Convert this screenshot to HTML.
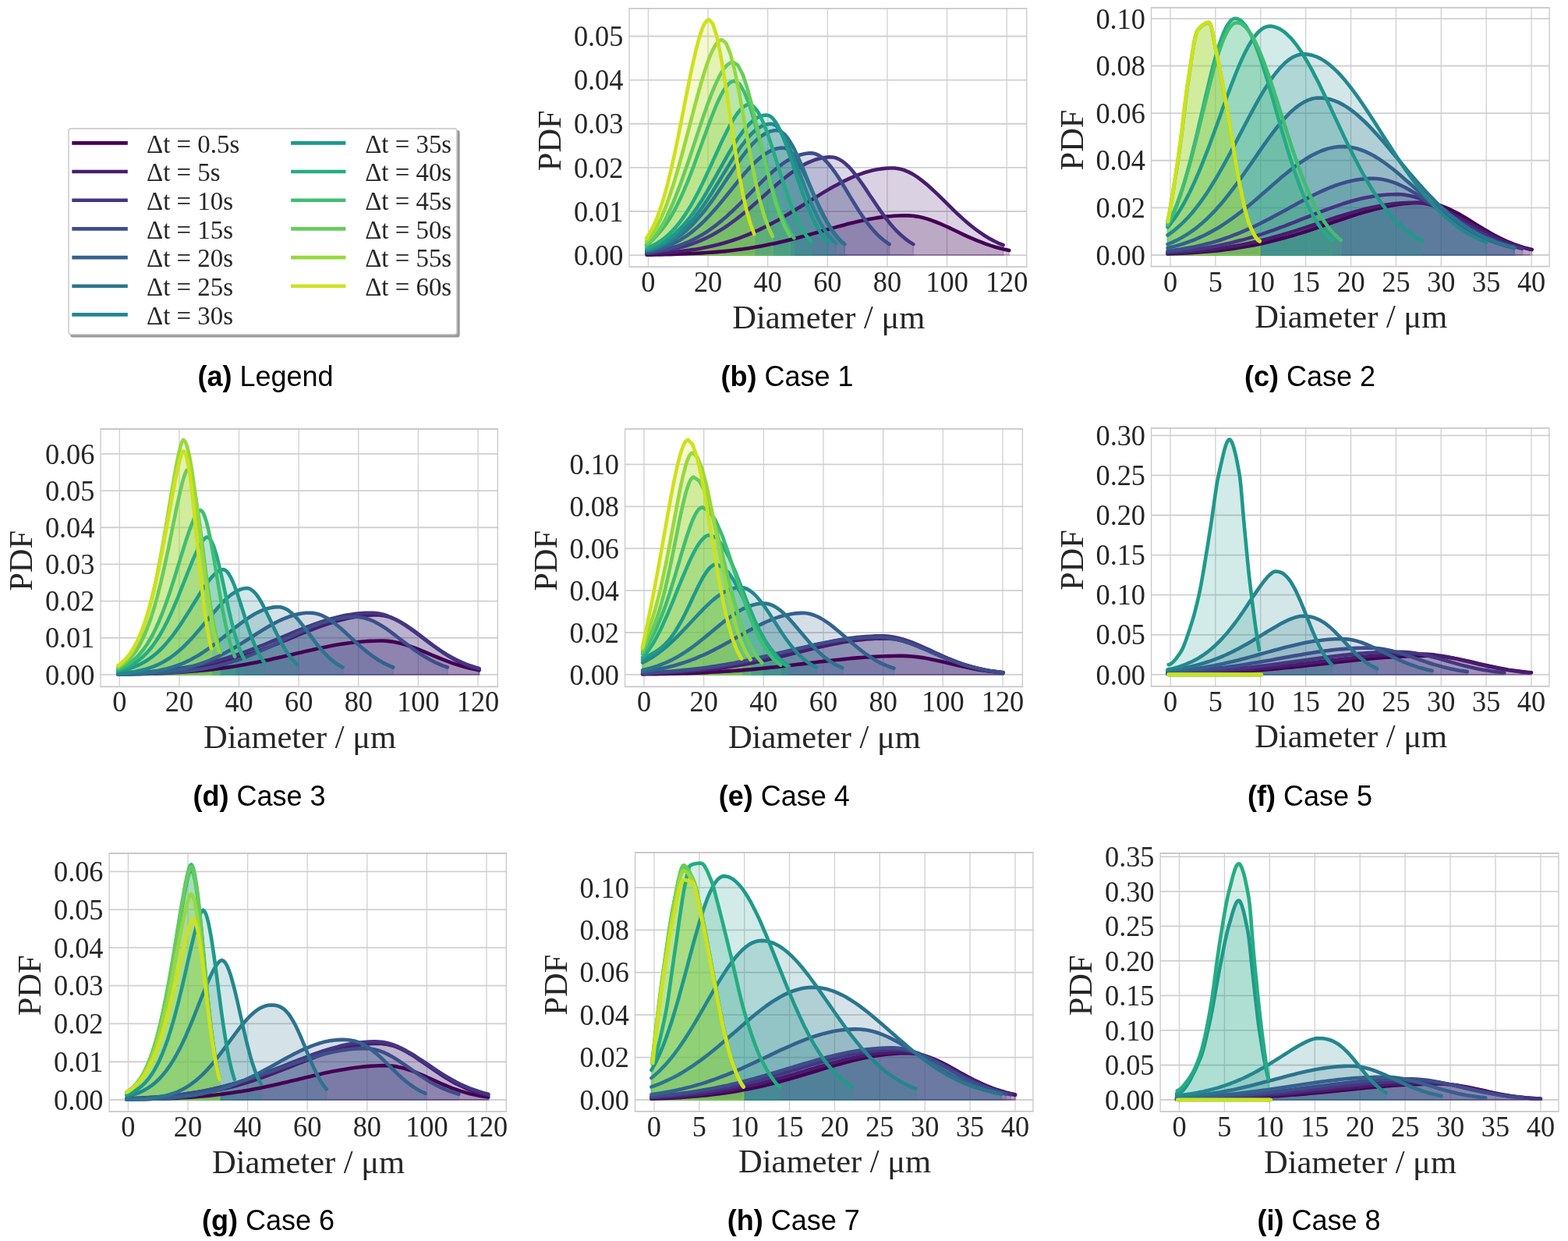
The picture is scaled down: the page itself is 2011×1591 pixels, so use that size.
<!DOCTYPE html><html><head><meta charset="utf-8"><style>html,body{margin:0;padding:0;background:#fff;}svg{display:block;}</style></head><body>
<svg xmlns="http://www.w3.org/2000/svg" width="2011" height="1591" viewBox="0 0 2011 1591">
<rect width="2011" height="1591" fill="#fff"/>
<g id="plot_b">
<clipPath id="clip_b"><rect x="807.0" y="10.9" width="509.70" height="331.30"/></clipPath>
<line x1="831.40" y1="10.9" x2="831.40" y2="342.2" stroke="#d0d0d0" stroke-width="1.3"/>
<line x1="908.03" y1="10.9" x2="908.03" y2="342.2" stroke="#d0d0d0" stroke-width="1.3"/>
<line x1="984.67" y1="10.9" x2="984.67" y2="342.2" stroke="#d0d0d0" stroke-width="1.3"/>
<line x1="1061.30" y1="10.9" x2="1061.30" y2="342.2" stroke="#d0d0d0" stroke-width="1.3"/>
<line x1="1137.93" y1="10.9" x2="1137.93" y2="342.2" stroke="#d0d0d0" stroke-width="1.3"/>
<line x1="1214.57" y1="10.9" x2="1214.57" y2="342.2" stroke="#d0d0d0" stroke-width="1.3"/>
<line x1="1291.20" y1="10.9" x2="1291.20" y2="342.2" stroke="#d0d0d0" stroke-width="1.3"/>
<line x1="807.0" y1="327.10" x2="1316.7" y2="327.10" stroke="#d0d0d0" stroke-width="1.8"/>
<line x1="807.0" y1="270.98" x2="1316.7" y2="270.98" stroke="#d0d0d0" stroke-width="1.8"/>
<line x1="807.0" y1="214.86" x2="1316.7" y2="214.86" stroke="#d0d0d0" stroke-width="1.8"/>
<line x1="807.0" y1="158.74" x2="1316.7" y2="158.74" stroke="#d0d0d0" stroke-width="1.8"/>
<line x1="807.0" y1="102.62" x2="1316.7" y2="102.62" stroke="#d0d0d0" stroke-width="1.8"/>
<line x1="807.0" y1="46.50" x2="1316.7" y2="46.50" stroke="#d0d0d0" stroke-width="1.8"/>
<g clip-path="url(#clip_b)">
<path d="M829.5,326.7 835.4,326.6 841.3,326.5 847.1,326.4 853.0,326.2 858.9,326.1 864.8,325.9 870.7,325.8 876.6,325.5 882.4,325.3 888.3,325.0 894.2,324.7 900.1,324.4 906.0,324.0 911.9,323.6 917.7,323.1 923.6,322.6 929.5,322.1 935.4,321.5 941.3,320.8 947.2,320.0 953.0,319.3 958.9,318.4 964.8,317.5 970.7,316.5 976.6,315.4 982.5,314.3 988.3,313.1 994.2,311.9 1000.1,310.6 1006.0,309.2 1011.9,307.7 1017.7,306.3 1023.6,304.7 1029.5,303.1 1035.4,301.5 1041.3,299.9 1047.2,298.2 1053.0,296.5 1058.9,294.9 1064.8,293.2 1070.7,291.6 1076.6,289.9 1082.5,288.4 1088.3,286.8 1094.2,285.4 1100.1,284.0 1106.0,282.7 1111.9,281.5 1117.8,280.4 1123.6,279.4 1129.5,278.6 1135.4,277.8 1141.3,277.2 1147.2,276.8 1153.1,276.5 1158.9,276.3 1164.8,276.4 1170.7,276.8 1176.6,277.6 1182.5,278.8 1188.4,280.4 1194.2,282.3 1200.1,284.5 1206.0,286.9 1211.9,289.5 1217.8,292.2 1223.7,295.0 1229.5,297.8 1235.4,300.6 1241.3,303.3 1247.2,305.9 1253.1,308.4 1259.0,310.7 1264.8,312.9 1270.7,314.9 1276.6,316.7 1282.5,318.3 1288.4,319.7 1294.3,320.9 1294.3,327.1 829.5,327.1Z" fill="#440154" fill-opacity="0.2" stroke="#440154" stroke-opacity="0.2" stroke-width="2"/>
<path d="M829.5,325.4 835.3,325.1 841.1,324.8 846.8,324.5 852.6,324.1 858.4,323.6 864.2,323.1 870.0,322.5 875.8,321.8 881.6,321.1 887.3,320.3 893.1,319.4 898.9,318.4 904.7,317.3 910.5,316.1 916.3,314.7 922.1,313.3 927.9,311.7 933.6,310.0 939.4,308.2 945.2,306.3 951.0,304.2 956.8,301.9 962.6,299.5 968.4,297.0 974.1,294.3 979.9,291.5 985.7,288.6 991.5,285.6 997.3,282.4 1003.1,279.1 1008.9,275.8 1014.6,272.3 1020.4,268.8 1026.2,265.3 1032.0,261.7 1037.8,258.1 1043.6,254.5 1049.4,250.9 1055.1,247.4 1060.9,243.9 1066.7,240.6 1072.5,237.4 1078.3,234.3 1084.1,231.4 1089.9,228.6 1095.7,226.1 1101.4,223.8 1107.2,221.8 1113.0,220.0 1118.8,218.5 1124.6,217.3 1130.4,216.4 1136.2,215.7 1141.9,215.5 1147.7,215.5 1153.5,216.4 1159.3,218.0 1165.1,220.4 1170.9,223.4 1176.7,227.1 1182.4,231.4 1188.2,236.1 1194.0,241.2 1199.8,246.6 1205.6,252.2 1211.4,257.9 1217.2,263.6 1223.0,269.3 1228.7,274.8 1234.5,280.1 1240.3,285.2 1246.1,290.0 1251.9,294.5 1257.7,298.7 1263.5,302.5 1269.2,305.9 1275.0,309.0 1280.8,311.8 1286.6,314.2 1286.6,327.1 829.5,327.1Z" fill="#481c6e" fill-opacity="0.2" stroke="#481c6e" stroke-opacity="0.2" stroke-width="2"/>
<path d="M829.5,324.3 833.8,323.9 838.1,323.4 842.5,322.9 846.8,322.3 851.1,321.6 855.4,320.9 859.8,320.1 864.1,319.2 868.4,318.2 872.7,317.1 877.1,316.0 881.4,314.7 885.7,313.3 890.1,311.7 894.4,310.1 898.7,308.3 903.0,306.4 907.4,304.3 911.7,302.1 916.0,299.8 920.3,297.3 924.7,294.6 929.0,291.9 933.3,289.0 937.6,285.9 942.0,282.7 946.3,279.4 950.6,276.0 954.9,272.5 959.3,268.9 963.6,265.2 967.9,261.5 972.3,257.7 976.6,253.8 980.9,250.0 985.2,246.1 989.6,242.3 993.9,238.5 998.2,234.8 1002.5,231.2 1006.9,227.7 1011.2,224.3 1015.5,221.1 1019.8,218.1 1024.2,215.2 1028.5,212.6 1032.8,210.2 1037.2,208.1 1041.5,206.3 1045.8,204.7 1050.1,203.4 1054.5,202.4 1058.8,201.8 1063.1,201.4 1067.4,201.5 1071.8,202.3 1076.1,204.1 1080.4,206.7 1084.7,210.2 1089.1,214.3 1093.4,219.2 1097.7,224.5 1102.0,230.3 1106.4,236.5 1110.7,242.9 1115.0,249.4 1119.4,255.9 1123.7,262.3 1128.0,268.6 1132.3,274.7 1136.7,280.5 1141.0,285.9 1145.3,291.0 1149.6,295.7 1154.0,300.0 1158.3,303.8 1162.6,307.3 1166.9,310.4 1171.3,313.1 1171.3,327.1 829.5,327.1Z" fill="#453581" fill-opacity="0.2" stroke="#453581" stroke-opacity="0.2" stroke-width="2"/>
<path d="M829.5,323.7 833.4,323.2 837.4,322.7 841.3,322.1 845.2,321.4 849.2,320.6 853.1,319.8 857.1,318.9 861.0,317.8 864.9,316.7 868.9,315.5 872.8,314.1 876.7,312.6 880.7,311.0 884.6,309.3 888.6,307.4 892.5,305.4 896.4,303.3 900.4,301.0 904.3,298.6 908.3,296.0 912.2,293.2 916.1,290.3 920.1,287.3 924.0,284.1 927.9,280.8 931.9,277.4 935.8,273.8 939.8,270.2 943.7,266.4 947.6,262.6 951.6,258.7 955.5,254.7 959.5,250.7 963.4,246.7 967.3,242.7 971.3,238.7 975.2,234.8 979.1,230.9 983.1,227.2 987.0,223.5 991.0,220.0 994.9,216.7 998.8,213.6 1002.8,210.6 1006.7,207.9 1010.6,205.4 1014.6,203.2 1018.5,201.3 1022.5,199.7 1026.4,198.4 1030.3,197.4 1034.3,196.7 1038.2,196.4 1042.2,196.4 1046.1,197.3 1050.0,199.1 1054.0,201.7 1057.9,205.1 1061.8,209.2 1065.8,214.0 1069.7,219.3 1073.7,225.0 1077.6,231.1 1081.5,237.5 1085.5,244.0 1089.4,250.6 1093.4,257.1 1097.3,263.5 1101.2,269.8 1105.2,275.7 1109.1,281.4 1113.0,286.7 1117.0,291.6 1120.9,296.2 1124.9,300.3 1128.8,304.1 1132.7,307.5 1136.7,310.4 1140.6,313.1 1140.6,327.1 829.5,327.1Z" fill="#3d4d8a" fill-opacity="0.2" stroke="#3d4d8a" stroke-opacity="0.2" stroke-width="2"/>
<path d="M829.5,322.6 832.7,322.0 835.9,321.4 839.1,320.6 842.3,319.8 845.5,318.9 848.7,317.9 852.0,316.9 855.2,315.7 858.4,314.4 861.6,313.0 864.8,311.5 868.0,309.9 871.2,308.2 874.4,306.3 877.6,304.3 880.9,302.1 884.1,299.8 887.3,297.4 890.5,294.8 893.7,292.1 896.9,289.3 900.1,286.3 903.3,283.2 906.5,279.9 909.8,276.5 913.0,273.0 916.2,269.4 919.4,265.7 922.6,261.9 925.8,258.1 929.0,254.1 932.2,250.2 935.4,246.2 938.7,242.2 941.9,238.2 945.1,234.2 948.3,230.3 951.5,226.4 954.7,222.6 957.9,219.0 961.1,215.4 964.3,212.0 967.6,208.8 970.8,205.8 974.0,203.0 977.2,200.4 980.4,198.1 983.6,196.0 986.8,194.2 990.0,192.7 993.2,191.4 996.4,190.5 999.7,189.9 1002.9,189.6 1006.1,189.8 1009.3,190.9 1012.5,193.0 1015.7,196.1 1018.9,200.1 1022.1,204.9 1025.3,210.4 1028.6,216.4 1031.8,223.0 1035.0,229.9 1038.2,237.0 1041.4,244.3 1044.6,251.5 1047.8,258.6 1051.0,265.5 1054.2,272.1 1057.5,278.4 1060.7,284.3 1063.9,289.8 1067.1,294.8 1070.3,299.3 1073.5,303.4 1076.7,307.1 1079.9,310.3 1083.1,313.1 1083.1,327.1 829.5,327.1Z" fill="#34618d" fill-opacity="0.2" stroke="#34618d" stroke-opacity="0.2" stroke-width="2"/>
<path d="M829.5,321.5 832.7,320.7 835.9,319.9 839.1,318.9 842.3,317.9 845.5,316.7 848.7,315.5 852.0,314.1 855.2,312.5 858.4,310.9 861.6,309.1 864.8,307.1 868.0,305.0 871.2,302.7 874.4,300.3 877.6,297.7 880.9,294.9 884.1,291.9 887.3,288.8 890.5,285.5 893.7,282.0 896.9,278.3 900.1,274.5 903.3,270.5 906.5,266.4 909.8,262.1 913.0,257.7 916.2,253.2 919.4,248.5 922.6,243.8 925.8,239.0 929.0,234.2 932.2,229.4 935.4,224.6 938.7,219.8 941.9,215.0 945.1,210.3 948.3,205.8 951.5,201.4 954.7,197.1 957.9,193.0 961.1,189.2 964.3,185.5 967.6,182.2 970.8,179.1 974.0,176.4 977.2,174.0 980.4,171.9 983.6,170.2 986.8,168.8 990.0,167.9 993.2,167.3 996.4,167.2 999.7,167.8 1002.9,169.5 1006.1,172.1 1009.3,175.8 1012.5,180.3 1015.7,185.7 1018.9,191.7 1022.1,198.4 1025.3,205.5 1028.6,213.0 1031.8,220.7 1035.0,228.6 1038.2,236.5 1041.4,244.3 1044.6,251.9 1047.8,259.3 1051.0,266.4 1054.2,273.1 1057.5,279.3 1060.7,285.2 1063.9,290.5 1067.1,295.4 1070.3,299.8 1073.5,303.8 1076.7,307.3 1079.9,310.4 1083.1,313.1 1083.1,327.1 829.5,327.1Z" fill="#2b748e" fill-opacity="0.2" stroke="#2b748e" stroke-opacity="0.2" stroke-width="2"/>
<path d="M829.5,320.9 832.6,320.1 835.6,319.2 838.7,318.1 841.8,317.0 844.8,315.8 847.9,314.4 851.0,312.9 854.0,311.3 857.1,309.5 860.2,307.5 863.3,305.4 866.3,303.2 869.4,300.7 872.5,298.1 875.5,295.4 878.6,292.4 881.7,289.2 884.7,285.9 887.8,282.4 890.9,278.7 894.0,274.8 897.0,270.7 900.1,266.5 903.2,262.1 906.2,257.6 909.3,252.9 912.4,248.2 915.4,243.3 918.5,238.3 921.6,233.3 924.7,228.3 927.7,223.2 930.8,218.2 933.9,213.1 936.9,208.2 940.0,203.3 943.1,198.5 946.2,193.9 949.2,189.5 952.3,185.3 955.4,181.3 958.4,177.5 961.5,174.0 964.6,170.9 967.6,168.0 970.7,165.6 973.8,163.4 976.9,161.7 979.9,160.4 983.0,159.4 986.1,158.9 989.1,158.8 992.2,159.5 995.3,161.4 998.3,164.3 1001.4,168.2 1004.5,173.0 1007.6,178.6 1010.6,184.9 1013.7,191.9 1016.8,199.3 1019.8,207.1 1022.9,215.2 1026.0,223.4 1029.0,231.6 1032.1,239.8 1035.2,247.8 1038.3,255.5 1041.3,262.8 1044.4,269.8 1047.5,276.4 1050.5,282.5 1053.6,288.1 1056.7,293.3 1059.7,297.9 1062.8,302.1 1065.9,305.8 1069.0,309.1 1072.0,311.9 1072.0,327.1 829.5,327.1Z" fill="#24878e" fill-opacity="0.2" stroke="#24878e" stroke-opacity="0.2" stroke-width="2"/>
<path d="M829.5,319.8 832.4,318.9 835.4,317.8 838.3,316.7 841.3,315.4 844.2,314.0 847.2,312.5 850.1,310.8 853.1,309.0 856.0,307.0 859.0,304.9 861.9,302.6 864.9,300.2 867.8,297.5 870.8,294.7 873.7,291.7 876.7,288.5 879.6,285.1 882.6,281.6 885.5,277.8 888.5,273.9 891.4,269.8 894.4,265.5 897.3,261.0 900.3,256.4 903.2,251.6 906.2,246.7 909.1,241.7 912.1,236.6 915.0,231.4 918.0,226.2 920.9,220.9 923.8,215.6 926.8,210.4 929.7,205.1 932.7,199.9 935.6,194.9 938.6,189.9 941.5,185.1 944.5,180.5 947.4,176.0 950.4,171.8 953.3,167.9 956.3,164.2 959.2,160.9 962.2,157.9 965.1,155.2 968.1,153.0 971.0,151.0 974.0,149.5 976.9,148.5 979.9,147.8 982.8,147.5 985.8,148.0 988.7,149.6 991.7,152.4 994.6,156.3 997.6,161.3 1000.5,167.1 1003.5,173.7 1006.4,181.1 1009.4,189.0 1012.3,197.4 1015.3,206.0 1018.2,214.8 1021.2,223.7 1024.1,232.5 1027.1,241.1 1030.0,249.5 1033.0,257.5 1035.9,265.1 1038.9,272.2 1041.8,278.8 1044.8,284.9 1047.7,290.5 1050.7,295.6 1053.6,300.1 1056.6,304.1 1059.5,307.7 1062.4,310.8 1062.4,327.1 829.5,327.1Z" fill="#1f998a" fill-opacity="0.2" stroke="#1f998a" stroke-opacity="0.2" stroke-width="2"/>
<path d="M829.5,318.1 832.1,317.1 834.8,315.9 837.5,314.6 840.1,313.2 842.8,311.7 845.5,310.1 848.1,308.3 850.8,306.3 853.4,304.2 856.1,302.0 858.8,299.5 861.4,296.9 864.1,294.1 866.8,291.1 869.4,287.9 872.1,284.5 874.8,280.9 877.4,277.1 880.1,273.1 882.7,268.9 885.4,264.6 888.1,260.0 890.7,255.2 893.4,250.2 896.1,245.1 898.7,239.8 901.4,234.3 904.0,228.8 906.7,223.1 909.4,217.3 912.0,211.5 914.7,205.6 917.4,199.7 920.0,193.9 922.7,188.0 925.3,182.3 928.0,176.7 930.7,171.3 933.3,166.0 936.0,161.0 938.7,156.3 941.3,151.9 944.0,147.8 946.6,144.2 949.3,141.0 952.0,138.4 954.6,136.3 957.3,134.8 960.0,134.1 962.6,134.4 965.3,135.7 967.9,138.0 970.6,141.3 973.3,145.5 975.9,150.6 978.6,156.4 981.3,163.0 983.9,170.1 986.6,177.7 989.3,185.7 991.9,194.0 994.6,202.5 997.2,211.0 999.9,219.6 1002.6,228.0 1005.2,236.3 1007.9,244.3 1010.6,252.0 1013.2,259.4 1015.9,266.4 1018.5,272.9 1021.2,279.0 1023.9,284.6 1026.5,289.8 1029.2,294.5 1031.9,298.8 1034.5,302.7 1037.2,306.1 1039.8,309.1 1039.8,327.1 829.5,327.1Z" fill="#25ac82" fill-opacity="0.2" stroke="#25ac82" stroke-opacity="0.2" stroke-width="2"/>
<path d="M829.1,315.0 832.0,312.2 834.9,309.4 837.8,306.6 840.7,303.6 843.5,300.5 846.4,297.2 849.3,293.7 852.2,289.9 855.1,285.8 858.0,281.5 860.9,276.8 863.8,271.8 866.7,266.4 869.5,260.7 872.4,254.7 875.3,248.4 878.2,241.7 881.1,234.8 884.0,227.6 886.9,220.2 889.8,212.6 892.6,204.7 895.5,196.8 898.4,188.8 901.3,180.7 904.2,172.7 907.1,164.7 910.0,156.9 912.9,149.3 915.8,142.0 918.6,135.1 921.5,128.6 924.4,122.7 927.3,117.3 930.2,112.7 933.1,109.0 936.0,106.1 938.9,104.4 941.8,103.7 948.1,107.3 954.5,117.7 960.9,133.9 967.3,154.6 973.7,177.9 980.1,202.1 986.5,225.8 992.8,247.6 999.2,266.6 1005.6,282.6 1012.0,295.4 1018.4,305.2 1018.4,327.1 829.1,327.1Z" fill="#40bd72" fill-opacity="0.2" stroke="#40bd72" stroke-opacity="0.2" stroke-width="2"/>
<path d="M829.1,313.0 832.0,310.9 834.8,308.4 837.6,305.4 840.5,302.0 843.3,298.2 846.2,293.9 849.0,289.3 851.9,284.2 854.7,278.7 857.6,272.8 860.4,266.5 863.3,259.9 866.1,253.0 869.0,245.7 871.8,238.2 874.7,230.4 877.5,222.3 880.4,214.1 883.2,205.7 886.1,197.2 888.9,188.6 891.8,180.0 894.6,171.4 897.5,162.8 900.3,154.3 903.2,146.0 906.0,137.9 908.9,130.1 911.7,122.5 914.6,115.4 917.4,108.7 920.3,102.5 923.1,96.9 926.0,91.9 928.8,87.7 931.7,84.3 934.5,81.7 937.4,80.2 940.2,79.6 946.3,83.5 952.4,95.0 958.4,112.8 964.5,135.5 970.6,161.2 976.6,188.0 982.7,214.1 988.8,238.2 994.8,259.4 1000.9,277.2 1007.0,291.4 1013.0,302.4 1013.0,327.1 829.1,327.1Z" fill="#67cc5c" fill-opacity="0.2" stroke="#67cc5c" stroke-opacity="0.2" stroke-width="2"/>
<path d="M829.1,309.5 831.6,306.9 834.1,303.9 836.6,300.5 839.0,296.6 841.5,292.4 844.0,287.7 846.5,282.6 849.0,277.1 851.5,271.1 854.0,264.7 856.4,258.0 858.9,250.8 861.4,243.3 863.9,235.5 866.4,227.3 868.9,218.8 871.4,210.0 873.8,201.1 876.3,191.9 878.8,182.5 881.3,173.1 883.8,163.6 886.3,154.0 888.8,144.5 891.2,135.1 893.7,125.9 896.2,116.8 898.7,108.0 901.2,99.6 903.7,91.5 906.2,84.0 908.6,77.0 911.1,70.7 913.6,65.1 916.1,60.2 918.6,56.3 921.1,53.4 923.6,51.6 926.0,51.0 931.4,55.6 936.8,69.1 942.2,90.0 947.6,116.5 953.0,146.3 958.4,177.0 963.8,206.6 969.2,233.6 974.6,257.0 980.0,276.3 985.4,291.5 990.8,303.0 990.8,327.1 829.1,327.1Z" fill="#98d83e" fill-opacity="0.2" stroke="#98d83e" stroke-opacity="0.2" stroke-width="2"/>
<path d="M828.9,305.6 831.0,302.5 833.0,299.1 835.1,295.5 837.1,291.5 839.2,287.2 841.3,282.5 843.3,277.4 845.4,271.8 847.4,265.8 849.5,259.4 851.6,252.6 853.6,245.3 855.7,237.6 857.7,229.5 859.8,221.0 861.8,212.2 863.9,202.9 866.0,193.4 868.0,183.6 870.1,173.6 872.1,163.3 874.2,153.0 876.3,142.5 878.3,132.0 880.4,121.5 882.4,111.2 884.5,101.0 886.5,91.1 888.6,81.5 890.7,72.3 892.7,63.6 894.8,55.6 896.8,48.2 898.9,41.7 900.9,36.1 903.0,31.5 905.1,28.1 907.1,25.9 909.2,25.2 914.0,30.2 918.9,44.8 923.7,67.5 928.6,96.3 933.5,128.6 938.3,162.1 943.2,194.4 948.0,224.0 952.9,249.6 957.7,270.7 962.6,287.5 967.4,300.2 967.4,327.1 828.9,327.1Z" fill="#cde11d" fill-opacity="0.2" stroke="#cde11d" stroke-opacity="0.2" stroke-width="2"/>
<path d="M829.5,326.7 835.4,326.6 841.3,326.5 847.1,326.4 853.0,326.2 858.9,326.1 864.8,325.9 870.7,325.8 876.6,325.5 882.4,325.3 888.3,325.0 894.2,324.7 900.1,324.4 906.0,324.0 911.9,323.6 917.7,323.1 923.6,322.6 929.5,322.1 935.4,321.5 941.3,320.8 947.2,320.0 953.0,319.3 958.9,318.4 964.8,317.5 970.7,316.5 976.6,315.4 982.5,314.3 988.3,313.1 994.2,311.9 1000.1,310.6 1006.0,309.2 1011.9,307.7 1017.7,306.3 1023.6,304.7 1029.5,303.1 1035.4,301.5 1041.3,299.9 1047.2,298.2 1053.0,296.5 1058.9,294.9 1064.8,293.2 1070.7,291.6 1076.6,289.9 1082.5,288.4 1088.3,286.8 1094.2,285.4 1100.1,284.0 1106.0,282.7 1111.9,281.5 1117.8,280.4 1123.6,279.4 1129.5,278.6 1135.4,277.8 1141.3,277.2 1147.2,276.8 1153.1,276.5 1158.9,276.3 1164.8,276.4 1170.7,276.8 1176.6,277.6 1182.5,278.8 1188.4,280.4 1194.2,282.3 1200.1,284.5 1206.0,286.9 1211.9,289.5 1217.8,292.2 1223.7,295.0 1229.5,297.8 1235.4,300.6 1241.3,303.3 1247.2,305.9 1253.1,308.4 1259.0,310.7 1264.8,312.9 1270.7,314.9 1276.6,316.7 1282.5,318.3 1288.4,319.7 1294.3,320.9" fill="none" stroke="#440154" stroke-width="4.6" stroke-linejoin="round" stroke-linecap="round"/>
<path d="M829.5,325.4 835.3,325.1 841.1,324.8 846.8,324.5 852.6,324.1 858.4,323.6 864.2,323.1 870.0,322.5 875.8,321.8 881.6,321.1 887.3,320.3 893.1,319.4 898.9,318.4 904.7,317.3 910.5,316.1 916.3,314.7 922.1,313.3 927.9,311.7 933.6,310.0 939.4,308.2 945.2,306.3 951.0,304.2 956.8,301.9 962.6,299.5 968.4,297.0 974.1,294.3 979.9,291.5 985.7,288.6 991.5,285.6 997.3,282.4 1003.1,279.1 1008.9,275.8 1014.6,272.3 1020.4,268.8 1026.2,265.3 1032.0,261.7 1037.8,258.1 1043.6,254.5 1049.4,250.9 1055.1,247.4 1060.9,243.9 1066.7,240.6 1072.5,237.4 1078.3,234.3 1084.1,231.4 1089.9,228.6 1095.7,226.1 1101.4,223.8 1107.2,221.8 1113.0,220.0 1118.8,218.5 1124.6,217.3 1130.4,216.4 1136.2,215.7 1141.9,215.5 1147.7,215.5 1153.5,216.4 1159.3,218.0 1165.1,220.4 1170.9,223.4 1176.7,227.1 1182.4,231.4 1188.2,236.1 1194.0,241.2 1199.8,246.6 1205.6,252.2 1211.4,257.9 1217.2,263.6 1223.0,269.3 1228.7,274.8 1234.5,280.1 1240.3,285.2 1246.1,290.0 1251.9,294.5 1257.7,298.7 1263.5,302.5 1269.2,305.9 1275.0,309.0 1280.8,311.8 1286.6,314.2" fill="none" stroke="#481c6e" stroke-width="4.6" stroke-linejoin="round" stroke-linecap="round"/>
<path d="M829.5,324.3 833.8,323.9 838.1,323.4 842.5,322.9 846.8,322.3 851.1,321.6 855.4,320.9 859.8,320.1 864.1,319.2 868.4,318.2 872.7,317.1 877.1,316.0 881.4,314.7 885.7,313.3 890.1,311.7 894.4,310.1 898.7,308.3 903.0,306.4 907.4,304.3 911.7,302.1 916.0,299.8 920.3,297.3 924.7,294.6 929.0,291.9 933.3,289.0 937.6,285.9 942.0,282.7 946.3,279.4 950.6,276.0 954.9,272.5 959.3,268.9 963.6,265.2 967.9,261.5 972.3,257.7 976.6,253.8 980.9,250.0 985.2,246.1 989.6,242.3 993.9,238.5 998.2,234.8 1002.5,231.2 1006.9,227.7 1011.2,224.3 1015.5,221.1 1019.8,218.1 1024.2,215.2 1028.5,212.6 1032.8,210.2 1037.2,208.1 1041.5,206.3 1045.8,204.7 1050.1,203.4 1054.5,202.4 1058.8,201.8 1063.1,201.4 1067.4,201.5 1071.8,202.3 1076.1,204.1 1080.4,206.7 1084.7,210.2 1089.1,214.3 1093.4,219.2 1097.7,224.5 1102.0,230.3 1106.4,236.5 1110.7,242.9 1115.0,249.4 1119.4,255.9 1123.7,262.3 1128.0,268.6 1132.3,274.7 1136.7,280.5 1141.0,285.9 1145.3,291.0 1149.6,295.7 1154.0,300.0 1158.3,303.8 1162.6,307.3 1166.9,310.4 1171.3,313.1" fill="none" stroke="#453581" stroke-width="4.6" stroke-linejoin="round" stroke-linecap="round"/>
<path d="M829.5,323.7 833.4,323.2 837.4,322.7 841.3,322.1 845.2,321.4 849.2,320.6 853.1,319.8 857.1,318.9 861.0,317.8 864.9,316.7 868.9,315.5 872.8,314.1 876.7,312.6 880.7,311.0 884.6,309.3 888.6,307.4 892.5,305.4 896.4,303.3 900.4,301.0 904.3,298.6 908.3,296.0 912.2,293.2 916.1,290.3 920.1,287.3 924.0,284.1 927.9,280.8 931.9,277.4 935.8,273.8 939.8,270.2 943.7,266.4 947.6,262.6 951.6,258.7 955.5,254.7 959.5,250.7 963.4,246.7 967.3,242.7 971.3,238.7 975.2,234.8 979.1,230.9 983.1,227.2 987.0,223.5 991.0,220.0 994.9,216.7 998.8,213.6 1002.8,210.6 1006.7,207.9 1010.6,205.4 1014.6,203.2 1018.5,201.3 1022.5,199.7 1026.4,198.4 1030.3,197.4 1034.3,196.7 1038.2,196.4 1042.2,196.4 1046.1,197.3 1050.0,199.1 1054.0,201.7 1057.9,205.1 1061.8,209.2 1065.8,214.0 1069.7,219.3 1073.7,225.0 1077.6,231.1 1081.5,237.5 1085.5,244.0 1089.4,250.6 1093.4,257.1 1097.3,263.5 1101.2,269.8 1105.2,275.7 1109.1,281.4 1113.0,286.7 1117.0,291.6 1120.9,296.2 1124.9,300.3 1128.8,304.1 1132.7,307.5 1136.7,310.4 1140.6,313.1" fill="none" stroke="#3d4d8a" stroke-width="4.6" stroke-linejoin="round" stroke-linecap="round"/>
<path d="M829.5,322.6 832.7,322.0 835.9,321.4 839.1,320.6 842.3,319.8 845.5,318.9 848.7,317.9 852.0,316.9 855.2,315.7 858.4,314.4 861.6,313.0 864.8,311.5 868.0,309.9 871.2,308.2 874.4,306.3 877.6,304.3 880.9,302.1 884.1,299.8 887.3,297.4 890.5,294.8 893.7,292.1 896.9,289.3 900.1,286.3 903.3,283.2 906.5,279.9 909.8,276.5 913.0,273.0 916.2,269.4 919.4,265.7 922.6,261.9 925.8,258.1 929.0,254.1 932.2,250.2 935.4,246.2 938.7,242.2 941.9,238.2 945.1,234.2 948.3,230.3 951.5,226.4 954.7,222.6 957.9,219.0 961.1,215.4 964.3,212.0 967.6,208.8 970.8,205.8 974.0,203.0 977.2,200.4 980.4,198.1 983.6,196.0 986.8,194.2 990.0,192.7 993.2,191.4 996.4,190.5 999.7,189.9 1002.9,189.6 1006.1,189.8 1009.3,190.9 1012.5,193.0 1015.7,196.1 1018.9,200.1 1022.1,204.9 1025.3,210.4 1028.6,216.4 1031.8,223.0 1035.0,229.9 1038.2,237.0 1041.4,244.3 1044.6,251.5 1047.8,258.6 1051.0,265.5 1054.2,272.1 1057.5,278.4 1060.7,284.3 1063.9,289.8 1067.1,294.8 1070.3,299.3 1073.5,303.4 1076.7,307.1 1079.9,310.3 1083.1,313.1" fill="none" stroke="#34618d" stroke-width="4.6" stroke-linejoin="round" stroke-linecap="round"/>
<path d="M829.5,321.5 832.7,320.7 835.9,319.9 839.1,318.9 842.3,317.9 845.5,316.7 848.7,315.5 852.0,314.1 855.2,312.5 858.4,310.9 861.6,309.1 864.8,307.1 868.0,305.0 871.2,302.7 874.4,300.3 877.6,297.7 880.9,294.9 884.1,291.9 887.3,288.8 890.5,285.5 893.7,282.0 896.9,278.3 900.1,274.5 903.3,270.5 906.5,266.4 909.8,262.1 913.0,257.7 916.2,253.2 919.4,248.5 922.6,243.8 925.8,239.0 929.0,234.2 932.2,229.4 935.4,224.6 938.7,219.8 941.9,215.0 945.1,210.3 948.3,205.8 951.5,201.4 954.7,197.1 957.9,193.0 961.1,189.2 964.3,185.5 967.6,182.2 970.8,179.1 974.0,176.4 977.2,174.0 980.4,171.9 983.6,170.2 986.8,168.8 990.0,167.9 993.2,167.3 996.4,167.2 999.7,167.8 1002.9,169.5 1006.1,172.1 1009.3,175.8 1012.5,180.3 1015.7,185.7 1018.9,191.7 1022.1,198.4 1025.3,205.5 1028.6,213.0 1031.8,220.7 1035.0,228.6 1038.2,236.5 1041.4,244.3 1044.6,251.9 1047.8,259.3 1051.0,266.4 1054.2,273.1 1057.5,279.3 1060.7,285.2 1063.9,290.5 1067.1,295.4 1070.3,299.8 1073.5,303.8 1076.7,307.3 1079.9,310.4 1083.1,313.1" fill="none" stroke="#2b748e" stroke-width="4.6" stroke-linejoin="round" stroke-linecap="round"/>
<path d="M829.5,320.9 832.6,320.1 835.6,319.2 838.7,318.1 841.8,317.0 844.8,315.8 847.9,314.4 851.0,312.9 854.0,311.3 857.1,309.5 860.2,307.5 863.3,305.4 866.3,303.2 869.4,300.7 872.5,298.1 875.5,295.4 878.6,292.4 881.7,289.2 884.7,285.9 887.8,282.4 890.9,278.7 894.0,274.8 897.0,270.7 900.1,266.5 903.2,262.1 906.2,257.6 909.3,252.9 912.4,248.2 915.4,243.3 918.5,238.3 921.6,233.3 924.7,228.3 927.7,223.2 930.8,218.2 933.9,213.1 936.9,208.2 940.0,203.3 943.1,198.5 946.2,193.9 949.2,189.5 952.3,185.3 955.4,181.3 958.4,177.5 961.5,174.0 964.6,170.9 967.6,168.0 970.7,165.6 973.8,163.4 976.9,161.7 979.9,160.4 983.0,159.4 986.1,158.9 989.1,158.8 992.2,159.5 995.3,161.4 998.3,164.3 1001.4,168.2 1004.5,173.0 1007.6,178.6 1010.6,184.9 1013.7,191.9 1016.8,199.3 1019.8,207.1 1022.9,215.2 1026.0,223.4 1029.0,231.6 1032.1,239.8 1035.2,247.8 1038.3,255.5 1041.3,262.8 1044.4,269.8 1047.5,276.4 1050.5,282.5 1053.6,288.1 1056.7,293.3 1059.7,297.9 1062.8,302.1 1065.9,305.8 1069.0,309.1 1072.0,311.9" fill="none" stroke="#24878e" stroke-width="4.6" stroke-linejoin="round" stroke-linecap="round"/>
<path d="M829.5,319.8 832.4,318.9 835.4,317.8 838.3,316.7 841.3,315.4 844.2,314.0 847.2,312.5 850.1,310.8 853.1,309.0 856.0,307.0 859.0,304.9 861.9,302.6 864.9,300.2 867.8,297.5 870.8,294.7 873.7,291.7 876.7,288.5 879.6,285.1 882.6,281.6 885.5,277.8 888.5,273.9 891.4,269.8 894.4,265.5 897.3,261.0 900.3,256.4 903.2,251.6 906.2,246.7 909.1,241.7 912.1,236.6 915.0,231.4 918.0,226.2 920.9,220.9 923.8,215.6 926.8,210.4 929.7,205.1 932.7,199.9 935.6,194.9 938.6,189.9 941.5,185.1 944.5,180.5 947.4,176.0 950.4,171.8 953.3,167.9 956.3,164.2 959.2,160.9 962.2,157.9 965.1,155.2 968.1,153.0 971.0,151.0 974.0,149.5 976.9,148.5 979.9,147.8 982.8,147.5 985.8,148.0 988.7,149.6 991.7,152.4 994.6,156.3 997.6,161.3 1000.5,167.1 1003.5,173.7 1006.4,181.1 1009.4,189.0 1012.3,197.4 1015.3,206.0 1018.2,214.8 1021.2,223.7 1024.1,232.5 1027.1,241.1 1030.0,249.5 1033.0,257.5 1035.9,265.1 1038.9,272.2 1041.8,278.8 1044.8,284.9 1047.7,290.5 1050.7,295.6 1053.6,300.1 1056.6,304.1 1059.5,307.7 1062.4,310.8" fill="none" stroke="#1f998a" stroke-width="4.6" stroke-linejoin="round" stroke-linecap="round"/>
<path d="M829.5,318.1 832.1,317.1 834.8,315.9 837.5,314.6 840.1,313.2 842.8,311.7 845.5,310.1 848.1,308.3 850.8,306.3 853.4,304.2 856.1,302.0 858.8,299.5 861.4,296.9 864.1,294.1 866.8,291.1 869.4,287.9 872.1,284.5 874.8,280.9 877.4,277.1 880.1,273.1 882.7,268.9 885.4,264.6 888.1,260.0 890.7,255.2 893.4,250.2 896.1,245.1 898.7,239.8 901.4,234.3 904.0,228.8 906.7,223.1 909.4,217.3 912.0,211.5 914.7,205.6 917.4,199.7 920.0,193.9 922.7,188.0 925.3,182.3 928.0,176.7 930.7,171.3 933.3,166.0 936.0,161.0 938.7,156.3 941.3,151.9 944.0,147.8 946.6,144.2 949.3,141.0 952.0,138.4 954.6,136.3 957.3,134.8 960.0,134.1 962.6,134.4 965.3,135.7 967.9,138.0 970.6,141.3 973.3,145.5 975.9,150.6 978.6,156.4 981.3,163.0 983.9,170.1 986.6,177.7 989.3,185.7 991.9,194.0 994.6,202.5 997.2,211.0 999.9,219.6 1002.6,228.0 1005.2,236.3 1007.9,244.3 1010.6,252.0 1013.2,259.4 1015.9,266.4 1018.5,272.9 1021.2,279.0 1023.9,284.6 1026.5,289.8 1029.2,294.5 1031.9,298.8 1034.5,302.7 1037.2,306.1 1039.8,309.1" fill="none" stroke="#25ac82" stroke-width="4.6" stroke-linejoin="round" stroke-linecap="round"/>
<path d="M829.1,315.0 832.0,312.2 834.9,309.4 837.8,306.6 840.7,303.6 843.5,300.5 846.4,297.2 849.3,293.7 852.2,289.9 855.1,285.8 858.0,281.5 860.9,276.8 863.8,271.8 866.7,266.4 869.5,260.7 872.4,254.7 875.3,248.4 878.2,241.7 881.1,234.8 884.0,227.6 886.9,220.2 889.8,212.6 892.6,204.7 895.5,196.8 898.4,188.8 901.3,180.7 904.2,172.7 907.1,164.7 910.0,156.9 912.9,149.3 915.8,142.0 918.6,135.1 921.5,128.6 924.4,122.7 927.3,117.3 930.2,112.7 933.1,109.0 936.0,106.1 938.9,104.4 941.8,103.7 948.1,107.3 954.5,117.7 960.9,133.9 967.3,154.6 973.7,177.9 980.1,202.1 986.5,225.8 992.8,247.6 999.2,266.6 1005.6,282.6 1012.0,295.4 1018.4,305.2" fill="none" stroke="#40bd72" stroke-width="4.6" stroke-linejoin="round" stroke-linecap="round"/>
<path d="M829.1,313.0 832.0,310.9 834.8,308.4 837.6,305.4 840.5,302.0 843.3,298.2 846.2,293.9 849.0,289.3 851.9,284.2 854.7,278.7 857.6,272.8 860.4,266.5 863.3,259.9 866.1,253.0 869.0,245.7 871.8,238.2 874.7,230.4 877.5,222.3 880.4,214.1 883.2,205.7 886.1,197.2 888.9,188.6 891.8,180.0 894.6,171.4 897.5,162.8 900.3,154.3 903.2,146.0 906.0,137.9 908.9,130.1 911.7,122.5 914.6,115.4 917.4,108.7 920.3,102.5 923.1,96.9 926.0,91.9 928.8,87.7 931.7,84.3 934.5,81.7 937.4,80.2 940.2,79.6 946.3,83.5 952.4,95.0 958.4,112.8 964.5,135.5 970.6,161.2 976.6,188.0 982.7,214.1 988.8,238.2 994.8,259.4 1000.9,277.2 1007.0,291.4 1013.0,302.4" fill="none" stroke="#67cc5c" stroke-width="4.6" stroke-linejoin="round" stroke-linecap="round"/>
<path d="M829.1,309.5 831.6,306.9 834.1,303.9 836.6,300.5 839.0,296.6 841.5,292.4 844.0,287.7 846.5,282.6 849.0,277.1 851.5,271.1 854.0,264.7 856.4,258.0 858.9,250.8 861.4,243.3 863.9,235.5 866.4,227.3 868.9,218.8 871.4,210.0 873.8,201.1 876.3,191.9 878.8,182.5 881.3,173.1 883.8,163.6 886.3,154.0 888.8,144.5 891.2,135.1 893.7,125.9 896.2,116.8 898.7,108.0 901.2,99.6 903.7,91.5 906.2,84.0 908.6,77.0 911.1,70.7 913.6,65.1 916.1,60.2 918.6,56.3 921.1,53.4 923.6,51.6 926.0,51.0 931.4,55.6 936.8,69.1 942.2,90.0 947.6,116.5 953.0,146.3 958.4,177.0 963.8,206.6 969.2,233.6 974.6,257.0 980.0,276.3 985.4,291.5 990.8,303.0" fill="none" stroke="#98d83e" stroke-width="4.6" stroke-linejoin="round" stroke-linecap="round"/>
<path d="M828.9,305.6 831.0,302.5 833.0,299.1 835.1,295.5 837.1,291.5 839.2,287.2 841.3,282.5 843.3,277.4 845.4,271.8 847.4,265.8 849.5,259.4 851.6,252.6 853.6,245.3 855.7,237.6 857.7,229.5 859.8,221.0 861.8,212.2 863.9,202.9 866.0,193.4 868.0,183.6 870.1,173.6 872.1,163.3 874.2,153.0 876.3,142.5 878.3,132.0 880.4,121.5 882.4,111.2 884.5,101.0 886.5,91.1 888.6,81.5 890.7,72.3 892.7,63.6 894.8,55.6 896.8,48.2 898.9,41.7 900.9,36.1 903.0,31.5 905.1,28.1 907.1,25.9 909.2,25.2 914.0,30.2 918.9,44.8 923.7,67.5 928.6,96.3 933.5,128.6 938.3,162.1 943.2,194.4 948.0,224.0 952.9,249.6 957.7,270.7 962.6,287.5 967.4,300.2" fill="none" stroke="#cde11d" stroke-width="4.6" stroke-linejoin="round" stroke-linecap="round"/>
</g>
<path d="M807.0,10.9 H1316.7 M807.0,342.2 H1316.7" fill="none" stroke="#c8c8c8" stroke-width="1.8"/>
<path d="M807.0,10.0 V343.09999999999997 M1316.7,10.0 V343.09999999999997" fill="none" stroke="#c8c8c8" stroke-width="1.3"/>
<text transform="translate(831.40,374.00) scale(1,1.06)" font-family="'Liberation Serif', 'Times New Roman', serif" font-size="36.3" text-anchor="middle" fill="#262626">0</text>
<text transform="translate(908.03,374.00) scale(1,1.06)" font-family="'Liberation Serif', 'Times New Roman', serif" font-size="36.3" text-anchor="middle" fill="#262626">20</text>
<text transform="translate(984.67,374.00) scale(1,1.06)" font-family="'Liberation Serif', 'Times New Roman', serif" font-size="36.3" text-anchor="middle" fill="#262626">40</text>
<text transform="translate(1061.30,374.00) scale(1,1.06)" font-family="'Liberation Serif', 'Times New Roman', serif" font-size="36.3" text-anchor="middle" fill="#262626">60</text>
<text transform="translate(1137.93,374.00) scale(1,1.06)" font-family="'Liberation Serif', 'Times New Roman', serif" font-size="36.3" text-anchor="middle" fill="#262626">80</text>
<text transform="translate(1214.57,374.00) scale(1,1.06)" font-family="'Liberation Serif', 'Times New Roman', serif" font-size="36.3" text-anchor="middle" fill="#262626">100</text>
<text transform="translate(1291.20,374.00) scale(1,1.06)" font-family="'Liberation Serif', 'Times New Roman', serif" font-size="36.3" text-anchor="middle" fill="#262626">120</text>
<text transform="translate(799.40,339.79) scale(1,1.06)" font-family="'Liberation Serif', 'Times New Roman', serif" font-size="36.3" text-anchor="end" fill="#262626">0.00</text>
<text transform="translate(799.40,283.67) scale(1,1.06)" font-family="'Liberation Serif', 'Times New Roman', serif" font-size="36.3" text-anchor="end" fill="#262626">0.01</text>
<text transform="translate(799.40,227.55) scale(1,1.06)" font-family="'Liberation Serif', 'Times New Roman', serif" font-size="36.3" text-anchor="end" fill="#262626">0.02</text>
<text transform="translate(799.40,171.43) scale(1,1.06)" font-family="'Liberation Serif', 'Times New Roman', serif" font-size="36.3" text-anchor="end" fill="#262626">0.03</text>
<text transform="translate(799.40,115.31) scale(1,1.06)" font-family="'Liberation Serif', 'Times New Roman', serif" font-size="36.3" text-anchor="end" fill="#262626">0.04</text>
<text transform="translate(799.40,59.19) scale(1,1.06)" font-family="'Liberation Serif', 'Times New Roman', serif" font-size="36.3" text-anchor="end" fill="#262626">0.05</text>
<text x="1062.75" y="420.50" font-family="'Liberation Serif', 'Times New Roman', serif" font-size="42.5" text-anchor="middle" fill="#262626">Diameter / μm</text>
<text transform="translate(719.20,180.25) rotate(-90)" x="0" y="0" font-family="'Liberation Serif', 'Times New Roman', serif" font-size="42.5" text-anchor="middle" fill="#262626">PDF</text>
</g>
<g id="plot_c">
<clipPath id="clip_c"><rect x="1476.5" y="9.9" width="510.60" height="331.80"/></clipPath>
<line x1="1501.00" y1="9.9" x2="1501.00" y2="341.7" stroke="#d0d0d0" stroke-width="1.3"/>
<line x1="1558.89" y1="9.9" x2="1558.89" y2="341.7" stroke="#d0d0d0" stroke-width="1.3"/>
<line x1="1616.78" y1="9.9" x2="1616.78" y2="341.7" stroke="#d0d0d0" stroke-width="1.3"/>
<line x1="1674.66" y1="9.9" x2="1674.66" y2="341.7" stroke="#d0d0d0" stroke-width="1.3"/>
<line x1="1732.55" y1="9.9" x2="1732.55" y2="341.7" stroke="#d0d0d0" stroke-width="1.3"/>
<line x1="1790.44" y1="9.9" x2="1790.44" y2="341.7" stroke="#d0d0d0" stroke-width="1.3"/>
<line x1="1848.32" y1="9.9" x2="1848.32" y2="341.7" stroke="#d0d0d0" stroke-width="1.3"/>
<line x1="1906.21" y1="9.9" x2="1906.21" y2="341.7" stroke="#d0d0d0" stroke-width="1.3"/>
<line x1="1964.10" y1="9.9" x2="1964.10" y2="341.7" stroke="#d0d0d0" stroke-width="1.3"/>
<line x1="1476.5" y1="327.00" x2="1987.1" y2="327.00" stroke="#d0d0d0" stroke-width="1.8"/>
<line x1="1476.5" y1="266.38" x2="1987.1" y2="266.38" stroke="#d0d0d0" stroke-width="1.8"/>
<line x1="1476.5" y1="205.76" x2="1987.1" y2="205.76" stroke="#d0d0d0" stroke-width="1.8"/>
<line x1="1476.5" y1="145.14" x2="1987.1" y2="145.14" stroke="#d0d0d0" stroke-width="1.8"/>
<line x1="1476.5" y1="84.52" x2="1987.1" y2="84.52" stroke="#d0d0d0" stroke-width="1.8"/>
<line x1="1476.5" y1="23.90" x2="1987.1" y2="23.90" stroke="#d0d0d0" stroke-width="1.8"/>
<g clip-path="url(#clip_c)">
<path d="M1497.5,325.5 1503.4,325.3 1509.4,325.0 1515.3,324.7 1521.2,324.4 1527.1,324.1 1533.0,323.7 1538.9,323.3 1544.8,322.8 1550.8,322.3 1556.7,321.7 1562.6,321.1 1568.5,320.4 1574.4,319.7 1580.3,318.9 1586.2,318.0 1592.2,317.1 1598.1,316.1 1604.0,315.1 1609.9,313.9 1615.8,312.7 1621.7,311.4 1627.7,310.0 1633.6,308.6 1639.5,307.1 1645.4,305.5 1651.3,303.9 1657.2,302.2 1663.1,300.4 1669.1,298.6 1675.0,296.7 1680.9,294.8 1686.8,292.8 1692.7,290.8 1698.6,288.8 1704.5,286.8 1710.5,284.7 1716.4,282.7 1722.3,280.7 1728.2,278.7 1734.1,276.8 1740.0,274.9 1745.9,273.1 1751.9,271.3 1757.8,269.7 1763.7,268.1 1769.6,266.7 1775.5,265.3 1781.4,264.1 1787.4,263.0 1793.3,262.1 1799.2,261.3 1805.1,260.7 1811.0,260.2 1816.9,259.9 1822.8,259.7 1828.8,259.8 1834.7,260.4 1840.6,261.5 1846.5,263.2 1852.4,265.3 1858.3,267.8 1864.2,270.7 1870.2,273.8 1876.1,277.2 1882.0,280.8 1887.9,284.4 1893.8,288.1 1899.7,291.8 1905.6,295.3 1911.6,298.8 1917.5,302.0 1923.4,305.1 1929.3,307.9 1935.2,310.5 1941.1,312.9 1947.1,315.0 1953.0,316.9 1958.9,318.6 1964.8,320.0 1964.8,327.0 1497.5,327.0Z" fill="#440154" fill-opacity="0.2" stroke="#440154" stroke-opacity="0.2" stroke-width="2"/>
<path d="M1497.5,324.6 1503.4,324.3 1509.3,323.9 1515.2,323.5 1521.0,323.1 1526.9,322.6 1532.8,322.1 1538.7,321.6 1544.5,320.9 1550.4,320.3 1556.3,319.6 1562.2,318.8 1568.0,317.9 1573.9,317.0 1579.8,316.1 1585.7,315.0 1591.6,313.9 1597.4,312.8 1603.3,311.5 1609.2,310.2 1615.1,308.9 1620.9,307.4 1626.8,305.9 1632.7,304.3 1638.6,302.7 1644.4,301.0 1650.3,299.3 1656.2,297.5 1662.1,295.6 1668.0,293.8 1673.8,291.9 1679.7,289.9 1685.6,288.0 1691.5,286.0 1697.3,284.1 1703.2,282.1 1709.1,280.2 1715.0,278.3 1720.8,276.5 1726.7,274.7 1732.6,272.9 1738.5,271.2 1744.3,269.6 1750.2,268.1 1756.1,266.7 1762.0,265.4 1767.9,264.2 1773.7,263.2 1779.6,262.2 1785.5,261.5 1791.4,260.8 1797.2,260.3 1803.1,260.0 1809.0,259.8 1814.9,259.7 1820.7,260.1 1826.6,260.8 1832.5,262.1 1838.4,263.7 1844.3,265.7 1850.1,268.1 1856.0,270.7 1861.9,273.6 1867.8,276.7 1873.6,280.0 1879.5,283.3 1885.4,286.7 1891.3,290.1 1897.1,293.4 1903.0,296.6 1908.9,299.7 1914.8,302.7 1920.6,305.5 1926.5,308.1 1932.4,310.5 1938.3,312.7 1944.2,314.6 1950.0,316.4 1955.9,318.0 1961.8,319.4 1961.8,327.0 1497.5,327.0Z" fill="#481c6e" fill-opacity="0.2" stroke="#481c6e" stroke-opacity="0.2" stroke-width="2"/>
<path d="M1497.5,323.4 1503.3,322.9 1509.0,322.4 1514.8,321.8 1520.6,321.2 1526.3,320.6 1532.1,319.8 1537.8,319.0 1543.6,318.2 1549.4,317.3 1555.1,316.3 1560.9,315.2 1566.6,314.0 1572.4,312.8 1578.2,311.5 1583.9,310.1 1589.7,308.6 1595.4,307.1 1601.2,305.4 1607.0,303.7 1612.7,301.9 1618.5,300.1 1624.2,298.1 1630.0,296.1 1635.8,294.1 1641.5,291.9 1647.3,289.8 1653.0,287.5 1658.8,285.3 1664.6,283.0 1670.3,280.7 1676.1,278.5 1681.8,276.2 1687.6,273.9 1693.3,271.7 1699.1,269.5 1704.9,267.3 1710.6,265.3 1716.4,263.3 1722.1,261.3 1727.9,259.5 1733.7,257.8 1739.4,256.3 1745.2,254.8 1750.9,253.5 1756.7,252.4 1762.5,251.4 1768.2,250.6 1774.0,250.0 1779.7,249.5 1785.5,249.2 1791.3,249.1 1797.0,249.3 1802.8,249.9 1808.5,251.0 1814.3,252.5 1820.1,254.4 1825.8,256.6 1831.6,259.2 1837.3,262.1 1843.1,265.2 1848.9,268.4 1854.6,271.9 1860.4,275.4 1866.1,279.0 1871.9,282.5 1877.6,286.1 1883.4,289.6 1889.2,293.0 1894.9,296.2 1900.7,299.3 1906.4,302.3 1912.2,305.0 1918.0,307.6 1923.7,309.9 1929.5,312.1 1935.2,314.1 1941.0,315.8 1946.8,317.4 1952.5,318.8 1952.5,327.0 1497.5,327.0Z" fill="#453581" fill-opacity="0.2" stroke="#453581" stroke-opacity="0.2" stroke-width="2"/>
<path d="M1497.5,321.8 1503.2,321.2 1508.8,320.4 1514.4,319.6 1520.0,318.6 1525.7,317.6 1531.3,316.5 1536.9,315.3 1542.5,314.0 1548.2,312.6 1553.8,311.1 1559.4,309.5 1565.1,307.7 1570.7,305.8 1576.3,303.9 1581.9,301.7 1587.6,299.5 1593.2,297.2 1598.8,294.7 1604.5,292.2 1610.1,289.5 1615.7,286.8 1621.3,283.9 1627.0,281.0 1632.6,278.1 1638.2,275.0 1643.8,272.0 1649.5,268.9 1655.1,265.8 1660.7,262.7 1666.4,259.6 1672.0,256.6 1677.6,253.7 1683.2,250.8 1688.9,248.0 1694.5,245.4 1700.1,242.9 1705.7,240.5 1711.4,238.3 1717.0,236.4 1722.6,234.6 1728.3,233.0 1733.9,231.7 1739.5,230.6 1745.1,229.8 1750.8,229.2 1756.4,228.9 1762.0,228.8 1767.6,229.2 1773.3,230.0 1778.9,231.2 1784.5,232.9 1790.2,234.9 1795.8,237.3 1801.4,240.0 1807.0,243.1 1812.7,246.4 1818.3,249.9 1823.9,253.6 1829.6,257.5 1835.2,261.4 1840.8,265.4 1846.4,269.4 1852.1,273.4 1857.7,277.4 1863.3,281.2 1868.9,285.0 1874.6,288.6 1880.2,292.1 1885.8,295.4 1891.5,298.5 1897.1,301.5 1902.7,304.2 1908.3,306.7 1914.0,309.1 1919.6,311.2 1925.2,313.1 1930.8,314.9 1936.5,316.5 1942.1,317.9 1942.1,327.0 1497.5,327.0Z" fill="#3d4d8a" fill-opacity="0.2" stroke="#3d4d8a" stroke-opacity="0.2" stroke-width="2"/>
<path d="M1497.5,317.9 1503.2,316.6 1508.8,315.1 1514.4,313.5 1520.0,311.7 1525.7,309.7 1531.3,307.6 1536.9,305.2 1542.5,302.7 1548.2,299.9 1553.8,296.9 1559.4,293.8 1565.1,290.4 1570.7,286.7 1576.3,282.9 1581.9,278.9 1587.6,274.7 1593.2,270.4 1598.8,265.9 1604.5,261.2 1610.1,256.4 1615.7,251.6 1621.3,246.7 1627.0,241.7 1632.6,236.8 1638.2,231.9 1643.8,227.1 1649.5,222.4 1655.1,217.9 1660.7,213.5 1666.4,209.4 1672.0,205.6 1677.6,202.0 1683.2,198.8 1688.9,196.0 1694.5,193.5 1700.1,191.5 1705.7,189.9 1711.4,188.7 1717.0,188.1 1722.6,187.9 1728.3,188.2 1733.9,189.0 1739.5,190.2 1745.1,192.0 1750.8,194.2 1756.4,196.8 1762.0,199.8 1767.6,203.2 1773.3,207.0 1778.9,211.0 1784.5,215.3 1790.2,219.8 1795.8,224.5 1801.4,229.4 1807.0,234.3 1812.7,239.4 1818.3,244.4 1823.9,249.4 1829.6,254.4 1835.2,259.3 1840.8,264.1 1846.4,268.8 1852.1,273.3 1857.7,277.6 1863.3,281.8 1868.9,285.7 1874.6,289.5 1880.2,293.0 1885.8,296.3 1891.5,299.4 1897.1,302.2 1902.7,304.9 1908.3,307.3 1914.0,309.5 1919.6,311.6 1925.2,313.4 1930.8,315.1 1936.5,316.6 1942.1,317.9 1942.1,327.0 1497.5,327.0Z" fill="#34618d" fill-opacity="0.2" stroke="#34618d" stroke-opacity="0.2" stroke-width="2"/>
<path d="M1497.5,313.1 1503.2,310.8 1508.8,308.2 1514.4,305.3 1520.0,302.0 1525.7,298.4 1531.3,294.5 1536.9,290.1 1542.5,285.4 1548.2,280.2 1553.8,274.7 1559.4,268.8 1565.1,262.4 1570.7,255.7 1576.3,248.7 1581.9,241.3 1587.6,233.7 1593.2,225.9 1598.8,217.9 1604.5,209.7 1610.1,201.6 1615.7,193.4 1621.3,185.4 1627.0,177.5 1632.6,169.9 1638.2,162.7 1643.8,155.9 1649.5,149.6 1655.1,143.9 1660.7,138.9 1666.4,134.6 1672.0,131.1 1677.6,128.4 1683.2,126.5 1688.9,125.6 1694.5,125.5 1700.1,126.1 1705.7,127.3 1711.4,129.1 1717.0,131.4 1722.6,134.4 1728.3,137.9 1733.9,141.9 1739.5,146.3 1745.1,151.2 1750.8,156.5 1756.4,162.1 1762.0,168.1 1767.6,174.3 1773.3,180.7 1778.9,187.2 1784.5,193.9 1790.2,200.7 1795.8,207.4 1801.4,214.2 1807.0,220.9 1812.7,227.5 1818.3,234.0 1823.9,240.3 1829.6,246.5 1835.2,252.4 1840.8,258.1 1846.4,263.6 1852.1,268.8 1857.7,273.8 1863.3,278.4 1868.9,282.9 1874.6,287.0 1880.2,290.8 1885.8,294.4 1891.5,297.7 1897.1,300.8 1902.7,303.6 1908.3,306.2 1914.0,308.5 1919.6,310.7 1925.2,312.6 1930.8,314.3 1936.5,315.9 1942.1,317.3 1942.1,327.0 1497.5,327.0Z" fill="#2b748e" fill-opacity="0.2" stroke="#2b748e" stroke-opacity="0.2" stroke-width="2"/>
<path d="M1497.5,301.5 1502.7,297.9 1507.9,293.8 1513.0,289.3 1518.2,284.4 1523.4,279.0 1528.6,273.2 1533.7,266.9 1538.9,260.1 1544.1,252.9 1549.3,245.2 1554.4,237.1 1559.6,228.6 1564.8,219.7 1570.0,210.5 1575.1,201.1 1580.3,191.4 1585.5,181.5 1590.6,171.6 1595.8,161.7 1601.0,151.8 1606.2,142.1 1611.3,132.6 1616.5,123.5 1621.7,114.9 1626.9,106.7 1632.0,99.2 1637.2,92.4 1642.4,86.3 1647.6,81.1 1652.7,76.8 1657.9,73.4 1663.1,71.0 1668.2,69.7 1673.4,69.4 1678.6,69.9 1683.8,71.1 1688.9,72.9 1694.1,75.4 1699.3,78.6 1704.5,82.4 1709.6,86.8 1714.8,91.7 1720.0,97.2 1725.1,103.1 1730.3,109.5 1735.5,116.3 1740.7,123.4 1745.8,130.8 1751.0,138.4 1756.2,146.2 1761.4,154.2 1766.5,162.2 1771.7,170.4 1776.9,178.5 1782.1,186.5 1787.2,194.5 1792.4,202.4 1797.6,210.1 1802.7,217.6 1807.9,225.0 1813.1,232.1 1818.3,238.9 1823.4,245.5 1828.6,251.7 1833.8,257.7 1839.0,263.4 1844.1,268.8 1849.3,273.8 1854.5,278.6 1859.7,283.0 1864.8,287.2 1870.0,291.0 1875.2,294.6 1880.3,297.9 1885.5,300.9 1890.7,303.7 1895.9,306.2 1901.0,308.5 1906.2,310.6 1906.2,327.0 1497.5,327.0Z" fill="#24878e" fill-opacity="0.2" stroke="#24878e" stroke-opacity="0.2" stroke-width="2"/>
<path d="M1497.5,291.2 1501.7,286.2 1505.8,280.7 1509.9,274.7 1514.1,268.1 1518.2,261.0 1522.3,253.4 1526.5,245.2 1530.6,236.4 1534.7,227.2 1538.9,217.4 1543.0,207.2 1547.1,196.7 1551.3,185.7 1555.4,174.5 1559.5,163.2 1563.7,151.7 1567.8,140.1 1571.9,128.7 1576.0,117.4 1580.2,106.4 1584.3,95.8 1588.4,85.8 1592.6,76.3 1596.7,67.6 1600.8,59.7 1605.0,52.7 1609.1,46.7 1613.2,41.7 1617.4,37.9 1621.5,35.3 1625.6,33.9 1629.8,33.6 1633.9,34.3 1638.0,35.6 1642.2,37.6 1646.3,40.3 1650.4,43.8 1654.6,47.8 1658.7,52.5 1662.8,57.7 1667.0,63.6 1671.1,69.9 1675.2,76.7 1679.4,83.9 1683.5,91.4 1687.6,99.4 1691.8,107.5 1695.9,115.9 1700.0,124.5 1704.2,133.3 1708.3,142.1 1712.4,150.9 1716.6,159.7 1720.7,168.5 1724.8,177.2 1729.0,185.7 1733.1,194.1 1737.2,202.3 1741.4,210.3 1745.5,218.1 1749.6,225.5 1753.8,232.7 1757.9,239.7 1762.0,246.3 1766.2,252.5 1770.3,258.5 1774.4,264.1 1778.6,269.5 1782.7,274.5 1786.8,279.1 1791.0,283.5 1795.1,287.6 1799.2,291.4 1803.3,294.9 1807.5,298.1 1811.6,301.0 1815.7,303.8 1819.9,306.2 1824.0,308.5 1824.0,327.0 1497.5,327.0Z" fill="#1f998a" fill-opacity="0.2" stroke="#1f998a" stroke-opacity="0.2" stroke-width="2"/>
<path d="M1497.5,289.1 1500.2,284.0 1502.9,278.5 1505.5,272.4 1508.2,265.8 1510.9,258.7 1513.5,251.0 1516.2,242.8 1518.9,234.1 1521.5,224.9 1524.2,215.2 1526.9,205.1 1529.5,194.6 1532.2,183.8 1534.9,172.6 1537.5,161.3 1540.2,149.8 1542.9,138.3 1545.5,126.8 1548.2,115.5 1550.9,104.3 1553.5,93.5 1556.2,83.2 1558.9,73.4 1561.5,64.2 1564.2,55.8 1566.9,48.1 1569.5,41.4 1572.2,35.7 1574.9,31.0 1577.5,27.5 1580.2,25.0 1582.9,23.8 1585.5,23.7 1588.2,24.4 1590.9,25.9 1593.5,28.2 1596.2,31.2 1598.9,34.9 1601.5,39.3 1604.2,44.4 1606.9,50.1 1609.6,56.4 1612.2,63.2 1614.9,70.5 1617.6,78.2 1620.2,86.4 1622.9,94.8 1625.6,103.5 1628.2,112.5 1630.9,121.6 1633.6,130.9 1636.2,140.2 1638.9,149.5 1641.6,158.8 1644.2,168.0 1646.9,177.0 1649.6,186.0 1652.2,194.7 1654.9,203.2 1657.6,211.5 1660.2,219.5 1662.9,227.2 1665.6,234.5 1668.2,241.6 1670.9,248.3 1673.6,254.7 1676.2,260.7 1678.9,266.4 1681.6,271.7 1684.2,276.7 1686.9,281.4 1689.6,285.7 1692.2,289.7 1694.9,293.5 1697.6,296.9 1700.2,300.0 1702.9,302.9 1705.6,305.5 1708.2,307.9 1708.2,327.0 1497.5,327.0Z" fill="#25ac82" fill-opacity="0.2" stroke="#25ac82" stroke-opacity="0.2" stroke-width="2"/>
<path d="M1497.5,287.6 1500.3,282.3 1503.2,276.5 1506.0,270.1 1508.8,263.3 1511.6,255.8 1514.4,247.9 1517.2,239.4 1520.0,230.4 1522.9,220.9 1525.7,211.0 1528.5,200.6 1531.3,189.8 1534.1,178.8 1536.9,167.5 1539.7,156.1 1542.5,144.5 1545.4,133.0 1548.2,121.6 1551.0,110.5 1553.8,99.6 1556.6,89.2 1559.4,79.2 1562.2,70.0 1565.1,61.4 1567.9,53.7 1570.7,47.0 1573.5,41.2 1576.3,36.5 1579.1,32.9 1581.9,30.4 1584.8,29.2 1587.6,29.1 1590.4,29.8 1593.2,31.3 1596.0,33.4 1598.8,36.3 1601.6,39.8 1604.5,43.9 1607.3,48.7 1610.1,54.1 1612.9,60.0 1615.7,66.4 1618.5,73.3 1621.3,80.6 1624.1,88.3 1627.0,96.3 1629.8,104.5 1632.6,113.0 1635.4,121.7 1638.2,130.5 1641.0,139.4 1643.8,148.3 1646.7,157.2 1649.5,166.1 1652.3,174.8 1655.1,183.5 1657.9,192.0 1660.7,200.2 1663.5,208.3 1666.4,216.1 1669.2,223.7 1672.0,231.0 1674.8,238.0 1677.6,244.6 1680.4,251.0 1683.2,257.0 1686.0,262.8 1688.9,268.2 1691.7,273.2 1694.5,278.0 1697.3,282.4 1700.1,286.6 1702.9,290.4 1705.7,294.0 1708.6,297.2 1711.4,300.3 1714.2,303.0 1717.0,305.6 1719.8,307.9 1719.8,327.0 1497.5,327.0Z" fill="#40bd72" fill-opacity="0.2" stroke="#40bd72" stroke-opacity="0.2" stroke-width="2"/>
<path d="M1497.5,284.6 1498.9,277.8 1500.2,270.7 1501.5,263.4 1502.8,255.8 1504.2,248.0 1505.5,239.9 1506.8,231.7 1508.1,223.2 1509.5,214.6 1510.8,205.7 1512.1,196.8 1513.4,187.4 1514.8,177.3 1516.1,166.6 1517.4,155.5 1518.8,144.3 1520.1,133.2 1521.4,122.5 1522.7,112.5 1524.1,103.3 1525.4,94.4 1526.7,85.2 1528.0,75.9 1529.4,66.9 1530.7,58.6 1532.0,51.3 1533.4,45.3 1534.7,41.0 1536.0,38.7 1537.3,37.2 1538.7,35.8 1540.0,34.6 1541.3,33.4 1542.6,32.4 1544.0,31.5 1545.3,30.8 1546.6,30.2 1547.9,29.7 1549.3,29.5 1550.6,29.4 1551.9,30.4 1553.3,33.9 1554.6,39.2 1555.9,45.8 1557.2,53.0 1558.6,60.4 1559.9,67.1 1561.2,73.4 1562.5,79.9 1563.9,86.6 1565.2,93.4 1566.5,100.5 1567.9,107.7 1569.2,115.0 1570.5,122.4 1571.8,129.9 1573.2,137.5 1574.5,145.1 1575.8,152.7 1577.1,160.3 1578.5,168.0 1579.8,176.1 1581.1,184.4 1582.4,192.9 1583.8,201.4 1585.1,209.8 1586.4,217.9 1587.8,225.6 1589.1,232.8 1590.4,239.4 1591.7,245.8 1593.1,252.1 1594.4,258.3 1595.7,264.2 1597.0,269.9 1598.4,275.1 1599.7,279.9 1601.0,284.2 1602.3,287.8 1603.7,290.9 1605.0,293.9 1606.3,296.7 1607.7,299.3 1609.0,301.8 1610.3,304.0 1611.6,305.9 1613.0,307.5 1614.3,308.7 1615.6,309.4 1615.6,327.0 1497.5,327.0Z" fill="#67cc5c" fill-opacity="0.2" stroke="#67cc5c" stroke-opacity="0.2" stroke-width="2"/>
<path d="M1497.5,284.3 1498.9,277.3 1500.2,270.1 1501.5,262.6 1502.8,254.9 1504.2,247.0 1505.5,238.8 1506.8,230.5 1508.1,221.9 1509.5,213.2 1510.8,204.3 1512.1,195.3 1513.4,185.9 1514.8,175.7 1516.1,164.8 1517.4,153.7 1518.8,142.4 1520.1,131.3 1521.4,120.7 1522.7,110.7 1524.1,101.8 1525.4,93.3 1526.7,84.5 1528.0,75.7 1529.4,67.2 1530.7,59.2 1532.0,52.1 1533.4,46.1 1534.7,41.5 1536.0,38.6 1537.3,37.0 1538.7,35.5 1540.0,34.2 1541.3,33.0 1542.6,32.0 1544.0,31.0 1545.3,30.3 1546.6,29.6 1547.9,29.2 1549.3,28.9 1550.6,28.8 1551.9,29.8 1553.3,33.3 1554.6,38.6 1555.9,45.2 1557.2,52.4 1558.6,59.7 1559.9,66.5 1561.2,72.8 1562.5,79.3 1563.9,86.0 1565.2,92.9 1566.5,100.0 1567.9,107.2 1569.2,114.6 1570.5,122.0 1571.8,129.5 1573.2,137.1 1574.5,144.7 1575.8,152.3 1577.1,159.9 1578.5,167.7 1579.8,175.8 1581.1,184.1 1582.4,192.6 1583.8,201.1 1585.1,209.5 1586.4,217.6 1587.8,225.3 1589.1,232.5 1590.4,239.1 1591.7,245.5 1593.1,251.8 1594.4,258.0 1595.7,263.9 1597.0,269.6 1598.4,274.8 1599.7,279.6 1601.0,283.9 1602.3,287.5 1603.7,290.6 1605.0,293.6 1606.3,296.4 1607.7,299.0 1609.0,301.5 1610.3,303.7 1611.6,305.6 1613.0,307.2 1614.3,308.4 1615.6,309.1 1615.6,327.0 1497.5,327.0Z" fill="#98d83e" fill-opacity="0.2" stroke="#98d83e" stroke-opacity="0.2" stroke-width="2"/>
<path d="M1498.1,283.7 1499.4,276.1 1500.7,268.3 1502.1,260.4 1503.4,252.2 1504.7,243.8 1506.0,235.3 1507.3,226.6 1508.7,217.7 1510.0,208.7 1511.3,199.5 1512.6,190.2 1513.9,180.4 1515.3,169.8 1516.6,158.7 1517.9,147.5 1519.2,136.3 1520.6,125.5 1521.9,115.2 1523.2,105.8 1524.5,97.5 1525.8,89.3 1527.2,81.0 1528.5,72.8 1529.8,65.0 1531.1,57.7 1532.4,51.1 1533.8,45.5 1535.1,41.2 1536.4,38.2 1537.7,36.6 1539.0,35.2 1540.4,33.8 1541.7,32.6 1543.0,31.6 1544.3,30.6 1545.6,29.9 1547.0,29.2 1548.3,28.8 1549.6,28.5 1550.9,28.5 1552.2,30.1 1553.6,34.0 1554.9,39.6 1556.2,46.3 1557.5,53.5 1558.8,60.7 1560.2,67.2 1561.5,73.4 1562.8,80.0 1564.1,86.7 1565.4,93.6 1566.8,100.7 1568.1,108.0 1569.4,115.3 1570.7,122.8 1572.0,130.3 1573.4,137.9 1574.7,145.5 1576.0,153.1 1577.3,160.7 1578.6,168.5 1580.0,176.6 1581.3,184.9 1582.6,193.4 1583.9,201.8 1585.2,210.1 1586.6,218.1 1587.9,225.8 1589.2,232.9 1590.5,239.4 1591.9,245.8 1593.2,252.1 1594.5,258.3 1595.8,264.2 1597.1,269.8 1598.5,275.1 1599.8,279.8 1601.1,284.1 1602.4,287.7 1603.7,290.7 1605.1,293.7 1606.4,296.5 1607.7,299.1 1609.0,301.6 1610.3,303.8 1611.7,305.7 1613.0,307.2 1614.3,308.4 1615.6,309.1 1615.6,327.0 1498.1,327.0Z" fill="#cde11d" fill-opacity="0.2" stroke="#cde11d" stroke-opacity="0.2" stroke-width="2"/>
<path d="M1497.5,325.5 1503.4,325.3 1509.4,325.0 1515.3,324.7 1521.2,324.4 1527.1,324.1 1533.0,323.7 1538.9,323.3 1544.8,322.8 1550.8,322.3 1556.7,321.7 1562.6,321.1 1568.5,320.4 1574.4,319.7 1580.3,318.9 1586.2,318.0 1592.2,317.1 1598.1,316.1 1604.0,315.1 1609.9,313.9 1615.8,312.7 1621.7,311.4 1627.7,310.0 1633.6,308.6 1639.5,307.1 1645.4,305.5 1651.3,303.9 1657.2,302.2 1663.1,300.4 1669.1,298.6 1675.0,296.7 1680.9,294.8 1686.8,292.8 1692.7,290.8 1698.6,288.8 1704.5,286.8 1710.5,284.7 1716.4,282.7 1722.3,280.7 1728.2,278.7 1734.1,276.8 1740.0,274.9 1745.9,273.1 1751.9,271.3 1757.8,269.7 1763.7,268.1 1769.6,266.7 1775.5,265.3 1781.4,264.1 1787.4,263.0 1793.3,262.1 1799.2,261.3 1805.1,260.7 1811.0,260.2 1816.9,259.9 1822.8,259.7 1828.8,259.8 1834.7,260.4 1840.6,261.5 1846.5,263.2 1852.4,265.3 1858.3,267.8 1864.2,270.7 1870.2,273.8 1876.1,277.2 1882.0,280.8 1887.9,284.4 1893.8,288.1 1899.7,291.8 1905.6,295.3 1911.6,298.8 1917.5,302.0 1923.4,305.1 1929.3,307.9 1935.2,310.5 1941.1,312.9 1947.1,315.0 1953.0,316.9 1958.9,318.6 1964.8,320.0" fill="none" stroke="#440154" stroke-width="4.6" stroke-linejoin="round" stroke-linecap="round"/>
<path d="M1497.5,324.6 1503.4,324.3 1509.3,323.9 1515.2,323.5 1521.0,323.1 1526.9,322.6 1532.8,322.1 1538.7,321.6 1544.5,320.9 1550.4,320.3 1556.3,319.6 1562.2,318.8 1568.0,317.9 1573.9,317.0 1579.8,316.1 1585.7,315.0 1591.6,313.9 1597.4,312.8 1603.3,311.5 1609.2,310.2 1615.1,308.9 1620.9,307.4 1626.8,305.9 1632.7,304.3 1638.6,302.7 1644.4,301.0 1650.3,299.3 1656.2,297.5 1662.1,295.6 1668.0,293.8 1673.8,291.9 1679.7,289.9 1685.6,288.0 1691.5,286.0 1697.3,284.1 1703.2,282.1 1709.1,280.2 1715.0,278.3 1720.8,276.5 1726.7,274.7 1732.6,272.9 1738.5,271.2 1744.3,269.6 1750.2,268.1 1756.1,266.7 1762.0,265.4 1767.9,264.2 1773.7,263.2 1779.6,262.2 1785.5,261.5 1791.4,260.8 1797.2,260.3 1803.1,260.0 1809.0,259.8 1814.9,259.7 1820.7,260.1 1826.6,260.8 1832.5,262.1 1838.4,263.7 1844.3,265.7 1850.1,268.1 1856.0,270.7 1861.9,273.6 1867.8,276.7 1873.6,280.0 1879.5,283.3 1885.4,286.7 1891.3,290.1 1897.1,293.4 1903.0,296.6 1908.9,299.7 1914.8,302.7 1920.6,305.5 1926.5,308.1 1932.4,310.5 1938.3,312.7 1944.2,314.6 1950.0,316.4 1955.9,318.0 1961.8,319.4" fill="none" stroke="#481c6e" stroke-width="4.6" stroke-linejoin="round" stroke-linecap="round"/>
<path d="M1497.5,323.4 1503.3,322.9 1509.0,322.4 1514.8,321.8 1520.6,321.2 1526.3,320.6 1532.1,319.8 1537.8,319.0 1543.6,318.2 1549.4,317.3 1555.1,316.3 1560.9,315.2 1566.6,314.0 1572.4,312.8 1578.2,311.5 1583.9,310.1 1589.7,308.6 1595.4,307.1 1601.2,305.4 1607.0,303.7 1612.7,301.9 1618.5,300.1 1624.2,298.1 1630.0,296.1 1635.8,294.1 1641.5,291.9 1647.3,289.8 1653.0,287.5 1658.8,285.3 1664.6,283.0 1670.3,280.7 1676.1,278.5 1681.8,276.2 1687.6,273.9 1693.3,271.7 1699.1,269.5 1704.9,267.3 1710.6,265.3 1716.4,263.3 1722.1,261.3 1727.9,259.5 1733.7,257.8 1739.4,256.3 1745.2,254.8 1750.9,253.5 1756.7,252.4 1762.5,251.4 1768.2,250.6 1774.0,250.0 1779.7,249.5 1785.5,249.2 1791.3,249.1 1797.0,249.3 1802.8,249.9 1808.5,251.0 1814.3,252.5 1820.1,254.4 1825.8,256.6 1831.6,259.2 1837.3,262.1 1843.1,265.2 1848.9,268.4 1854.6,271.9 1860.4,275.4 1866.1,279.0 1871.9,282.5 1877.6,286.1 1883.4,289.6 1889.2,293.0 1894.9,296.2 1900.7,299.3 1906.4,302.3 1912.2,305.0 1918.0,307.6 1923.7,309.9 1929.5,312.1 1935.2,314.1 1941.0,315.8 1946.8,317.4 1952.5,318.8" fill="none" stroke="#453581" stroke-width="4.6" stroke-linejoin="round" stroke-linecap="round"/>
<path d="M1497.5,321.8 1503.2,321.2 1508.8,320.4 1514.4,319.6 1520.0,318.6 1525.7,317.6 1531.3,316.5 1536.9,315.3 1542.5,314.0 1548.2,312.6 1553.8,311.1 1559.4,309.5 1565.1,307.7 1570.7,305.8 1576.3,303.9 1581.9,301.7 1587.6,299.5 1593.2,297.2 1598.8,294.7 1604.5,292.2 1610.1,289.5 1615.7,286.8 1621.3,283.9 1627.0,281.0 1632.6,278.1 1638.2,275.0 1643.8,272.0 1649.5,268.9 1655.1,265.8 1660.7,262.7 1666.4,259.6 1672.0,256.6 1677.6,253.7 1683.2,250.8 1688.9,248.0 1694.5,245.4 1700.1,242.9 1705.7,240.5 1711.4,238.3 1717.0,236.4 1722.6,234.6 1728.3,233.0 1733.9,231.7 1739.5,230.6 1745.1,229.8 1750.8,229.2 1756.4,228.9 1762.0,228.8 1767.6,229.2 1773.3,230.0 1778.9,231.2 1784.5,232.9 1790.2,234.9 1795.8,237.3 1801.4,240.0 1807.0,243.1 1812.7,246.4 1818.3,249.9 1823.9,253.6 1829.6,257.5 1835.2,261.4 1840.8,265.4 1846.4,269.4 1852.1,273.4 1857.7,277.4 1863.3,281.2 1868.9,285.0 1874.6,288.6 1880.2,292.1 1885.8,295.4 1891.5,298.5 1897.1,301.5 1902.7,304.2 1908.3,306.7 1914.0,309.1 1919.6,311.2 1925.2,313.1 1930.8,314.9 1936.5,316.5 1942.1,317.9" fill="none" stroke="#3d4d8a" stroke-width="4.6" stroke-linejoin="round" stroke-linecap="round"/>
<path d="M1497.5,317.9 1503.2,316.6 1508.8,315.1 1514.4,313.5 1520.0,311.7 1525.7,309.7 1531.3,307.6 1536.9,305.2 1542.5,302.7 1548.2,299.9 1553.8,296.9 1559.4,293.8 1565.1,290.4 1570.7,286.7 1576.3,282.9 1581.9,278.9 1587.6,274.7 1593.2,270.4 1598.8,265.9 1604.5,261.2 1610.1,256.4 1615.7,251.6 1621.3,246.7 1627.0,241.7 1632.6,236.8 1638.2,231.9 1643.8,227.1 1649.5,222.4 1655.1,217.9 1660.7,213.5 1666.4,209.4 1672.0,205.6 1677.6,202.0 1683.2,198.8 1688.9,196.0 1694.5,193.5 1700.1,191.5 1705.7,189.9 1711.4,188.7 1717.0,188.1 1722.6,187.9 1728.3,188.2 1733.9,189.0 1739.5,190.2 1745.1,192.0 1750.8,194.2 1756.4,196.8 1762.0,199.8 1767.6,203.2 1773.3,207.0 1778.9,211.0 1784.5,215.3 1790.2,219.8 1795.8,224.5 1801.4,229.4 1807.0,234.3 1812.7,239.4 1818.3,244.4 1823.9,249.4 1829.6,254.4 1835.2,259.3 1840.8,264.1 1846.4,268.8 1852.1,273.3 1857.7,277.6 1863.3,281.8 1868.9,285.7 1874.6,289.5 1880.2,293.0 1885.8,296.3 1891.5,299.4 1897.1,302.2 1902.7,304.9 1908.3,307.3 1914.0,309.5 1919.6,311.6 1925.2,313.4 1930.8,315.1 1936.5,316.6 1942.1,317.9" fill="none" stroke="#34618d" stroke-width="4.6" stroke-linejoin="round" stroke-linecap="round"/>
<path d="M1497.5,313.1 1503.2,310.8 1508.8,308.2 1514.4,305.3 1520.0,302.0 1525.7,298.4 1531.3,294.5 1536.9,290.1 1542.5,285.4 1548.2,280.2 1553.8,274.7 1559.4,268.8 1565.1,262.4 1570.7,255.7 1576.3,248.7 1581.9,241.3 1587.6,233.7 1593.2,225.9 1598.8,217.9 1604.5,209.7 1610.1,201.6 1615.7,193.4 1621.3,185.4 1627.0,177.5 1632.6,169.9 1638.2,162.7 1643.8,155.9 1649.5,149.6 1655.1,143.9 1660.7,138.9 1666.4,134.6 1672.0,131.1 1677.6,128.4 1683.2,126.5 1688.9,125.6 1694.5,125.5 1700.1,126.1 1705.7,127.3 1711.4,129.1 1717.0,131.4 1722.6,134.4 1728.3,137.9 1733.9,141.9 1739.5,146.3 1745.1,151.2 1750.8,156.5 1756.4,162.1 1762.0,168.1 1767.6,174.3 1773.3,180.7 1778.9,187.2 1784.5,193.9 1790.2,200.7 1795.8,207.4 1801.4,214.2 1807.0,220.9 1812.7,227.5 1818.3,234.0 1823.9,240.3 1829.6,246.5 1835.2,252.4 1840.8,258.1 1846.4,263.6 1852.1,268.8 1857.7,273.8 1863.3,278.4 1868.9,282.9 1874.6,287.0 1880.2,290.8 1885.8,294.4 1891.5,297.7 1897.1,300.8 1902.7,303.6 1908.3,306.2 1914.0,308.5 1919.6,310.7 1925.2,312.6 1930.8,314.3 1936.5,315.9 1942.1,317.3" fill="none" stroke="#2b748e" stroke-width="4.6" stroke-linejoin="round" stroke-linecap="round"/>
<path d="M1497.5,301.5 1502.7,297.9 1507.9,293.8 1513.0,289.3 1518.2,284.4 1523.4,279.0 1528.6,273.2 1533.7,266.9 1538.9,260.1 1544.1,252.9 1549.3,245.2 1554.4,237.1 1559.6,228.6 1564.8,219.7 1570.0,210.5 1575.1,201.1 1580.3,191.4 1585.5,181.5 1590.6,171.6 1595.8,161.7 1601.0,151.8 1606.2,142.1 1611.3,132.6 1616.5,123.5 1621.7,114.9 1626.9,106.7 1632.0,99.2 1637.2,92.4 1642.4,86.3 1647.6,81.1 1652.7,76.8 1657.9,73.4 1663.1,71.0 1668.2,69.7 1673.4,69.4 1678.6,69.9 1683.8,71.1 1688.9,72.9 1694.1,75.4 1699.3,78.6 1704.5,82.4 1709.6,86.8 1714.8,91.7 1720.0,97.2 1725.1,103.1 1730.3,109.5 1735.5,116.3 1740.7,123.4 1745.8,130.8 1751.0,138.4 1756.2,146.2 1761.4,154.2 1766.5,162.2 1771.7,170.4 1776.9,178.5 1782.1,186.5 1787.2,194.5 1792.4,202.4 1797.6,210.1 1802.7,217.6 1807.9,225.0 1813.1,232.1 1818.3,238.9 1823.4,245.5 1828.6,251.7 1833.8,257.7 1839.0,263.4 1844.1,268.8 1849.3,273.8 1854.5,278.6 1859.7,283.0 1864.8,287.2 1870.0,291.0 1875.2,294.6 1880.3,297.9 1885.5,300.9 1890.7,303.7 1895.9,306.2 1901.0,308.5 1906.2,310.6" fill="none" stroke="#24878e" stroke-width="4.6" stroke-linejoin="round" stroke-linecap="round"/>
<path d="M1497.5,291.2 1501.7,286.2 1505.8,280.7 1509.9,274.7 1514.1,268.1 1518.2,261.0 1522.3,253.4 1526.5,245.2 1530.6,236.4 1534.7,227.2 1538.9,217.4 1543.0,207.2 1547.1,196.7 1551.3,185.7 1555.4,174.5 1559.5,163.2 1563.7,151.7 1567.8,140.1 1571.9,128.7 1576.0,117.4 1580.2,106.4 1584.3,95.8 1588.4,85.8 1592.6,76.3 1596.7,67.6 1600.8,59.7 1605.0,52.7 1609.1,46.7 1613.2,41.7 1617.4,37.9 1621.5,35.3 1625.6,33.9 1629.8,33.6 1633.9,34.3 1638.0,35.6 1642.2,37.6 1646.3,40.3 1650.4,43.8 1654.6,47.8 1658.7,52.5 1662.8,57.7 1667.0,63.6 1671.1,69.9 1675.2,76.7 1679.4,83.9 1683.5,91.4 1687.6,99.4 1691.8,107.5 1695.9,115.9 1700.0,124.5 1704.2,133.3 1708.3,142.1 1712.4,150.9 1716.6,159.7 1720.7,168.5 1724.8,177.2 1729.0,185.7 1733.1,194.1 1737.2,202.3 1741.4,210.3 1745.5,218.1 1749.6,225.5 1753.8,232.7 1757.9,239.7 1762.0,246.3 1766.2,252.5 1770.3,258.5 1774.4,264.1 1778.6,269.5 1782.7,274.5 1786.8,279.1 1791.0,283.5 1795.1,287.6 1799.2,291.4 1803.3,294.9 1807.5,298.1 1811.6,301.0 1815.7,303.8 1819.9,306.2 1824.0,308.5" fill="none" stroke="#1f998a" stroke-width="4.6" stroke-linejoin="round" stroke-linecap="round"/>
<path d="M1497.5,289.1 1500.2,284.0 1502.9,278.5 1505.5,272.4 1508.2,265.8 1510.9,258.7 1513.5,251.0 1516.2,242.8 1518.9,234.1 1521.5,224.9 1524.2,215.2 1526.9,205.1 1529.5,194.6 1532.2,183.8 1534.9,172.6 1537.5,161.3 1540.2,149.8 1542.9,138.3 1545.5,126.8 1548.2,115.5 1550.9,104.3 1553.5,93.5 1556.2,83.2 1558.9,73.4 1561.5,64.2 1564.2,55.8 1566.9,48.1 1569.5,41.4 1572.2,35.7 1574.9,31.0 1577.5,27.5 1580.2,25.0 1582.9,23.8 1585.5,23.7 1588.2,24.4 1590.9,25.9 1593.5,28.2 1596.2,31.2 1598.9,34.9 1601.5,39.3 1604.2,44.4 1606.9,50.1 1609.6,56.4 1612.2,63.2 1614.9,70.5 1617.6,78.2 1620.2,86.4 1622.9,94.8 1625.6,103.5 1628.2,112.5 1630.9,121.6 1633.6,130.9 1636.2,140.2 1638.9,149.5 1641.6,158.8 1644.2,168.0 1646.9,177.0 1649.6,186.0 1652.2,194.7 1654.9,203.2 1657.6,211.5 1660.2,219.5 1662.9,227.2 1665.6,234.5 1668.2,241.6 1670.9,248.3 1673.6,254.7 1676.2,260.7 1678.9,266.4 1681.6,271.7 1684.2,276.7 1686.9,281.4 1689.6,285.7 1692.2,289.7 1694.9,293.5 1697.6,296.9 1700.2,300.0 1702.9,302.9 1705.6,305.5 1708.2,307.9" fill="none" stroke="#25ac82" stroke-width="4.6" stroke-linejoin="round" stroke-linecap="round"/>
<path d="M1497.5,287.6 1500.3,282.3 1503.2,276.5 1506.0,270.1 1508.8,263.3 1511.6,255.8 1514.4,247.9 1517.2,239.4 1520.0,230.4 1522.9,220.9 1525.7,211.0 1528.5,200.6 1531.3,189.8 1534.1,178.8 1536.9,167.5 1539.7,156.1 1542.5,144.5 1545.4,133.0 1548.2,121.6 1551.0,110.5 1553.8,99.6 1556.6,89.2 1559.4,79.2 1562.2,70.0 1565.1,61.4 1567.9,53.7 1570.7,47.0 1573.5,41.2 1576.3,36.5 1579.1,32.9 1581.9,30.4 1584.8,29.2 1587.6,29.1 1590.4,29.8 1593.2,31.3 1596.0,33.4 1598.8,36.3 1601.6,39.8 1604.5,43.9 1607.3,48.7 1610.1,54.1 1612.9,60.0 1615.7,66.4 1618.5,73.3 1621.3,80.6 1624.1,88.3 1627.0,96.3 1629.8,104.5 1632.6,113.0 1635.4,121.7 1638.2,130.5 1641.0,139.4 1643.8,148.3 1646.7,157.2 1649.5,166.1 1652.3,174.8 1655.1,183.5 1657.9,192.0 1660.7,200.2 1663.5,208.3 1666.4,216.1 1669.2,223.7 1672.0,231.0 1674.8,238.0 1677.6,244.6 1680.4,251.0 1683.2,257.0 1686.0,262.8 1688.9,268.2 1691.7,273.2 1694.5,278.0 1697.3,282.4 1700.1,286.6 1702.9,290.4 1705.7,294.0 1708.6,297.2 1711.4,300.3 1714.2,303.0 1717.0,305.6 1719.8,307.9" fill="none" stroke="#40bd72" stroke-width="4.6" stroke-linejoin="round" stroke-linecap="round"/>
<path d="M1497.5,284.6 1498.9,277.8 1500.2,270.7 1501.5,263.4 1502.8,255.8 1504.2,248.0 1505.5,239.9 1506.8,231.7 1508.1,223.2 1509.5,214.6 1510.8,205.7 1512.1,196.8 1513.4,187.4 1514.8,177.3 1516.1,166.6 1517.4,155.5 1518.8,144.3 1520.1,133.2 1521.4,122.5 1522.7,112.5 1524.1,103.3 1525.4,94.4 1526.7,85.2 1528.0,75.9 1529.4,66.9 1530.7,58.6 1532.0,51.3 1533.4,45.3 1534.7,41.0 1536.0,38.7 1537.3,37.2 1538.7,35.8 1540.0,34.6 1541.3,33.4 1542.6,32.4 1544.0,31.5 1545.3,30.8 1546.6,30.2 1547.9,29.7 1549.3,29.5 1550.6,29.4 1551.9,30.4 1553.3,33.9 1554.6,39.2 1555.9,45.8 1557.2,53.0 1558.6,60.4 1559.9,67.1 1561.2,73.4 1562.5,79.9 1563.9,86.6 1565.2,93.4 1566.5,100.5 1567.9,107.7 1569.2,115.0 1570.5,122.4 1571.8,129.9 1573.2,137.5 1574.5,145.1 1575.8,152.7 1577.1,160.3 1578.5,168.0 1579.8,176.1 1581.1,184.4 1582.4,192.9 1583.8,201.4 1585.1,209.8 1586.4,217.9 1587.8,225.6 1589.1,232.8 1590.4,239.4 1591.7,245.8 1593.1,252.1 1594.4,258.3 1595.7,264.2 1597.0,269.9 1598.4,275.1 1599.7,279.9 1601.0,284.2 1602.3,287.8 1603.7,290.9 1605.0,293.9 1606.3,296.7 1607.7,299.3 1609.0,301.8 1610.3,304.0 1611.6,305.9 1613.0,307.5 1614.3,308.7 1615.6,309.4" fill="none" stroke="#67cc5c" stroke-width="4.6" stroke-linejoin="round" stroke-linecap="round"/>
<path d="M1497.5,284.3 1498.9,277.3 1500.2,270.1 1501.5,262.6 1502.8,254.9 1504.2,247.0 1505.5,238.8 1506.8,230.5 1508.1,221.9 1509.5,213.2 1510.8,204.3 1512.1,195.3 1513.4,185.9 1514.8,175.7 1516.1,164.8 1517.4,153.7 1518.8,142.4 1520.1,131.3 1521.4,120.7 1522.7,110.7 1524.1,101.8 1525.4,93.3 1526.7,84.5 1528.0,75.7 1529.4,67.2 1530.7,59.2 1532.0,52.1 1533.4,46.1 1534.7,41.5 1536.0,38.6 1537.3,37.0 1538.7,35.5 1540.0,34.2 1541.3,33.0 1542.6,32.0 1544.0,31.0 1545.3,30.3 1546.6,29.6 1547.9,29.2 1549.3,28.9 1550.6,28.8 1551.9,29.8 1553.3,33.3 1554.6,38.6 1555.9,45.2 1557.2,52.4 1558.6,59.7 1559.9,66.5 1561.2,72.8 1562.5,79.3 1563.9,86.0 1565.2,92.9 1566.5,100.0 1567.9,107.2 1569.2,114.6 1570.5,122.0 1571.8,129.5 1573.2,137.1 1574.5,144.7 1575.8,152.3 1577.1,159.9 1578.5,167.7 1579.8,175.8 1581.1,184.1 1582.4,192.6 1583.8,201.1 1585.1,209.5 1586.4,217.6 1587.8,225.3 1589.1,232.5 1590.4,239.1 1591.7,245.5 1593.1,251.8 1594.4,258.0 1595.7,263.9 1597.0,269.6 1598.4,274.8 1599.7,279.6 1601.0,283.9 1602.3,287.5 1603.7,290.6 1605.0,293.6 1606.3,296.4 1607.7,299.0 1609.0,301.5 1610.3,303.7 1611.6,305.6 1613.0,307.2 1614.3,308.4 1615.6,309.1" fill="none" stroke="#98d83e" stroke-width="4.6" stroke-linejoin="round" stroke-linecap="round"/>
<path d="M1498.1,283.7 1499.4,276.1 1500.7,268.3 1502.1,260.4 1503.4,252.2 1504.7,243.8 1506.0,235.3 1507.3,226.6 1508.7,217.7 1510.0,208.7 1511.3,199.5 1512.6,190.2 1513.9,180.4 1515.3,169.8 1516.6,158.7 1517.9,147.5 1519.2,136.3 1520.6,125.5 1521.9,115.2 1523.2,105.8 1524.5,97.5 1525.8,89.3 1527.2,81.0 1528.5,72.8 1529.8,65.0 1531.1,57.7 1532.4,51.1 1533.8,45.5 1535.1,41.2 1536.4,38.2 1537.7,36.6 1539.0,35.2 1540.4,33.8 1541.7,32.6 1543.0,31.6 1544.3,30.6 1545.6,29.9 1547.0,29.2 1548.3,28.8 1549.6,28.5 1550.9,28.5 1552.2,30.1 1553.6,34.0 1554.9,39.6 1556.2,46.3 1557.5,53.5 1558.8,60.7 1560.2,67.2 1561.5,73.4 1562.8,80.0 1564.1,86.7 1565.4,93.6 1566.8,100.7 1568.1,108.0 1569.4,115.3 1570.7,122.8 1572.0,130.3 1573.4,137.9 1574.7,145.5 1576.0,153.1 1577.3,160.7 1578.6,168.5 1580.0,176.6 1581.3,184.9 1582.6,193.4 1583.9,201.8 1585.2,210.1 1586.6,218.1 1587.9,225.8 1589.2,232.9 1590.5,239.4 1591.9,245.8 1593.2,252.1 1594.5,258.3 1595.8,264.2 1597.1,269.8 1598.5,275.1 1599.8,279.8 1601.1,284.1 1602.4,287.7 1603.7,290.7 1605.1,293.7 1606.4,296.5 1607.7,299.1 1609.0,301.6 1610.3,303.8 1611.7,305.7 1613.0,307.2 1614.3,308.4 1615.6,309.1" fill="none" stroke="#cde11d" stroke-width="4.6" stroke-linejoin="round" stroke-linecap="round"/>
</g>
<path d="M1476.5,9.9 H1987.1 M1476.5,341.7 H1987.1" fill="none" stroke="#c8c8c8" stroke-width="1.8"/>
<path d="M1476.5,9.0 V342.59999999999997 M1987.1,9.0 V342.59999999999997" fill="none" stroke="#c8c8c8" stroke-width="1.3"/>
<text transform="translate(1501.00,373.50) scale(1,1.06)" font-family="'Liberation Serif', 'Times New Roman', serif" font-size="36.3" text-anchor="middle" fill="#262626">0</text>
<text transform="translate(1558.89,373.50) scale(1,1.06)" font-family="'Liberation Serif', 'Times New Roman', serif" font-size="36.3" text-anchor="middle" fill="#262626">5</text>
<text transform="translate(1616.78,373.50) scale(1,1.06)" font-family="'Liberation Serif', 'Times New Roman', serif" font-size="36.3" text-anchor="middle" fill="#262626">10</text>
<text transform="translate(1674.66,373.50) scale(1,1.06)" font-family="'Liberation Serif', 'Times New Roman', serif" font-size="36.3" text-anchor="middle" fill="#262626">15</text>
<text transform="translate(1732.55,373.50) scale(1,1.06)" font-family="'Liberation Serif', 'Times New Roman', serif" font-size="36.3" text-anchor="middle" fill="#262626">20</text>
<text transform="translate(1790.44,373.50) scale(1,1.06)" font-family="'Liberation Serif', 'Times New Roman', serif" font-size="36.3" text-anchor="middle" fill="#262626">25</text>
<text transform="translate(1848.32,373.50) scale(1,1.06)" font-family="'Liberation Serif', 'Times New Roman', serif" font-size="36.3" text-anchor="middle" fill="#262626">30</text>
<text transform="translate(1906.21,373.50) scale(1,1.06)" font-family="'Liberation Serif', 'Times New Roman', serif" font-size="36.3" text-anchor="middle" fill="#262626">35</text>
<text transform="translate(1964.10,373.50) scale(1,1.06)" font-family="'Liberation Serif', 'Times New Roman', serif" font-size="36.3" text-anchor="middle" fill="#262626">40</text>
<text transform="translate(1468.90,339.69) scale(1,1.06)" font-family="'Liberation Serif', 'Times New Roman', serif" font-size="36.3" text-anchor="end" fill="#262626">0.00</text>
<text transform="translate(1468.90,279.07) scale(1,1.06)" font-family="'Liberation Serif', 'Times New Roman', serif" font-size="36.3" text-anchor="end" fill="#262626">0.02</text>
<text transform="translate(1468.90,218.45) scale(1,1.06)" font-family="'Liberation Serif', 'Times New Roman', serif" font-size="36.3" text-anchor="end" fill="#262626">0.04</text>
<text transform="translate(1468.90,157.83) scale(1,1.06)" font-family="'Liberation Serif', 'Times New Roman', serif" font-size="36.3" text-anchor="end" fill="#262626">0.06</text>
<text transform="translate(1468.90,97.21) scale(1,1.06)" font-family="'Liberation Serif', 'Times New Roman', serif" font-size="36.3" text-anchor="end" fill="#262626">0.08</text>
<text transform="translate(1468.90,36.59) scale(1,1.06)" font-family="'Liberation Serif', 'Times New Roman', serif" font-size="36.3" text-anchor="end" fill="#262626">0.10</text>
<text x="1732.70" y="420.00" font-family="'Liberation Serif', 'Times New Roman', serif" font-size="42.5" text-anchor="middle" fill="#262626">Diameter / μm</text>
<text transform="translate(1388.70,179.50) rotate(-90)" x="0" y="0" font-family="'Liberation Serif', 'Times New Roman', serif" font-size="42.5" text-anchor="middle" fill="#262626">PDF</text>
</g>
<g id="plot_d">
<clipPath id="clip_d"><rect x="129.0" y="550.0" width="509.30" height="330.30"/></clipPath>
<line x1="153.30" y1="550.0" x2="153.30" y2="880.3" stroke="#d0d0d0" stroke-width="1.3"/>
<line x1="229.92" y1="550.0" x2="229.92" y2="880.3" stroke="#d0d0d0" stroke-width="1.3"/>
<line x1="306.53" y1="550.0" x2="306.53" y2="880.3" stroke="#d0d0d0" stroke-width="1.3"/>
<line x1="383.15" y1="550.0" x2="383.15" y2="880.3" stroke="#d0d0d0" stroke-width="1.3"/>
<line x1="459.77" y1="550.0" x2="459.77" y2="880.3" stroke="#d0d0d0" stroke-width="1.3"/>
<line x1="536.38" y1="550.0" x2="536.38" y2="880.3" stroke="#d0d0d0" stroke-width="1.3"/>
<line x1="613.00" y1="550.0" x2="613.00" y2="880.3" stroke="#d0d0d0" stroke-width="1.3"/>
<line x1="129.0" y1="864.90" x2="638.3" y2="864.90" stroke="#d0d0d0" stroke-width="1.8"/>
<line x1="129.0" y1="817.73" x2="638.3" y2="817.73" stroke="#d0d0d0" stroke-width="1.8"/>
<line x1="129.0" y1="770.57" x2="638.3" y2="770.57" stroke="#d0d0d0" stroke-width="1.8"/>
<line x1="129.0" y1="723.40" x2="638.3" y2="723.40" stroke="#d0d0d0" stroke-width="1.8"/>
<line x1="129.0" y1="676.23" x2="638.3" y2="676.23" stroke="#d0d0d0" stroke-width="1.8"/>
<line x1="129.0" y1="629.07" x2="638.3" y2="629.07" stroke="#d0d0d0" stroke-width="1.8"/>
<line x1="129.0" y1="581.90" x2="638.3" y2="581.90" stroke="#d0d0d0" stroke-width="1.8"/>
<g clip-path="url(#clip_d)">
<path d="M151.4,864.4 157.2,864.3 163.1,864.3 169.0,864.2 174.8,864.0 180.7,863.9 186.6,863.7 192.4,863.6 198.3,863.4 204.1,863.2 210.0,862.9 215.9,862.6 221.7,862.3 227.6,862.0 233.5,861.6 239.3,861.2 245.2,860.8 251.0,860.3 256.9,859.8 262.8,859.2 268.6,858.6 274.5,857.9 280.4,857.2 286.2,856.4 292.1,855.6 298.0,854.7 303.8,853.8 309.7,852.8 315.5,851.7 321.4,850.6 327.3,849.5 333.1,848.3 339.0,847.1 344.9,845.9 350.7,844.6 356.6,843.2 362.4,841.9 368.3,840.5 374.2,839.2 380.0,837.8 385.9,836.4 391.8,835.1 397.6,833.7 403.5,832.4 409.3,831.1 415.2,829.9 421.1,828.7 426.9,827.6 432.8,826.6 438.7,825.6 444.5,824.8 450.4,824.0 456.2,823.3 462.1,822.7 468.0,822.3 473.8,821.9 479.7,821.7 485.6,821.5 491.4,821.5 497.3,821.9 503.1,822.6 509.0,823.7 514.9,825.1 520.7,826.8 526.6,828.8 532.5,830.9 538.3,833.2 544.2,835.7 550.0,838.1 555.9,840.6 561.8,843.0 567.6,845.4 573.5,847.7 579.4,849.8 585.2,851.8 591.1,853.6 596.9,855.3 602.8,856.8 608.7,858.1 614.5,859.2 614.5,864.9 151.4,864.9Z" fill="#440154" fill-opacity="0.2" stroke="#440154" stroke-opacity="0.2" stroke-width="2"/>
<path d="M151.4,864.0 157.2,863.8 163.1,863.6 169.0,863.4 174.8,863.2 180.7,862.9 186.6,862.6 192.4,862.3 198.3,861.9 204.1,861.5 210.0,861.0 215.9,860.5 221.7,859.9 227.6,859.3 233.5,858.6 239.3,857.8 245.2,857.0 251.0,856.0 256.9,855.0 262.8,854.0 268.6,852.8 274.5,851.5 280.4,850.2 286.2,848.7 292.1,847.2 298.0,845.6 303.8,843.8 309.7,842.0 315.5,840.1 321.4,838.1 327.3,836.1 333.1,833.9 339.0,831.7 344.9,829.5 350.7,827.1 356.6,824.8 362.4,822.4 368.3,820.0 374.2,817.6 380.0,815.1 385.9,812.7 391.8,810.4 397.6,808.1 403.5,805.8 409.3,803.6 415.2,801.6 421.1,799.6 426.9,797.7 432.8,796.0 438.7,794.5 444.5,793.1 450.4,791.8 456.2,790.8 462.1,789.9 468.0,789.3 473.8,788.8 479.7,788.5 485.6,788.5 491.4,789.1 497.3,790.4 503.1,792.3 509.0,794.9 514.9,798.1 520.7,801.7 526.6,805.6 532.5,809.9 538.3,814.3 544.2,818.9 550.0,823.4 555.9,827.8 561.8,832.1 567.6,836.2 573.5,840.0 579.4,843.5 585.2,846.6 591.1,849.5 596.9,852.0 602.8,854.3 608.7,856.2 614.5,857.8 614.5,864.9 151.4,864.9Z" fill="#481c6e" fill-opacity="0.2" stroke="#481c6e" stroke-opacity="0.2" stroke-width="2"/>
<path d="M151.4,863.5 157.2,863.3 163.1,863.0 169.0,862.7 174.8,862.4 180.7,862.1 186.6,861.7 192.4,861.2 198.3,860.7 204.1,860.2 210.0,859.6 215.9,858.9 221.7,858.2 227.6,857.4 233.5,856.5 239.3,855.6 245.2,854.6 251.0,853.4 256.9,852.3 262.8,851.0 268.6,849.6 274.5,848.1 280.4,846.6 286.2,844.9 292.1,843.2 298.0,841.3 303.8,839.4 309.7,837.4 315.5,835.3 321.4,833.1 327.3,830.9 333.1,828.6 339.0,826.3 344.9,823.9 350.7,821.5 356.6,819.0 362.4,816.5 368.3,814.1 374.2,811.6 380.0,809.2 385.9,806.9 391.8,804.5 397.6,802.3 403.5,800.1 409.3,798.1 415.2,796.2 421.1,794.3 426.9,792.7 432.8,791.2 438.7,789.8 444.5,788.6 450.4,787.7 456.2,786.9 462.1,786.3 468.0,785.9 473.8,785.7 479.7,785.8 485.6,786.5 491.4,787.8 497.3,789.8 503.1,792.2 509.0,795.2 514.9,798.6 520.7,802.4 526.6,806.4 532.5,810.6 538.3,815.0 544.2,819.3 550.0,823.6 555.9,827.8 561.8,831.9 567.6,835.8 573.5,839.4 579.4,842.7 585.2,845.8 591.1,848.6 596.9,851.1 602.8,853.3 608.7,855.2 614.5,856.9 614.5,864.9 151.4,864.9Z" fill="#453581" fill-opacity="0.2" stroke="#453581" stroke-opacity="0.2" stroke-width="2"/>
<path d="M151.4,864.6 156.7,864.6 162.1,864.5 167.4,864.4 172.8,864.3 178.1,864.2 183.5,864.0 188.8,863.9 194.2,863.7 199.5,863.5 204.9,863.2 210.2,862.9 215.6,862.6 220.9,862.2 226.3,861.8 231.6,861.3 237.0,860.7 242.3,860.1 247.7,859.4 253.0,858.6 258.4,857.8 263.7,856.8 269.1,855.8 274.4,854.7 279.8,853.4 285.1,852.1 290.4,850.6 295.8,849.0 301.1,847.3 306.5,845.5 311.8,843.6 317.2,841.6 322.5,839.4 327.9,837.2 333.2,834.9 338.6,832.5 343.9,830.0 349.3,827.5 354.6,824.9 360.0,822.3 365.3,819.7 370.7,817.0 376.0,814.4 381.4,811.9 386.7,809.4 392.1,806.9 397.4,804.6 402.8,802.4 408.1,800.3 413.5,798.4 418.8,796.7 424.2,795.2 429.5,793.9 434.9,792.8 440.2,791.9 445.6,791.3 450.9,791.0 456.3,790.8 461.6,791.2 467.0,792.2 472.3,793.7 477.7,795.8 483.0,798.5 488.3,801.5 493.7,804.9 499.0,808.7 504.4,812.6 509.7,816.7 515.1,820.8 520.4,824.9 525.8,828.9 531.1,832.8 536.5,836.6 541.8,840.1 547.2,843.3 552.5,846.3 557.9,849.0 563.2,851.4 568.6,853.6 573.9,855.5 573.9,864.9 151.4,864.9Z" fill="#3d4d8a" fill-opacity="0.2" stroke="#3d4d8a" stroke-opacity="0.2" stroke-width="2"/>
<path d="M151.4,864.5 155.9,864.4 160.3,864.3 164.8,864.2 169.2,864.1 173.7,863.9 178.2,863.8 182.6,863.6 187.1,863.3 191.6,863.0 196.0,862.7 200.5,862.3 205.0,861.9 209.4,861.4 213.9,860.9 218.4,860.2 222.8,859.5 227.3,858.8 231.8,857.9 236.2,856.9 240.7,855.9 245.2,854.7 249.6,853.4 254.1,852.0 258.6,850.5 263.0,848.9 267.5,847.1 272.0,845.2 276.4,843.2 280.9,841.1 285.4,838.8 289.8,836.5 294.3,834.0 298.8,831.5 303.2,828.8 307.7,826.1 312.2,823.3 316.6,820.5 321.1,817.7 325.6,814.8 330.0,812.0 334.5,809.2 339.0,806.4 343.4,803.8 347.9,801.2 352.4,798.8 356.8,796.5 361.3,794.4 365.8,792.5 370.2,790.8 374.7,789.3 379.2,788.0 383.6,787.0 388.1,786.3 392.6,785.8 397.0,785.7 401.5,785.9 406.0,786.7 410.4,788.0 414.9,789.9 419.3,792.3 423.8,795.2 428.3,798.4 432.7,802.0 437.2,805.8 441.7,809.8 446.1,813.9 450.6,818.0 455.1,822.2 459.5,826.2 464.0,830.2 468.5,833.9 472.9,837.5 477.4,840.8 481.9,843.9 486.3,846.8 490.8,849.3 495.3,851.6 499.7,853.7 504.2,855.5 504.2,864.9 151.4,864.9Z" fill="#34618d" fill-opacity="0.2" stroke="#34618d" stroke-opacity="0.2" stroke-width="2"/>
<path d="M151.4,864.3 155.0,864.2 158.7,864.1 162.3,863.9 166.0,863.8 169.6,863.6 173.3,863.3 176.9,863.1 180.6,862.8 184.2,862.4 187.9,862.0 191.5,861.6 195.1,861.1 198.8,860.5 202.4,859.9 206.1,859.1 209.7,858.3 213.4,857.5 217.0,856.5 220.7,855.4 224.3,854.2 228.0,853.0 231.6,851.6 235.3,850.1 238.9,848.4 242.5,846.7 246.2,844.8 249.8,842.8 253.5,840.7 257.1,838.5 260.8,836.1 264.4,833.6 268.1,831.1 271.7,828.4 275.4,825.7 279.0,822.9 282.7,820.0 286.3,817.1 290.0,814.1 293.6,811.2 297.2,808.2 300.9,805.3 304.5,802.4 308.2,799.6 311.8,796.9 315.5,794.3 319.1,791.8 322.8,789.5 326.4,787.3 330.1,785.3 333.7,783.6 337.4,782.0 341.0,780.7 344.7,779.7 348.3,778.9 351.9,778.4 355.6,778.1 359.2,778.2 362.9,779.1 366.5,780.6 370.2,782.8 373.8,785.7 377.5,789.1 381.1,793.0 384.8,797.3 388.4,801.9 392.1,806.7 395.7,811.6 399.4,816.5 403.0,821.3 406.6,826.0 410.3,830.5 413.9,834.7 417.6,838.7 421.2,842.3 424.9,845.6 428.5,848.5 432.2,851.2 435.8,853.5 439.5,855.5 439.5,864.9 151.4,864.9Z" fill="#2b748e" fill-opacity="0.2" stroke="#2b748e" stroke-opacity="0.2" stroke-width="2"/>
<path d="M151.4,863.5 154.3,863.3 157.2,863.0 160.1,862.7 163.0,862.4 165.9,862.0 168.8,861.6 171.8,861.2 174.7,860.7 177.6,860.1 180.5,859.5 183.4,858.8 186.3,858.0 189.2,857.1 192.1,856.2 195.0,855.2 197.9,854.1 200.8,852.8 203.8,851.5 206.7,850.0 209.6,848.5 212.5,846.8 215.4,845.0 218.3,843.1 221.2,841.0 224.1,838.8 227.0,836.5 229.9,834.0 232.9,831.4 235.8,828.7 238.7,825.9 241.6,822.9 244.5,819.9 247.4,816.7 250.3,813.5 253.2,810.1 256.1,806.7 259.0,803.3 261.9,799.8 264.9,796.3 267.8,792.7 270.7,789.2 273.6,785.8 276.5,782.4 279.4,779.1 282.3,775.8 285.2,772.8 288.1,769.8 291.0,767.1 293.9,764.5 296.9,762.2 299.8,760.1 302.7,758.3 305.6,756.8 308.5,755.6 311.4,754.7 314.3,754.2 317.2,754.1 320.1,754.8 323.0,756.4 326.0,759.0 328.9,762.3 331.8,766.4 334.7,771.2 337.6,776.5 340.5,782.2 343.4,788.2 346.3,794.3 349.2,800.6 352.1,806.7 355.0,812.8 358.0,818.6 360.9,824.1 363.8,829.3 366.7,834.0 369.6,838.4 372.5,842.4 375.4,845.9 378.3,849.0 381.2,851.7 381.2,864.9 151.4,864.9Z" fill="#24878e" fill-opacity="0.2" stroke="#24878e" stroke-opacity="0.2" stroke-width="2"/>
<path d="M151.4,860.7 153.8,860.2 156.1,859.7 158.5,859.1 160.9,858.5 163.3,857.9 165.6,857.2 168.0,856.4 170.4,855.6 172.8,854.6 175.1,853.7 177.5,852.6 179.9,851.5 182.3,850.2 184.6,848.9 187.0,847.5 189.4,846.0 191.8,844.4 194.2,842.7 196.5,840.9 198.9,838.9 201.3,836.9 203.7,834.7 206.0,832.5 208.4,830.1 210.8,827.5 213.2,824.9 215.5,822.1 217.9,819.2 220.3,816.2 222.7,813.1 225.0,809.9 227.4,806.6 229.8,803.2 232.2,799.6 234.5,796.0 236.9,792.3 239.3,788.6 241.7,784.8 244.1,781.0 246.4,777.1 248.8,773.2 251.2,769.4 253.6,765.6 255.9,761.8 258.3,758.1 260.7,754.5 263.1,751.0 265.4,747.7 267.8,744.5 270.2,741.5 272.6,738.8 274.9,736.4 277.3,734.2 279.7,732.4 282.1,731.1 284.4,730.2 286.8,730.1 289.2,731.2 291.6,733.3 293.9,736.6 296.3,740.8 298.7,746.0 301.1,751.9 303.5,758.4 305.8,765.4 308.2,772.7 310.6,780.3 313.0,787.8 315.3,795.3 317.7,802.6 320.1,809.7 322.5,816.3 324.8,822.5 327.2,828.3 329.6,833.5 332.0,838.2 334.3,842.4 336.7,846.1 339.1,849.3 339.1,864.9 151.4,864.9Z" fill="#1f998a" fill-opacity="0.2" stroke="#1f998a" stroke-opacity="0.2" stroke-width="2"/>
<path d="M151.4,859.2 153.4,858.7 155.5,858.0 157.5,857.3 159.6,856.6 161.6,855.8 163.6,854.9 165.7,853.9 167.7,852.9 169.8,851.8 171.8,850.6 173.8,849.3 175.9,847.9 177.9,846.3 180.0,844.7 182.0,843.0 184.0,841.2 186.1,839.2 188.1,837.1 190.2,834.9 192.2,832.5 194.3,830.0 196.3,827.3 198.3,824.5 200.4,821.5 202.4,818.4 204.5,815.1 206.5,811.6 208.5,808.0 210.6,804.3 212.6,800.3 214.7,796.2 216.7,792.0 218.8,787.6 220.8,783.1 222.8,778.5 224.9,773.7 226.9,768.8 229.0,763.8 231.0,758.7 233.0,753.6 235.1,748.4 237.1,743.3 239.2,738.1 241.2,732.9 243.3,727.8 245.3,722.8 247.3,717.9 249.4,713.2 251.4,708.7 253.5,704.4 255.5,700.5 257.5,696.9 259.6,693.8 261.6,691.2 263.7,689.3 265.7,688.5 267.7,689.3 269.8,691.5 271.8,695.1 273.9,699.9 275.9,705.9 278.0,712.8 280.0,720.7 282.0,729.2 284.1,738.2 286.1,747.6 288.2,757.2 290.2,766.8 292.2,776.2 294.3,785.4 296.3,794.2 298.4,802.5 300.4,810.3 302.5,817.5 304.5,824.0 306.5,830.0 308.6,835.3 310.6,840.0 312.7,844.1 312.7,864.9 151.4,864.9Z" fill="#25ac82" fill-opacity="0.2" stroke="#25ac82" stroke-opacity="0.2" stroke-width="2"/>
<path d="M151.4,857.8 153.3,857.1 155.2,856.3 157.1,855.5 159.0,854.5 160.9,853.5 162.8,852.4 164.7,851.2 166.6,850.0 168.4,848.6 170.3,847.1 172.2,845.5 174.1,843.8 176.0,841.9 177.9,839.9 179.8,837.8 181.7,835.5 183.6,833.1 185.5,830.5 187.4,827.8 189.3,824.9 191.2,821.8 193.1,818.6 195.0,815.1 196.9,811.5 198.8,807.7 200.7,803.7 202.6,799.5 204.5,795.1 206.4,790.5 208.3,785.8 210.2,780.8 212.1,775.7 214.0,770.4 215.8,765.0 217.7,759.4 219.6,753.6 221.5,747.7 223.4,741.7 225.3,735.7 227.2,729.5 229.1,723.3 231.0,717.1 232.9,711.0 234.8,704.8 236.7,698.8 238.6,692.8 240.5,687.1 242.4,681.5 244.3,676.3 246.2,671.3 248.1,666.8 250.0,662.7 251.9,659.2 253.8,656.4 255.7,654.5 257.6,654.2 259.5,655.8 261.4,659.0 263.2,663.9 265.1,670.1 267.0,677.7 268.9,686.5 270.8,696.1 272.7,706.6 274.6,717.6 276.5,728.9 278.4,740.4 280.3,751.8 282.2,763.0 284.1,773.8 286.0,784.1 287.9,793.8 289.8,802.9 291.7,811.2 293.6,818.8 295.5,825.6 297.4,831.7 299.3,837.1 301.2,841.8 301.2,864.9 151.4,864.9Z" fill="#40bd72" fill-opacity="0.2" stroke="#40bd72" stroke-opacity="0.2" stroke-width="2"/>
<path d="M151.4,855.9 153.0,855.1 154.7,854.1 156.4,853.0 158.0,851.9 159.7,850.7 161.4,849.3 163.0,847.9 164.7,846.3 166.4,844.6 168.0,842.8 169.7,840.8 171.3,838.7 173.0,836.5 174.7,834.0 176.3,831.4 178.0,828.7 179.7,825.7 181.3,822.5 183.0,819.1 184.6,815.5 186.3,811.7 188.0,807.7 189.6,803.4 191.3,798.9 193.0,794.1 194.6,789.1 196.3,783.8 198.0,778.3 199.6,772.5 201.3,766.4 202.9,760.1 204.6,753.5 206.3,746.7 207.9,739.7 209.6,732.4 211.3,724.9 212.9,717.2 214.6,709.4 216.3,701.4 217.9,693.3 219.6,685.1 221.2,676.9 222.9,668.6 224.6,660.4 226.2,652.3 227.9,644.4 229.6,636.8 231.2,629.4 232.9,622.6 234.5,616.3 236.2,610.7 237.9,606.1 239.5,602.8 241.2,602.5 242.9,604.4 244.5,608.0 246.2,613.3 247.9,620.2 249.5,628.5 251.2,638.1 252.8,648.8 254.5,660.3 256.2,672.6 257.8,685.3 259.5,698.4 261.2,711.5 262.8,724.6 264.5,737.4 266.1,749.9 267.8,761.8 269.5,773.1 271.1,783.8 272.8,793.7 274.5,802.8 276.1,811.1 277.8,818.6 279.5,825.3 281.1,831.3 282.8,836.6 282.8,864.9 151.4,864.9Z" fill="#67cc5c" fill-opacity="0.2" stroke="#67cc5c" stroke-opacity="0.2" stroke-width="2"/>
<path d="M151.4,854.5 153.0,853.4 154.7,852.3 156.3,851.0 157.9,849.6 159.6,848.1 161.2,846.4 162.9,844.6 164.5,842.7 166.1,840.6 167.8,838.3 169.4,835.9 171.1,833.2 172.7,830.4 174.3,827.3 176.0,824.0 177.6,820.5 179.2,816.7 180.9,812.7 182.5,808.4 184.2,803.8 185.8,798.9 187.4,793.8 189.1,788.3 190.7,782.5 192.4,776.4 194.0,770.0 195.6,763.3 197.3,756.2 198.9,748.8 200.6,741.1 202.2,733.0 203.8,724.7 205.5,716.1 207.1,707.2 208.8,698.1 210.4,688.7 212.0,679.2 213.7,669.5 215.3,659.6 216.9,649.8 218.6,639.9 220.2,630.1 221.9,620.4 223.5,611.0 225.1,601.8 226.8,593.2 228.4,585.1 230.1,577.8 231.7,571.5 233.3,566.6 235.0,564.0 236.6,564.9 238.3,567.7 239.9,572.1 241.5,578.1 243.2,585.7 244.8,594.7 246.4,604.9 248.1,616.2 249.7,628.4 251.4,641.3 253.0,654.8 254.6,668.6 256.3,682.6 257.9,696.5 259.6,710.4 261.2,723.9 262.8,737.0 264.5,749.5 266.1,761.4 267.8,772.7 269.4,783.2 271.0,792.9 272.7,801.9 274.3,810.0 275.9,817.4 277.6,824.0 279.2,830.0 280.9,835.2 280.9,864.9 151.4,864.9Z" fill="#98d83e" fill-opacity="0.2" stroke="#98d83e" stroke-opacity="0.2" stroke-width="2"/>
<path d="M151.4,853.1 152.9,852.1 154.4,850.9 155.9,849.7 157.4,848.3 158.9,846.9 160.5,845.4 162.0,843.7 163.5,842.0 165.0,840.1 166.5,838.0 168.0,835.9 169.5,833.6 171.1,831.1 172.6,828.4 174.1,825.6 175.6,822.7 177.1,819.5 178.6,816.1 180.1,812.6 181.6,808.8 183.2,804.8 184.7,800.6 186.2,796.2 187.7,791.5 189.2,786.6 190.7,781.5 192.2,776.2 193.7,770.5 195.3,764.7 196.8,758.6 198.3,752.3 199.8,745.7 201.3,738.9 202.8,731.8 204.3,724.6 205.9,717.1 207.4,709.5 208.9,701.7 210.4,693.7 211.9,685.6 213.4,677.3 214.9,669.0 216.4,660.7 218.0,652.3 219.5,644.0 221.0,635.8 222.5,627.7 224.0,619.8 225.5,612.2 227.0,605.0 228.5,598.2 230.1,592.0 231.6,586.5 233.1,582.0 234.6,578.8 236.1,578.5 237.6,580.8 239.1,585.2 240.6,591.8 242.2,600.2 243.7,610.4 245.2,622.0 246.7,634.9 248.2,648.8 249.7,663.4 251.2,678.5 252.8,693.8 254.3,709.0 255.8,724.0 257.3,738.6 258.8,752.5 260.3,765.6 261.8,777.9 263.3,789.2 264.9,799.6 266.4,809.0 267.9,817.4 269.4,824.9 270.9,831.4 270.9,864.9 151.4,864.9Z" fill="#cde11d" fill-opacity="0.2" stroke="#cde11d" stroke-opacity="0.2" stroke-width="2"/>
<path d="M151.4,864.4 157.2,864.3 163.1,864.3 169.0,864.2 174.8,864.0 180.7,863.9 186.6,863.7 192.4,863.6 198.3,863.4 204.1,863.2 210.0,862.9 215.9,862.6 221.7,862.3 227.6,862.0 233.5,861.6 239.3,861.2 245.2,860.8 251.0,860.3 256.9,859.8 262.8,859.2 268.6,858.6 274.5,857.9 280.4,857.2 286.2,856.4 292.1,855.6 298.0,854.7 303.8,853.8 309.7,852.8 315.5,851.7 321.4,850.6 327.3,849.5 333.1,848.3 339.0,847.1 344.9,845.9 350.7,844.6 356.6,843.2 362.4,841.9 368.3,840.5 374.2,839.2 380.0,837.8 385.9,836.4 391.8,835.1 397.6,833.7 403.5,832.4 409.3,831.1 415.2,829.9 421.1,828.7 426.9,827.6 432.8,826.6 438.7,825.6 444.5,824.8 450.4,824.0 456.2,823.3 462.1,822.7 468.0,822.3 473.8,821.9 479.7,821.7 485.6,821.5 491.4,821.5 497.3,821.9 503.1,822.6 509.0,823.7 514.9,825.1 520.7,826.8 526.6,828.8 532.5,830.9 538.3,833.2 544.2,835.7 550.0,838.1 555.9,840.6 561.8,843.0 567.6,845.4 573.5,847.7 579.4,849.8 585.2,851.8 591.1,853.6 596.9,855.3 602.8,856.8 608.7,858.1 614.5,859.2" fill="none" stroke="#440154" stroke-width="4.6" stroke-linejoin="round" stroke-linecap="round"/>
<path d="M151.4,864.0 157.2,863.8 163.1,863.6 169.0,863.4 174.8,863.2 180.7,862.9 186.6,862.6 192.4,862.3 198.3,861.9 204.1,861.5 210.0,861.0 215.9,860.5 221.7,859.9 227.6,859.3 233.5,858.6 239.3,857.8 245.2,857.0 251.0,856.0 256.9,855.0 262.8,854.0 268.6,852.8 274.5,851.5 280.4,850.2 286.2,848.7 292.1,847.2 298.0,845.6 303.8,843.8 309.7,842.0 315.5,840.1 321.4,838.1 327.3,836.1 333.1,833.9 339.0,831.7 344.9,829.5 350.7,827.1 356.6,824.8 362.4,822.4 368.3,820.0 374.2,817.6 380.0,815.1 385.9,812.7 391.8,810.4 397.6,808.1 403.5,805.8 409.3,803.6 415.2,801.6 421.1,799.6 426.9,797.7 432.8,796.0 438.7,794.5 444.5,793.1 450.4,791.8 456.2,790.8 462.1,789.9 468.0,789.3 473.8,788.8 479.7,788.5 485.6,788.5 491.4,789.1 497.3,790.4 503.1,792.3 509.0,794.9 514.9,798.1 520.7,801.7 526.6,805.6 532.5,809.9 538.3,814.3 544.2,818.9 550.0,823.4 555.9,827.8 561.8,832.1 567.6,836.2 573.5,840.0 579.4,843.5 585.2,846.6 591.1,849.5 596.9,852.0 602.8,854.3 608.7,856.2 614.5,857.8" fill="none" stroke="#481c6e" stroke-width="4.6" stroke-linejoin="round" stroke-linecap="round"/>
<path d="M151.4,863.5 157.2,863.3 163.1,863.0 169.0,862.7 174.8,862.4 180.7,862.1 186.6,861.7 192.4,861.2 198.3,860.7 204.1,860.2 210.0,859.6 215.9,858.9 221.7,858.2 227.6,857.4 233.5,856.5 239.3,855.6 245.2,854.6 251.0,853.4 256.9,852.3 262.8,851.0 268.6,849.6 274.5,848.1 280.4,846.6 286.2,844.9 292.1,843.2 298.0,841.3 303.8,839.4 309.7,837.4 315.5,835.3 321.4,833.1 327.3,830.9 333.1,828.6 339.0,826.3 344.9,823.9 350.7,821.5 356.6,819.0 362.4,816.5 368.3,814.1 374.2,811.6 380.0,809.2 385.9,806.9 391.8,804.5 397.6,802.3 403.5,800.1 409.3,798.1 415.2,796.2 421.1,794.3 426.9,792.7 432.8,791.2 438.7,789.8 444.5,788.6 450.4,787.7 456.2,786.9 462.1,786.3 468.0,785.9 473.8,785.7 479.7,785.8 485.6,786.5 491.4,787.8 497.3,789.8 503.1,792.2 509.0,795.2 514.9,798.6 520.7,802.4 526.6,806.4 532.5,810.6 538.3,815.0 544.2,819.3 550.0,823.6 555.9,827.8 561.8,831.9 567.6,835.8 573.5,839.4 579.4,842.7 585.2,845.8 591.1,848.6 596.9,851.1 602.8,853.3 608.7,855.2 614.5,856.9" fill="none" stroke="#453581" stroke-width="4.6" stroke-linejoin="round" stroke-linecap="round"/>
<path d="M151.4,864.6 156.7,864.6 162.1,864.5 167.4,864.4 172.8,864.3 178.1,864.2 183.5,864.0 188.8,863.9 194.2,863.7 199.5,863.5 204.9,863.2 210.2,862.9 215.6,862.6 220.9,862.2 226.3,861.8 231.6,861.3 237.0,860.7 242.3,860.1 247.7,859.4 253.0,858.6 258.4,857.8 263.7,856.8 269.1,855.8 274.4,854.7 279.8,853.4 285.1,852.1 290.4,850.6 295.8,849.0 301.1,847.3 306.5,845.5 311.8,843.6 317.2,841.6 322.5,839.4 327.9,837.2 333.2,834.9 338.6,832.5 343.9,830.0 349.3,827.5 354.6,824.9 360.0,822.3 365.3,819.7 370.7,817.0 376.0,814.4 381.4,811.9 386.7,809.4 392.1,806.9 397.4,804.6 402.8,802.4 408.1,800.3 413.5,798.4 418.8,796.7 424.2,795.2 429.5,793.9 434.9,792.8 440.2,791.9 445.6,791.3 450.9,791.0 456.3,790.8 461.6,791.2 467.0,792.2 472.3,793.7 477.7,795.8 483.0,798.5 488.3,801.5 493.7,804.9 499.0,808.7 504.4,812.6 509.7,816.7 515.1,820.8 520.4,824.9 525.8,828.9 531.1,832.8 536.5,836.6 541.8,840.1 547.2,843.3 552.5,846.3 557.9,849.0 563.2,851.4 568.6,853.6 573.9,855.5" fill="none" stroke="#3d4d8a" stroke-width="4.6" stroke-linejoin="round" stroke-linecap="round"/>
<path d="M151.4,864.5 155.9,864.4 160.3,864.3 164.8,864.2 169.2,864.1 173.7,863.9 178.2,863.8 182.6,863.6 187.1,863.3 191.6,863.0 196.0,862.7 200.5,862.3 205.0,861.9 209.4,861.4 213.9,860.9 218.4,860.2 222.8,859.5 227.3,858.8 231.8,857.9 236.2,856.9 240.7,855.9 245.2,854.7 249.6,853.4 254.1,852.0 258.6,850.5 263.0,848.9 267.5,847.1 272.0,845.2 276.4,843.2 280.9,841.1 285.4,838.8 289.8,836.5 294.3,834.0 298.8,831.5 303.2,828.8 307.7,826.1 312.2,823.3 316.6,820.5 321.1,817.7 325.6,814.8 330.0,812.0 334.5,809.2 339.0,806.4 343.4,803.8 347.9,801.2 352.4,798.8 356.8,796.5 361.3,794.4 365.8,792.5 370.2,790.8 374.7,789.3 379.2,788.0 383.6,787.0 388.1,786.3 392.6,785.8 397.0,785.7 401.5,785.9 406.0,786.7 410.4,788.0 414.9,789.9 419.3,792.3 423.8,795.2 428.3,798.4 432.7,802.0 437.2,805.8 441.7,809.8 446.1,813.9 450.6,818.0 455.1,822.2 459.5,826.2 464.0,830.2 468.5,833.9 472.9,837.5 477.4,840.8 481.9,843.9 486.3,846.8 490.8,849.3 495.3,851.6 499.7,853.7 504.2,855.5" fill="none" stroke="#34618d" stroke-width="4.6" stroke-linejoin="round" stroke-linecap="round"/>
<path d="M151.4,864.3 155.0,864.2 158.7,864.1 162.3,863.9 166.0,863.8 169.6,863.6 173.3,863.3 176.9,863.1 180.6,862.8 184.2,862.4 187.9,862.0 191.5,861.6 195.1,861.1 198.8,860.5 202.4,859.9 206.1,859.1 209.7,858.3 213.4,857.5 217.0,856.5 220.7,855.4 224.3,854.2 228.0,853.0 231.6,851.6 235.3,850.1 238.9,848.4 242.5,846.7 246.2,844.8 249.8,842.8 253.5,840.7 257.1,838.5 260.8,836.1 264.4,833.6 268.1,831.1 271.7,828.4 275.4,825.7 279.0,822.9 282.7,820.0 286.3,817.1 290.0,814.1 293.6,811.2 297.2,808.2 300.9,805.3 304.5,802.4 308.2,799.6 311.8,796.9 315.5,794.3 319.1,791.8 322.8,789.5 326.4,787.3 330.1,785.3 333.7,783.6 337.4,782.0 341.0,780.7 344.7,779.7 348.3,778.9 351.9,778.4 355.6,778.1 359.2,778.2 362.9,779.1 366.5,780.6 370.2,782.8 373.8,785.7 377.5,789.1 381.1,793.0 384.8,797.3 388.4,801.9 392.1,806.7 395.7,811.6 399.4,816.5 403.0,821.3 406.6,826.0 410.3,830.5 413.9,834.7 417.6,838.7 421.2,842.3 424.9,845.6 428.5,848.5 432.2,851.2 435.8,853.5 439.5,855.5" fill="none" stroke="#2b748e" stroke-width="4.6" stroke-linejoin="round" stroke-linecap="round"/>
<path d="M151.4,863.5 154.3,863.3 157.2,863.0 160.1,862.7 163.0,862.4 165.9,862.0 168.8,861.6 171.8,861.2 174.7,860.7 177.6,860.1 180.5,859.5 183.4,858.8 186.3,858.0 189.2,857.1 192.1,856.2 195.0,855.2 197.9,854.1 200.8,852.8 203.8,851.5 206.7,850.0 209.6,848.5 212.5,846.8 215.4,845.0 218.3,843.1 221.2,841.0 224.1,838.8 227.0,836.5 229.9,834.0 232.9,831.4 235.8,828.7 238.7,825.9 241.6,822.9 244.5,819.9 247.4,816.7 250.3,813.5 253.2,810.1 256.1,806.7 259.0,803.3 261.9,799.8 264.9,796.3 267.8,792.7 270.7,789.2 273.6,785.8 276.5,782.4 279.4,779.1 282.3,775.8 285.2,772.8 288.1,769.8 291.0,767.1 293.9,764.5 296.9,762.2 299.8,760.1 302.7,758.3 305.6,756.8 308.5,755.6 311.4,754.7 314.3,754.2 317.2,754.1 320.1,754.8 323.0,756.4 326.0,759.0 328.9,762.3 331.8,766.4 334.7,771.2 337.6,776.5 340.5,782.2 343.4,788.2 346.3,794.3 349.2,800.6 352.1,806.7 355.0,812.8 358.0,818.6 360.9,824.1 363.8,829.3 366.7,834.0 369.6,838.4 372.5,842.4 375.4,845.9 378.3,849.0 381.2,851.7" fill="none" stroke="#24878e" stroke-width="4.6" stroke-linejoin="round" stroke-linecap="round"/>
<path d="M151.4,860.7 153.8,860.2 156.1,859.7 158.5,859.1 160.9,858.5 163.3,857.9 165.6,857.2 168.0,856.4 170.4,855.6 172.8,854.6 175.1,853.7 177.5,852.6 179.9,851.5 182.3,850.2 184.6,848.9 187.0,847.5 189.4,846.0 191.8,844.4 194.2,842.7 196.5,840.9 198.9,838.9 201.3,836.9 203.7,834.7 206.0,832.5 208.4,830.1 210.8,827.5 213.2,824.9 215.5,822.1 217.9,819.2 220.3,816.2 222.7,813.1 225.0,809.9 227.4,806.6 229.8,803.2 232.2,799.6 234.5,796.0 236.9,792.3 239.3,788.6 241.7,784.8 244.1,781.0 246.4,777.1 248.8,773.2 251.2,769.4 253.6,765.6 255.9,761.8 258.3,758.1 260.7,754.5 263.1,751.0 265.4,747.7 267.8,744.5 270.2,741.5 272.6,738.8 274.9,736.4 277.3,734.2 279.7,732.4 282.1,731.1 284.4,730.2 286.8,730.1 289.2,731.2 291.6,733.3 293.9,736.6 296.3,740.8 298.7,746.0 301.1,751.9 303.5,758.4 305.8,765.4 308.2,772.7 310.6,780.3 313.0,787.8 315.3,795.3 317.7,802.6 320.1,809.7 322.5,816.3 324.8,822.5 327.2,828.3 329.6,833.5 332.0,838.2 334.3,842.4 336.7,846.1 339.1,849.3" fill="none" stroke="#1f998a" stroke-width="4.6" stroke-linejoin="round" stroke-linecap="round"/>
<path d="M151.4,859.2 153.4,858.7 155.5,858.0 157.5,857.3 159.6,856.6 161.6,855.8 163.6,854.9 165.7,853.9 167.7,852.9 169.8,851.8 171.8,850.6 173.8,849.3 175.9,847.9 177.9,846.3 180.0,844.7 182.0,843.0 184.0,841.2 186.1,839.2 188.1,837.1 190.2,834.9 192.2,832.5 194.3,830.0 196.3,827.3 198.3,824.5 200.4,821.5 202.4,818.4 204.5,815.1 206.5,811.6 208.5,808.0 210.6,804.3 212.6,800.3 214.7,796.2 216.7,792.0 218.8,787.6 220.8,783.1 222.8,778.5 224.9,773.7 226.9,768.8 229.0,763.8 231.0,758.7 233.0,753.6 235.1,748.4 237.1,743.3 239.2,738.1 241.2,732.9 243.3,727.8 245.3,722.8 247.3,717.9 249.4,713.2 251.4,708.7 253.5,704.4 255.5,700.5 257.5,696.9 259.6,693.8 261.6,691.2 263.7,689.3 265.7,688.5 267.7,689.3 269.8,691.5 271.8,695.1 273.9,699.9 275.9,705.9 278.0,712.8 280.0,720.7 282.0,729.2 284.1,738.2 286.1,747.6 288.2,757.2 290.2,766.8 292.2,776.2 294.3,785.4 296.3,794.2 298.4,802.5 300.4,810.3 302.5,817.5 304.5,824.0 306.5,830.0 308.6,835.3 310.6,840.0 312.7,844.1" fill="none" stroke="#25ac82" stroke-width="4.6" stroke-linejoin="round" stroke-linecap="round"/>
<path d="M151.4,857.8 153.3,857.1 155.2,856.3 157.1,855.5 159.0,854.5 160.9,853.5 162.8,852.4 164.7,851.2 166.6,850.0 168.4,848.6 170.3,847.1 172.2,845.5 174.1,843.8 176.0,841.9 177.9,839.9 179.8,837.8 181.7,835.5 183.6,833.1 185.5,830.5 187.4,827.8 189.3,824.9 191.2,821.8 193.1,818.6 195.0,815.1 196.9,811.5 198.8,807.7 200.7,803.7 202.6,799.5 204.5,795.1 206.4,790.5 208.3,785.8 210.2,780.8 212.1,775.7 214.0,770.4 215.8,765.0 217.7,759.4 219.6,753.6 221.5,747.7 223.4,741.7 225.3,735.7 227.2,729.5 229.1,723.3 231.0,717.1 232.9,711.0 234.8,704.8 236.7,698.8 238.6,692.8 240.5,687.1 242.4,681.5 244.3,676.3 246.2,671.3 248.1,666.8 250.0,662.7 251.9,659.2 253.8,656.4 255.7,654.5 257.6,654.2 259.5,655.8 261.4,659.0 263.2,663.9 265.1,670.1 267.0,677.7 268.9,686.5 270.8,696.1 272.7,706.6 274.6,717.6 276.5,728.9 278.4,740.4 280.3,751.8 282.2,763.0 284.1,773.8 286.0,784.1 287.9,793.8 289.8,802.9 291.7,811.2 293.6,818.8 295.5,825.6 297.4,831.7 299.3,837.1 301.2,841.8" fill="none" stroke="#40bd72" stroke-width="4.6" stroke-linejoin="round" stroke-linecap="round"/>
<path d="M151.4,855.9 153.0,855.1 154.7,854.1 156.4,853.0 158.0,851.9 159.7,850.7 161.4,849.3 163.0,847.9 164.7,846.3 166.4,844.6 168.0,842.8 169.7,840.8 171.3,838.7 173.0,836.5 174.7,834.0 176.3,831.4 178.0,828.7 179.7,825.7 181.3,822.5 183.0,819.1 184.6,815.5 186.3,811.7 188.0,807.7 189.6,803.4 191.3,798.9 193.0,794.1 194.6,789.1 196.3,783.8 198.0,778.3 199.6,772.5 201.3,766.4 202.9,760.1 204.6,753.5 206.3,746.7 207.9,739.7 209.6,732.4 211.3,724.9 212.9,717.2 214.6,709.4 216.3,701.4 217.9,693.3 219.6,685.1 221.2,676.9 222.9,668.6 224.6,660.4 226.2,652.3 227.9,644.4 229.6,636.8 231.2,629.4 232.9,622.6 234.5,616.3 236.2,610.7 237.9,606.1 239.5,602.8 241.2,602.5 242.9,604.4 244.5,608.0 246.2,613.3 247.9,620.2 249.5,628.5 251.2,638.1 252.8,648.8 254.5,660.3 256.2,672.6 257.8,685.3 259.5,698.4 261.2,711.5 262.8,724.6 264.5,737.4 266.1,749.9 267.8,761.8 269.5,773.1 271.1,783.8 272.8,793.7 274.5,802.8 276.1,811.1 277.8,818.6 279.5,825.3 281.1,831.3 282.8,836.6" fill="none" stroke="#67cc5c" stroke-width="4.6" stroke-linejoin="round" stroke-linecap="round"/>
<path d="M151.4,854.5 153.0,853.4 154.7,852.3 156.3,851.0 157.9,849.6 159.6,848.1 161.2,846.4 162.9,844.6 164.5,842.7 166.1,840.6 167.8,838.3 169.4,835.9 171.1,833.2 172.7,830.4 174.3,827.3 176.0,824.0 177.6,820.5 179.2,816.7 180.9,812.7 182.5,808.4 184.2,803.8 185.8,798.9 187.4,793.8 189.1,788.3 190.7,782.5 192.4,776.4 194.0,770.0 195.6,763.3 197.3,756.2 198.9,748.8 200.6,741.1 202.2,733.0 203.8,724.7 205.5,716.1 207.1,707.2 208.8,698.1 210.4,688.7 212.0,679.2 213.7,669.5 215.3,659.6 216.9,649.8 218.6,639.9 220.2,630.1 221.9,620.4 223.5,611.0 225.1,601.8 226.8,593.2 228.4,585.1 230.1,577.8 231.7,571.5 233.3,566.6 235.0,564.0 236.6,564.9 238.3,567.7 239.9,572.1 241.5,578.1 243.2,585.7 244.8,594.7 246.4,604.9 248.1,616.2 249.7,628.4 251.4,641.3 253.0,654.8 254.6,668.6 256.3,682.6 257.9,696.5 259.6,710.4 261.2,723.9 262.8,737.0 264.5,749.5 266.1,761.4 267.8,772.7 269.4,783.2 271.0,792.9 272.7,801.9 274.3,810.0 275.9,817.4 277.6,824.0 279.2,830.0 280.9,835.2" fill="none" stroke="#98d83e" stroke-width="4.6" stroke-linejoin="round" stroke-linecap="round"/>
<path d="M151.4,853.1 152.9,852.1 154.4,850.9 155.9,849.7 157.4,848.3 158.9,846.9 160.5,845.4 162.0,843.7 163.5,842.0 165.0,840.1 166.5,838.0 168.0,835.9 169.5,833.6 171.1,831.1 172.6,828.4 174.1,825.6 175.6,822.7 177.1,819.5 178.6,816.1 180.1,812.6 181.6,808.8 183.2,804.8 184.7,800.6 186.2,796.2 187.7,791.5 189.2,786.6 190.7,781.5 192.2,776.2 193.7,770.5 195.3,764.7 196.8,758.6 198.3,752.3 199.8,745.7 201.3,738.9 202.8,731.8 204.3,724.6 205.9,717.1 207.4,709.5 208.9,701.7 210.4,693.7 211.9,685.6 213.4,677.3 214.9,669.0 216.4,660.7 218.0,652.3 219.5,644.0 221.0,635.8 222.5,627.7 224.0,619.8 225.5,612.2 227.0,605.0 228.5,598.2 230.1,592.0 231.6,586.5 233.1,582.0 234.6,578.8 236.1,578.5 237.6,580.8 239.1,585.2 240.6,591.8 242.2,600.2 243.7,610.4 245.2,622.0 246.7,634.9 248.2,648.8 249.7,663.4 251.2,678.5 252.8,693.8 254.3,709.0 255.8,724.0 257.3,738.6 258.8,752.5 260.3,765.6 261.8,777.9 263.3,789.2 264.9,799.6 266.4,809.0 267.9,817.4 269.4,824.9 270.9,831.4" fill="none" stroke="#cde11d" stroke-width="4.6" stroke-linejoin="round" stroke-linecap="round"/>
</g>
<path d="M129.0,550.0 H638.3 M129.0,880.3 H638.3" fill="none" stroke="#c8c8c8" stroke-width="1.8"/>
<path d="M129.0,549.1 V881.1999999999999 M638.3,549.1 V881.1999999999999" fill="none" stroke="#c8c8c8" stroke-width="1.3"/>
<text transform="translate(153.30,912.10) scale(1,1.06)" font-family="'Liberation Serif', 'Times New Roman', serif" font-size="36.3" text-anchor="middle" fill="#262626">0</text>
<text transform="translate(229.92,912.10) scale(1,1.06)" font-family="'Liberation Serif', 'Times New Roman', serif" font-size="36.3" text-anchor="middle" fill="#262626">20</text>
<text transform="translate(306.53,912.10) scale(1,1.06)" font-family="'Liberation Serif', 'Times New Roman', serif" font-size="36.3" text-anchor="middle" fill="#262626">40</text>
<text transform="translate(383.15,912.10) scale(1,1.06)" font-family="'Liberation Serif', 'Times New Roman', serif" font-size="36.3" text-anchor="middle" fill="#262626">60</text>
<text transform="translate(459.77,912.10) scale(1,1.06)" font-family="'Liberation Serif', 'Times New Roman', serif" font-size="36.3" text-anchor="middle" fill="#262626">80</text>
<text transform="translate(536.38,912.10) scale(1,1.06)" font-family="'Liberation Serif', 'Times New Roman', serif" font-size="36.3" text-anchor="middle" fill="#262626">100</text>
<text transform="translate(613.00,912.10) scale(1,1.06)" font-family="'Liberation Serif', 'Times New Roman', serif" font-size="36.3" text-anchor="middle" fill="#262626">120</text>
<text transform="translate(121.40,877.59) scale(1,1.06)" font-family="'Liberation Serif', 'Times New Roman', serif" font-size="36.3" text-anchor="end" fill="#262626">0.00</text>
<text transform="translate(121.40,830.43) scale(1,1.06)" font-family="'Liberation Serif', 'Times New Roman', serif" font-size="36.3" text-anchor="end" fill="#262626">0.01</text>
<text transform="translate(121.40,783.26) scale(1,1.06)" font-family="'Liberation Serif', 'Times New Roman', serif" font-size="36.3" text-anchor="end" fill="#262626">0.02</text>
<text transform="translate(121.40,736.09) scale(1,1.06)" font-family="'Liberation Serif', 'Times New Roman', serif" font-size="36.3" text-anchor="end" fill="#262626">0.03</text>
<text transform="translate(121.40,688.93) scale(1,1.06)" font-family="'Liberation Serif', 'Times New Roman', serif" font-size="36.3" text-anchor="end" fill="#262626">0.04</text>
<text transform="translate(121.40,641.76) scale(1,1.06)" font-family="'Liberation Serif', 'Times New Roman', serif" font-size="36.3" text-anchor="end" fill="#262626">0.05</text>
<text transform="translate(121.40,594.59) scale(1,1.06)" font-family="'Liberation Serif', 'Times New Roman', serif" font-size="36.3" text-anchor="end" fill="#262626">0.06</text>
<text x="384.55" y="958.60" font-family="'Liberation Serif', 'Times New Roman', serif" font-size="42.5" text-anchor="middle" fill="#262626">Diameter / μm</text>
<text transform="translate(41.20,718.85) rotate(-90)" x="0" y="0" font-family="'Liberation Serif', 'Times New Roman', serif" font-size="42.5" text-anchor="middle" fill="#262626">PDF</text>
</g>
<g id="plot_e">
<clipPath id="clip_e"><rect x="801.6" y="549.9" width="509.80" height="330.40"/></clipPath>
<line x1="826.00" y1="549.9" x2="826.00" y2="880.3" stroke="#d0d0d0" stroke-width="1.3"/>
<line x1="902.67" y1="549.9" x2="902.67" y2="880.3" stroke="#d0d0d0" stroke-width="1.3"/>
<line x1="979.33" y1="549.9" x2="979.33" y2="880.3" stroke="#d0d0d0" stroke-width="1.3"/>
<line x1="1056.00" y1="549.9" x2="1056.00" y2="880.3" stroke="#d0d0d0" stroke-width="1.3"/>
<line x1="1132.67" y1="549.9" x2="1132.67" y2="880.3" stroke="#d0d0d0" stroke-width="1.3"/>
<line x1="1209.33" y1="549.9" x2="1209.33" y2="880.3" stroke="#d0d0d0" stroke-width="1.3"/>
<line x1="1286.00" y1="549.9" x2="1286.00" y2="880.3" stroke="#d0d0d0" stroke-width="1.3"/>
<line x1="801.6" y1="864.90" x2="1311.4" y2="864.90" stroke="#d0d0d0" stroke-width="1.8"/>
<line x1="801.6" y1="811.00" x2="1311.4" y2="811.00" stroke="#d0d0d0" stroke-width="1.8"/>
<line x1="801.6" y1="757.10" x2="1311.4" y2="757.10" stroke="#d0d0d0" stroke-width="1.8"/>
<line x1="801.6" y1="703.20" x2="1311.4" y2="703.20" stroke="#d0d0d0" stroke-width="1.8"/>
<line x1="801.6" y1="649.30" x2="1311.4" y2="649.30" stroke="#d0d0d0" stroke-width="1.8"/>
<line x1="801.6" y1="595.40" x2="1311.4" y2="595.40" stroke="#d0d0d0" stroke-width="1.8"/>
<g clip-path="url(#clip_e)">
<path d="M824.1,864.4 829.9,864.3 835.8,864.2 841.7,864.1 847.5,864.0 853.4,863.9 859.2,863.7 865.1,863.6 870.9,863.4 876.8,863.3 882.7,863.1 888.5,862.9 894.4,862.6 900.2,862.4 906.1,862.1 911.9,861.8 917.8,861.5 923.6,861.2 929.5,860.8 935.4,860.4 941.2,860.0 947.1,859.6 952.9,859.1 958.8,858.6 964.6,858.1 970.5,857.6 976.4,857.0 982.2,856.4 988.1,855.8 993.9,855.2 999.8,854.6 1005.6,853.9 1011.5,853.2 1017.4,852.5 1023.2,851.8 1029.1,851.1 1034.9,850.4 1040.8,849.7 1046.6,849.0 1052.5,848.3 1058.4,847.6 1064.2,847.0 1070.1,846.3 1075.9,845.7 1081.8,845.1 1087.6,844.5 1093.5,843.9 1099.4,843.4 1105.2,843.0 1111.1,842.5 1116.9,842.1 1122.8,841.8 1128.6,841.5 1134.5,841.3 1140.3,841.1 1146.2,841.0 1152.1,840.9 1157.9,840.9 1163.8,841.1 1169.6,841.5 1175.5,842.1 1181.3,842.9 1187.2,843.8 1193.1,844.9 1198.9,846.2 1204.8,847.5 1210.6,848.8 1216.5,850.2 1222.3,851.6 1228.2,853.0 1234.1,854.3 1239.9,855.6 1245.8,856.8 1251.6,857.9 1257.5,858.9 1263.3,859.8 1269.2,860.6 1275.1,861.3 1280.9,861.9 1286.8,862.5 1286.8,864.9 824.1,864.9Z" fill="#440154" fill-opacity="0.2" stroke="#440154" stroke-opacity="0.2" stroke-width="2"/>
<path d="M824.1,863.8 829.9,863.7 835.8,863.5 841.7,863.3 847.5,863.0 853.4,862.8 859.2,862.5 865.1,862.2 870.9,861.8 876.8,861.4 882.7,861.0 888.5,860.5 894.4,860.0 900.2,859.5 906.1,858.9 911.9,858.2 917.8,857.5 923.6,856.7 929.5,855.9 935.4,855.0 941.2,854.1 947.1,853.1 952.9,852.1 958.8,851.0 964.6,849.9 970.5,848.7 976.4,847.4 982.2,846.2 988.1,844.8 993.9,843.5 999.8,842.1 1005.6,840.7 1011.5,839.2 1017.4,837.8 1023.2,836.3 1029.1,834.9 1034.9,833.4 1040.8,832.0 1046.6,830.6 1052.5,829.3 1058.4,827.9 1064.2,826.7 1070.1,825.5 1075.9,824.4 1081.8,823.3 1087.6,822.4 1093.5,821.5 1099.4,820.7 1105.2,820.1 1111.1,819.5 1116.9,819.1 1122.8,818.8 1128.6,818.6 1134.5,818.5 1140.3,818.7 1146.2,819.3 1152.1,820.3 1157.9,821.5 1163.8,823.2 1169.6,825.0 1175.5,827.2 1181.3,829.5 1187.2,831.9 1193.1,834.4 1198.9,837.0 1204.8,839.6 1210.6,842.1 1216.5,844.6 1222.3,846.9 1228.2,849.1 1234.1,851.2 1239.9,853.0 1245.8,854.7 1251.6,856.3 1257.5,857.7 1263.3,858.9 1269.2,859.9 1275.1,860.8 1280.9,861.6 1286.8,862.2 1286.8,864.9 824.1,864.9Z" fill="#481c6e" fill-opacity="0.2" stroke="#481c6e" stroke-opacity="0.2" stroke-width="2"/>
<path d="M824.1,863.3 829.9,863.1 835.8,862.8 841.7,862.5 847.5,862.2 853.4,861.9 859.2,861.5 865.1,861.1 870.9,860.7 876.8,860.2 882.7,859.6 888.5,859.0 894.4,858.4 900.2,857.7 906.1,857.0 911.9,856.2 917.8,855.4 923.6,854.5 929.5,853.5 935.4,852.5 941.2,851.5 947.1,850.4 952.9,849.2 958.8,848.0 964.6,846.7 970.5,845.4 976.4,844.1 982.2,842.7 988.1,841.3 993.9,839.8 999.8,838.3 1005.6,836.8 1011.5,835.3 1017.4,833.8 1023.2,832.3 1029.1,830.9 1034.9,829.4 1040.8,828.0 1046.6,826.6 1052.5,825.2 1058.4,823.9 1064.2,822.7 1070.1,821.5 1075.9,820.5 1081.8,819.5 1087.6,818.6 1093.5,817.8 1099.4,817.1 1105.2,816.5 1111.1,816.0 1116.9,815.7 1122.8,815.4 1128.6,815.3 1134.5,815.4 1140.3,815.9 1146.2,816.7 1152.1,817.9 1157.9,819.5 1163.8,821.4 1169.6,823.5 1175.5,825.9 1181.3,828.4 1187.2,831.0 1193.1,833.7 1198.9,836.5 1204.8,839.2 1210.6,841.8 1216.5,844.3 1222.3,846.7 1228.2,849.0 1234.1,851.1 1239.9,853.0 1245.8,854.7 1251.6,856.3 1257.5,857.6 1263.3,858.8 1269.2,859.9 1275.1,860.8 1280.9,861.6 1286.8,862.2 1286.8,864.9 824.1,864.9Z" fill="#453581" fill-opacity="0.2" stroke="#453581" stroke-opacity="0.2" stroke-width="2"/>
<path d="M824.1,862.7 829.9,862.5 835.8,862.2 841.7,861.8 847.5,861.5 853.4,861.1 859.2,860.7 865.1,860.2 870.9,859.7 876.8,859.1 882.7,858.5 888.5,857.9 894.4,857.2 900.2,856.5 906.1,855.7 911.9,854.9 917.8,854.0 923.6,853.0 929.5,852.1 935.4,851.0 941.2,850.0 947.1,848.8 952.9,847.7 958.8,846.5 964.6,845.2 970.5,843.9 976.4,842.6 982.2,841.3 988.1,839.9 993.9,838.5 999.8,837.1 1005.6,835.7 1011.5,834.3 1017.4,832.9 1023.2,831.6 1029.1,830.2 1034.9,828.9 1040.8,827.6 1046.6,826.3 1052.5,825.1 1058.4,824.0 1064.2,822.9 1070.1,821.9 1075.9,821.0 1081.8,820.1 1087.6,819.4 1093.5,818.7 1099.4,818.1 1105.2,817.7 1111.1,817.3 1116.9,817.1 1122.8,817.0 1128.6,816.9 1134.5,817.2 1140.3,817.9 1146.2,818.9 1152.1,820.2 1157.9,821.9 1163.8,823.7 1169.6,825.8 1175.5,828.1 1181.3,830.5 1187.2,833.0 1193.1,835.6 1198.9,838.2 1204.8,840.7 1210.6,843.1 1216.5,845.5 1222.3,847.7 1228.2,849.8 1234.1,851.7 1239.9,853.5 1245.8,855.1 1251.6,856.6 1257.5,857.9 1263.3,859.0 1269.2,860.0 1275.1,860.9 1280.9,861.6 1286.8,862.2 1286.8,864.9 824.1,864.9Z" fill="#3d4d8a" fill-opacity="0.2" stroke="#3d4d8a" stroke-opacity="0.2" stroke-width="2"/>
<path d="M824.1,860.9 828.2,860.4 832.2,859.8 836.3,859.2 840.4,858.5 844.5,857.8 848.6,857.0 852.6,856.2 856.7,855.3 860.8,854.3 864.9,853.2 869.0,852.0 873.1,850.8 877.1,849.5 881.2,848.1 885.3,846.7 889.4,845.1 893.5,843.5 897.5,841.7 901.6,840.0 905.7,838.1 909.8,836.1 913.9,834.1 917.9,832.0 922.0,829.9 926.1,827.7 930.2,825.5 934.3,823.2 938.3,820.9 942.4,818.6 946.5,816.3 950.6,814.0 954.7,811.7 958.7,809.4 962.8,807.2 966.9,805.0 971.0,802.9 975.1,800.8 979.2,798.9 983.2,797.0 987.3,795.3 991.4,793.6 995.5,792.1 999.6,790.8 1003.6,789.6 1007.7,788.5 1011.8,787.7 1015.9,787.0 1020.0,786.4 1024.0,786.1 1028.1,785.9 1032.2,786.0 1036.3,786.5 1040.4,787.5 1044.4,788.8 1048.5,790.5 1052.6,792.6 1056.7,795.1 1060.8,797.8 1064.9,800.7 1068.9,803.9 1073.0,807.3 1077.1,810.7 1081.2,814.3 1085.3,817.8 1089.3,821.4 1093.4,824.9 1097.5,828.3 1101.6,831.7 1105.7,834.8 1109.7,837.9 1113.8,840.7 1117.9,843.4 1122.0,845.9 1126.1,848.2 1130.1,850.3 1134.2,852.2 1138.3,853.9 1142.4,855.4 1146.5,856.8 1146.5,864.9 824.1,864.9Z" fill="#34618d" fill-opacity="0.2" stroke="#34618d" stroke-opacity="0.2" stroke-width="2"/>
<path d="M824.1,859.0 827.3,858.3 830.6,857.5 833.8,856.6 837.1,855.7 840.3,854.7 843.6,853.6 846.8,852.5 850.1,851.2 853.3,849.9 856.5,848.4 859.8,846.9 863.0,845.3 866.3,843.5 869.5,841.7 872.8,839.8 876.0,837.8 879.3,835.7 882.5,833.5 885.8,831.2 889.0,828.8 892.3,826.4 895.5,823.9 898.7,821.3 902.0,818.7 905.2,816.1 908.5,813.4 911.7,810.7 915.0,808.0 918.2,805.3 921.5,802.6 924.7,800.0 928.0,797.4 931.2,794.9 934.5,792.4 937.7,790.1 940.9,787.8 944.2,785.7 947.4,783.7 950.7,781.8 953.9,780.1 957.2,778.6 960.4,777.3 963.7,776.2 966.9,775.2 970.2,774.5 973.4,773.9 976.7,773.6 979.9,773.5 983.1,773.8 986.4,774.5 989.6,775.6 992.9,777.1 996.1,779.1 999.4,781.4 1002.6,784.0 1005.9,787.0 1009.1,790.2 1012.4,793.6 1015.6,797.2 1018.9,800.9 1022.1,804.7 1025.3,808.6 1028.6,812.4 1031.8,816.3 1035.1,820.1 1038.3,823.8 1041.6,827.3 1044.8,830.8 1048.1,834.0 1051.3,837.1 1054.6,840.0 1057.8,842.7 1061.1,845.2 1064.3,847.6 1067.5,849.7 1070.8,851.6 1074.0,853.3 1077.3,854.9 1080.5,856.3 1080.5,864.9 824.1,864.9Z" fill="#2b748e" fill-opacity="0.2" stroke="#2b748e" stroke-opacity="0.2" stroke-width="2"/>
<path d="M824.1,849.5 826.9,848.1 829.7,846.6 832.5,845.0 835.4,843.3 838.2,841.5 841.0,839.6 843.8,837.6 846.6,835.5 849.5,833.3 852.3,831.0 855.1,828.7 857.9,826.2 860.7,823.6 863.6,821.0 866.4,818.2 869.2,815.5 872.0,812.6 874.8,809.7 877.6,806.7 880.5,803.8 883.3,800.7 886.1,797.7 888.9,794.7 891.7,791.7 894.6,788.7 897.4,785.7 900.2,782.8 903.0,779.9 905.8,777.2 908.7,774.5 911.5,771.9 914.3,769.4 917.1,767.1 919.9,764.9 922.8,762.9 925.6,761.0 928.4,759.3 931.2,757.8 934.0,756.5 936.9,755.4 939.7,754.5 942.5,753.8 945.3,753.3 948.1,753.1 950.9,753.1 953.8,753.5 956.6,754.4 959.4,755.7 962.2,757.5 965.0,759.7 967.9,762.2 970.7,765.2 973.5,768.4 976.3,771.9 979.1,775.7 982.0,779.7 984.8,783.8 987.6,788.1 990.4,792.4 993.2,796.8 996.1,801.1 998.9,805.5 1001.7,809.8 1004.5,814.0 1007.3,818.0 1010.2,822.0 1013.0,825.7 1015.8,829.3 1018.6,832.7 1021.4,835.9 1024.2,838.8 1027.1,841.6 1029.9,844.2 1032.7,846.5 1035.5,848.7 1038.3,850.7 1041.2,852.4 1044.0,854.0 1046.8,855.5 1046.8,864.9 824.1,864.9Z" fill="#24878e" fill-opacity="0.2" stroke="#24878e" stroke-opacity="0.2" stroke-width="2"/>
<path d="M824.1,846.1 826.5,844.2 828.9,842.6 831.3,841.1 833.7,839.7 836.1,838.3 838.5,836.9 840.9,835.4 843.3,833.8 845.8,832.1 848.2,830.2 850.6,828.2 853.0,825.9 855.4,823.4 857.8,820.7 860.2,817.7 862.6,814.5 865.0,811.0 867.4,807.2 869.8,803.2 872.2,799.0 874.7,794.6 877.1,790.0 879.5,785.2 881.9,780.3 884.3,775.3 886.7,770.2 889.1,765.1 891.5,760.0 893.9,755.0 896.3,750.1 898.7,745.5 901.1,741.0 903.6,737.0 906.0,733.3 908.4,730.1 910.8,727.4 913.2,725.4 915.6,724.1 918.0,723.7 925.8,726.2 933.7,733.4 941.5,744.7 949.3,758.8 957.1,774.6 965.0,790.7 972.8,806.1 980.6,819.9 988.4,831.7 996.3,841.2 1004.1,848.6 1011.9,854.1 1011.9,864.9 824.1,864.9Z" fill="#1f998a" fill-opacity="0.2" stroke="#1f998a" stroke-opacity="0.2" stroke-width="2"/>
<path d="M824.1,842.8 826.3,840.5 828.5,837.9 830.7,835.1 832.9,832.0 835.1,828.7 837.4,825.2 839.6,821.5 841.8,817.5 844.0,813.3 846.2,809.0 848.4,804.4 850.6,799.7 852.8,794.8 855.0,789.8 857.3,784.7 859.5,779.4 861.7,774.1 863.9,768.7 866.1,763.2 868.3,757.7 870.5,752.2 872.7,746.8 874.9,741.3 877.2,736.0 879.4,730.8 881.6,725.6 883.8,720.7 886.0,715.9 888.2,711.4 890.4,707.1 892.6,703.1 894.9,699.4 897.1,696.1 899.3,693.2 901.5,690.7 903.7,688.7 905.9,687.2 908.1,686.3 910.3,686.0 918.5,689.3 926.8,699.2 935.0,714.3 943.2,733.2 951.4,754.1 959.6,775.2 967.8,795.0 976.0,812.4 984.2,827.0 992.4,838.6 1000.6,847.3 1008.9,853.6 1008.9,864.9 824.1,864.9Z" fill="#25ac82" fill-opacity="0.2" stroke="#25ac82" stroke-opacity="0.2" stroke-width="2"/>
<path d="M824.1,838.6 826.0,835.3 828.0,831.9 830.0,828.5 831.9,825.0 833.9,821.5 835.9,817.8 837.8,813.9 839.8,809.9 841.8,805.7 843.7,801.3 845.7,796.7 847.7,791.9 849.6,786.8 851.6,781.6 853.6,776.1 855.5,770.4 857.5,764.5 859.5,758.4 861.4,752.2 863.4,745.8 865.4,739.3 867.3,732.7 869.3,726.0 871.3,719.3 873.2,712.6 875.2,706.0 877.2,699.5 879.1,693.1 881.1,686.9 883.1,681.0 885.0,675.4 887.0,670.2 889.0,665.4 890.9,661.2 892.9,657.5 894.9,654.5 896.8,652.3 898.8,650.9 900.8,650.4 909.1,654.6 917.5,666.8 925.9,685.6 934.2,709.0 942.6,734.6 951.0,760.3 959.3,784.2 967.7,805.1 976.1,822.3 984.4,835.7 992.8,845.7 1001.2,852.8 1001.2,864.9 824.1,864.9Z" fill="#40bd72" fill-opacity="0.2" stroke="#40bd72" stroke-opacity="0.2" stroke-width="2"/>
<path d="M824.1,835.5 825.8,831.5 827.4,827.7 829.1,824.1 830.8,820.5 832.5,816.9 834.2,813.2 835.8,809.3 837.5,805.3 839.2,801.1 840.9,796.6 842.6,791.9 844.3,786.8 845.9,781.5 847.6,775.8 849.3,769.8 851.0,763.4 852.7,756.7 854.3,749.7 856.0,742.4 857.7,734.8 859.4,726.9 861.1,718.9 862.7,710.7 864.4,702.3 866.1,693.9 867.8,685.5 869.5,677.1 871.1,668.8 872.8,660.7 874.5,652.9 876.2,645.5 877.9,638.5 879.5,632.1 881.2,626.4 882.9,621.4 884.6,617.3 886.3,614.2 888.0,612.3 889.6,611.6 896.9,616.5 904.3,630.7 911.6,652.5 918.9,679.7 926.2,709.7 933.5,739.7 940.8,767.9 948.2,792.6 955.5,813.1 962.8,829.2 970.1,841.2 977.4,849.8 977.4,864.9 824.1,864.9Z" fill="#67cc5c" fill-opacity="0.2" stroke="#67cc5c" stroke-opacity="0.2" stroke-width="2"/>
<path d="M824.1,831.3 825.7,826.2 827.4,821.4 829.0,816.5 830.6,811.7 832.3,806.9 833.9,801.9 835.6,796.8 837.2,791.5 838.9,786.0 840.5,780.3 842.1,774.3 843.8,768.1 845.4,761.6 847.1,754.8 848.7,747.7 850.3,740.3 852.0,732.6 853.6,724.7 855.3,716.5 856.9,708.2 858.6,699.6 860.2,690.9 861.8,682.1 863.5,673.3 865.1,664.4 866.8,655.6 868.4,646.9 870.0,638.3 871.7,630.1 873.3,622.1 875.0,614.6 876.6,607.5 878.3,601.1 879.9,595.3 881.5,590.3 883.2,586.2 884.8,583.2 886.5,581.2 888.1,580.6 894.3,585.9 900.5,601.1 906.7,624.7 912.9,654.2 919.1,686.9 925.3,720.1 931.5,751.4 937.7,779.2 943.9,802.6 950.1,821.3 956.3,835.5 962.5,845.8 962.5,864.9 824.1,864.9Z" fill="#98d83e" fill-opacity="0.2" stroke="#98d83e" stroke-opacity="0.2" stroke-width="2"/>
<path d="M823.9,829.7 825.4,822.8 826.9,815.8 828.4,808.8 829.9,801.7 831.4,794.5 832.9,787.2 834.4,779.8 835.9,772.2 837.4,764.6 838.9,756.8 840.4,748.9 841.9,740.9 843.4,732.8 844.9,724.5 846.4,716.2 847.9,707.8 849.4,699.4 850.9,690.9 852.4,682.4 853.9,673.9 855.4,665.4 856.9,657.0 858.4,648.7 859.9,640.5 861.4,632.5 862.9,624.7 864.4,617.1 865.9,609.9 867.4,602.9 868.9,596.3 870.4,590.2 871.9,584.6 873.4,579.5 874.9,575.0 876.4,571.2 877.9,568.1 879.4,565.8 880.9,564.4 882.4,563.9 888.1,569.5 893.8,585.6 899.5,610.6 905.2,641.9 910.9,676.5 916.7,711.7 922.4,744.8 928.1,774.3 933.8,799.0 939.5,818.8 945.2,833.8 951.0,844.7 951.0,864.9 823.9,864.9Z" fill="#cde11d" fill-opacity="0.2" stroke="#cde11d" stroke-opacity="0.2" stroke-width="2"/>
<path d="M824.1,864.4 829.9,864.3 835.8,864.2 841.7,864.1 847.5,864.0 853.4,863.9 859.2,863.7 865.1,863.6 870.9,863.4 876.8,863.3 882.7,863.1 888.5,862.9 894.4,862.6 900.2,862.4 906.1,862.1 911.9,861.8 917.8,861.5 923.6,861.2 929.5,860.8 935.4,860.4 941.2,860.0 947.1,859.6 952.9,859.1 958.8,858.6 964.6,858.1 970.5,857.6 976.4,857.0 982.2,856.4 988.1,855.8 993.9,855.2 999.8,854.6 1005.6,853.9 1011.5,853.2 1017.4,852.5 1023.2,851.8 1029.1,851.1 1034.9,850.4 1040.8,849.7 1046.6,849.0 1052.5,848.3 1058.4,847.6 1064.2,847.0 1070.1,846.3 1075.9,845.7 1081.8,845.1 1087.6,844.5 1093.5,843.9 1099.4,843.4 1105.2,843.0 1111.1,842.5 1116.9,842.1 1122.8,841.8 1128.6,841.5 1134.5,841.3 1140.3,841.1 1146.2,841.0 1152.1,840.9 1157.9,840.9 1163.8,841.1 1169.6,841.5 1175.5,842.1 1181.3,842.9 1187.2,843.8 1193.1,844.9 1198.9,846.2 1204.8,847.5 1210.6,848.8 1216.5,850.2 1222.3,851.6 1228.2,853.0 1234.1,854.3 1239.9,855.6 1245.8,856.8 1251.6,857.9 1257.5,858.9 1263.3,859.8 1269.2,860.6 1275.1,861.3 1280.9,861.9 1286.8,862.5" fill="none" stroke="#440154" stroke-width="4.6" stroke-linejoin="round" stroke-linecap="round"/>
<path d="M824.1,863.8 829.9,863.7 835.8,863.5 841.7,863.3 847.5,863.0 853.4,862.8 859.2,862.5 865.1,862.2 870.9,861.8 876.8,861.4 882.7,861.0 888.5,860.5 894.4,860.0 900.2,859.5 906.1,858.9 911.9,858.2 917.8,857.5 923.6,856.7 929.5,855.9 935.4,855.0 941.2,854.1 947.1,853.1 952.9,852.1 958.8,851.0 964.6,849.9 970.5,848.7 976.4,847.4 982.2,846.2 988.1,844.8 993.9,843.5 999.8,842.1 1005.6,840.7 1011.5,839.2 1017.4,837.8 1023.2,836.3 1029.1,834.9 1034.9,833.4 1040.8,832.0 1046.6,830.6 1052.5,829.3 1058.4,827.9 1064.2,826.7 1070.1,825.5 1075.9,824.4 1081.8,823.3 1087.6,822.4 1093.5,821.5 1099.4,820.7 1105.2,820.1 1111.1,819.5 1116.9,819.1 1122.8,818.8 1128.6,818.6 1134.5,818.5 1140.3,818.7 1146.2,819.3 1152.1,820.3 1157.9,821.5 1163.8,823.2 1169.6,825.0 1175.5,827.2 1181.3,829.5 1187.2,831.9 1193.1,834.4 1198.9,837.0 1204.8,839.6 1210.6,842.1 1216.5,844.6 1222.3,846.9 1228.2,849.1 1234.1,851.2 1239.9,853.0 1245.8,854.7 1251.6,856.3 1257.5,857.7 1263.3,858.9 1269.2,859.9 1275.1,860.8 1280.9,861.6 1286.8,862.2" fill="none" stroke="#481c6e" stroke-width="4.6" stroke-linejoin="round" stroke-linecap="round"/>
<path d="M824.1,863.3 829.9,863.1 835.8,862.8 841.7,862.5 847.5,862.2 853.4,861.9 859.2,861.5 865.1,861.1 870.9,860.7 876.8,860.2 882.7,859.6 888.5,859.0 894.4,858.4 900.2,857.7 906.1,857.0 911.9,856.2 917.8,855.4 923.6,854.5 929.5,853.5 935.4,852.5 941.2,851.5 947.1,850.4 952.9,849.2 958.8,848.0 964.6,846.7 970.5,845.4 976.4,844.1 982.2,842.7 988.1,841.3 993.9,839.8 999.8,838.3 1005.6,836.8 1011.5,835.3 1017.4,833.8 1023.2,832.3 1029.1,830.9 1034.9,829.4 1040.8,828.0 1046.6,826.6 1052.5,825.2 1058.4,823.9 1064.2,822.7 1070.1,821.5 1075.9,820.5 1081.8,819.5 1087.6,818.6 1093.5,817.8 1099.4,817.1 1105.2,816.5 1111.1,816.0 1116.9,815.7 1122.8,815.4 1128.6,815.3 1134.5,815.4 1140.3,815.9 1146.2,816.7 1152.1,817.9 1157.9,819.5 1163.8,821.4 1169.6,823.5 1175.5,825.9 1181.3,828.4 1187.2,831.0 1193.1,833.7 1198.9,836.5 1204.8,839.2 1210.6,841.8 1216.5,844.3 1222.3,846.7 1228.2,849.0 1234.1,851.1 1239.9,853.0 1245.8,854.7 1251.6,856.3 1257.5,857.6 1263.3,858.8 1269.2,859.9 1275.1,860.8 1280.9,861.6 1286.8,862.2" fill="none" stroke="#453581" stroke-width="4.6" stroke-linejoin="round" stroke-linecap="round"/>
<path d="M824.1,862.7 829.9,862.5 835.8,862.2 841.7,861.8 847.5,861.5 853.4,861.1 859.2,860.7 865.1,860.2 870.9,859.7 876.8,859.1 882.7,858.5 888.5,857.9 894.4,857.2 900.2,856.5 906.1,855.7 911.9,854.9 917.8,854.0 923.6,853.0 929.5,852.1 935.4,851.0 941.2,850.0 947.1,848.8 952.9,847.7 958.8,846.5 964.6,845.2 970.5,843.9 976.4,842.6 982.2,841.3 988.1,839.9 993.9,838.5 999.8,837.1 1005.6,835.7 1011.5,834.3 1017.4,832.9 1023.2,831.6 1029.1,830.2 1034.9,828.9 1040.8,827.6 1046.6,826.3 1052.5,825.1 1058.4,824.0 1064.2,822.9 1070.1,821.9 1075.9,821.0 1081.8,820.1 1087.6,819.4 1093.5,818.7 1099.4,818.1 1105.2,817.7 1111.1,817.3 1116.9,817.1 1122.8,817.0 1128.6,816.9 1134.5,817.2 1140.3,817.9 1146.2,818.9 1152.1,820.2 1157.9,821.9 1163.8,823.7 1169.6,825.8 1175.5,828.1 1181.3,830.5 1187.2,833.0 1193.1,835.6 1198.9,838.2 1204.8,840.7 1210.6,843.1 1216.5,845.5 1222.3,847.7 1228.2,849.8 1234.1,851.7 1239.9,853.5 1245.8,855.1 1251.6,856.6 1257.5,857.9 1263.3,859.0 1269.2,860.0 1275.1,860.9 1280.9,861.6 1286.8,862.2" fill="none" stroke="#3d4d8a" stroke-width="4.6" stroke-linejoin="round" stroke-linecap="round"/>
<path d="M824.1,860.9 828.2,860.4 832.2,859.8 836.3,859.2 840.4,858.5 844.5,857.8 848.6,857.0 852.6,856.2 856.7,855.3 860.8,854.3 864.9,853.2 869.0,852.0 873.1,850.8 877.1,849.5 881.2,848.1 885.3,846.7 889.4,845.1 893.5,843.5 897.5,841.7 901.6,840.0 905.7,838.1 909.8,836.1 913.9,834.1 917.9,832.0 922.0,829.9 926.1,827.7 930.2,825.5 934.3,823.2 938.3,820.9 942.4,818.6 946.5,816.3 950.6,814.0 954.7,811.7 958.7,809.4 962.8,807.2 966.9,805.0 971.0,802.9 975.1,800.8 979.2,798.9 983.2,797.0 987.3,795.3 991.4,793.6 995.5,792.1 999.6,790.8 1003.6,789.6 1007.7,788.5 1011.8,787.7 1015.9,787.0 1020.0,786.4 1024.0,786.1 1028.1,785.9 1032.2,786.0 1036.3,786.5 1040.4,787.5 1044.4,788.8 1048.5,790.5 1052.6,792.6 1056.7,795.1 1060.8,797.8 1064.9,800.7 1068.9,803.9 1073.0,807.3 1077.1,810.7 1081.2,814.3 1085.3,817.8 1089.3,821.4 1093.4,824.9 1097.5,828.3 1101.6,831.7 1105.7,834.8 1109.7,837.9 1113.8,840.7 1117.9,843.4 1122.0,845.9 1126.1,848.2 1130.1,850.3 1134.2,852.2 1138.3,853.9 1142.4,855.4 1146.5,856.8" fill="none" stroke="#34618d" stroke-width="4.6" stroke-linejoin="round" stroke-linecap="round"/>
<path d="M824.1,859.0 827.3,858.3 830.6,857.5 833.8,856.6 837.1,855.7 840.3,854.7 843.6,853.6 846.8,852.5 850.1,851.2 853.3,849.9 856.5,848.4 859.8,846.9 863.0,845.3 866.3,843.5 869.5,841.7 872.8,839.8 876.0,837.8 879.3,835.7 882.5,833.5 885.8,831.2 889.0,828.8 892.3,826.4 895.5,823.9 898.7,821.3 902.0,818.7 905.2,816.1 908.5,813.4 911.7,810.7 915.0,808.0 918.2,805.3 921.5,802.6 924.7,800.0 928.0,797.4 931.2,794.9 934.5,792.4 937.7,790.1 940.9,787.8 944.2,785.7 947.4,783.7 950.7,781.8 953.9,780.1 957.2,778.6 960.4,777.3 963.7,776.2 966.9,775.2 970.2,774.5 973.4,773.9 976.7,773.6 979.9,773.5 983.1,773.8 986.4,774.5 989.6,775.6 992.9,777.1 996.1,779.1 999.4,781.4 1002.6,784.0 1005.9,787.0 1009.1,790.2 1012.4,793.6 1015.6,797.2 1018.9,800.9 1022.1,804.7 1025.3,808.6 1028.6,812.4 1031.8,816.3 1035.1,820.1 1038.3,823.8 1041.6,827.3 1044.8,830.8 1048.1,834.0 1051.3,837.1 1054.6,840.0 1057.8,842.7 1061.1,845.2 1064.3,847.6 1067.5,849.7 1070.8,851.6 1074.0,853.3 1077.3,854.9 1080.5,856.3" fill="none" stroke="#2b748e" stroke-width="4.6" stroke-linejoin="round" stroke-linecap="round"/>
<path d="M824.1,849.5 826.9,848.1 829.7,846.6 832.5,845.0 835.4,843.3 838.2,841.5 841.0,839.6 843.8,837.6 846.6,835.5 849.5,833.3 852.3,831.0 855.1,828.7 857.9,826.2 860.7,823.6 863.6,821.0 866.4,818.2 869.2,815.5 872.0,812.6 874.8,809.7 877.6,806.7 880.5,803.8 883.3,800.7 886.1,797.7 888.9,794.7 891.7,791.7 894.6,788.7 897.4,785.7 900.2,782.8 903.0,779.9 905.8,777.2 908.7,774.5 911.5,771.9 914.3,769.4 917.1,767.1 919.9,764.9 922.8,762.9 925.6,761.0 928.4,759.3 931.2,757.8 934.0,756.5 936.9,755.4 939.7,754.5 942.5,753.8 945.3,753.3 948.1,753.1 950.9,753.1 953.8,753.5 956.6,754.4 959.4,755.7 962.2,757.5 965.0,759.7 967.9,762.2 970.7,765.2 973.5,768.4 976.3,771.9 979.1,775.7 982.0,779.7 984.8,783.8 987.6,788.1 990.4,792.4 993.2,796.8 996.1,801.1 998.9,805.5 1001.7,809.8 1004.5,814.0 1007.3,818.0 1010.2,822.0 1013.0,825.7 1015.8,829.3 1018.6,832.7 1021.4,835.9 1024.2,838.8 1027.1,841.6 1029.9,844.2 1032.7,846.5 1035.5,848.7 1038.3,850.7 1041.2,852.4 1044.0,854.0 1046.8,855.5" fill="none" stroke="#24878e" stroke-width="4.6" stroke-linejoin="round" stroke-linecap="round"/>
<path d="M824.1,846.1 826.5,844.2 828.9,842.6 831.3,841.1 833.7,839.7 836.1,838.3 838.5,836.9 840.9,835.4 843.3,833.8 845.8,832.1 848.2,830.2 850.6,828.2 853.0,825.9 855.4,823.4 857.8,820.7 860.2,817.7 862.6,814.5 865.0,811.0 867.4,807.2 869.8,803.2 872.2,799.0 874.7,794.6 877.1,790.0 879.5,785.2 881.9,780.3 884.3,775.3 886.7,770.2 889.1,765.1 891.5,760.0 893.9,755.0 896.3,750.1 898.7,745.5 901.1,741.0 903.6,737.0 906.0,733.3 908.4,730.1 910.8,727.4 913.2,725.4 915.6,724.1 918.0,723.7 925.8,726.2 933.7,733.4 941.5,744.7 949.3,758.8 957.1,774.6 965.0,790.7 972.8,806.1 980.6,819.9 988.4,831.7 996.3,841.2 1004.1,848.6 1011.9,854.1" fill="none" stroke="#1f998a" stroke-width="4.6" stroke-linejoin="round" stroke-linecap="round"/>
<path d="M824.1,842.8 826.3,840.5 828.5,837.9 830.7,835.1 832.9,832.0 835.1,828.7 837.4,825.2 839.6,821.5 841.8,817.5 844.0,813.3 846.2,809.0 848.4,804.4 850.6,799.7 852.8,794.8 855.0,789.8 857.3,784.7 859.5,779.4 861.7,774.1 863.9,768.7 866.1,763.2 868.3,757.7 870.5,752.2 872.7,746.8 874.9,741.3 877.2,736.0 879.4,730.8 881.6,725.6 883.8,720.7 886.0,715.9 888.2,711.4 890.4,707.1 892.6,703.1 894.9,699.4 897.1,696.1 899.3,693.2 901.5,690.7 903.7,688.7 905.9,687.2 908.1,686.3 910.3,686.0 918.5,689.3 926.8,699.2 935.0,714.3 943.2,733.2 951.4,754.1 959.6,775.2 967.8,795.0 976.0,812.4 984.2,827.0 992.4,838.6 1000.6,847.3 1008.9,853.6" fill="none" stroke="#25ac82" stroke-width="4.6" stroke-linejoin="round" stroke-linecap="round"/>
<path d="M824.1,838.6 826.0,835.3 828.0,831.9 830.0,828.5 831.9,825.0 833.9,821.5 835.9,817.8 837.8,813.9 839.8,809.9 841.8,805.7 843.7,801.3 845.7,796.7 847.7,791.9 849.6,786.8 851.6,781.6 853.6,776.1 855.5,770.4 857.5,764.5 859.5,758.4 861.4,752.2 863.4,745.8 865.4,739.3 867.3,732.7 869.3,726.0 871.3,719.3 873.2,712.6 875.2,706.0 877.2,699.5 879.1,693.1 881.1,686.9 883.1,681.0 885.0,675.4 887.0,670.2 889.0,665.4 890.9,661.2 892.9,657.5 894.9,654.5 896.8,652.3 898.8,650.9 900.8,650.4 909.1,654.6 917.5,666.8 925.9,685.6 934.2,709.0 942.6,734.6 951.0,760.3 959.3,784.2 967.7,805.1 976.1,822.3 984.4,835.7 992.8,845.7 1001.2,852.8" fill="none" stroke="#40bd72" stroke-width="4.6" stroke-linejoin="round" stroke-linecap="round"/>
<path d="M824.1,835.5 825.8,831.5 827.4,827.7 829.1,824.1 830.8,820.5 832.5,816.9 834.2,813.2 835.8,809.3 837.5,805.3 839.2,801.1 840.9,796.6 842.6,791.9 844.3,786.8 845.9,781.5 847.6,775.8 849.3,769.8 851.0,763.4 852.7,756.7 854.3,749.7 856.0,742.4 857.7,734.8 859.4,726.9 861.1,718.9 862.7,710.7 864.4,702.3 866.1,693.9 867.8,685.5 869.5,677.1 871.1,668.8 872.8,660.7 874.5,652.9 876.2,645.5 877.9,638.5 879.5,632.1 881.2,626.4 882.9,621.4 884.6,617.3 886.3,614.2 888.0,612.3 889.6,611.6 896.9,616.5 904.3,630.7 911.6,652.5 918.9,679.7 926.2,709.7 933.5,739.7 940.8,767.9 948.2,792.6 955.5,813.1 962.8,829.2 970.1,841.2 977.4,849.8" fill="none" stroke="#67cc5c" stroke-width="4.6" stroke-linejoin="round" stroke-linecap="round"/>
<path d="M824.1,831.3 825.7,826.2 827.4,821.4 829.0,816.5 830.6,811.7 832.3,806.9 833.9,801.9 835.6,796.8 837.2,791.5 838.9,786.0 840.5,780.3 842.1,774.3 843.8,768.1 845.4,761.6 847.1,754.8 848.7,747.7 850.3,740.3 852.0,732.6 853.6,724.7 855.3,716.5 856.9,708.2 858.6,699.6 860.2,690.9 861.8,682.1 863.5,673.3 865.1,664.4 866.8,655.6 868.4,646.9 870.0,638.3 871.7,630.1 873.3,622.1 875.0,614.6 876.6,607.5 878.3,601.1 879.9,595.3 881.5,590.3 883.2,586.2 884.8,583.2 886.5,581.2 888.1,580.6 894.3,585.9 900.5,601.1 906.7,624.7 912.9,654.2 919.1,686.9 925.3,720.1 931.5,751.4 937.7,779.2 943.9,802.6 950.1,821.3 956.3,835.5 962.5,845.8" fill="none" stroke="#98d83e" stroke-width="4.6" stroke-linejoin="round" stroke-linecap="round"/>
<path d="M823.9,829.7 825.4,822.8 826.9,815.8 828.4,808.8 829.9,801.7 831.4,794.5 832.9,787.2 834.4,779.8 835.9,772.2 837.4,764.6 838.9,756.8 840.4,748.9 841.9,740.9 843.4,732.8 844.9,724.5 846.4,716.2 847.9,707.8 849.4,699.4 850.9,690.9 852.4,682.4 853.9,673.9 855.4,665.4 856.9,657.0 858.4,648.7 859.9,640.5 861.4,632.5 862.9,624.7 864.4,617.1 865.9,609.9 867.4,602.9 868.9,596.3 870.4,590.2 871.9,584.6 873.4,579.5 874.9,575.0 876.4,571.2 877.9,568.1 879.4,565.8 880.9,564.4 882.4,563.9 888.1,569.5 893.8,585.6 899.5,610.6 905.2,641.9 910.9,676.5 916.7,711.7 922.4,744.8 928.1,774.3 933.8,799.0 939.5,818.8 945.2,833.8 951.0,844.7" fill="none" stroke="#cde11d" stroke-width="4.6" stroke-linejoin="round" stroke-linecap="round"/>
</g>
<path d="M801.6,549.9 H1311.4 M801.6,880.3 H1311.4" fill="none" stroke="#c8c8c8" stroke-width="1.8"/>
<path d="M801.6,549.0 V881.1999999999999 M1311.4,549.0 V881.1999999999999" fill="none" stroke="#c8c8c8" stroke-width="1.3"/>
<text transform="translate(826.00,912.10) scale(1,1.06)" font-family="'Liberation Serif', 'Times New Roman', serif" font-size="36.3" text-anchor="middle" fill="#262626">0</text>
<text transform="translate(902.67,912.10) scale(1,1.06)" font-family="'Liberation Serif', 'Times New Roman', serif" font-size="36.3" text-anchor="middle" fill="#262626">20</text>
<text transform="translate(979.33,912.10) scale(1,1.06)" font-family="'Liberation Serif', 'Times New Roman', serif" font-size="36.3" text-anchor="middle" fill="#262626">40</text>
<text transform="translate(1056.00,912.10) scale(1,1.06)" font-family="'Liberation Serif', 'Times New Roman', serif" font-size="36.3" text-anchor="middle" fill="#262626">60</text>
<text transform="translate(1132.67,912.10) scale(1,1.06)" font-family="'Liberation Serif', 'Times New Roman', serif" font-size="36.3" text-anchor="middle" fill="#262626">80</text>
<text transform="translate(1209.33,912.10) scale(1,1.06)" font-family="'Liberation Serif', 'Times New Roman', serif" font-size="36.3" text-anchor="middle" fill="#262626">100</text>
<text transform="translate(1286.00,912.10) scale(1,1.06)" font-family="'Liberation Serif', 'Times New Roman', serif" font-size="36.3" text-anchor="middle" fill="#262626">120</text>
<text transform="translate(794.00,877.59) scale(1,1.06)" font-family="'Liberation Serif', 'Times New Roman', serif" font-size="36.3" text-anchor="end" fill="#262626">0.00</text>
<text transform="translate(794.00,823.69) scale(1,1.06)" font-family="'Liberation Serif', 'Times New Roman', serif" font-size="36.3" text-anchor="end" fill="#262626">0.02</text>
<text transform="translate(794.00,769.79) scale(1,1.06)" font-family="'Liberation Serif', 'Times New Roman', serif" font-size="36.3" text-anchor="end" fill="#262626">0.04</text>
<text transform="translate(794.00,715.89) scale(1,1.06)" font-family="'Liberation Serif', 'Times New Roman', serif" font-size="36.3" text-anchor="end" fill="#262626">0.06</text>
<text transform="translate(794.00,661.99) scale(1,1.06)" font-family="'Liberation Serif', 'Times New Roman', serif" font-size="36.3" text-anchor="end" fill="#262626">0.08</text>
<text transform="translate(794.00,608.09) scale(1,1.06)" font-family="'Liberation Serif', 'Times New Roman', serif" font-size="36.3" text-anchor="end" fill="#262626">0.10</text>
<text x="1057.40" y="958.60" font-family="'Liberation Serif', 'Times New Roman', serif" font-size="42.5" text-anchor="middle" fill="#262626">Diameter / μm</text>
<text transform="translate(713.80,718.80) rotate(-90)" x="0" y="0" font-family="'Liberation Serif', 'Times New Roman', serif" font-size="42.5" text-anchor="middle" fill="#262626">PDF</text>
</g>
<g id="plot_f">
<clipPath id="clip_f"><rect x="1476.6" y="548.9" width="510.30" height="331.00"/></clipPath>
<line x1="1501.00" y1="548.9" x2="1501.00" y2="879.9" stroke="#d0d0d0" stroke-width="1.3"/>
<line x1="1558.88" y1="548.9" x2="1558.88" y2="879.9" stroke="#d0d0d0" stroke-width="1.3"/>
<line x1="1616.75" y1="548.9" x2="1616.75" y2="879.9" stroke="#d0d0d0" stroke-width="1.3"/>
<line x1="1674.62" y1="548.9" x2="1674.62" y2="879.9" stroke="#d0d0d0" stroke-width="1.3"/>
<line x1="1732.50" y1="548.9" x2="1732.50" y2="879.9" stroke="#d0d0d0" stroke-width="1.3"/>
<line x1="1790.38" y1="548.9" x2="1790.38" y2="879.9" stroke="#d0d0d0" stroke-width="1.3"/>
<line x1="1848.25" y1="548.9" x2="1848.25" y2="879.9" stroke="#d0d0d0" stroke-width="1.3"/>
<line x1="1906.12" y1="548.9" x2="1906.12" y2="879.9" stroke="#d0d0d0" stroke-width="1.3"/>
<line x1="1964.00" y1="548.9" x2="1964.00" y2="879.9" stroke="#d0d0d0" stroke-width="1.3"/>
<line x1="1476.6" y1="864.90" x2="1986.9" y2="864.90" stroke="#d0d0d0" stroke-width="1.8"/>
<line x1="1476.6" y1="813.80" x2="1986.9" y2="813.80" stroke="#d0d0d0" stroke-width="1.8"/>
<line x1="1476.6" y1="762.70" x2="1986.9" y2="762.70" stroke="#d0d0d0" stroke-width="1.8"/>
<line x1="1476.6" y1="711.60" x2="1986.9" y2="711.60" stroke="#d0d0d0" stroke-width="1.8"/>
<line x1="1476.6" y1="660.50" x2="1986.9" y2="660.50" stroke="#d0d0d0" stroke-width="1.8"/>
<line x1="1476.6" y1="609.40" x2="1986.9" y2="609.40" stroke="#d0d0d0" stroke-width="1.8"/>
<line x1="1476.6" y1="558.30" x2="1986.9" y2="558.30" stroke="#d0d0d0" stroke-width="1.8"/>
<g clip-path="url(#clip_f)">
<path d="M1497.5,864.1 1503.4,864.0 1509.3,863.9 1515.2,863.7 1521.1,863.6 1527.1,863.5 1533.0,863.3 1538.9,863.1 1544.8,862.9 1550.7,862.7 1556.6,862.5 1562.5,862.2 1568.4,862.0 1574.3,861.7 1580.2,861.4 1586.1,861.0 1592.0,860.7 1597.9,860.3 1603.8,859.9 1609.7,859.5 1615.6,859.1 1621.5,858.6 1627.4,858.1 1633.3,857.6 1639.2,857.1 1645.1,856.5 1651.1,855.9 1657.0,855.4 1662.9,854.8 1668.8,854.1 1674.7,853.5 1680.6,852.8 1686.5,852.2 1692.4,851.5 1698.3,850.9 1704.2,850.2 1710.1,849.5 1716.0,848.8 1721.9,848.2 1727.8,847.5 1733.7,846.9 1739.6,846.3 1745.5,845.7 1751.4,845.1 1757.3,844.5 1763.2,844.0 1769.1,843.5 1775.0,843.0 1781.0,842.6 1786.9,842.2 1792.8,841.9 1798.7,841.6 1804.6,841.3 1810.5,841.1 1816.4,841.0 1822.3,840.9 1828.2,840.8 1834.1,840.8 1840.0,841.0 1845.9,841.4 1851.8,842.0 1857.7,842.7 1863.6,843.7 1869.5,844.8 1875.4,846.0 1881.3,847.3 1887.2,848.6 1893.1,850.0 1899.0,851.4 1905.0,852.7 1910.9,854.1 1916.8,855.3 1922.7,856.5 1928.6,857.6 1934.5,858.7 1940.4,859.6 1946.3,860.4 1952.2,861.1 1958.1,861.8 1964.0,862.3 1964.0,864.9 1497.5,864.9Z" fill="#440154" fill-opacity="0.2" stroke="#440154" stroke-opacity="0.2" stroke-width="2"/>
<path d="M1497.5,863.7 1503.4,863.5 1509.3,863.4 1515.2,863.2 1521.0,863.0 1526.9,862.8 1532.8,862.6 1538.7,862.3 1544.5,862.1 1550.4,861.8 1556.3,861.5 1562.2,861.2 1568.0,860.8 1573.9,860.5 1579.8,860.1 1585.7,859.7 1591.5,859.2 1597.4,858.7 1603.3,858.3 1609.2,857.7 1615.0,857.2 1620.9,856.6 1626.8,856.1 1632.7,855.5 1638.5,854.8 1644.4,854.2 1650.3,853.5 1656.2,852.8 1662.0,852.2 1667.9,851.4 1673.8,850.7 1679.7,850.0 1685.5,849.3 1691.4,848.6 1697.3,847.8 1703.2,847.1 1709.0,846.4 1714.9,845.7 1720.8,845.0 1726.7,844.3 1732.5,843.7 1738.4,843.0 1744.3,842.4 1750.2,841.8 1756.0,841.3 1761.9,840.8 1767.8,840.3 1773.7,839.9 1779.5,839.5 1785.4,839.2 1791.3,838.9 1797.2,838.7 1803.0,838.5 1808.9,838.4 1814.8,838.3 1820.7,838.3 1826.6,838.5 1832.4,838.9 1838.3,839.4 1844.2,840.2 1850.1,841.1 1855.9,842.1 1861.8,843.3 1867.7,844.6 1873.6,846.0 1879.4,847.4 1885.3,848.8 1891.2,850.3 1897.1,851.7 1902.9,853.1 1908.8,854.4 1914.7,855.6 1920.6,856.8 1926.4,857.8 1932.3,858.8 1938.2,859.7 1944.1,860.5 1949.9,861.2 1955.8,861.8 1961.7,862.3 1961.7,864.9 1497.5,864.9Z" fill="#481c6e" fill-opacity="0.2" stroke="#481c6e" stroke-opacity="0.2" stroke-width="2"/>
<path d="M1497.5,863.1 1503.0,862.9 1508.5,862.7 1513.9,862.4 1519.4,862.2 1524.9,861.9 1530.3,861.6 1535.8,861.3 1541.2,861.0 1546.7,860.6 1552.2,860.3 1557.6,859.9 1563.1,859.4 1568.6,859.0 1574.0,858.5 1579.5,858.0 1585.0,857.5 1590.4,857.0 1595.9,856.4 1601.4,855.8 1606.8,855.2 1612.3,854.5 1617.8,853.9 1623.2,853.2 1628.7,852.5 1634.2,851.8 1639.6,851.1 1645.1,850.3 1650.6,849.6 1656.0,848.8 1661.5,848.1 1666.9,847.3 1672.4,846.5 1677.9,845.8 1683.3,845.0 1688.8,844.3 1694.3,843.5 1699.7,842.8 1705.2,842.1 1710.7,841.4 1716.1,840.7 1721.6,840.1 1727.1,839.5 1732.5,838.9 1738.0,838.4 1743.5,837.9 1748.9,837.5 1754.4,837.1 1759.9,836.7 1765.3,836.4 1770.8,836.2 1776.3,836.0 1781.7,835.8 1787.2,835.7 1792.6,835.7 1798.1,835.7 1803.6,836.0 1809.0,836.6 1814.5,837.3 1820.0,838.2 1825.4,839.3 1830.9,840.5 1836.4,841.9 1841.8,843.4 1847.3,844.9 1852.8,846.5 1858.2,848.0 1863.7,849.6 1869.2,851.1 1874.6,852.6 1880.1,854.0 1885.6,855.3 1891.0,856.6 1896.5,857.7 1901.9,858.7 1907.4,859.6 1912.9,860.5 1918.3,861.2 1923.8,861.8 1929.3,862.3 1929.3,864.9 1497.5,864.9Z" fill="#453581" fill-opacity="0.2" stroke="#453581" stroke-opacity="0.2" stroke-width="2"/>
<path d="M1497.5,862.2 1502.4,862.0 1507.3,861.7 1512.1,861.4 1517.0,861.0 1521.8,860.7 1526.7,860.3 1531.6,859.9 1536.4,859.5 1541.3,859.0 1546.2,858.5 1551.0,858.0 1555.9,857.5 1560.8,856.9 1565.6,856.3 1570.5,855.7 1575.4,855.0 1580.2,854.4 1585.1,853.7 1590.0,852.9 1594.8,852.2 1599.7,851.4 1604.5,850.6 1609.4,849.8 1614.3,849.0 1619.1,848.1 1624.0,847.3 1628.9,846.4 1633.7,845.5 1638.6,844.6 1643.5,843.7 1648.3,842.8 1653.2,842.0 1658.1,841.1 1662.9,840.2 1667.8,839.4 1672.6,838.5 1677.5,837.7 1682.4,837.0 1687.2,836.2 1692.1,835.5 1697.0,834.8 1701.8,834.2 1706.7,833.6 1711.6,833.0 1716.4,832.5 1721.3,832.1 1726.2,831.7 1731.0,831.4 1735.9,831.1 1740.7,830.9 1745.6,830.7 1750.5,830.6 1755.3,830.6 1760.2,830.7 1765.1,831.0 1769.9,831.5 1774.8,832.3 1779.7,833.2 1784.5,834.3 1789.4,835.6 1794.3,837.0 1799.1,838.5 1804.0,840.1 1808.9,841.7 1813.7,843.4 1818.6,845.1 1823.4,846.7 1828.3,848.4 1833.2,850.0 1838.0,851.5 1842.9,852.9 1847.8,854.3 1852.6,855.6 1857.5,856.7 1862.4,857.8 1867.2,858.8 1872.1,859.7 1877.0,860.4 1881.8,861.1 1881.8,864.9 1497.5,864.9Z" fill="#3d4d8a" fill-opacity="0.2" stroke="#3d4d8a" stroke-opacity="0.2" stroke-width="2"/>
<path d="M1497.5,861.3 1501.8,861.0 1506.1,860.6 1510.4,860.1 1514.7,859.7 1519.0,859.2 1523.3,858.7 1527.6,858.1 1531.9,857.5 1536.2,856.9 1540.5,856.2 1544.8,855.5 1549.0,854.8 1553.3,854.0 1557.6,853.2 1561.9,852.3 1566.2,851.4 1570.5,850.5 1574.8,849.5 1579.1,848.5 1583.4,847.5 1587.7,846.4 1592.0,845.3 1596.3,844.2 1600.6,843.1 1604.9,841.9 1609.1,840.7 1613.4,839.5 1617.7,838.3 1622.0,837.1 1626.3,835.9 1630.6,834.7 1634.9,833.5 1639.2,832.4 1643.5,831.2 1647.8,830.1 1652.1,829.0 1656.4,827.9 1660.7,826.9 1665.0,825.9 1669.2,825.0 1673.5,824.1 1677.8,823.3 1682.1,822.5 1686.4,821.8 1690.7,821.2 1695.0,820.7 1699.3,820.2 1703.6,819.8 1707.9,819.5 1712.2,819.3 1716.5,819.2 1720.8,819.1 1725.1,819.2 1729.3,819.6 1733.6,820.3 1737.9,821.2 1742.2,822.4 1746.5,823.8 1750.8,825.3 1755.1,827.1 1759.4,829.0 1763.7,831.0 1768.0,833.0 1772.3,835.2 1776.6,837.3 1780.9,839.5 1785.2,841.6 1789.5,843.7 1793.7,845.7 1798.0,847.6 1802.3,849.4 1806.6,851.1 1810.9,852.7 1815.2,854.2 1819.5,855.6 1823.8,856.8 1828.1,857.9 1832.4,858.9 1836.7,859.8 1836.7,864.9 1497.5,864.9Z" fill="#34618d" fill-opacity="0.2" stroke="#34618d" stroke-opacity="0.2" stroke-width="2"/>
<path d="M1497.5,859.8 1500.9,859.3 1504.3,858.9 1507.7,858.3 1511.1,857.8 1514.5,857.2 1517.9,856.6 1521.3,855.9 1524.7,855.2 1528.1,854.4 1531.5,853.6 1534.9,852.7 1538.3,851.8 1541.7,850.8 1545.1,849.8 1548.5,848.7 1551.9,847.6 1555.3,846.4 1558.7,845.1 1562.1,843.8 1565.5,842.4 1568.9,841.0 1572.3,839.5 1575.7,837.9 1579.1,836.3 1582.5,834.6 1585.9,832.8 1589.3,831.1 1592.7,829.2 1596.1,827.3 1599.5,825.4 1602.9,823.4 1606.3,821.4 1609.7,819.3 1613.1,817.3 1616.5,815.2 1619.9,813.1 1623.3,811.0 1626.7,808.9 1630.1,806.9 1633.5,804.9 1636.9,802.9 1640.3,801.0 1643.7,799.1 1647.1,797.4 1650.5,795.7 1653.9,794.2 1657.3,792.8 1660.7,791.6 1664.1,790.7 1667.5,790.0 1670.9,789.8 1674.3,789.9 1677.7,790.2 1681.1,790.7 1684.5,791.6 1687.9,792.8 1691.3,794.3 1694.7,796.1 1698.1,798.2 1701.5,800.7 1704.9,803.4 1708.3,806.4 1711.7,809.7 1715.1,813.1 1718.5,816.6 1721.9,820.3 1725.3,823.9 1728.7,827.6 1732.1,831.2 1735.5,834.6 1738.9,838.0 1742.3,841.2 1745.7,844.2 1749.1,846.9 1752.5,849.5 1755.9,851.8 1759.3,853.8 1762.7,855.6 1766.1,857.2 1766.1,864.9 1497.5,864.9Z" fill="#2b748e" fill-opacity="0.2" stroke="#2b748e" stroke-opacity="0.2" stroke-width="2"/>
<path d="M1497.5,858.6 1500.2,858.0 1502.9,857.4 1505.5,856.7 1508.2,855.9 1510.9,855.2 1513.5,854.3 1516.2,853.4 1518.9,852.4 1521.5,851.4 1524.2,850.2 1526.9,849.0 1529.5,847.8 1532.2,846.4 1534.9,844.9 1537.5,843.4 1540.2,841.7 1542.9,840.0 1545.5,838.1 1548.2,836.2 1550.9,834.1 1553.5,831.9 1556.2,829.6 1558.9,827.2 1561.5,824.7 1564.2,822.0 1566.9,819.2 1569.5,816.3 1572.2,813.3 1574.9,810.2 1577.5,806.9 1580.2,803.5 1582.9,800.0 1585.5,796.5 1588.2,792.8 1590.9,789.0 1593.5,785.2 1596.2,781.3 1598.9,777.3 1601.5,773.3 1604.2,769.3 1606.9,765.3 1609.5,761.4 1612.2,757.4 1614.9,753.6 1617.5,749.9 1620.2,746.3 1622.9,743.0 1625.5,739.9 1628.2,737.2 1630.9,734.8 1633.5,733.1 1636.2,732.6 1638.9,732.8 1641.5,733.4 1644.2,734.5 1646.9,736.2 1649.5,738.6 1652.2,741.5 1654.9,745.1 1657.5,749.3 1660.2,754.1 1662.9,759.4 1665.5,765.2 1668.2,771.3 1670.9,777.8 1673.5,784.4 1676.2,791.1 1678.9,797.8 1681.5,804.5 1684.2,810.9 1686.9,817.1 1689.5,823.0 1692.2,828.5 1694.9,833.5 1697.5,838.2 1700.2,842.3 1702.9,846.0 1705.5,849.3 1708.2,852.1 1708.2,864.9 1497.5,864.9Z" fill="#24878e" fill-opacity="0.2" stroke="#24878e" stroke-opacity="0.2" stroke-width="2"/>
<path d="M1498.7,852.1 1500.0,851.8 1501.3,851.2 1502.6,850.3 1503.9,849.3 1505.2,848.0 1506.5,846.6 1507.8,845.0 1509.1,843.3 1510.4,841.5 1511.8,839.7 1513.1,837.7 1514.4,835.8 1515.7,833.5 1517.0,830.9 1518.3,827.9 1519.6,824.5 1520.9,821.0 1522.2,817.3 1523.5,813.4 1524.8,809.6 1526.1,805.7 1527.4,801.6 1528.7,797.3 1530.1,792.9 1531.4,788.3 1532.7,783.5 1534.0,778.4 1535.3,773.1 1536.6,767.6 1537.9,761.8 1539.2,755.6 1540.5,748.9 1541.8,741.7 1543.1,734.2 1544.4,726.5 1545.7,718.5 1547.0,710.4 1548.4,702.1 1549.7,693.9 1551.0,685.6 1552.3,677.5 1553.6,669.2 1554.9,660.3 1556.2,651.0 1557.5,641.7 1558.8,632.6 1560.1,624.0 1561.4,616.3 1562.7,609.8 1564.0,603.9 1565.3,597.9 1566.7,591.9 1568.0,586.2 1569.3,580.8 1570.6,575.8 1571.9,571.5 1573.2,568.0 1574.5,565.4 1575.8,563.8 1577.1,563.4 1578.4,564.4 1579.7,566.5 1581.0,569.6 1582.3,573.7 1583.6,578.6 1585.0,584.2 1586.3,590.4 1587.6,597.1 1588.9,604.1 1590.2,612.0 1591.5,623.8 1592.8,638.6 1594.1,654.5 1595.4,669.9 1596.7,683.6 1598.0,697.4 1599.3,711.1 1600.6,724.5 1601.9,737.2 1603.3,749.1 1604.6,760.0 1605.9,770.6 1607.2,780.9 1608.5,790.8 1609.8,800.3 1611.1,809.3 1612.4,817.8 1613.7,825.8 1615.0,833.1 1615.0,864.9 1498.7,864.9Z" fill="#1f998a" fill-opacity="0.2" stroke="#1f998a" stroke-opacity="0.2" stroke-width="2"/>
<path d="M1498.7,864.9 1500.0,864.9 1501.4,864.9 1502.7,864.9 1504.0,864.9 1505.4,864.9 1506.7,864.9 1508.1,864.9 1509.4,864.9 1510.7,864.9 1512.1,864.9 1513.4,864.9 1514.8,864.9 1516.1,864.9 1517.4,864.9 1518.8,864.9 1520.1,864.9 1521.5,864.9 1522.8,864.9 1524.1,864.9 1525.5,864.9 1526.8,864.9 1528.2,864.9 1529.5,864.9 1530.8,864.9 1532.2,864.9 1533.5,864.9 1534.9,864.9 1536.2,864.9 1537.5,864.9 1538.9,864.9 1540.2,864.9 1541.6,864.9 1542.9,864.9 1544.2,864.9 1545.6,864.9 1546.9,864.9 1548.2,864.9 1549.6,864.9 1550.9,864.9 1552.3,864.9 1553.6,864.9 1554.9,864.9 1556.3,864.9 1557.6,864.9 1559.0,864.9 1560.3,864.9 1561.6,864.9 1563.0,864.9 1564.3,864.9 1565.7,864.9 1567.0,864.9 1568.3,864.9 1569.7,864.9 1571.0,864.9 1572.4,864.9 1573.7,864.9 1575.0,864.9 1576.4,864.9 1577.7,864.9 1579.1,864.9 1580.4,864.9 1581.7,864.9 1583.1,864.9 1584.4,864.9 1585.8,864.9 1587.1,864.9 1588.4,864.9 1589.8,864.9 1591.1,864.9 1592.5,864.9 1593.8,864.9 1595.1,864.9 1596.5,864.9 1597.8,864.9 1599.2,864.9 1600.5,864.9 1601.8,864.9 1603.2,864.9 1604.5,864.9 1605.9,864.9 1607.2,864.9 1608.5,864.9 1609.9,864.9 1611.2,864.9 1612.5,864.9 1613.9,864.9 1615.2,864.9 1616.6,864.9 1617.9,864.9 1617.9,864.9 1498.7,864.9Z" fill="#25ac82" fill-opacity="0.2" stroke="#25ac82" stroke-opacity="0.2" stroke-width="2"/>
<path d="M1498.7,864.9 1500.0,864.9 1501.4,864.9 1502.7,864.9 1504.0,864.9 1505.4,864.9 1506.7,864.9 1508.1,864.9 1509.4,864.9 1510.7,864.9 1512.1,864.9 1513.4,864.9 1514.8,864.9 1516.1,864.9 1517.4,864.9 1518.8,864.9 1520.1,864.9 1521.5,864.9 1522.8,864.9 1524.1,864.9 1525.5,864.9 1526.8,864.9 1528.2,864.9 1529.5,864.9 1530.8,864.9 1532.2,864.9 1533.5,864.9 1534.9,864.9 1536.2,864.9 1537.5,864.9 1538.9,864.9 1540.2,864.9 1541.6,864.9 1542.9,864.9 1544.2,864.9 1545.6,864.9 1546.9,864.9 1548.2,864.9 1549.6,864.9 1550.9,864.9 1552.3,864.9 1553.6,864.9 1554.9,864.9 1556.3,864.9 1557.6,864.9 1559.0,864.9 1560.3,864.9 1561.6,864.9 1563.0,864.9 1564.3,864.9 1565.7,864.9 1567.0,864.9 1568.3,864.9 1569.7,864.9 1571.0,864.9 1572.4,864.9 1573.7,864.9 1575.0,864.9 1576.4,864.9 1577.7,864.9 1579.1,864.9 1580.4,864.9 1581.7,864.9 1583.1,864.9 1584.4,864.9 1585.8,864.9 1587.1,864.9 1588.4,864.9 1589.8,864.9 1591.1,864.9 1592.5,864.9 1593.8,864.9 1595.1,864.9 1596.5,864.9 1597.8,864.9 1599.2,864.9 1600.5,864.9 1601.8,864.9 1603.2,864.9 1604.5,864.9 1605.9,864.9 1607.2,864.9 1608.5,864.9 1609.9,864.9 1611.2,864.9 1612.5,864.9 1613.9,864.9 1615.2,864.9 1616.6,864.9 1617.9,864.9 1617.9,864.9 1498.7,864.9Z" fill="#40bd72" fill-opacity="0.2" stroke="#40bd72" stroke-opacity="0.2" stroke-width="2"/>
<path d="M1498.7,864.9 1500.0,864.9 1501.4,864.9 1502.7,864.9 1504.0,864.9 1505.4,864.9 1506.7,864.9 1508.1,864.9 1509.4,864.9 1510.7,864.9 1512.1,864.9 1513.4,864.9 1514.8,864.9 1516.1,864.9 1517.4,864.9 1518.8,864.9 1520.1,864.9 1521.5,864.9 1522.8,864.9 1524.1,864.9 1525.5,864.9 1526.8,864.9 1528.2,864.9 1529.5,864.9 1530.8,864.9 1532.2,864.9 1533.5,864.9 1534.9,864.9 1536.2,864.9 1537.5,864.9 1538.9,864.9 1540.2,864.9 1541.6,864.9 1542.9,864.9 1544.2,864.9 1545.6,864.9 1546.9,864.9 1548.2,864.9 1549.6,864.9 1550.9,864.9 1552.3,864.9 1553.6,864.9 1554.9,864.9 1556.3,864.9 1557.6,864.9 1559.0,864.9 1560.3,864.9 1561.6,864.9 1563.0,864.9 1564.3,864.9 1565.7,864.9 1567.0,864.9 1568.3,864.9 1569.7,864.9 1571.0,864.9 1572.4,864.9 1573.7,864.9 1575.0,864.9 1576.4,864.9 1577.7,864.9 1579.1,864.9 1580.4,864.9 1581.7,864.9 1583.1,864.9 1584.4,864.9 1585.8,864.9 1587.1,864.9 1588.4,864.9 1589.8,864.9 1591.1,864.9 1592.5,864.9 1593.8,864.9 1595.1,864.9 1596.5,864.9 1597.8,864.9 1599.2,864.9 1600.5,864.9 1601.8,864.9 1603.2,864.9 1604.5,864.9 1605.9,864.9 1607.2,864.9 1608.5,864.9 1609.9,864.9 1611.2,864.9 1612.5,864.9 1613.9,864.9 1615.2,864.9 1616.6,864.9 1617.9,864.9 1617.9,864.9 1498.7,864.9Z" fill="#67cc5c" fill-opacity="0.2" stroke="#67cc5c" stroke-opacity="0.2" stroke-width="2"/>
<path d="M1498.7,864.9 1500.0,864.9 1501.4,864.9 1502.7,864.9 1504.0,864.9 1505.4,864.9 1506.7,864.9 1508.1,864.9 1509.4,864.9 1510.7,864.9 1512.1,864.9 1513.4,864.9 1514.8,864.9 1516.1,864.9 1517.4,864.9 1518.8,864.9 1520.1,864.9 1521.5,864.9 1522.8,864.9 1524.1,864.9 1525.5,864.9 1526.8,864.9 1528.2,864.9 1529.5,864.9 1530.8,864.9 1532.2,864.9 1533.5,864.9 1534.9,864.9 1536.2,864.9 1537.5,864.9 1538.9,864.9 1540.2,864.9 1541.6,864.9 1542.9,864.9 1544.2,864.9 1545.6,864.9 1546.9,864.9 1548.2,864.9 1549.6,864.9 1550.9,864.9 1552.3,864.9 1553.6,864.9 1554.9,864.9 1556.3,864.9 1557.6,864.9 1559.0,864.9 1560.3,864.9 1561.6,864.9 1563.0,864.9 1564.3,864.9 1565.7,864.9 1567.0,864.9 1568.3,864.9 1569.7,864.9 1571.0,864.9 1572.4,864.9 1573.7,864.9 1575.0,864.9 1576.4,864.9 1577.7,864.9 1579.1,864.9 1580.4,864.9 1581.7,864.9 1583.1,864.9 1584.4,864.9 1585.8,864.9 1587.1,864.9 1588.4,864.9 1589.8,864.9 1591.1,864.9 1592.5,864.9 1593.8,864.9 1595.1,864.9 1596.5,864.9 1597.8,864.9 1599.2,864.9 1600.5,864.9 1601.8,864.9 1603.2,864.9 1604.5,864.9 1605.9,864.9 1607.2,864.9 1608.5,864.9 1609.9,864.9 1611.2,864.9 1612.5,864.9 1613.9,864.9 1615.2,864.9 1616.6,864.9 1617.9,864.9 1617.9,864.9 1498.7,864.9Z" fill="#98d83e" fill-opacity="0.2" stroke="#98d83e" stroke-opacity="0.2" stroke-width="2"/>
<path d="M1498.7,864.9 1500.0,864.9 1501.4,864.9 1502.7,864.9 1504.0,864.9 1505.4,864.9 1506.7,864.9 1508.1,864.9 1509.4,864.9 1510.7,864.9 1512.1,864.9 1513.4,864.9 1514.8,864.9 1516.1,864.9 1517.4,864.9 1518.8,864.9 1520.1,864.9 1521.5,864.9 1522.8,864.9 1524.1,864.9 1525.5,864.9 1526.8,864.9 1528.2,864.9 1529.5,864.9 1530.8,864.9 1532.2,864.9 1533.5,864.9 1534.9,864.9 1536.2,864.9 1537.5,864.9 1538.9,864.9 1540.2,864.9 1541.6,864.9 1542.9,864.9 1544.2,864.9 1545.6,864.9 1546.9,864.9 1548.2,864.9 1549.6,864.9 1550.9,864.9 1552.3,864.9 1553.6,864.9 1554.9,864.9 1556.3,864.9 1557.6,864.9 1559.0,864.9 1560.3,864.9 1561.6,864.9 1563.0,864.9 1564.3,864.9 1565.7,864.9 1567.0,864.9 1568.3,864.9 1569.7,864.9 1571.0,864.9 1572.4,864.9 1573.7,864.9 1575.0,864.9 1576.4,864.9 1577.7,864.9 1579.1,864.9 1580.4,864.9 1581.7,864.9 1583.1,864.9 1584.4,864.9 1585.8,864.9 1587.1,864.9 1588.4,864.9 1589.8,864.9 1591.1,864.9 1592.5,864.9 1593.8,864.9 1595.1,864.9 1596.5,864.9 1597.8,864.9 1599.2,864.9 1600.5,864.9 1601.8,864.9 1603.2,864.9 1604.5,864.9 1605.9,864.9 1607.2,864.9 1608.5,864.9 1609.9,864.9 1611.2,864.9 1612.5,864.9 1613.9,864.9 1615.2,864.9 1616.6,864.9 1617.9,864.9 1617.9,864.9 1498.7,864.9Z" fill="#cde11d" fill-opacity="0.2" stroke="#cde11d" stroke-opacity="0.2" stroke-width="2"/>
<path d="M1497.5,864.1 1503.4,864.0 1509.3,863.9 1515.2,863.7 1521.1,863.6 1527.1,863.5 1533.0,863.3 1538.9,863.1 1544.8,862.9 1550.7,862.7 1556.6,862.5 1562.5,862.2 1568.4,862.0 1574.3,861.7 1580.2,861.4 1586.1,861.0 1592.0,860.7 1597.9,860.3 1603.8,859.9 1609.7,859.5 1615.6,859.1 1621.5,858.6 1627.4,858.1 1633.3,857.6 1639.2,857.1 1645.1,856.5 1651.1,855.9 1657.0,855.4 1662.9,854.8 1668.8,854.1 1674.7,853.5 1680.6,852.8 1686.5,852.2 1692.4,851.5 1698.3,850.9 1704.2,850.2 1710.1,849.5 1716.0,848.8 1721.9,848.2 1727.8,847.5 1733.7,846.9 1739.6,846.3 1745.5,845.7 1751.4,845.1 1757.3,844.5 1763.2,844.0 1769.1,843.5 1775.0,843.0 1781.0,842.6 1786.9,842.2 1792.8,841.9 1798.7,841.6 1804.6,841.3 1810.5,841.1 1816.4,841.0 1822.3,840.9 1828.2,840.8 1834.1,840.8 1840.0,841.0 1845.9,841.4 1851.8,842.0 1857.7,842.7 1863.6,843.7 1869.5,844.8 1875.4,846.0 1881.3,847.3 1887.2,848.6 1893.1,850.0 1899.0,851.4 1905.0,852.7 1910.9,854.1 1916.8,855.3 1922.7,856.5 1928.6,857.6 1934.5,858.7 1940.4,859.6 1946.3,860.4 1952.2,861.1 1958.1,861.8 1964.0,862.3" fill="none" stroke="#440154" stroke-width="4.6" stroke-linejoin="round" stroke-linecap="round"/>
<path d="M1497.5,863.7 1503.4,863.5 1509.3,863.4 1515.2,863.2 1521.0,863.0 1526.9,862.8 1532.8,862.6 1538.7,862.3 1544.5,862.1 1550.4,861.8 1556.3,861.5 1562.2,861.2 1568.0,860.8 1573.9,860.5 1579.8,860.1 1585.7,859.7 1591.5,859.2 1597.4,858.7 1603.3,858.3 1609.2,857.7 1615.0,857.2 1620.9,856.6 1626.8,856.1 1632.7,855.5 1638.5,854.8 1644.4,854.2 1650.3,853.5 1656.2,852.8 1662.0,852.2 1667.9,851.4 1673.8,850.7 1679.7,850.0 1685.5,849.3 1691.4,848.6 1697.3,847.8 1703.2,847.1 1709.0,846.4 1714.9,845.7 1720.8,845.0 1726.7,844.3 1732.5,843.7 1738.4,843.0 1744.3,842.4 1750.2,841.8 1756.0,841.3 1761.9,840.8 1767.8,840.3 1773.7,839.9 1779.5,839.5 1785.4,839.2 1791.3,838.9 1797.2,838.7 1803.0,838.5 1808.9,838.4 1814.8,838.3 1820.7,838.3 1826.6,838.5 1832.4,838.9 1838.3,839.4 1844.2,840.2 1850.1,841.1 1855.9,842.1 1861.8,843.3 1867.7,844.6 1873.6,846.0 1879.4,847.4 1885.3,848.8 1891.2,850.3 1897.1,851.7 1902.9,853.1 1908.8,854.4 1914.7,855.6 1920.6,856.8 1926.4,857.8 1932.3,858.8 1938.2,859.7 1944.1,860.5 1949.9,861.2 1955.8,861.8 1961.7,862.3" fill="none" stroke="#481c6e" stroke-width="4.6" stroke-linejoin="round" stroke-linecap="round"/>
<path d="M1497.5,863.1 1503.0,862.9 1508.5,862.7 1513.9,862.4 1519.4,862.2 1524.9,861.9 1530.3,861.6 1535.8,861.3 1541.2,861.0 1546.7,860.6 1552.2,860.3 1557.6,859.9 1563.1,859.4 1568.6,859.0 1574.0,858.5 1579.5,858.0 1585.0,857.5 1590.4,857.0 1595.9,856.4 1601.4,855.8 1606.8,855.2 1612.3,854.5 1617.8,853.9 1623.2,853.2 1628.7,852.5 1634.2,851.8 1639.6,851.1 1645.1,850.3 1650.6,849.6 1656.0,848.8 1661.5,848.1 1666.9,847.3 1672.4,846.5 1677.9,845.8 1683.3,845.0 1688.8,844.3 1694.3,843.5 1699.7,842.8 1705.2,842.1 1710.7,841.4 1716.1,840.7 1721.6,840.1 1727.1,839.5 1732.5,838.9 1738.0,838.4 1743.5,837.9 1748.9,837.5 1754.4,837.1 1759.9,836.7 1765.3,836.4 1770.8,836.2 1776.3,836.0 1781.7,835.8 1787.2,835.7 1792.6,835.7 1798.1,835.7 1803.6,836.0 1809.0,836.6 1814.5,837.3 1820.0,838.2 1825.4,839.3 1830.9,840.5 1836.4,841.9 1841.8,843.4 1847.3,844.9 1852.8,846.5 1858.2,848.0 1863.7,849.6 1869.2,851.1 1874.6,852.6 1880.1,854.0 1885.6,855.3 1891.0,856.6 1896.5,857.7 1901.9,858.7 1907.4,859.6 1912.9,860.5 1918.3,861.2 1923.8,861.8 1929.3,862.3" fill="none" stroke="#453581" stroke-width="4.6" stroke-linejoin="round" stroke-linecap="round"/>
<path d="M1497.5,862.2 1502.4,862.0 1507.3,861.7 1512.1,861.4 1517.0,861.0 1521.8,860.7 1526.7,860.3 1531.6,859.9 1536.4,859.5 1541.3,859.0 1546.2,858.5 1551.0,858.0 1555.9,857.5 1560.8,856.9 1565.6,856.3 1570.5,855.7 1575.4,855.0 1580.2,854.4 1585.1,853.7 1590.0,852.9 1594.8,852.2 1599.7,851.4 1604.5,850.6 1609.4,849.8 1614.3,849.0 1619.1,848.1 1624.0,847.3 1628.9,846.4 1633.7,845.5 1638.6,844.6 1643.5,843.7 1648.3,842.8 1653.2,842.0 1658.1,841.1 1662.9,840.2 1667.8,839.4 1672.6,838.5 1677.5,837.7 1682.4,837.0 1687.2,836.2 1692.1,835.5 1697.0,834.8 1701.8,834.2 1706.7,833.6 1711.6,833.0 1716.4,832.5 1721.3,832.1 1726.2,831.7 1731.0,831.4 1735.9,831.1 1740.7,830.9 1745.6,830.7 1750.5,830.6 1755.3,830.6 1760.2,830.7 1765.1,831.0 1769.9,831.5 1774.8,832.3 1779.7,833.2 1784.5,834.3 1789.4,835.6 1794.3,837.0 1799.1,838.5 1804.0,840.1 1808.9,841.7 1813.7,843.4 1818.6,845.1 1823.4,846.7 1828.3,848.4 1833.2,850.0 1838.0,851.5 1842.9,852.9 1847.8,854.3 1852.6,855.6 1857.5,856.7 1862.4,857.8 1867.2,858.8 1872.1,859.7 1877.0,860.4 1881.8,861.1" fill="none" stroke="#3d4d8a" stroke-width="4.6" stroke-linejoin="round" stroke-linecap="round"/>
<path d="M1497.5,861.3 1501.8,861.0 1506.1,860.6 1510.4,860.1 1514.7,859.7 1519.0,859.2 1523.3,858.7 1527.6,858.1 1531.9,857.5 1536.2,856.9 1540.5,856.2 1544.8,855.5 1549.0,854.8 1553.3,854.0 1557.6,853.2 1561.9,852.3 1566.2,851.4 1570.5,850.5 1574.8,849.5 1579.1,848.5 1583.4,847.5 1587.7,846.4 1592.0,845.3 1596.3,844.2 1600.6,843.1 1604.9,841.9 1609.1,840.7 1613.4,839.5 1617.7,838.3 1622.0,837.1 1626.3,835.9 1630.6,834.7 1634.9,833.5 1639.2,832.4 1643.5,831.2 1647.8,830.1 1652.1,829.0 1656.4,827.9 1660.7,826.9 1665.0,825.9 1669.2,825.0 1673.5,824.1 1677.8,823.3 1682.1,822.5 1686.4,821.8 1690.7,821.2 1695.0,820.7 1699.3,820.2 1703.6,819.8 1707.9,819.5 1712.2,819.3 1716.5,819.2 1720.8,819.1 1725.1,819.2 1729.3,819.6 1733.6,820.3 1737.9,821.2 1742.2,822.4 1746.5,823.8 1750.8,825.3 1755.1,827.1 1759.4,829.0 1763.7,831.0 1768.0,833.0 1772.3,835.2 1776.6,837.3 1780.9,839.5 1785.2,841.6 1789.5,843.7 1793.7,845.7 1798.0,847.6 1802.3,849.4 1806.6,851.1 1810.9,852.7 1815.2,854.2 1819.5,855.6 1823.8,856.8 1828.1,857.9 1832.4,858.9 1836.7,859.8" fill="none" stroke="#34618d" stroke-width="4.6" stroke-linejoin="round" stroke-linecap="round"/>
<path d="M1497.5,859.8 1500.9,859.3 1504.3,858.9 1507.7,858.3 1511.1,857.8 1514.5,857.2 1517.9,856.6 1521.3,855.9 1524.7,855.2 1528.1,854.4 1531.5,853.6 1534.9,852.7 1538.3,851.8 1541.7,850.8 1545.1,849.8 1548.5,848.7 1551.9,847.6 1555.3,846.4 1558.7,845.1 1562.1,843.8 1565.5,842.4 1568.9,841.0 1572.3,839.5 1575.7,837.9 1579.1,836.3 1582.5,834.6 1585.9,832.8 1589.3,831.1 1592.7,829.2 1596.1,827.3 1599.5,825.4 1602.9,823.4 1606.3,821.4 1609.7,819.3 1613.1,817.3 1616.5,815.2 1619.9,813.1 1623.3,811.0 1626.7,808.9 1630.1,806.9 1633.5,804.9 1636.9,802.9 1640.3,801.0 1643.7,799.1 1647.1,797.4 1650.5,795.7 1653.9,794.2 1657.3,792.8 1660.7,791.6 1664.1,790.7 1667.5,790.0 1670.9,789.8 1674.3,789.9 1677.7,790.2 1681.1,790.7 1684.5,791.6 1687.9,792.8 1691.3,794.3 1694.7,796.1 1698.1,798.2 1701.5,800.7 1704.9,803.4 1708.3,806.4 1711.7,809.7 1715.1,813.1 1718.5,816.6 1721.9,820.3 1725.3,823.9 1728.7,827.6 1732.1,831.2 1735.5,834.6 1738.9,838.0 1742.3,841.2 1745.7,844.2 1749.1,846.9 1752.5,849.5 1755.9,851.8 1759.3,853.8 1762.7,855.6 1766.1,857.2" fill="none" stroke="#2b748e" stroke-width="4.6" stroke-linejoin="round" stroke-linecap="round"/>
<path d="M1497.5,858.6 1500.2,858.0 1502.9,857.4 1505.5,856.7 1508.2,855.9 1510.9,855.2 1513.5,854.3 1516.2,853.4 1518.9,852.4 1521.5,851.4 1524.2,850.2 1526.9,849.0 1529.5,847.8 1532.2,846.4 1534.9,844.9 1537.5,843.4 1540.2,841.7 1542.9,840.0 1545.5,838.1 1548.2,836.2 1550.9,834.1 1553.5,831.9 1556.2,829.6 1558.9,827.2 1561.5,824.7 1564.2,822.0 1566.9,819.2 1569.5,816.3 1572.2,813.3 1574.9,810.2 1577.5,806.9 1580.2,803.5 1582.9,800.0 1585.5,796.5 1588.2,792.8 1590.9,789.0 1593.5,785.2 1596.2,781.3 1598.9,777.3 1601.5,773.3 1604.2,769.3 1606.9,765.3 1609.5,761.4 1612.2,757.4 1614.9,753.6 1617.5,749.9 1620.2,746.3 1622.9,743.0 1625.5,739.9 1628.2,737.2 1630.9,734.8 1633.5,733.1 1636.2,732.6 1638.9,732.8 1641.5,733.4 1644.2,734.5 1646.9,736.2 1649.5,738.6 1652.2,741.5 1654.9,745.1 1657.5,749.3 1660.2,754.1 1662.9,759.4 1665.5,765.2 1668.2,771.3 1670.9,777.8 1673.5,784.4 1676.2,791.1 1678.9,797.8 1681.5,804.5 1684.2,810.9 1686.9,817.1 1689.5,823.0 1692.2,828.5 1694.9,833.5 1697.5,838.2 1700.2,842.3 1702.9,846.0 1705.5,849.3 1708.2,852.1" fill="none" stroke="#24878e" stroke-width="4.6" stroke-linejoin="round" stroke-linecap="round"/>
<path d="M1498.7,852.1 1500.0,851.8 1501.3,851.2 1502.6,850.3 1503.9,849.3 1505.2,848.0 1506.5,846.6 1507.8,845.0 1509.1,843.3 1510.4,841.5 1511.8,839.7 1513.1,837.7 1514.4,835.8 1515.7,833.5 1517.0,830.9 1518.3,827.9 1519.6,824.5 1520.9,821.0 1522.2,817.3 1523.5,813.4 1524.8,809.6 1526.1,805.7 1527.4,801.6 1528.7,797.3 1530.1,792.9 1531.4,788.3 1532.7,783.5 1534.0,778.4 1535.3,773.1 1536.6,767.6 1537.9,761.8 1539.2,755.6 1540.5,748.9 1541.8,741.7 1543.1,734.2 1544.4,726.5 1545.7,718.5 1547.0,710.4 1548.4,702.1 1549.7,693.9 1551.0,685.6 1552.3,677.5 1553.6,669.2 1554.9,660.3 1556.2,651.0 1557.5,641.7 1558.8,632.6 1560.1,624.0 1561.4,616.3 1562.7,609.8 1564.0,603.9 1565.3,597.9 1566.7,591.9 1568.0,586.2 1569.3,580.8 1570.6,575.8 1571.9,571.5 1573.2,568.0 1574.5,565.4 1575.8,563.8 1577.1,563.4 1578.4,564.4 1579.7,566.5 1581.0,569.6 1582.3,573.7 1583.6,578.6 1585.0,584.2 1586.3,590.4 1587.6,597.1 1588.9,604.1 1590.2,612.0 1591.5,623.8 1592.8,638.6 1594.1,654.5 1595.4,669.9 1596.7,683.6 1598.0,697.4 1599.3,711.1 1600.6,724.5 1601.9,737.2 1603.3,749.1 1604.6,760.0 1605.9,770.6 1607.2,780.9 1608.5,790.8 1609.8,800.3 1611.1,809.3 1612.4,817.8 1613.7,825.8 1615.0,833.1" fill="none" stroke="#1f998a" stroke-width="4.6" stroke-linejoin="round" stroke-linecap="round"/>
<path d="M1498.7,864.9 1500.0,864.9 1501.4,864.9 1502.7,864.9 1504.0,864.9 1505.4,864.9 1506.7,864.9 1508.1,864.9 1509.4,864.9 1510.7,864.9 1512.1,864.9 1513.4,864.9 1514.8,864.9 1516.1,864.9 1517.4,864.9 1518.8,864.9 1520.1,864.9 1521.5,864.9 1522.8,864.9 1524.1,864.9 1525.5,864.9 1526.8,864.9 1528.2,864.9 1529.5,864.9 1530.8,864.9 1532.2,864.9 1533.5,864.9 1534.9,864.9 1536.2,864.9 1537.5,864.9 1538.9,864.9 1540.2,864.9 1541.6,864.9 1542.9,864.9 1544.2,864.9 1545.6,864.9 1546.9,864.9 1548.2,864.9 1549.6,864.9 1550.9,864.9 1552.3,864.9 1553.6,864.9 1554.9,864.9 1556.3,864.9 1557.6,864.9 1559.0,864.9 1560.3,864.9 1561.6,864.9 1563.0,864.9 1564.3,864.9 1565.7,864.9 1567.0,864.9 1568.3,864.9 1569.7,864.9 1571.0,864.9 1572.4,864.9 1573.7,864.9 1575.0,864.9 1576.4,864.9 1577.7,864.9 1579.1,864.9 1580.4,864.9 1581.7,864.9 1583.1,864.9 1584.4,864.9 1585.8,864.9 1587.1,864.9 1588.4,864.9 1589.8,864.9 1591.1,864.9 1592.5,864.9 1593.8,864.9 1595.1,864.9 1596.5,864.9 1597.8,864.9 1599.2,864.9 1600.5,864.9 1601.8,864.9 1603.2,864.9 1604.5,864.9 1605.9,864.9 1607.2,864.9 1608.5,864.9 1609.9,864.9 1611.2,864.9 1612.5,864.9 1613.9,864.9 1615.2,864.9 1616.6,864.9 1617.9,864.9" fill="none" stroke="#25ac82" stroke-width="4.6" stroke-linejoin="round" stroke-linecap="round"/>
<path d="M1498.7,864.9 1500.0,864.9 1501.4,864.9 1502.7,864.9 1504.0,864.9 1505.4,864.9 1506.7,864.9 1508.1,864.9 1509.4,864.9 1510.7,864.9 1512.1,864.9 1513.4,864.9 1514.8,864.9 1516.1,864.9 1517.4,864.9 1518.8,864.9 1520.1,864.9 1521.5,864.9 1522.8,864.9 1524.1,864.9 1525.5,864.9 1526.8,864.9 1528.2,864.9 1529.5,864.9 1530.8,864.9 1532.2,864.9 1533.5,864.9 1534.9,864.9 1536.2,864.9 1537.5,864.9 1538.9,864.9 1540.2,864.9 1541.6,864.9 1542.9,864.9 1544.2,864.9 1545.6,864.9 1546.9,864.9 1548.2,864.9 1549.6,864.9 1550.9,864.9 1552.3,864.9 1553.6,864.9 1554.9,864.9 1556.3,864.9 1557.6,864.9 1559.0,864.9 1560.3,864.9 1561.6,864.9 1563.0,864.9 1564.3,864.9 1565.7,864.9 1567.0,864.9 1568.3,864.9 1569.7,864.9 1571.0,864.9 1572.4,864.9 1573.7,864.9 1575.0,864.9 1576.4,864.9 1577.7,864.9 1579.1,864.9 1580.4,864.9 1581.7,864.9 1583.1,864.9 1584.4,864.9 1585.8,864.9 1587.1,864.9 1588.4,864.9 1589.8,864.9 1591.1,864.9 1592.5,864.9 1593.8,864.9 1595.1,864.9 1596.5,864.9 1597.8,864.9 1599.2,864.9 1600.5,864.9 1601.8,864.9 1603.2,864.9 1604.5,864.9 1605.9,864.9 1607.2,864.9 1608.5,864.9 1609.9,864.9 1611.2,864.9 1612.5,864.9 1613.9,864.9 1615.2,864.9 1616.6,864.9 1617.9,864.9" fill="none" stroke="#40bd72" stroke-width="4.6" stroke-linejoin="round" stroke-linecap="round"/>
<path d="M1498.7,864.9 1500.0,864.9 1501.4,864.9 1502.7,864.9 1504.0,864.9 1505.4,864.9 1506.7,864.9 1508.1,864.9 1509.4,864.9 1510.7,864.9 1512.1,864.9 1513.4,864.9 1514.8,864.9 1516.1,864.9 1517.4,864.9 1518.8,864.9 1520.1,864.9 1521.5,864.9 1522.8,864.9 1524.1,864.9 1525.5,864.9 1526.8,864.9 1528.2,864.9 1529.5,864.9 1530.8,864.9 1532.2,864.9 1533.5,864.9 1534.9,864.9 1536.2,864.9 1537.5,864.9 1538.9,864.9 1540.2,864.9 1541.6,864.9 1542.9,864.9 1544.2,864.9 1545.6,864.9 1546.9,864.9 1548.2,864.9 1549.6,864.9 1550.9,864.9 1552.3,864.9 1553.6,864.9 1554.9,864.9 1556.3,864.9 1557.6,864.9 1559.0,864.9 1560.3,864.9 1561.6,864.9 1563.0,864.9 1564.3,864.9 1565.7,864.9 1567.0,864.9 1568.3,864.9 1569.7,864.9 1571.0,864.9 1572.4,864.9 1573.7,864.9 1575.0,864.9 1576.4,864.9 1577.7,864.9 1579.1,864.9 1580.4,864.9 1581.7,864.9 1583.1,864.9 1584.4,864.9 1585.8,864.9 1587.1,864.9 1588.4,864.9 1589.8,864.9 1591.1,864.9 1592.5,864.9 1593.8,864.9 1595.1,864.9 1596.5,864.9 1597.8,864.9 1599.2,864.9 1600.5,864.9 1601.8,864.9 1603.2,864.9 1604.5,864.9 1605.9,864.9 1607.2,864.9 1608.5,864.9 1609.9,864.9 1611.2,864.9 1612.5,864.9 1613.9,864.9 1615.2,864.9 1616.6,864.9 1617.9,864.9" fill="none" stroke="#67cc5c" stroke-width="4.6" stroke-linejoin="round" stroke-linecap="round"/>
<path d="M1498.7,864.9 1500.0,864.9 1501.4,864.9 1502.7,864.9 1504.0,864.9 1505.4,864.9 1506.7,864.9 1508.1,864.9 1509.4,864.9 1510.7,864.9 1512.1,864.9 1513.4,864.9 1514.8,864.9 1516.1,864.9 1517.4,864.9 1518.8,864.9 1520.1,864.9 1521.5,864.9 1522.8,864.9 1524.1,864.9 1525.5,864.9 1526.8,864.9 1528.2,864.9 1529.5,864.9 1530.8,864.9 1532.2,864.9 1533.5,864.9 1534.9,864.9 1536.2,864.9 1537.5,864.9 1538.9,864.9 1540.2,864.9 1541.6,864.9 1542.9,864.9 1544.2,864.9 1545.6,864.9 1546.9,864.9 1548.2,864.9 1549.6,864.9 1550.9,864.9 1552.3,864.9 1553.6,864.9 1554.9,864.9 1556.3,864.9 1557.6,864.9 1559.0,864.9 1560.3,864.9 1561.6,864.9 1563.0,864.9 1564.3,864.9 1565.7,864.9 1567.0,864.9 1568.3,864.9 1569.7,864.9 1571.0,864.9 1572.4,864.9 1573.7,864.9 1575.0,864.9 1576.4,864.9 1577.7,864.9 1579.1,864.9 1580.4,864.9 1581.7,864.9 1583.1,864.9 1584.4,864.9 1585.8,864.9 1587.1,864.9 1588.4,864.9 1589.8,864.9 1591.1,864.9 1592.5,864.9 1593.8,864.9 1595.1,864.9 1596.5,864.9 1597.8,864.9 1599.2,864.9 1600.5,864.9 1601.8,864.9 1603.2,864.9 1604.5,864.9 1605.9,864.9 1607.2,864.9 1608.5,864.9 1609.9,864.9 1611.2,864.9 1612.5,864.9 1613.9,864.9 1615.2,864.9 1616.6,864.9 1617.9,864.9" fill="none" stroke="#98d83e" stroke-width="4.6" stroke-linejoin="round" stroke-linecap="round"/>
<path d="M1498.7,864.9 1500.0,864.9 1501.4,864.9 1502.7,864.9 1504.0,864.9 1505.4,864.9 1506.7,864.9 1508.1,864.9 1509.4,864.9 1510.7,864.9 1512.1,864.9 1513.4,864.9 1514.8,864.9 1516.1,864.9 1517.4,864.9 1518.8,864.9 1520.1,864.9 1521.5,864.9 1522.8,864.9 1524.1,864.9 1525.5,864.9 1526.8,864.9 1528.2,864.9 1529.5,864.9 1530.8,864.9 1532.2,864.9 1533.5,864.9 1534.9,864.9 1536.2,864.9 1537.5,864.9 1538.9,864.9 1540.2,864.9 1541.6,864.9 1542.9,864.9 1544.2,864.9 1545.6,864.9 1546.9,864.9 1548.2,864.9 1549.6,864.9 1550.9,864.9 1552.3,864.9 1553.6,864.9 1554.9,864.9 1556.3,864.9 1557.6,864.9 1559.0,864.9 1560.3,864.9 1561.6,864.9 1563.0,864.9 1564.3,864.9 1565.7,864.9 1567.0,864.9 1568.3,864.9 1569.7,864.9 1571.0,864.9 1572.4,864.9 1573.7,864.9 1575.0,864.9 1576.4,864.9 1577.7,864.9 1579.1,864.9 1580.4,864.9 1581.7,864.9 1583.1,864.9 1584.4,864.9 1585.8,864.9 1587.1,864.9 1588.4,864.9 1589.8,864.9 1591.1,864.9 1592.5,864.9 1593.8,864.9 1595.1,864.9 1596.5,864.9 1597.8,864.9 1599.2,864.9 1600.5,864.9 1601.8,864.9 1603.2,864.9 1604.5,864.9 1605.9,864.9 1607.2,864.9 1608.5,864.9 1609.9,864.9 1611.2,864.9 1612.5,864.9 1613.9,864.9 1615.2,864.9 1616.6,864.9 1617.9,864.9" fill="none" stroke="#cde11d" stroke-width="4.6" stroke-linejoin="round" stroke-linecap="round"/>
</g>
<path d="M1476.6,548.9 H1986.9 M1476.6,879.9 H1986.9" fill="none" stroke="#c8c8c8" stroke-width="1.8"/>
<path d="M1476.6,548.0 V880.8 M1986.9,548.0 V880.8" fill="none" stroke="#c8c8c8" stroke-width="1.3"/>
<text transform="translate(1501.00,911.70) scale(1,1.06)" font-family="'Liberation Serif', 'Times New Roman', serif" font-size="36.3" text-anchor="middle" fill="#262626">0</text>
<text transform="translate(1558.88,911.70) scale(1,1.06)" font-family="'Liberation Serif', 'Times New Roman', serif" font-size="36.3" text-anchor="middle" fill="#262626">5</text>
<text transform="translate(1616.75,911.70) scale(1,1.06)" font-family="'Liberation Serif', 'Times New Roman', serif" font-size="36.3" text-anchor="middle" fill="#262626">10</text>
<text transform="translate(1674.62,911.70) scale(1,1.06)" font-family="'Liberation Serif', 'Times New Roman', serif" font-size="36.3" text-anchor="middle" fill="#262626">15</text>
<text transform="translate(1732.50,911.70) scale(1,1.06)" font-family="'Liberation Serif', 'Times New Roman', serif" font-size="36.3" text-anchor="middle" fill="#262626">20</text>
<text transform="translate(1790.38,911.70) scale(1,1.06)" font-family="'Liberation Serif', 'Times New Roman', serif" font-size="36.3" text-anchor="middle" fill="#262626">25</text>
<text transform="translate(1848.25,911.70) scale(1,1.06)" font-family="'Liberation Serif', 'Times New Roman', serif" font-size="36.3" text-anchor="middle" fill="#262626">30</text>
<text transform="translate(1906.12,911.70) scale(1,1.06)" font-family="'Liberation Serif', 'Times New Roman', serif" font-size="36.3" text-anchor="middle" fill="#262626">35</text>
<text transform="translate(1964.00,911.70) scale(1,1.06)" font-family="'Liberation Serif', 'Times New Roman', serif" font-size="36.3" text-anchor="middle" fill="#262626">40</text>
<text transform="translate(1469.00,877.59) scale(1,1.06)" font-family="'Liberation Serif', 'Times New Roman', serif" font-size="36.3" text-anchor="end" fill="#262626">0.00</text>
<text transform="translate(1469.00,826.49) scale(1,1.06)" font-family="'Liberation Serif', 'Times New Roman', serif" font-size="36.3" text-anchor="end" fill="#262626">0.05</text>
<text transform="translate(1469.00,775.39) scale(1,1.06)" font-family="'Liberation Serif', 'Times New Roman', serif" font-size="36.3" text-anchor="end" fill="#262626">0.10</text>
<text transform="translate(1469.00,724.29) scale(1,1.06)" font-family="'Liberation Serif', 'Times New Roman', serif" font-size="36.3" text-anchor="end" fill="#262626">0.15</text>
<text transform="translate(1469.00,673.19) scale(1,1.06)" font-family="'Liberation Serif', 'Times New Roman', serif" font-size="36.3" text-anchor="end" fill="#262626">0.20</text>
<text transform="translate(1469.00,622.09) scale(1,1.06)" font-family="'Liberation Serif', 'Times New Roman', serif" font-size="36.3" text-anchor="end" fill="#262626">0.25</text>
<text transform="translate(1469.00,570.99) scale(1,1.06)" font-family="'Liberation Serif', 'Times New Roman', serif" font-size="36.3" text-anchor="end" fill="#262626">0.30</text>
<text x="1732.65" y="958.20" font-family="'Liberation Serif', 'Times New Roman', serif" font-size="42.5" text-anchor="middle" fill="#262626">Diameter / μm</text>
<text transform="translate(1388.80,718.10) rotate(-90)" x="0" y="0" font-family="'Liberation Serif', 'Times New Roman', serif" font-size="42.5" text-anchor="middle" fill="#262626">PDF</text>
</g>
<g id="plot_g">
<clipPath id="clip_g"><rect x="140.1" y="1094.0" width="509.20" height="331.20"/></clipPath>
<line x1="164.40" y1="1094.0" x2="164.40" y2="1425.2" stroke="#d0d0d0" stroke-width="1.3"/>
<line x1="241.00" y1="1094.0" x2="241.00" y2="1425.2" stroke="#d0d0d0" stroke-width="1.3"/>
<line x1="317.60" y1="1094.0" x2="317.60" y2="1425.2" stroke="#d0d0d0" stroke-width="1.3"/>
<line x1="394.20" y1="1094.0" x2="394.20" y2="1425.2" stroke="#d0d0d0" stroke-width="1.3"/>
<line x1="470.80" y1="1094.0" x2="470.80" y2="1425.2" stroke="#d0d0d0" stroke-width="1.3"/>
<line x1="547.40" y1="1094.0" x2="547.40" y2="1425.2" stroke="#d0d0d0" stroke-width="1.3"/>
<line x1="624.00" y1="1094.0" x2="624.00" y2="1425.2" stroke="#d0d0d0" stroke-width="1.3"/>
<line x1="140.1" y1="1410.00" x2="649.3" y2="1410.00" stroke="#d0d0d0" stroke-width="1.8"/>
<line x1="140.1" y1="1361.23" x2="649.3" y2="1361.23" stroke="#d0d0d0" stroke-width="1.8"/>
<line x1="140.1" y1="1312.47" x2="649.3" y2="1312.47" stroke="#d0d0d0" stroke-width="1.8"/>
<line x1="140.1" y1="1263.70" x2="649.3" y2="1263.70" stroke="#d0d0d0" stroke-width="1.8"/>
<line x1="140.1" y1="1214.93" x2="649.3" y2="1214.93" stroke="#d0d0d0" stroke-width="1.8"/>
<line x1="140.1" y1="1166.17" x2="649.3" y2="1166.17" stroke="#d0d0d0" stroke-width="1.8"/>
<line x1="140.1" y1="1117.40" x2="649.3" y2="1117.40" stroke="#d0d0d0" stroke-width="1.8"/>
<g clip-path="url(#clip_g)">
<path d="M162.5,1409.5 168.4,1409.4 174.2,1409.3 180.1,1409.2 186.0,1409.1 191.8,1409.0 197.7,1408.8 203.6,1408.6 209.5,1408.4 215.3,1408.2 221.2,1407.9 227.1,1407.6 232.9,1407.3 238.8,1407.0 244.7,1406.6 250.6,1406.1 256.4,1405.7 262.3,1405.1 268.2,1404.6 274.0,1404.0 279.9,1403.3 285.8,1402.6 291.6,1401.8 297.5,1401.0 303.4,1400.1 309.3,1399.2 315.1,1398.2 321.0,1397.2 326.9,1396.1 332.7,1394.9 338.6,1393.7 344.5,1392.5 350.4,1391.2 356.2,1389.9 362.1,1388.5 368.0,1387.2 373.8,1385.8 379.7,1384.4 385.6,1383.0 391.5,1381.6 397.3,1380.2 403.2,1378.8 409.1,1377.4 414.9,1376.1 420.8,1374.8 426.7,1373.6 432.6,1372.5 438.4,1371.4 444.3,1370.4 450.2,1369.5 456.0,1368.7 461.9,1368.0 467.8,1367.4 473.7,1366.9 479.5,1366.5 485.4,1366.3 491.3,1366.1 497.1,1366.2 503.0,1366.6 508.9,1367.4 514.7,1368.7 520.6,1370.3 526.5,1372.2 532.4,1374.4 538.2,1376.9 544.1,1379.4 550.0,1382.1 555.8,1384.7 561.7,1387.4 567.6,1390.0 573.5,1392.4 579.3,1394.8 585.2,1396.9 591.1,1398.9 596.9,1400.6 602.8,1402.2 608.7,1403.5 614.6,1404.7 620.4,1405.7 626.3,1406.6 626.3,1410.0 162.5,1410.0Z" fill="#440154" fill-opacity="0.2" stroke="#440154" stroke-opacity="0.2" stroke-width="2"/>
<path d="M162.5,1409.0 168.4,1408.9 174.2,1408.7 180.1,1408.5 186.0,1408.2 191.8,1407.9 197.7,1407.6 203.6,1407.3 209.5,1406.9 215.3,1406.5 221.2,1406.0 227.1,1405.4 232.9,1404.8 238.8,1404.2 244.7,1403.4 250.6,1402.6 256.4,1401.7 262.3,1400.8 268.2,1399.8 274.0,1398.6 279.9,1397.4 285.8,1396.1 291.6,1394.7 297.5,1393.3 303.4,1391.7 309.3,1390.0 315.1,1388.3 321.0,1386.5 326.9,1384.5 332.7,1382.5 338.6,1380.5 344.5,1378.3 350.4,1376.2 356.2,1373.9 362.1,1371.6 368.0,1369.3 373.8,1367.0 379.7,1364.7 385.6,1362.4 391.5,1360.1 397.3,1357.8 403.2,1355.6 409.1,1353.4 414.9,1351.4 420.8,1349.4 426.7,1347.6 432.6,1345.9 438.4,1344.3 444.3,1342.8 450.2,1341.6 456.0,1340.5 461.9,1339.5 467.8,1338.8 473.7,1338.3 479.5,1338.0 485.4,1337.8 491.3,1338.1 497.1,1338.9 503.0,1340.4 508.9,1342.4 514.7,1345.0 520.6,1348.0 526.5,1351.4 532.4,1355.1 538.2,1359.0 544.1,1363.0 550.0,1367.1 555.8,1371.2 561.7,1375.2 567.6,1379.1 573.5,1382.8 579.3,1386.2 585.2,1389.4 591.1,1392.3 596.9,1395.0 602.8,1397.3 608.7,1399.4 614.6,1401.2 620.4,1402.8 626.3,1404.1 626.3,1410.0 162.5,1410.0Z" fill="#481c6e" fill-opacity="0.2" stroke="#481c6e" stroke-opacity="0.2" stroke-width="2"/>
<path d="M162.5,1408.5 168.4,1408.3 174.2,1408.1 180.1,1407.8 186.0,1407.4 191.8,1407.1 197.7,1406.7 203.6,1406.2 209.5,1405.7 215.3,1405.2 221.2,1404.6 227.1,1403.9 232.9,1403.2 238.8,1402.3 244.7,1401.5 250.6,1400.5 256.4,1399.5 262.3,1398.4 268.2,1397.2 274.0,1395.9 279.9,1394.5 285.8,1393.1 291.6,1391.5 297.5,1389.9 303.4,1388.1 309.3,1386.3 315.1,1384.5 321.0,1382.5 326.9,1380.4 332.7,1378.3 338.6,1376.2 344.5,1374.0 350.4,1371.7 356.2,1369.4 362.1,1367.1 368.0,1364.8 373.8,1362.4 379.7,1360.1 385.6,1357.8 391.5,1355.6 397.3,1353.4 403.2,1351.2 409.1,1349.2 414.9,1347.2 420.8,1345.4 426.7,1343.7 432.6,1342.1 438.4,1340.6 444.3,1339.3 450.2,1338.2 456.0,1337.3 461.9,1336.5 467.8,1336.0 473.7,1335.6 479.5,1335.4 485.4,1335.5 491.3,1336.1 497.1,1337.3 503.0,1339.0 508.9,1341.2 514.7,1343.8 520.6,1346.9 526.5,1350.2 532.4,1353.8 538.2,1357.6 544.1,1361.5 550.0,1365.5 555.8,1369.4 561.7,1373.3 567.6,1377.1 573.5,1380.7 579.3,1384.1 585.2,1387.3 591.1,1390.2 596.9,1392.9 602.8,1395.4 608.7,1397.5 614.6,1399.5 620.4,1401.2 626.3,1402.7 626.3,1410.0 162.5,1410.0Z" fill="#453581" fill-opacity="0.2" stroke="#453581" stroke-opacity="0.2" stroke-width="2"/>
<path d="M162.5,1408.5 167.9,1408.3 173.3,1408.1 178.7,1407.8 184.0,1407.5 189.4,1407.2 194.8,1406.9 200.2,1406.5 205.6,1406.0 211.0,1405.6 216.4,1405.0 221.8,1404.5 227.2,1403.8 232.6,1403.2 238.0,1402.4 243.4,1401.6 248.7,1400.8 254.1,1399.9 259.5,1398.9 264.9,1397.8 270.3,1396.7 275.7,1395.5 281.1,1394.3 286.5,1393.0 291.9,1391.6 297.3,1390.1 302.7,1388.6 308.0,1387.0 313.4,1385.3 318.8,1383.6 324.2,1381.9 329.6,1380.1 335.0,1378.2 340.4,1376.4 345.8,1374.5 351.2,1372.5 356.6,1370.6 362.0,1368.7 367.3,1366.8 372.7,1364.8 378.1,1363.0 383.5,1361.1 388.9,1359.3 394.3,1357.6 399.7,1355.9 405.1,1354.3 410.5,1352.8 415.9,1351.3 421.3,1350.0 426.6,1348.8 432.0,1347.8 437.4,1346.8 442.8,1346.0 448.2,1345.3 453.6,1344.8 459.0,1344.4 464.4,1344.2 469.8,1344.2 475.2,1344.5 480.6,1345.5 486.0,1346.9 491.3,1348.9 496.7,1351.4 502.1,1354.3 507.5,1357.5 512.9,1361.0 518.3,1364.6 523.7,1368.4 529.1,1372.2 534.5,1375.9 539.9,1379.6 545.3,1383.1 550.6,1386.4 556.0,1389.5 561.4,1392.3 566.8,1394.9 572.2,1397.2 577.6,1399.3 583.0,1401.1 588.4,1402.7 588.4,1410.0 162.5,1410.0Z" fill="#3d4d8a" fill-opacity="0.2" stroke="#3d4d8a" stroke-opacity="0.2" stroke-width="2"/>
<path d="M162.5,1409.7 167.3,1409.6 172.2,1409.5 177.0,1409.4 181.9,1409.3 186.7,1409.2 191.6,1409.0 196.4,1408.8 201.3,1408.6 206.1,1408.4 211.0,1408.1 215.8,1407.7 220.7,1407.4 225.5,1407.0 230.4,1406.5 235.2,1405.9 240.1,1405.3 244.9,1404.7 249.8,1403.9 254.6,1403.1 259.4,1402.2 264.3,1401.1 269.1,1400.0 274.0,1398.8 278.8,1397.5 283.7,1396.1 288.5,1394.5 293.4,1392.9 298.2,1391.1 303.1,1389.2 307.9,1387.2 312.8,1385.1 317.6,1382.9 322.5,1380.6 327.3,1378.2 332.2,1375.7 337.0,1373.1 341.9,1370.5 346.7,1367.9 351.6,1365.2 356.4,1362.5 361.3,1359.8 366.1,1357.1 371.0,1354.5 375.8,1351.9 380.6,1349.5 385.5,1347.1 390.3,1344.9 395.2,1342.8 400.0,1340.8 404.9,1339.1 409.7,1337.5 414.6,1336.1 419.4,1335.0 424.3,1334.1 429.1,1333.5 434.0,1333.1 438.8,1332.9 443.7,1333.0 448.5,1333.5 453.4,1334.3 458.2,1335.7 463.1,1337.6 467.9,1340.1 472.8,1343.1 477.6,1346.6 482.5,1350.6 487.3,1354.8 492.2,1359.4 497.0,1364.1 501.9,1368.9 506.7,1373.7 511.5,1378.3 516.4,1382.7 521.2,1386.8 526.1,1390.5 530.9,1393.9 535.8,1396.9 540.6,1399.5 545.5,1401.7 545.5,1410.0 162.5,1410.0Z" fill="#34618d" fill-opacity="0.2" stroke="#34618d" stroke-opacity="0.2" stroke-width="2"/>
<path d="M162.5,1409.7 165.7,1409.6 169.0,1409.5 172.2,1409.4 175.5,1409.2 178.7,1409.1 181.9,1408.9 185.2,1408.7 188.4,1408.4 191.7,1408.1 194.9,1407.8 198.2,1407.4 201.4,1406.9 204.6,1406.3 207.9,1405.7 211.1,1405.0 214.4,1404.2 217.6,1403.3 220.9,1402.2 224.1,1401.1 227.4,1399.8 230.6,1398.4 233.8,1396.8 237.1,1395.0 240.3,1393.1 243.6,1391.0 246.8,1388.7 250.1,1386.2 253.3,1383.5 256.5,1380.6 259.8,1377.6 263.0,1374.3 266.3,1370.8 269.5,1367.2 272.8,1363.4 276.0,1359.5 279.2,1355.4 282.5,1351.2 285.7,1346.9 289.0,1342.5 292.2,1338.1 295.5,1333.7 298.7,1329.3 302.0,1324.9 305.2,1320.7 308.4,1316.5 311.7,1312.5 314.9,1308.8 318.2,1305.2 321.4,1301.9 324.7,1299.0 327.9,1296.3 331.1,1294.0 334.4,1292.1 337.6,1290.6 340.9,1289.5 344.1,1288.8 347.4,1288.6 350.6,1288.6 353.8,1289.0 357.1,1289.8 360.3,1291.2 363.6,1293.3 366.8,1296.2 370.1,1299.9 373.3,1304.6 376.5,1310.0 379.8,1316.2 383.0,1323.1 386.3,1330.5 389.5,1338.3 392.8,1346.2 396.0,1354.1 399.3,1361.8 402.5,1369.1 405.7,1375.9 409.0,1382.1 412.2,1387.6 415.5,1392.3 418.7,1396.3 418.7,1410.0 162.5,1410.0Z" fill="#2b748e" fill-opacity="0.2" stroke="#2b748e" stroke-opacity="0.2" stroke-width="2"/>
<path d="M162.5,1405.6 164.7,1405.1 166.8,1404.6 169.0,1404.0 171.2,1403.3 173.4,1402.6 175.6,1401.9 177.8,1401.0 179.9,1400.1 182.1,1399.1 184.3,1398.0 186.5,1396.8 188.7,1395.6 190.8,1394.2 193.0,1392.7 195.2,1391.1 197.4,1389.4 199.6,1387.5 201.8,1385.5 203.9,1383.4 206.1,1381.1 208.3,1378.7 210.5,1376.1 212.7,1373.3 214.8,1370.4 217.0,1367.3 219.2,1364.1 221.4,1360.6 223.6,1357.0 225.8,1353.2 227.9,1349.2 230.1,1345.1 232.3,1340.8 234.5,1336.3 236.7,1331.6 238.8,1326.8 241.0,1321.8 243.2,1316.7 245.4,1311.5 247.6,1306.1 249.8,1300.7 251.9,1295.3 254.1,1289.7 256.3,1284.2 258.5,1278.7 260.7,1273.2 262.8,1267.8 265.0,1262.6 267.2,1257.5 269.4,1252.6 271.6,1248.0 273.7,1243.8 275.9,1239.9 278.1,1236.6 280.3,1233.8 282.5,1231.8 284.7,1231.0 286.8,1232.0 289.0,1234.4 291.2,1238.2 293.4,1243.3 295.6,1249.5 297.7,1256.8 299.9,1264.9 302.1,1273.7 304.3,1283.1 306.5,1292.7 308.7,1302.5 310.8,1312.3 313.0,1321.9 315.2,1331.2 317.4,1340.1 319.6,1348.5 321.7,1356.3 323.9,1363.5 326.1,1370.1 328.3,1376.0 330.5,1381.3 332.7,1385.9 334.8,1390.0 334.8,1410.0 162.5,1410.0Z" fill="#24878e" fill-opacity="0.2" stroke="#24878e" stroke-opacity="0.2" stroke-width="2"/>
<path d="M162.5,1403.7 164.2,1403.0 166.0,1402.3 167.7,1401.5 169.5,1400.7 171.2,1399.8 173.0,1398.8 174.7,1397.7 176.5,1396.5 178.2,1395.2 180.0,1393.8 181.7,1392.4 183.5,1390.7 185.2,1389.0 187.0,1387.1 188.7,1385.1 190.5,1383.0 192.2,1380.6 194.0,1378.2 195.7,1375.5 197.5,1372.7 199.2,1369.6 201.0,1366.4 202.7,1363.0 204.5,1359.3 206.2,1355.5 208.0,1351.4 209.7,1347.1 211.5,1342.5 213.2,1337.7 215.0,1332.7 216.7,1327.4 218.5,1321.9 220.2,1316.2 222.0,1310.2 223.7,1303.9 225.5,1297.5 227.2,1290.8 229.0,1283.9 230.7,1276.8 232.5,1269.6 234.2,1262.2 236.0,1254.6 237.7,1247.0 239.5,1239.3 241.2,1231.6 243.0,1224.0 244.7,1216.4 246.5,1208.9 248.2,1201.7 250.0,1194.7 251.7,1188.1 253.5,1181.9 255.2,1176.4 257.0,1171.8 258.7,1168.2 260.5,1166.7 262.2,1168.1 264.0,1171.5 265.7,1176.7 267.5,1183.7 269.2,1192.4 271.0,1202.4 272.7,1213.5 274.5,1225.6 276.2,1238.4 278.0,1251.6 279.7,1265.0 281.5,1278.4 283.2,1291.5 285.0,1304.2 286.7,1316.3 288.5,1327.7 290.2,1338.3 292.0,1348.1 293.7,1356.9 295.5,1364.9 297.2,1372.0 299.0,1378.2 300.7,1383.7 300.7,1410.0 162.5,1410.0Z" fill="#1f998a" fill-opacity="0.2" stroke="#1f998a" stroke-opacity="0.2" stroke-width="2"/>
<path d="M162.5,1401.2 164.0,1400.3 165.5,1399.4 167.0,1398.3 168.5,1397.2 170.0,1395.9 171.5,1394.6 173.0,1393.1 174.5,1391.5 176.1,1389.8 177.6,1388.0 179.1,1386.0 180.6,1383.8 182.1,1381.5 183.6,1379.0 185.1,1376.3 186.6,1373.5 188.1,1370.4 189.6,1367.1 191.1,1363.6 192.6,1359.9 194.1,1355.9 195.7,1351.7 197.2,1347.2 198.7,1342.4 200.2,1337.4 201.7,1332.1 203.2,1326.5 204.7,1320.7 206.2,1314.5 207.7,1308.0 209.2,1301.3 210.7,1294.2 212.2,1286.9 213.7,1279.2 215.3,1271.4 216.8,1263.2 218.3,1254.8 219.8,1246.2 221.3,1237.4 222.8,1228.4 224.3,1219.2 225.8,1210.0 227.3,1200.7 228.8,1191.4 230.3,1182.1 231.8,1172.9 233.3,1163.9 234.9,1155.2 236.4,1146.8 237.9,1138.9 239.4,1131.6 240.9,1125.2 242.4,1119.7 243.9,1115.7 245.4,1114.7 246.9,1116.7 248.4,1121.1 249.9,1127.7 251.4,1136.4 253.0,1146.9 254.5,1159.0 256.0,1172.5 257.5,1187.0 259.0,1202.3 260.5,1218.1 262.0,1234.2 263.5,1250.1 265.0,1265.8 266.5,1281.0 268.0,1295.5 269.5,1309.2 271.0,1321.9 272.6,1333.7 274.1,1344.4 275.6,1354.1 277.1,1362.7 278.6,1370.3 280.1,1376.9 281.6,1382.7 281.6,1410.0 162.5,1410.0Z" fill="#25ac82" fill-opacity="0.2" stroke="#25ac82" stroke-opacity="0.2" stroke-width="2"/>
<path d="M162.5,1400.2 164.0,1399.3 165.5,1398.2 167.0,1397.1 168.5,1395.9 170.0,1394.5 171.5,1393.1 173.0,1391.5 174.5,1389.8 176.1,1388.0 177.6,1386.1 179.1,1383.9 180.6,1381.7 182.1,1379.2 183.6,1376.6 185.1,1373.8 186.6,1370.8 188.1,1367.6 189.6,1364.1 191.1,1360.5 192.6,1356.6 194.1,1352.5 195.7,1348.1 197.2,1343.4 198.7,1338.5 200.2,1333.3 201.7,1327.9 203.2,1322.1 204.7,1316.1 206.2,1309.8 207.7,1303.1 209.2,1296.2 210.7,1289.0 212.2,1281.6 213.7,1273.8 215.3,1265.8 216.8,1257.5 218.3,1249.0 219.8,1240.3 221.3,1231.4 222.8,1222.3 224.3,1213.1 225.8,1203.8 227.3,1194.4 228.8,1185.0 230.3,1175.7 231.8,1166.5 233.3,1157.5 234.9,1148.8 236.4,1140.4 237.9,1132.5 239.4,1125.3 240.9,1118.8 242.4,1113.4 243.9,1109.4 245.4,1108.3 246.9,1110.5 248.4,1115.0 249.9,1121.8 251.4,1130.7 253.0,1141.5 254.5,1154.0 256.0,1167.8 257.5,1182.8 259.0,1198.5 260.5,1214.8 262.0,1231.2 263.5,1247.6 265.0,1263.6 266.5,1279.2 268.0,1294.0 269.5,1308.0 271.0,1321.0 272.6,1333.0 274.1,1343.9 275.6,1353.7 277.1,1362.4 278.6,1370.1 280.1,1376.9 281.6,1382.7 281.6,1410.0 162.5,1410.0Z" fill="#40bd72" fill-opacity="0.2" stroke="#40bd72" stroke-opacity="0.2" stroke-width="2"/>
<path d="M162.5,1400.2 164.0,1399.3 165.5,1398.3 167.0,1397.1 168.5,1395.9 170.0,1394.6 171.5,1393.1 173.0,1391.6 174.5,1389.9 176.1,1388.1 177.6,1386.1 179.1,1384.0 180.6,1381.8 182.1,1379.3 183.6,1376.7 185.1,1373.9 186.6,1371.0 188.1,1367.8 189.6,1364.4 191.1,1360.7 192.6,1356.9 194.1,1352.8 195.7,1348.4 197.2,1343.8 198.7,1339.0 200.2,1333.9 201.7,1328.4 203.2,1322.8 204.7,1316.8 206.2,1310.5 207.7,1304.0 209.2,1297.2 210.7,1290.0 212.2,1282.7 213.7,1275.0 215.3,1267.1 216.8,1258.9 218.3,1250.5 219.8,1241.9 221.3,1233.1 222.8,1224.1 224.3,1215.0 225.8,1205.8 227.3,1196.6 228.8,1187.4 230.3,1178.2 231.8,1169.1 233.3,1160.2 234.9,1151.6 236.4,1143.4 237.9,1135.6 239.4,1128.4 240.9,1122.1 242.4,1116.7 243.9,1112.8 245.4,1111.7 246.9,1113.8 248.4,1118.3 249.9,1125.0 251.4,1133.8 253.0,1144.4 254.5,1156.7 256.0,1170.3 257.5,1185.1 259.0,1200.6 260.5,1216.6 262.0,1232.8 263.5,1249.0 265.0,1264.8 266.5,1280.2 268.0,1294.8 269.5,1308.6 271.0,1321.5 272.6,1333.4 274.1,1344.2 275.6,1353.9 277.1,1362.6 278.6,1370.2 280.1,1376.9 281.6,1382.7 281.6,1410.0 162.5,1410.0Z" fill="#67cc5c" fill-opacity="0.2" stroke="#67cc5c" stroke-opacity="0.2" stroke-width="2"/>
<path d="M162.5,1400.2 164.0,1399.3 165.5,1398.3 167.0,1397.2 168.5,1396.1 170.0,1394.8 171.5,1393.5 173.0,1392.0 174.5,1390.4 176.1,1388.7 177.6,1386.9 179.1,1384.9 180.6,1382.8 182.1,1380.6 183.6,1378.2 185.1,1375.6 186.6,1372.9 188.1,1369.9 189.6,1366.8 191.1,1363.5 192.6,1360.0 194.1,1356.3 195.7,1352.4 197.2,1348.3 198.7,1343.9 200.2,1339.3 201.7,1334.5 203.2,1329.4 204.7,1324.1 206.2,1318.5 207.7,1312.7 209.2,1306.7 210.7,1300.4 212.2,1293.9 213.7,1287.2 215.3,1280.3 216.8,1273.1 218.3,1265.8 219.8,1258.3 221.3,1250.6 222.8,1242.9 224.3,1235.0 225.8,1227.0 227.3,1219.1 228.8,1211.1 230.3,1203.2 231.8,1195.4 233.3,1187.8 234.9,1180.4 236.4,1173.3 237.9,1166.7 239.4,1160.6 240.9,1155.1 242.4,1150.6 243.9,1147.2 245.4,1146.3 246.9,1148.1 248.4,1151.9 249.9,1157.5 251.4,1165.0 253.0,1174.0 254.5,1184.5 256.0,1196.1 257.5,1208.7 259.0,1222.0 260.5,1235.7 262.0,1249.7 263.5,1263.7 265.0,1277.5 266.5,1290.9 268.0,1303.8 269.5,1316.0 271.0,1327.5 272.6,1338.1 274.1,1347.8 275.6,1356.6 277.1,1364.5 278.6,1371.6 280.1,1377.8 281.6,1383.2 281.6,1410.0 162.5,1410.0Z" fill="#98d83e" fill-opacity="0.2" stroke="#98d83e" stroke-opacity="0.2" stroke-width="2"/>
<path d="M162.5,1400.2 164.0,1399.4 165.5,1398.5 167.0,1397.5 168.5,1396.4 170.0,1395.3 171.5,1394.0 173.0,1392.7 174.5,1391.3 176.1,1389.8 177.6,1388.2 179.1,1386.5 180.6,1384.6 182.1,1382.7 183.6,1380.6 185.1,1378.4 186.6,1376.0 188.1,1373.5 189.6,1370.9 191.1,1368.1 192.6,1365.1 194.1,1362.0 195.7,1358.7 197.2,1355.2 198.7,1351.6 200.2,1347.8 201.7,1343.8 203.2,1339.6 204.7,1335.2 206.2,1330.6 207.7,1325.9 209.2,1320.9 210.7,1315.8 212.2,1310.5 213.7,1305.0 215.3,1299.3 216.8,1293.5 218.3,1287.5 219.8,1281.4 221.3,1275.1 222.8,1268.7 224.3,1262.3 225.8,1255.7 227.3,1249.2 228.8,1242.5 230.3,1235.9 231.8,1229.4 233.3,1222.9 234.9,1216.5 236.4,1210.3 237.9,1204.3 239.4,1198.6 240.9,1193.3 242.4,1188.5 243.9,1184.2 245.4,1180.7 246.9,1178.3 248.4,1178.2 249.9,1180.4 251.4,1184.5 253.0,1190.4 254.5,1197.9 256.0,1207.0 257.5,1217.3 259.0,1228.6 260.5,1240.7 262.0,1253.3 263.5,1266.2 265.0,1279.2 266.5,1292.0 268.0,1304.5 269.5,1316.4 271.0,1327.7 272.6,1338.3 274.1,1348.0 275.6,1356.9 277.1,1364.8 278.6,1371.9 280.1,1378.2 281.6,1383.7 281.6,1410.0 162.5,1410.0Z" fill="#cde11d" fill-opacity="0.2" stroke="#cde11d" stroke-opacity="0.2" stroke-width="2"/>
<path d="M162.5,1409.5 168.4,1409.4 174.2,1409.3 180.1,1409.2 186.0,1409.1 191.8,1409.0 197.7,1408.8 203.6,1408.6 209.5,1408.4 215.3,1408.2 221.2,1407.9 227.1,1407.6 232.9,1407.3 238.8,1407.0 244.7,1406.6 250.6,1406.1 256.4,1405.7 262.3,1405.1 268.2,1404.6 274.0,1404.0 279.9,1403.3 285.8,1402.6 291.6,1401.8 297.5,1401.0 303.4,1400.1 309.3,1399.2 315.1,1398.2 321.0,1397.2 326.9,1396.1 332.7,1394.9 338.6,1393.7 344.5,1392.5 350.4,1391.2 356.2,1389.9 362.1,1388.5 368.0,1387.2 373.8,1385.8 379.7,1384.4 385.6,1383.0 391.5,1381.6 397.3,1380.2 403.2,1378.8 409.1,1377.4 414.9,1376.1 420.8,1374.8 426.7,1373.6 432.6,1372.5 438.4,1371.4 444.3,1370.4 450.2,1369.5 456.0,1368.7 461.9,1368.0 467.8,1367.4 473.7,1366.9 479.5,1366.5 485.4,1366.3 491.3,1366.1 497.1,1366.2 503.0,1366.6 508.9,1367.4 514.7,1368.7 520.6,1370.3 526.5,1372.2 532.4,1374.4 538.2,1376.9 544.1,1379.4 550.0,1382.1 555.8,1384.7 561.7,1387.4 567.6,1390.0 573.5,1392.4 579.3,1394.8 585.2,1396.9 591.1,1398.9 596.9,1400.6 602.8,1402.2 608.7,1403.5 614.6,1404.7 620.4,1405.7 626.3,1406.6" fill="none" stroke="#440154" stroke-width="4.6" stroke-linejoin="round" stroke-linecap="round"/>
<path d="M162.5,1409.0 168.4,1408.9 174.2,1408.7 180.1,1408.5 186.0,1408.2 191.8,1407.9 197.7,1407.6 203.6,1407.3 209.5,1406.9 215.3,1406.5 221.2,1406.0 227.1,1405.4 232.9,1404.8 238.8,1404.2 244.7,1403.4 250.6,1402.6 256.4,1401.7 262.3,1400.8 268.2,1399.8 274.0,1398.6 279.9,1397.4 285.8,1396.1 291.6,1394.7 297.5,1393.3 303.4,1391.7 309.3,1390.0 315.1,1388.3 321.0,1386.5 326.9,1384.5 332.7,1382.5 338.6,1380.5 344.5,1378.3 350.4,1376.2 356.2,1373.9 362.1,1371.6 368.0,1369.3 373.8,1367.0 379.7,1364.7 385.6,1362.4 391.5,1360.1 397.3,1357.8 403.2,1355.6 409.1,1353.4 414.9,1351.4 420.8,1349.4 426.7,1347.6 432.6,1345.9 438.4,1344.3 444.3,1342.8 450.2,1341.6 456.0,1340.5 461.9,1339.5 467.8,1338.8 473.7,1338.3 479.5,1338.0 485.4,1337.8 491.3,1338.1 497.1,1338.9 503.0,1340.4 508.9,1342.4 514.7,1345.0 520.6,1348.0 526.5,1351.4 532.4,1355.1 538.2,1359.0 544.1,1363.0 550.0,1367.1 555.8,1371.2 561.7,1375.2 567.6,1379.1 573.5,1382.8 579.3,1386.2 585.2,1389.4 591.1,1392.3 596.9,1395.0 602.8,1397.3 608.7,1399.4 614.6,1401.2 620.4,1402.8 626.3,1404.1" fill="none" stroke="#481c6e" stroke-width="4.6" stroke-linejoin="round" stroke-linecap="round"/>
<path d="M162.5,1408.5 168.4,1408.3 174.2,1408.1 180.1,1407.8 186.0,1407.4 191.8,1407.1 197.7,1406.7 203.6,1406.2 209.5,1405.7 215.3,1405.2 221.2,1404.6 227.1,1403.9 232.9,1403.2 238.8,1402.3 244.7,1401.5 250.6,1400.5 256.4,1399.5 262.3,1398.4 268.2,1397.2 274.0,1395.9 279.9,1394.5 285.8,1393.1 291.6,1391.5 297.5,1389.9 303.4,1388.1 309.3,1386.3 315.1,1384.5 321.0,1382.5 326.9,1380.4 332.7,1378.3 338.6,1376.2 344.5,1374.0 350.4,1371.7 356.2,1369.4 362.1,1367.1 368.0,1364.8 373.8,1362.4 379.7,1360.1 385.6,1357.8 391.5,1355.6 397.3,1353.4 403.2,1351.2 409.1,1349.2 414.9,1347.2 420.8,1345.4 426.7,1343.7 432.6,1342.1 438.4,1340.6 444.3,1339.3 450.2,1338.2 456.0,1337.3 461.9,1336.5 467.8,1336.0 473.7,1335.6 479.5,1335.4 485.4,1335.5 491.3,1336.1 497.1,1337.3 503.0,1339.0 508.9,1341.2 514.7,1343.8 520.6,1346.9 526.5,1350.2 532.4,1353.8 538.2,1357.6 544.1,1361.5 550.0,1365.5 555.8,1369.4 561.7,1373.3 567.6,1377.1 573.5,1380.7 579.3,1384.1 585.2,1387.3 591.1,1390.2 596.9,1392.9 602.8,1395.4 608.7,1397.5 614.6,1399.5 620.4,1401.2 626.3,1402.7" fill="none" stroke="#453581" stroke-width="4.6" stroke-linejoin="round" stroke-linecap="round"/>
<path d="M162.5,1408.5 167.9,1408.3 173.3,1408.1 178.7,1407.8 184.0,1407.5 189.4,1407.2 194.8,1406.9 200.2,1406.5 205.6,1406.0 211.0,1405.6 216.4,1405.0 221.8,1404.5 227.2,1403.8 232.6,1403.2 238.0,1402.4 243.4,1401.6 248.7,1400.8 254.1,1399.9 259.5,1398.9 264.9,1397.8 270.3,1396.7 275.7,1395.5 281.1,1394.3 286.5,1393.0 291.9,1391.6 297.3,1390.1 302.7,1388.6 308.0,1387.0 313.4,1385.3 318.8,1383.6 324.2,1381.9 329.6,1380.1 335.0,1378.2 340.4,1376.4 345.8,1374.5 351.2,1372.5 356.6,1370.6 362.0,1368.7 367.3,1366.8 372.7,1364.8 378.1,1363.0 383.5,1361.1 388.9,1359.3 394.3,1357.6 399.7,1355.9 405.1,1354.3 410.5,1352.8 415.9,1351.3 421.3,1350.0 426.6,1348.8 432.0,1347.8 437.4,1346.8 442.8,1346.0 448.2,1345.3 453.6,1344.8 459.0,1344.4 464.4,1344.2 469.8,1344.2 475.2,1344.5 480.6,1345.5 486.0,1346.9 491.3,1348.9 496.7,1351.4 502.1,1354.3 507.5,1357.5 512.9,1361.0 518.3,1364.6 523.7,1368.4 529.1,1372.2 534.5,1375.9 539.9,1379.6 545.3,1383.1 550.6,1386.4 556.0,1389.5 561.4,1392.3 566.8,1394.9 572.2,1397.2 577.6,1399.3 583.0,1401.1 588.4,1402.7" fill="none" stroke="#3d4d8a" stroke-width="4.6" stroke-linejoin="round" stroke-linecap="round"/>
<path d="M162.5,1409.7 167.3,1409.6 172.2,1409.5 177.0,1409.4 181.9,1409.3 186.7,1409.2 191.6,1409.0 196.4,1408.8 201.3,1408.6 206.1,1408.4 211.0,1408.1 215.8,1407.7 220.7,1407.4 225.5,1407.0 230.4,1406.5 235.2,1405.9 240.1,1405.3 244.9,1404.7 249.8,1403.9 254.6,1403.1 259.4,1402.2 264.3,1401.1 269.1,1400.0 274.0,1398.8 278.8,1397.5 283.7,1396.1 288.5,1394.5 293.4,1392.9 298.2,1391.1 303.1,1389.2 307.9,1387.2 312.8,1385.1 317.6,1382.9 322.5,1380.6 327.3,1378.2 332.2,1375.7 337.0,1373.1 341.9,1370.5 346.7,1367.9 351.6,1365.2 356.4,1362.5 361.3,1359.8 366.1,1357.1 371.0,1354.5 375.8,1351.9 380.6,1349.5 385.5,1347.1 390.3,1344.9 395.2,1342.8 400.0,1340.8 404.9,1339.1 409.7,1337.5 414.6,1336.1 419.4,1335.0 424.3,1334.1 429.1,1333.5 434.0,1333.1 438.8,1332.9 443.7,1333.0 448.5,1333.5 453.4,1334.3 458.2,1335.7 463.1,1337.6 467.9,1340.1 472.8,1343.1 477.6,1346.6 482.5,1350.6 487.3,1354.8 492.2,1359.4 497.0,1364.1 501.9,1368.9 506.7,1373.7 511.5,1378.3 516.4,1382.7 521.2,1386.8 526.1,1390.5 530.9,1393.9 535.8,1396.9 540.6,1399.5 545.5,1401.7" fill="none" stroke="#34618d" stroke-width="4.6" stroke-linejoin="round" stroke-linecap="round"/>
<path d="M162.5,1409.7 165.7,1409.6 169.0,1409.5 172.2,1409.4 175.5,1409.2 178.7,1409.1 181.9,1408.9 185.2,1408.7 188.4,1408.4 191.7,1408.1 194.9,1407.8 198.2,1407.4 201.4,1406.9 204.6,1406.3 207.9,1405.7 211.1,1405.0 214.4,1404.2 217.6,1403.3 220.9,1402.2 224.1,1401.1 227.4,1399.8 230.6,1398.4 233.8,1396.8 237.1,1395.0 240.3,1393.1 243.6,1391.0 246.8,1388.7 250.1,1386.2 253.3,1383.5 256.5,1380.6 259.8,1377.6 263.0,1374.3 266.3,1370.8 269.5,1367.2 272.8,1363.4 276.0,1359.5 279.2,1355.4 282.5,1351.2 285.7,1346.9 289.0,1342.5 292.2,1338.1 295.5,1333.7 298.7,1329.3 302.0,1324.9 305.2,1320.7 308.4,1316.5 311.7,1312.5 314.9,1308.8 318.2,1305.2 321.4,1301.9 324.7,1299.0 327.9,1296.3 331.1,1294.0 334.4,1292.1 337.6,1290.6 340.9,1289.5 344.1,1288.8 347.4,1288.6 350.6,1288.6 353.8,1289.0 357.1,1289.8 360.3,1291.2 363.6,1293.3 366.8,1296.2 370.1,1299.9 373.3,1304.6 376.5,1310.0 379.8,1316.2 383.0,1323.1 386.3,1330.5 389.5,1338.3 392.8,1346.2 396.0,1354.1 399.3,1361.8 402.5,1369.1 405.7,1375.9 409.0,1382.1 412.2,1387.6 415.5,1392.3 418.7,1396.3" fill="none" stroke="#2b748e" stroke-width="4.6" stroke-linejoin="round" stroke-linecap="round"/>
<path d="M162.5,1405.6 164.7,1405.1 166.8,1404.6 169.0,1404.0 171.2,1403.3 173.4,1402.6 175.6,1401.9 177.8,1401.0 179.9,1400.1 182.1,1399.1 184.3,1398.0 186.5,1396.8 188.7,1395.6 190.8,1394.2 193.0,1392.7 195.2,1391.1 197.4,1389.4 199.6,1387.5 201.8,1385.5 203.9,1383.4 206.1,1381.1 208.3,1378.7 210.5,1376.1 212.7,1373.3 214.8,1370.4 217.0,1367.3 219.2,1364.1 221.4,1360.6 223.6,1357.0 225.8,1353.2 227.9,1349.2 230.1,1345.1 232.3,1340.8 234.5,1336.3 236.7,1331.6 238.8,1326.8 241.0,1321.8 243.2,1316.7 245.4,1311.5 247.6,1306.1 249.8,1300.7 251.9,1295.3 254.1,1289.7 256.3,1284.2 258.5,1278.7 260.7,1273.2 262.8,1267.8 265.0,1262.6 267.2,1257.5 269.4,1252.6 271.6,1248.0 273.7,1243.8 275.9,1239.9 278.1,1236.6 280.3,1233.8 282.5,1231.8 284.7,1231.0 286.8,1232.0 289.0,1234.4 291.2,1238.2 293.4,1243.3 295.6,1249.5 297.7,1256.8 299.9,1264.9 302.1,1273.7 304.3,1283.1 306.5,1292.7 308.7,1302.5 310.8,1312.3 313.0,1321.9 315.2,1331.2 317.4,1340.1 319.6,1348.5 321.7,1356.3 323.9,1363.5 326.1,1370.1 328.3,1376.0 330.5,1381.3 332.7,1385.9 334.8,1390.0" fill="none" stroke="#24878e" stroke-width="4.6" stroke-linejoin="round" stroke-linecap="round"/>
<path d="M162.5,1403.7 164.2,1403.0 166.0,1402.3 167.7,1401.5 169.5,1400.7 171.2,1399.8 173.0,1398.8 174.7,1397.7 176.5,1396.5 178.2,1395.2 180.0,1393.8 181.7,1392.4 183.5,1390.7 185.2,1389.0 187.0,1387.1 188.7,1385.1 190.5,1383.0 192.2,1380.6 194.0,1378.2 195.7,1375.5 197.5,1372.7 199.2,1369.6 201.0,1366.4 202.7,1363.0 204.5,1359.3 206.2,1355.5 208.0,1351.4 209.7,1347.1 211.5,1342.5 213.2,1337.7 215.0,1332.7 216.7,1327.4 218.5,1321.9 220.2,1316.2 222.0,1310.2 223.7,1303.9 225.5,1297.5 227.2,1290.8 229.0,1283.9 230.7,1276.8 232.5,1269.6 234.2,1262.2 236.0,1254.6 237.7,1247.0 239.5,1239.3 241.2,1231.6 243.0,1224.0 244.7,1216.4 246.5,1208.9 248.2,1201.7 250.0,1194.7 251.7,1188.1 253.5,1181.9 255.2,1176.4 257.0,1171.8 258.7,1168.2 260.5,1166.7 262.2,1168.1 264.0,1171.5 265.7,1176.7 267.5,1183.7 269.2,1192.4 271.0,1202.4 272.7,1213.5 274.5,1225.6 276.2,1238.4 278.0,1251.6 279.7,1265.0 281.5,1278.4 283.2,1291.5 285.0,1304.2 286.7,1316.3 288.5,1327.7 290.2,1338.3 292.0,1348.1 293.7,1356.9 295.5,1364.9 297.2,1372.0 299.0,1378.2 300.7,1383.7" fill="none" stroke="#1f998a" stroke-width="4.6" stroke-linejoin="round" stroke-linecap="round"/>
<path d="M162.5,1401.2 164.0,1400.3 165.5,1399.4 167.0,1398.3 168.5,1397.2 170.0,1395.9 171.5,1394.6 173.0,1393.1 174.5,1391.5 176.1,1389.8 177.6,1388.0 179.1,1386.0 180.6,1383.8 182.1,1381.5 183.6,1379.0 185.1,1376.3 186.6,1373.5 188.1,1370.4 189.6,1367.1 191.1,1363.6 192.6,1359.9 194.1,1355.9 195.7,1351.7 197.2,1347.2 198.7,1342.4 200.2,1337.4 201.7,1332.1 203.2,1326.5 204.7,1320.7 206.2,1314.5 207.7,1308.0 209.2,1301.3 210.7,1294.2 212.2,1286.9 213.7,1279.2 215.3,1271.4 216.8,1263.2 218.3,1254.8 219.8,1246.2 221.3,1237.4 222.8,1228.4 224.3,1219.2 225.8,1210.0 227.3,1200.7 228.8,1191.4 230.3,1182.1 231.8,1172.9 233.3,1163.9 234.9,1155.2 236.4,1146.8 237.9,1138.9 239.4,1131.6 240.9,1125.2 242.4,1119.7 243.9,1115.7 245.4,1114.7 246.9,1116.7 248.4,1121.1 249.9,1127.7 251.4,1136.4 253.0,1146.9 254.5,1159.0 256.0,1172.5 257.5,1187.0 259.0,1202.3 260.5,1218.1 262.0,1234.2 263.5,1250.1 265.0,1265.8 266.5,1281.0 268.0,1295.5 269.5,1309.2 271.0,1321.9 272.6,1333.7 274.1,1344.4 275.6,1354.1 277.1,1362.7 278.6,1370.3 280.1,1376.9 281.6,1382.7" fill="none" stroke="#25ac82" stroke-width="4.6" stroke-linejoin="round" stroke-linecap="round"/>
<path d="M162.5,1400.2 164.0,1399.3 165.5,1398.2 167.0,1397.1 168.5,1395.9 170.0,1394.5 171.5,1393.1 173.0,1391.5 174.5,1389.8 176.1,1388.0 177.6,1386.1 179.1,1383.9 180.6,1381.7 182.1,1379.2 183.6,1376.6 185.1,1373.8 186.6,1370.8 188.1,1367.6 189.6,1364.1 191.1,1360.5 192.6,1356.6 194.1,1352.5 195.7,1348.1 197.2,1343.4 198.7,1338.5 200.2,1333.3 201.7,1327.9 203.2,1322.1 204.7,1316.1 206.2,1309.8 207.7,1303.1 209.2,1296.2 210.7,1289.0 212.2,1281.6 213.7,1273.8 215.3,1265.8 216.8,1257.5 218.3,1249.0 219.8,1240.3 221.3,1231.4 222.8,1222.3 224.3,1213.1 225.8,1203.8 227.3,1194.4 228.8,1185.0 230.3,1175.7 231.8,1166.5 233.3,1157.5 234.9,1148.8 236.4,1140.4 237.9,1132.5 239.4,1125.3 240.9,1118.8 242.4,1113.4 243.9,1109.4 245.4,1108.3 246.9,1110.5 248.4,1115.0 249.9,1121.8 251.4,1130.7 253.0,1141.5 254.5,1154.0 256.0,1167.8 257.5,1182.8 259.0,1198.5 260.5,1214.8 262.0,1231.2 263.5,1247.6 265.0,1263.6 266.5,1279.2 268.0,1294.0 269.5,1308.0 271.0,1321.0 272.6,1333.0 274.1,1343.9 275.6,1353.7 277.1,1362.4 278.6,1370.1 280.1,1376.9 281.6,1382.7" fill="none" stroke="#40bd72" stroke-width="4.6" stroke-linejoin="round" stroke-linecap="round"/>
<path d="M162.5,1400.2 164.0,1399.3 165.5,1398.3 167.0,1397.1 168.5,1395.9 170.0,1394.6 171.5,1393.1 173.0,1391.6 174.5,1389.9 176.1,1388.1 177.6,1386.1 179.1,1384.0 180.6,1381.8 182.1,1379.3 183.6,1376.7 185.1,1373.9 186.6,1371.0 188.1,1367.8 189.6,1364.4 191.1,1360.7 192.6,1356.9 194.1,1352.8 195.7,1348.4 197.2,1343.8 198.7,1339.0 200.2,1333.9 201.7,1328.4 203.2,1322.8 204.7,1316.8 206.2,1310.5 207.7,1304.0 209.2,1297.2 210.7,1290.0 212.2,1282.7 213.7,1275.0 215.3,1267.1 216.8,1258.9 218.3,1250.5 219.8,1241.9 221.3,1233.1 222.8,1224.1 224.3,1215.0 225.8,1205.8 227.3,1196.6 228.8,1187.4 230.3,1178.2 231.8,1169.1 233.3,1160.2 234.9,1151.6 236.4,1143.4 237.9,1135.6 239.4,1128.4 240.9,1122.1 242.4,1116.7 243.9,1112.8 245.4,1111.7 246.9,1113.8 248.4,1118.3 249.9,1125.0 251.4,1133.8 253.0,1144.4 254.5,1156.7 256.0,1170.3 257.5,1185.1 259.0,1200.6 260.5,1216.6 262.0,1232.8 263.5,1249.0 265.0,1264.8 266.5,1280.2 268.0,1294.8 269.5,1308.6 271.0,1321.5 272.6,1333.4 274.1,1344.2 275.6,1353.9 277.1,1362.6 278.6,1370.2 280.1,1376.9 281.6,1382.7" fill="none" stroke="#67cc5c" stroke-width="4.6" stroke-linejoin="round" stroke-linecap="round"/>
<path d="M162.5,1400.2 164.0,1399.3 165.5,1398.3 167.0,1397.2 168.5,1396.1 170.0,1394.8 171.5,1393.5 173.0,1392.0 174.5,1390.4 176.1,1388.7 177.6,1386.9 179.1,1384.9 180.6,1382.8 182.1,1380.6 183.6,1378.2 185.1,1375.6 186.6,1372.9 188.1,1369.9 189.6,1366.8 191.1,1363.5 192.6,1360.0 194.1,1356.3 195.7,1352.4 197.2,1348.3 198.7,1343.9 200.2,1339.3 201.7,1334.5 203.2,1329.4 204.7,1324.1 206.2,1318.5 207.7,1312.7 209.2,1306.7 210.7,1300.4 212.2,1293.9 213.7,1287.2 215.3,1280.3 216.8,1273.1 218.3,1265.8 219.8,1258.3 221.3,1250.6 222.8,1242.9 224.3,1235.0 225.8,1227.0 227.3,1219.1 228.8,1211.1 230.3,1203.2 231.8,1195.4 233.3,1187.8 234.9,1180.4 236.4,1173.3 237.9,1166.7 239.4,1160.6 240.9,1155.1 242.4,1150.6 243.9,1147.2 245.4,1146.3 246.9,1148.1 248.4,1151.9 249.9,1157.5 251.4,1165.0 253.0,1174.0 254.5,1184.5 256.0,1196.1 257.5,1208.7 259.0,1222.0 260.5,1235.7 262.0,1249.7 263.5,1263.7 265.0,1277.5 266.5,1290.9 268.0,1303.8 269.5,1316.0 271.0,1327.5 272.6,1338.1 274.1,1347.8 275.6,1356.6 277.1,1364.5 278.6,1371.6 280.1,1377.8 281.6,1383.2" fill="none" stroke="#98d83e" stroke-width="4.6" stroke-linejoin="round" stroke-linecap="round"/>
<path d="M162.5,1400.2 164.0,1399.4 165.5,1398.5 167.0,1397.5 168.5,1396.4 170.0,1395.3 171.5,1394.0 173.0,1392.7 174.5,1391.3 176.1,1389.8 177.6,1388.2 179.1,1386.5 180.6,1384.6 182.1,1382.7 183.6,1380.6 185.1,1378.4 186.6,1376.0 188.1,1373.5 189.6,1370.9 191.1,1368.1 192.6,1365.1 194.1,1362.0 195.7,1358.7 197.2,1355.2 198.7,1351.6 200.2,1347.8 201.7,1343.8 203.2,1339.6 204.7,1335.2 206.2,1330.6 207.7,1325.9 209.2,1320.9 210.7,1315.8 212.2,1310.5 213.7,1305.0 215.3,1299.3 216.8,1293.5 218.3,1287.5 219.8,1281.4 221.3,1275.1 222.8,1268.7 224.3,1262.3 225.8,1255.7 227.3,1249.2 228.8,1242.5 230.3,1235.9 231.8,1229.4 233.3,1222.9 234.9,1216.5 236.4,1210.3 237.9,1204.3 239.4,1198.6 240.9,1193.3 242.4,1188.5 243.9,1184.2 245.4,1180.7 246.9,1178.3 248.4,1178.2 249.9,1180.4 251.4,1184.5 253.0,1190.4 254.5,1197.9 256.0,1207.0 257.5,1217.3 259.0,1228.6 260.5,1240.7 262.0,1253.3 263.5,1266.2 265.0,1279.2 266.5,1292.0 268.0,1304.5 269.5,1316.4 271.0,1327.7 272.6,1338.3 274.1,1348.0 275.6,1356.9 277.1,1364.8 278.6,1371.9 280.1,1378.2 281.6,1383.7" fill="none" stroke="#cde11d" stroke-width="4.6" stroke-linejoin="round" stroke-linecap="round"/>
</g>
<path d="M140.1,1094.0 H649.3 M140.1,1425.2 H649.3" fill="none" stroke="#c8c8c8" stroke-width="1.8"/>
<path d="M140.1,1093.1 V1426.1000000000001 M649.3,1093.1 V1426.1000000000001" fill="none" stroke="#c8c8c8" stroke-width="1.3"/>
<text transform="translate(164.40,1457.00) scale(1,1.06)" font-family="'Liberation Serif', 'Times New Roman', serif" font-size="36.3" text-anchor="middle" fill="#262626">0</text>
<text transform="translate(241.00,1457.00) scale(1,1.06)" font-family="'Liberation Serif', 'Times New Roman', serif" font-size="36.3" text-anchor="middle" fill="#262626">20</text>
<text transform="translate(317.60,1457.00) scale(1,1.06)" font-family="'Liberation Serif', 'Times New Roman', serif" font-size="36.3" text-anchor="middle" fill="#262626">40</text>
<text transform="translate(394.20,1457.00) scale(1,1.06)" font-family="'Liberation Serif', 'Times New Roman', serif" font-size="36.3" text-anchor="middle" fill="#262626">60</text>
<text transform="translate(470.80,1457.00) scale(1,1.06)" font-family="'Liberation Serif', 'Times New Roman', serif" font-size="36.3" text-anchor="middle" fill="#262626">80</text>
<text transform="translate(547.40,1457.00) scale(1,1.06)" font-family="'Liberation Serif', 'Times New Roman', serif" font-size="36.3" text-anchor="middle" fill="#262626">100</text>
<text transform="translate(624.00,1457.00) scale(1,1.06)" font-family="'Liberation Serif', 'Times New Roman', serif" font-size="36.3" text-anchor="middle" fill="#262626">120</text>
<text transform="translate(132.50,1422.69) scale(1,1.06)" font-family="'Liberation Serif', 'Times New Roman', serif" font-size="36.3" text-anchor="end" fill="#262626">0.00</text>
<text transform="translate(132.50,1373.93) scale(1,1.06)" font-family="'Liberation Serif', 'Times New Roman', serif" font-size="36.3" text-anchor="end" fill="#262626">0.01</text>
<text transform="translate(132.50,1325.16) scale(1,1.06)" font-family="'Liberation Serif', 'Times New Roman', serif" font-size="36.3" text-anchor="end" fill="#262626">0.02</text>
<text transform="translate(132.50,1276.39) scale(1,1.06)" font-family="'Liberation Serif', 'Times New Roman', serif" font-size="36.3" text-anchor="end" fill="#262626">0.03</text>
<text transform="translate(132.50,1227.63) scale(1,1.06)" font-family="'Liberation Serif', 'Times New Roman', serif" font-size="36.3" text-anchor="end" fill="#262626">0.04</text>
<text transform="translate(132.50,1178.86) scale(1,1.06)" font-family="'Liberation Serif', 'Times New Roman', serif" font-size="36.3" text-anchor="end" fill="#262626">0.05</text>
<text transform="translate(132.50,1130.09) scale(1,1.06)" font-family="'Liberation Serif', 'Times New Roman', serif" font-size="36.3" text-anchor="end" fill="#262626">0.06</text>
<text x="395.60" y="1503.50" font-family="'Liberation Serif', 'Times New Roman', serif" font-size="42.5" text-anchor="middle" fill="#262626">Diameter / μm</text>
<text transform="translate(52.30,1263.30) rotate(-90)" x="0" y="0" font-family="'Liberation Serif', 'Times New Roman', serif" font-size="42.5" text-anchor="middle" fill="#262626">PDF</text>
</g>
<g id="plot_h">
<clipPath id="clip_h"><rect x="814.5" y="1093.0" width="510.40" height="331.90"/></clipPath>
<line x1="838.90" y1="1093.0" x2="838.90" y2="1424.9" stroke="#d0d0d0" stroke-width="1.3"/>
<line x1="896.79" y1="1093.0" x2="896.79" y2="1424.9" stroke="#d0d0d0" stroke-width="1.3"/>
<line x1="954.67" y1="1093.0" x2="954.67" y2="1424.9" stroke="#d0d0d0" stroke-width="1.3"/>
<line x1="1012.56" y1="1093.0" x2="1012.56" y2="1424.9" stroke="#d0d0d0" stroke-width="1.3"/>
<line x1="1070.45" y1="1093.0" x2="1070.45" y2="1424.9" stroke="#d0d0d0" stroke-width="1.3"/>
<line x1="1128.34" y1="1093.0" x2="1128.34" y2="1424.9" stroke="#d0d0d0" stroke-width="1.3"/>
<line x1="1186.22" y1="1093.0" x2="1186.22" y2="1424.9" stroke="#d0d0d0" stroke-width="1.3"/>
<line x1="1244.11" y1="1093.0" x2="1244.11" y2="1424.9" stroke="#d0d0d0" stroke-width="1.3"/>
<line x1="1302.00" y1="1093.0" x2="1302.00" y2="1424.9" stroke="#d0d0d0" stroke-width="1.3"/>
<line x1="814.5" y1="1410.00" x2="1324.9" y2="1410.00" stroke="#d0d0d0" stroke-width="1.8"/>
<line x1="814.5" y1="1355.58" x2="1324.9" y2="1355.58" stroke="#d0d0d0" stroke-width="1.8"/>
<line x1="814.5" y1="1301.16" x2="1324.9" y2="1301.16" stroke="#d0d0d0" stroke-width="1.8"/>
<line x1="814.5" y1="1246.74" x2="1324.9" y2="1246.74" stroke="#d0d0d0" stroke-width="1.8"/>
<line x1="814.5" y1="1192.32" x2="1324.9" y2="1192.32" stroke="#d0d0d0" stroke-width="1.8"/>
<line x1="814.5" y1="1137.90" x2="1324.9" y2="1137.90" stroke="#d0d0d0" stroke-width="1.8"/>
<g clip-path="url(#clip_h)">
<path d="M835.4,1408.6 841.3,1408.4 847.2,1408.2 853.1,1408.0 859.1,1407.7 865.0,1407.4 870.9,1407.1 876.8,1406.7 882.7,1406.3 888.6,1405.8 894.5,1405.3 900.4,1404.8 906.3,1404.2 912.2,1403.5 918.1,1402.8 924.0,1402.1 929.9,1401.2 935.8,1400.4 941.7,1399.4 947.6,1398.4 953.5,1397.3 959.5,1396.2 965.4,1395.0 971.3,1393.7 977.2,1392.4 983.1,1391.0 989.0,1389.6 994.9,1388.1 1000.8,1386.5 1006.7,1384.9 1012.6,1383.2 1018.5,1381.5 1024.4,1379.8 1030.3,1378.0 1036.2,1376.3 1042.1,1374.5 1048.0,1372.7 1053.9,1370.9 1059.9,1369.1 1065.8,1367.4 1071.7,1365.6 1077.6,1364.0 1083.5,1362.4 1089.4,1360.8 1095.3,1359.3 1101.2,1357.9 1107.1,1356.6 1113.0,1355.4 1118.9,1354.3 1124.8,1353.3 1130.7,1352.4 1136.6,1351.7 1142.5,1351.1 1148.4,1350.7 1154.4,1350.3 1160.3,1350.2 1166.2,1350.2 1172.1,1350.6 1178.0,1351.5 1183.9,1352.8 1189.8,1354.6 1195.7,1356.8 1201.6,1359.3 1207.5,1362.1 1213.4,1365.1 1219.3,1368.3 1225.2,1371.5 1231.1,1374.9 1237.0,1378.1 1242.9,1381.4 1248.8,1384.5 1254.8,1387.4 1260.7,1390.2 1266.6,1392.8 1272.5,1395.1 1278.4,1397.3 1284.3,1399.2 1290.2,1400.9 1296.1,1402.4 1302.0,1403.7 1302.0,1410.0 835.4,1410.0Z" fill="#440154" fill-opacity="0.2" stroke="#440154" stroke-opacity="0.2" stroke-width="2"/>
<path d="M835.4,1407.8 841.3,1407.5 847.2,1407.2 853.1,1406.9 859.1,1406.5 865.0,1406.1 870.9,1405.6 876.8,1405.1 882.7,1404.6 888.6,1404.0 894.5,1403.4 900.4,1402.7 906.3,1402.0 912.2,1401.2 918.1,1400.3 924.0,1399.4 929.9,1398.4 935.8,1397.4 941.7,1396.3 947.6,1395.1 953.5,1393.9 959.5,1392.6 965.4,1391.3 971.3,1389.9 977.2,1388.5 983.1,1387.0 989.0,1385.4 994.9,1383.8 1000.8,1382.2 1006.7,1380.5 1012.6,1378.8 1018.5,1377.1 1024.4,1375.3 1030.3,1373.6 1036.2,1371.8 1042.1,1370.1 1048.0,1368.3 1053.9,1366.6 1059.9,1364.9 1065.8,1363.3 1071.7,1361.7 1077.6,1360.1 1083.5,1358.6 1089.4,1357.2 1095.3,1355.9 1101.2,1354.7 1107.1,1353.5 1113.0,1352.5 1118.9,1351.6 1124.8,1350.8 1130.7,1350.2 1136.6,1349.6 1142.5,1349.2 1148.4,1348.9 1154.4,1348.8 1160.3,1348.8 1166.2,1349.3 1172.1,1350.2 1178.0,1351.5 1183.9,1353.2 1189.8,1355.2 1195.7,1357.6 1201.6,1360.2 1207.5,1363.0 1213.4,1366.0 1219.3,1369.1 1225.2,1372.3 1231.1,1375.5 1237.0,1378.6 1242.9,1381.6 1248.8,1384.6 1254.8,1387.4 1260.7,1390.0 1266.6,1392.5 1272.5,1394.8 1278.4,1396.9 1284.3,1398.7 1290.2,1400.4 1296.1,1401.9 1302.0,1403.2 1302.0,1410.0 835.4,1410.0Z" fill="#481c6e" fill-opacity="0.2" stroke="#481c6e" stroke-opacity="0.2" stroke-width="2"/>
<path d="M835.4,1406.7 841.3,1406.4 847.1,1405.9 852.9,1405.5 858.8,1405.0 864.6,1404.5 870.4,1403.9 876.3,1403.3 882.1,1402.6 887.9,1401.9 893.8,1401.1 899.6,1400.3 905.4,1399.4 911.3,1398.5 917.1,1397.5 922.9,1396.4 928.8,1395.3 934.6,1394.1 940.4,1392.9 946.2,1391.6 952.1,1390.3 957.9,1388.9 963.7,1387.4 969.6,1385.9 975.4,1384.4 981.2,1382.8 987.1,1381.2 992.9,1379.5 998.7,1377.8 1004.6,1376.1 1010.4,1374.3 1016.2,1372.6 1022.1,1370.8 1027.9,1369.1 1033.7,1367.3 1039.6,1365.6 1045.4,1363.9 1051.2,1362.2 1057.1,1360.6 1062.9,1359.0 1068.7,1357.4 1074.6,1356.0 1080.4,1354.6 1086.2,1353.2 1092.1,1352.0 1097.9,1350.9 1103.7,1349.8 1109.6,1348.9 1115.4,1348.1 1121.2,1347.4 1127.1,1346.8 1132.9,1346.4 1138.7,1346.0 1144.6,1345.8 1150.4,1345.8 1156.2,1346.0 1162.1,1346.7 1167.9,1347.8 1173.7,1349.4 1179.6,1351.3 1185.4,1353.6 1191.2,1356.2 1197.1,1359.0 1202.9,1362.0 1208.7,1365.2 1214.6,1368.4 1220.4,1371.7 1226.2,1375.0 1232.1,1378.3 1237.9,1381.4 1243.7,1384.4 1249.5,1387.3 1255.4,1390.0 1261.2,1392.4 1267.0,1394.7 1272.9,1396.8 1278.7,1398.7 1284.5,1400.4 1290.4,1401.9 1296.2,1403.2 1296.2,1410.0 835.4,1410.0Z" fill="#453581" fill-opacity="0.2" stroke="#453581" stroke-opacity="0.2" stroke-width="2"/>
<path d="M835.4,1405.6 841.2,1405.2 846.9,1404.7 852.7,1404.1 858.5,1403.6 864.2,1402.9 870.0,1402.3 875.7,1401.5 881.5,1400.8 887.3,1399.9 893.0,1399.1 898.8,1398.1 904.5,1397.1 910.3,1396.1 916.1,1395.0 921.8,1393.8 927.6,1392.6 933.3,1391.4 939.1,1390.0 944.9,1388.7 950.6,1387.2 956.4,1385.7 962.1,1384.2 967.9,1382.7 973.7,1381.0 979.4,1379.4 985.2,1377.7 990.9,1376.0 996.7,1374.3 1002.5,1372.5 1008.2,1370.8 1014.0,1369.0 1019.7,1367.3 1025.5,1365.5 1031.2,1363.8 1037.0,1362.1 1042.8,1360.4 1048.5,1358.8 1054.3,1357.2 1060.0,1355.6 1065.8,1354.2 1071.6,1352.7 1077.3,1351.4 1083.1,1350.2 1088.8,1349.0 1094.6,1347.9 1100.4,1347.0 1106.1,1346.1 1111.9,1345.3 1117.6,1344.7 1123.4,1344.2 1129.2,1343.8 1134.9,1343.5 1140.7,1343.4 1146.4,1343.4 1152.2,1343.7 1158.0,1344.5 1163.7,1345.8 1169.5,1347.4 1175.2,1349.4 1181.0,1351.8 1186.8,1354.4 1192.5,1357.3 1198.3,1360.3 1204.0,1363.5 1209.8,1366.8 1215.5,1370.1 1221.3,1373.4 1227.1,1376.7 1232.8,1379.9 1238.6,1382.9 1244.3,1385.8 1250.1,1388.6 1255.9,1391.1 1261.6,1393.5 1267.4,1395.7 1273.1,1397.6 1278.9,1399.4 1284.7,1401.0 1290.4,1402.4 1290.4,1410.0 835.4,1410.0Z" fill="#3d4d8a" fill-opacity="0.2" stroke="#3d4d8a" stroke-opacity="0.2" stroke-width="2"/>
<path d="M835.4,1403.2 841.1,1402.4 846.8,1401.5 852.5,1400.6 858.2,1399.6 863.9,1398.4 869.5,1397.2 875.2,1396.0 880.9,1394.6 886.6,1393.1 892.3,1391.5 898.0,1389.9 903.7,1388.1 909.3,1386.2 915.0,1384.3 920.7,1382.2 926.4,1380.0 932.1,1377.8 937.8,1375.5 943.5,1373.1 949.2,1370.6 954.8,1368.1 960.5,1365.5 966.2,1362.9 971.9,1360.2 977.6,1357.5 983.3,1354.8 989.0,1352.1 994.6,1349.4 1000.3,1346.7 1006.0,1344.1 1011.7,1341.6 1017.4,1339.1 1023.1,1336.7 1028.8,1334.4 1034.4,1332.2 1040.1,1330.2 1045.8,1328.3 1051.5,1326.5 1057.2,1324.9 1062.9,1323.5 1068.6,1322.3 1074.2,1321.3 1079.9,1320.5 1085.6,1319.9 1091.3,1319.6 1097.0,1319.4 1102.7,1319.5 1108.4,1320.1 1114.0,1321.0 1119.7,1322.3 1125.4,1324.0 1131.1,1326.1 1136.8,1328.5 1142.5,1331.2 1148.2,1334.1 1153.9,1337.3 1159.5,1340.7 1165.2,1344.2 1170.9,1347.8 1176.6,1351.5 1182.3,1355.2 1188.0,1359.0 1193.7,1362.6 1199.3,1366.3 1205.0,1369.8 1210.7,1373.2 1216.4,1376.5 1222.1,1379.6 1227.8,1382.6 1233.5,1385.4 1239.1,1388.0 1244.8,1390.4 1250.5,1392.6 1256.2,1394.7 1261.9,1396.6 1267.6,1398.3 1273.3,1399.8 1278.9,1401.2 1284.6,1402.4 1284.6,1410.0 835.4,1410.0Z" fill="#34618d" fill-opacity="0.2" stroke="#34618d" stroke-opacity="0.2" stroke-width="2"/>
<path d="M835.4,1393.4 841.1,1391.3 846.8,1389.1 852.4,1386.7 858.1,1384.0 863.8,1381.2 869.5,1378.2 875.1,1374.9 880.8,1371.4 886.5,1367.8 892.1,1363.9 897.8,1359.8 903.5,1355.6 909.2,1351.2 914.8,1346.7 920.5,1342.0 926.2,1337.2 931.8,1332.3 937.5,1327.3 943.2,1322.4 948.9,1317.4 954.5,1312.5 960.2,1307.6 965.9,1302.8 971.5,1298.2 977.2,1293.8 982.9,1289.5 988.6,1285.5 994.2,1281.9 999.9,1278.5 1005.6,1275.4 1011.2,1272.8 1016.9,1270.5 1022.6,1268.7 1028.3,1267.3 1033.9,1266.3 1039.6,1265.9 1045.3,1265.8 1050.9,1266.3 1056.6,1267.2 1062.3,1268.6 1068.0,1270.4 1073.6,1272.6 1079.3,1275.3 1085.0,1278.3 1090.6,1281.7 1096.3,1285.4 1102.0,1289.4 1107.7,1293.6 1113.3,1298.0 1119.0,1302.7 1124.7,1307.5 1130.3,1312.3 1136.0,1317.3 1141.7,1322.3 1147.4,1327.3 1153.0,1332.2 1158.7,1337.1 1164.4,1342.0 1170.0,1346.7 1175.7,1351.2 1181.4,1355.7 1187.1,1359.9 1192.7,1364.0 1198.4,1367.8 1204.1,1371.5 1209.7,1375.0 1215.4,1378.2 1221.1,1381.3 1226.8,1384.1 1232.4,1386.8 1238.1,1389.2 1243.8,1391.5 1249.4,1393.5 1255.1,1395.4 1260.8,1397.1 1266.5,1398.6 1272.1,1400.0 1277.8,1401.3 1283.5,1402.4 1283.5,1410.0 835.4,1410.0Z" fill="#2b748e" fill-opacity="0.2" stroke="#2b748e" stroke-opacity="0.2" stroke-width="2"/>
<path d="M835.4,1382.0 839.7,1378.4 844.0,1374.6 848.3,1370.4 852.6,1365.9 856.9,1361.0 861.2,1355.9 865.5,1350.4 869.8,1344.5 874.1,1338.4 878.4,1332.0 882.7,1325.3 887.0,1318.4 891.2,1311.3 895.5,1304.0 899.8,1296.6 904.1,1289.1 908.4,1281.6 912.7,1274.2 917.0,1266.8 921.3,1259.6 925.6,1252.6 929.9,1245.9 934.2,1239.5 938.5,1233.5 942.8,1228.0 947.1,1223.0 951.4,1218.5 955.7,1214.7 960.0,1211.5 964.2,1209.0 968.5,1207.3 972.8,1206.2 977.1,1205.9 981.4,1206.2 985.7,1207.1 990.0,1208.4 994.3,1210.2 998.6,1212.5 1002.9,1215.3 1007.2,1218.5 1011.5,1222.1 1015.8,1226.1 1020.1,1230.5 1024.4,1235.2 1028.7,1240.2 1032.9,1245.5 1037.2,1251.0 1041.5,1256.8 1045.8,1262.6 1050.1,1268.7 1054.4,1274.8 1058.7,1281.0 1063.0,1287.1 1067.3,1293.3 1071.6,1299.5 1075.9,1305.6 1080.2,1311.6 1084.5,1317.5 1088.8,1323.3 1093.1,1328.9 1097.4,1334.3 1101.7,1339.5 1105.9,1344.6 1110.2,1349.4 1114.5,1354.1 1118.8,1358.5 1123.1,1362.6 1127.4,1366.6 1131.7,1370.3 1136.0,1373.8 1140.3,1377.0 1144.6,1380.1 1148.9,1382.9 1153.2,1385.5 1157.5,1388.0 1161.8,1390.2 1166.1,1392.3 1170.4,1394.1 1174.6,1395.9 1174.6,1410.0 835.4,1410.0Z" fill="#24878e" fill-opacity="0.2" stroke="#24878e" stroke-opacity="0.2" stroke-width="2"/>
<path d="M835.4,1371.9 838.7,1366.2 842.0,1359.9 845.2,1353.0 848.5,1345.5 851.8,1337.3 855.0,1328.5 858.3,1319.0 861.6,1309.0 864.8,1298.5 868.1,1287.4 871.4,1275.9 874.6,1264.1 877.9,1252.1 881.2,1239.8 884.4,1227.6 887.7,1215.4 891.0,1203.4 894.3,1191.8 897.5,1180.7 900.8,1170.2 904.1,1160.5 907.3,1151.7 910.6,1143.9 913.9,1137.2 917.1,1131.7 920.4,1127.6 923.7,1124.8 926.9,1123.4 930.2,1123.3 933.5,1123.9 936.7,1125.2 940.0,1127.1 943.3,1129.7 946.5,1132.8 949.8,1136.5 953.1,1140.7 956.3,1145.5 959.6,1150.8 962.9,1156.5 966.1,1162.7 969.4,1169.2 972.7,1176.1 976.0,1183.3 979.2,1190.8 982.5,1198.5 985.8,1206.4 989.0,1214.4 992.3,1222.6 995.6,1230.8 998.8,1239.0 1002.1,1247.2 1005.4,1255.3 1008.6,1263.4 1011.9,1271.4 1015.2,1279.2 1018.4,1286.9 1021.7,1294.3 1025.0,1301.6 1028.2,1308.6 1031.5,1315.4 1034.8,1321.9 1038.0,1328.2 1041.3,1334.2 1044.6,1339.9 1047.9,1345.3 1051.1,1350.4 1054.4,1355.3 1057.7,1359.8 1060.9,1364.1 1064.2,1368.1 1067.5,1371.9 1070.7,1375.4 1074.0,1378.6 1077.3,1381.6 1080.5,1384.4 1083.8,1386.9 1087.1,1389.3 1090.3,1391.4 1093.6,1393.4 1093.6,1410.0 835.4,1410.0Z" fill="#1f998a" fill-opacity="0.2" stroke="#1f998a" stroke-opacity="0.2" stroke-width="2"/>
<path d="M836.6,1363.7 838.4,1359.5 840.3,1354.4 842.1,1348.6 843.9,1342.1 845.8,1334.9 847.6,1327.3 849.4,1319.2 851.3,1310.7 853.1,1302.0 854.9,1292.3 856.8,1281.0 858.6,1268.6 860.4,1255.5 862.3,1242.2 864.1,1229.2 865.9,1216.9 867.8,1204.3 869.6,1191.3 871.4,1178.3 873.3,1165.6 875.1,1153.6 876.9,1142.7 878.8,1133.3 880.6,1124.5 882.4,1116.2 884.3,1110.5 886.1,1109.0 887.9,1108.3 889.8,1107.8 891.6,1107.3 893.4,1107.0 895.3,1106.8 897.1,1106.7 898.9,1106.6 900.8,1107.2 902.6,1108.9 904.4,1111.6 906.3,1115.1 908.1,1119.1 910.0,1123.5 911.8,1127.9 913.6,1132.7 915.5,1138.7 917.3,1145.7 919.1,1152.9 921.0,1159.9 922.8,1166.9 924.6,1174.0 926.5,1181.3 928.3,1188.7 930.1,1196.1 932.0,1203.6 933.8,1211.0 935.6,1218.5 937.5,1225.9 939.3,1233.6 941.1,1241.4 943.0,1249.4 944.8,1257.4 946.6,1265.3 948.5,1273.1 950.3,1280.7 952.1,1287.9 954.0,1294.8 955.8,1301.1 957.6,1307.1 959.5,1312.9 961.3,1318.6 963.1,1324.2 965.0,1329.6 966.8,1334.8 968.6,1339.8 970.5,1344.6 972.3,1349.1 974.1,1353.4 976.0,1357.3 977.8,1361.0 979.7,1364.5 981.5,1367.8 983.3,1371.1 985.2,1374.2 987.0,1377.3 988.8,1380.1 990.7,1382.8 992.5,1385.4 994.3,1387.7 996.2,1389.8 998.0,1391.7 999.8,1393.4 999.8,1410.0 836.6,1410.0Z" fill="#25ac82" fill-opacity="0.2" stroke="#25ac82" stroke-opacity="0.2" stroke-width="2"/>
<path d="M836.6,1361.0 837.9,1349.1 839.2,1337.4 840.5,1325.9 841.8,1314.6 843.2,1303.6 844.5,1292.8 845.8,1282.2 847.1,1271.9 848.4,1261.9 849.7,1252.2 851.0,1242.7 852.4,1233.3 853.7,1224.0 855.0,1214.8 856.3,1205.8 857.6,1196.9 858.9,1188.4 860.2,1180.2 861.5,1172.4 862.9,1165.0 864.2,1158.1 865.5,1151.7 866.8,1145.4 868.1,1138.8 869.4,1132.2 870.7,1126.0 872.1,1120.5 873.4,1115.9 874.7,1112.6 876.0,1110.9 877.3,1110.8 878.6,1111.4 879.9,1112.4 881.3,1113.9 882.6,1115.7 883.9,1117.8 885.2,1120.2 886.5,1122.7 887.8,1125.3 889.1,1128.0 890.5,1131.5 891.8,1135.7 893.1,1140.7 894.4,1146.2 895.7,1152.1 897.0,1158.2 898.3,1164.4 899.6,1170.5 901.0,1176.5 902.3,1182.7 903.6,1189.3 904.9,1196.0 906.2,1203.0 907.5,1210.1 908.8,1217.2 910.2,1224.5 911.5,1231.7 912.8,1238.8 914.1,1245.8 915.4,1252.7 916.7,1259.6 918.0,1266.6 919.4,1273.7 920.7,1280.7 922.0,1287.7 923.3,1294.6 924.6,1301.3 925.9,1307.7 927.2,1313.9 928.6,1319.7 929.9,1325.5 931.2,1331.2 932.5,1336.8 933.8,1342.2 935.1,1347.5 936.4,1352.4 937.8,1357.1 939.1,1361.4 940.4,1365.3 941.7,1368.9 943.0,1372.3 944.3,1375.6 945.6,1378.8 946.9,1381.7 948.3,1384.5 949.6,1387.0 950.9,1389.3 952.2,1391.4 953.5,1393.1 953.5,1410.0 836.6,1410.0Z" fill="#40bd72" fill-opacity="0.2" stroke="#40bd72" stroke-opacity="0.2" stroke-width="2"/>
<path d="M836.6,1361.0 837.9,1349.1 839.2,1337.4 840.5,1325.9 841.8,1314.6 843.2,1303.6 844.5,1292.8 845.8,1282.2 847.1,1271.9 848.4,1261.9 849.7,1252.2 851.0,1242.7 852.4,1233.4 853.7,1224.1 855.0,1214.9 856.3,1205.9 857.6,1197.1 858.9,1188.6 860.2,1180.4 861.5,1172.6 862.9,1165.1 864.2,1158.2 865.5,1151.7 866.8,1145.2 868.1,1138.5 869.4,1131.7 870.7,1125.2 872.1,1119.5 873.4,1114.7 874.7,1111.3 876.0,1109.5 877.3,1109.4 878.6,1110.1 879.9,1111.3 881.3,1112.9 882.6,1114.9 883.9,1117.2 885.2,1119.7 886.5,1122.4 887.8,1125.2 889.1,1128.0 890.5,1131.6 891.8,1135.9 893.1,1140.9 894.4,1146.4 895.7,1152.2 897.0,1158.3 898.3,1164.4 899.6,1170.5 901.0,1176.5 902.3,1182.7 903.6,1189.3 904.9,1196.0 906.2,1203.0 907.5,1210.1 908.8,1217.2 910.2,1224.5 911.5,1231.7 912.8,1238.8 914.1,1245.8 915.4,1252.7 916.7,1259.6 918.0,1266.6 919.4,1273.7 920.7,1280.7 922.0,1287.7 923.3,1294.6 924.6,1301.3 925.9,1307.7 927.2,1313.9 928.6,1319.7 929.9,1325.5 931.2,1331.2 932.5,1336.8 933.8,1342.2 935.1,1347.5 936.4,1352.4 937.8,1357.1 939.1,1361.4 940.4,1365.3 941.7,1368.9 943.0,1372.3 944.3,1375.6 945.6,1378.8 946.9,1381.7 948.3,1384.5 949.6,1387.0 950.9,1389.3 952.2,1391.4 953.5,1393.1 953.5,1410.0 836.6,1410.0Z" fill="#67cc5c" fill-opacity="0.2" stroke="#67cc5c" stroke-opacity="0.2" stroke-width="2"/>
<path d="M836.6,1361.0 837.9,1349.9 839.2,1338.9 840.5,1328.0 841.8,1317.4 843.2,1306.9 844.5,1296.6 845.8,1286.5 847.1,1276.6 848.4,1267.0 849.7,1257.5 851.0,1248.3 852.4,1239.0 853.7,1229.8 855.0,1220.6 856.3,1211.5 857.6,1202.7 858.9,1194.1 860.2,1185.8 861.5,1177.9 862.9,1170.5 864.2,1163.5 865.5,1157.1 866.8,1150.8 868.1,1144.2 869.4,1137.7 870.7,1131.5 872.1,1125.9 873.4,1121.3 874.7,1118.0 876.0,1116.3 877.3,1116.2 878.6,1116.7 879.9,1117.5 881.3,1118.7 882.6,1120.2 883.9,1122.0 885.2,1123.9 886.5,1126.0 887.8,1128.2 889.1,1130.6 890.5,1133.8 891.8,1138.0 893.1,1143.0 894.4,1148.5 895.7,1154.5 897.0,1160.7 898.3,1167.0 899.6,1173.2 901.0,1179.2 902.3,1185.5 903.6,1192.0 904.9,1198.8 906.2,1205.7 907.5,1212.8 908.8,1220.0 910.2,1227.2 911.5,1234.4 912.8,1241.5 914.1,1248.6 915.4,1255.4 916.7,1262.4 918.0,1269.4 919.4,1276.5 920.7,1283.6 922.0,1290.6 923.3,1297.5 924.6,1304.2 925.9,1310.6 927.2,1316.7 928.6,1322.4 929.9,1327.9 931.2,1333.4 932.5,1338.7 933.8,1343.9 935.1,1348.9 936.4,1353.6 937.8,1358.0 939.1,1362.1 940.4,1365.9 941.7,1369.4 943.0,1372.8 944.3,1376.0 945.6,1379.1 946.9,1382.0 948.3,1384.7 949.6,1387.2 950.9,1389.5 952.2,1391.6 953.5,1393.4 953.5,1410.0 836.6,1410.0Z" fill="#98d83e" fill-opacity="0.2" stroke="#98d83e" stroke-opacity="0.2" stroke-width="2"/>
<path d="M837.2,1362.9 838.5,1350.5 839.8,1338.5 841.1,1326.7 842.4,1315.4 843.7,1304.5 845.0,1294.1 846.3,1284.0 847.6,1274.2 848.9,1264.7 850.2,1255.5 851.5,1246.6 852.8,1237.9 854.1,1229.6 855.4,1221.5 856.8,1213.5 858.1,1205.7 859.4,1198.1 860.7,1190.7 862.0,1183.7 863.3,1177.1 864.6,1171.0 865.9,1165.2 867.2,1159.0 868.5,1152.8 869.8,1146.6 871.1,1140.9 872.4,1135.9 873.7,1132.0 875.0,1129.3 876.3,1128.1 877.7,1128.1 879.0,1128.2 880.3,1128.4 881.6,1128.7 882.9,1129.0 884.2,1129.4 885.5,1129.9 886.8,1130.4 888.1,1131.0 889.4,1132.7 890.7,1135.9 892.0,1140.3 893.3,1145.7 894.6,1151.8 895.9,1158.3 897.2,1165.1 898.5,1171.8 899.9,1178.2 901.2,1184.2 902.5,1190.2 903.8,1196.5 905.1,1202.9 906.4,1209.5 907.7,1216.2 909.0,1223.0 910.3,1229.8 911.6,1236.7 912.9,1243.5 914.2,1250.3 915.5,1256.9 916.8,1263.6 918.1,1270.3 919.4,1277.2 920.8,1284.2 922.1,1291.0 923.4,1297.8 924.7,1304.4 926.0,1310.7 927.3,1316.8 928.6,1322.4 929.9,1327.9 931.2,1333.2 932.5,1338.4 933.8,1343.4 935.1,1348.3 936.4,1352.9 937.7,1357.4 939.0,1361.5 940.3,1365.3 941.6,1368.9 943.0,1372.3 944.3,1375.5 945.6,1378.6 946.9,1381.6 948.2,1384.3 949.5,1386.9 950.8,1389.3 952.1,1391.5 953.4,1393.4 953.4,1410.0 837.2,1410.0Z" fill="#cde11d" fill-opacity="0.2" stroke="#cde11d" stroke-opacity="0.2" stroke-width="2"/>
<path d="M835.4,1408.6 841.3,1408.4 847.2,1408.2 853.1,1408.0 859.1,1407.7 865.0,1407.4 870.9,1407.1 876.8,1406.7 882.7,1406.3 888.6,1405.8 894.5,1405.3 900.4,1404.8 906.3,1404.2 912.2,1403.5 918.1,1402.8 924.0,1402.1 929.9,1401.2 935.8,1400.4 941.7,1399.4 947.6,1398.4 953.5,1397.3 959.5,1396.2 965.4,1395.0 971.3,1393.7 977.2,1392.4 983.1,1391.0 989.0,1389.6 994.9,1388.1 1000.8,1386.5 1006.7,1384.9 1012.6,1383.2 1018.5,1381.5 1024.4,1379.8 1030.3,1378.0 1036.2,1376.3 1042.1,1374.5 1048.0,1372.7 1053.9,1370.9 1059.9,1369.1 1065.8,1367.4 1071.7,1365.6 1077.6,1364.0 1083.5,1362.4 1089.4,1360.8 1095.3,1359.3 1101.2,1357.9 1107.1,1356.6 1113.0,1355.4 1118.9,1354.3 1124.8,1353.3 1130.7,1352.4 1136.6,1351.7 1142.5,1351.1 1148.4,1350.7 1154.4,1350.3 1160.3,1350.2 1166.2,1350.2 1172.1,1350.6 1178.0,1351.5 1183.9,1352.8 1189.8,1354.6 1195.7,1356.8 1201.6,1359.3 1207.5,1362.1 1213.4,1365.1 1219.3,1368.3 1225.2,1371.5 1231.1,1374.9 1237.0,1378.1 1242.9,1381.4 1248.8,1384.5 1254.8,1387.4 1260.7,1390.2 1266.6,1392.8 1272.5,1395.1 1278.4,1397.3 1284.3,1399.2 1290.2,1400.9 1296.1,1402.4 1302.0,1403.7" fill="none" stroke="#440154" stroke-width="4.6" stroke-linejoin="round" stroke-linecap="round"/>
<path d="M835.4,1407.8 841.3,1407.5 847.2,1407.2 853.1,1406.9 859.1,1406.5 865.0,1406.1 870.9,1405.6 876.8,1405.1 882.7,1404.6 888.6,1404.0 894.5,1403.4 900.4,1402.7 906.3,1402.0 912.2,1401.2 918.1,1400.3 924.0,1399.4 929.9,1398.4 935.8,1397.4 941.7,1396.3 947.6,1395.1 953.5,1393.9 959.5,1392.6 965.4,1391.3 971.3,1389.9 977.2,1388.5 983.1,1387.0 989.0,1385.4 994.9,1383.8 1000.8,1382.2 1006.7,1380.5 1012.6,1378.8 1018.5,1377.1 1024.4,1375.3 1030.3,1373.6 1036.2,1371.8 1042.1,1370.1 1048.0,1368.3 1053.9,1366.6 1059.9,1364.9 1065.8,1363.3 1071.7,1361.7 1077.6,1360.1 1083.5,1358.6 1089.4,1357.2 1095.3,1355.9 1101.2,1354.7 1107.1,1353.5 1113.0,1352.5 1118.9,1351.6 1124.8,1350.8 1130.7,1350.2 1136.6,1349.6 1142.5,1349.2 1148.4,1348.9 1154.4,1348.8 1160.3,1348.8 1166.2,1349.3 1172.1,1350.2 1178.0,1351.5 1183.9,1353.2 1189.8,1355.2 1195.7,1357.6 1201.6,1360.2 1207.5,1363.0 1213.4,1366.0 1219.3,1369.1 1225.2,1372.3 1231.1,1375.5 1237.0,1378.6 1242.9,1381.6 1248.8,1384.6 1254.8,1387.4 1260.7,1390.0 1266.6,1392.5 1272.5,1394.8 1278.4,1396.9 1284.3,1398.7 1290.2,1400.4 1296.1,1401.9 1302.0,1403.2" fill="none" stroke="#481c6e" stroke-width="4.6" stroke-linejoin="round" stroke-linecap="round"/>
<path d="M835.4,1406.7 841.3,1406.4 847.1,1405.9 852.9,1405.5 858.8,1405.0 864.6,1404.5 870.4,1403.9 876.3,1403.3 882.1,1402.6 887.9,1401.9 893.8,1401.1 899.6,1400.3 905.4,1399.4 911.3,1398.5 917.1,1397.5 922.9,1396.4 928.8,1395.3 934.6,1394.1 940.4,1392.9 946.2,1391.6 952.1,1390.3 957.9,1388.9 963.7,1387.4 969.6,1385.9 975.4,1384.4 981.2,1382.8 987.1,1381.2 992.9,1379.5 998.7,1377.8 1004.6,1376.1 1010.4,1374.3 1016.2,1372.6 1022.1,1370.8 1027.9,1369.1 1033.7,1367.3 1039.6,1365.6 1045.4,1363.9 1051.2,1362.2 1057.1,1360.6 1062.9,1359.0 1068.7,1357.4 1074.6,1356.0 1080.4,1354.6 1086.2,1353.2 1092.1,1352.0 1097.9,1350.9 1103.7,1349.8 1109.6,1348.9 1115.4,1348.1 1121.2,1347.4 1127.1,1346.8 1132.9,1346.4 1138.7,1346.0 1144.6,1345.8 1150.4,1345.8 1156.2,1346.0 1162.1,1346.7 1167.9,1347.8 1173.7,1349.4 1179.6,1351.3 1185.4,1353.6 1191.2,1356.2 1197.1,1359.0 1202.9,1362.0 1208.7,1365.2 1214.6,1368.4 1220.4,1371.7 1226.2,1375.0 1232.1,1378.3 1237.9,1381.4 1243.7,1384.4 1249.5,1387.3 1255.4,1390.0 1261.2,1392.4 1267.0,1394.7 1272.9,1396.8 1278.7,1398.7 1284.5,1400.4 1290.4,1401.9 1296.2,1403.2" fill="none" stroke="#453581" stroke-width="4.6" stroke-linejoin="round" stroke-linecap="round"/>
<path d="M835.4,1405.6 841.2,1405.2 846.9,1404.7 852.7,1404.1 858.5,1403.6 864.2,1402.9 870.0,1402.3 875.7,1401.5 881.5,1400.8 887.3,1399.9 893.0,1399.1 898.8,1398.1 904.5,1397.1 910.3,1396.1 916.1,1395.0 921.8,1393.8 927.6,1392.6 933.3,1391.4 939.1,1390.0 944.9,1388.7 950.6,1387.2 956.4,1385.7 962.1,1384.2 967.9,1382.7 973.7,1381.0 979.4,1379.4 985.2,1377.7 990.9,1376.0 996.7,1374.3 1002.5,1372.5 1008.2,1370.8 1014.0,1369.0 1019.7,1367.3 1025.5,1365.5 1031.2,1363.8 1037.0,1362.1 1042.8,1360.4 1048.5,1358.8 1054.3,1357.2 1060.0,1355.6 1065.8,1354.2 1071.6,1352.7 1077.3,1351.4 1083.1,1350.2 1088.8,1349.0 1094.6,1347.9 1100.4,1347.0 1106.1,1346.1 1111.9,1345.3 1117.6,1344.7 1123.4,1344.2 1129.2,1343.8 1134.9,1343.5 1140.7,1343.4 1146.4,1343.4 1152.2,1343.7 1158.0,1344.5 1163.7,1345.8 1169.5,1347.4 1175.2,1349.4 1181.0,1351.8 1186.8,1354.4 1192.5,1357.3 1198.3,1360.3 1204.0,1363.5 1209.8,1366.8 1215.5,1370.1 1221.3,1373.4 1227.1,1376.7 1232.8,1379.9 1238.6,1382.9 1244.3,1385.8 1250.1,1388.6 1255.9,1391.1 1261.6,1393.5 1267.4,1395.7 1273.1,1397.6 1278.9,1399.4 1284.7,1401.0 1290.4,1402.4" fill="none" stroke="#3d4d8a" stroke-width="4.6" stroke-linejoin="round" stroke-linecap="round"/>
<path d="M835.4,1403.2 841.1,1402.4 846.8,1401.5 852.5,1400.6 858.2,1399.6 863.9,1398.4 869.5,1397.2 875.2,1396.0 880.9,1394.6 886.6,1393.1 892.3,1391.5 898.0,1389.9 903.7,1388.1 909.3,1386.2 915.0,1384.3 920.7,1382.2 926.4,1380.0 932.1,1377.8 937.8,1375.5 943.5,1373.1 949.2,1370.6 954.8,1368.1 960.5,1365.5 966.2,1362.9 971.9,1360.2 977.6,1357.5 983.3,1354.8 989.0,1352.1 994.6,1349.4 1000.3,1346.7 1006.0,1344.1 1011.7,1341.6 1017.4,1339.1 1023.1,1336.7 1028.8,1334.4 1034.4,1332.2 1040.1,1330.2 1045.8,1328.3 1051.5,1326.5 1057.2,1324.9 1062.9,1323.5 1068.6,1322.3 1074.2,1321.3 1079.9,1320.5 1085.6,1319.9 1091.3,1319.6 1097.0,1319.4 1102.7,1319.5 1108.4,1320.1 1114.0,1321.0 1119.7,1322.3 1125.4,1324.0 1131.1,1326.1 1136.8,1328.5 1142.5,1331.2 1148.2,1334.1 1153.9,1337.3 1159.5,1340.7 1165.2,1344.2 1170.9,1347.8 1176.6,1351.5 1182.3,1355.2 1188.0,1359.0 1193.7,1362.6 1199.3,1366.3 1205.0,1369.8 1210.7,1373.2 1216.4,1376.5 1222.1,1379.6 1227.8,1382.6 1233.5,1385.4 1239.1,1388.0 1244.8,1390.4 1250.5,1392.6 1256.2,1394.7 1261.9,1396.6 1267.6,1398.3 1273.3,1399.8 1278.9,1401.2 1284.6,1402.4" fill="none" stroke="#34618d" stroke-width="4.6" stroke-linejoin="round" stroke-linecap="round"/>
<path d="M835.4,1393.4 841.1,1391.3 846.8,1389.1 852.4,1386.7 858.1,1384.0 863.8,1381.2 869.5,1378.2 875.1,1374.9 880.8,1371.4 886.5,1367.8 892.1,1363.9 897.8,1359.8 903.5,1355.6 909.2,1351.2 914.8,1346.7 920.5,1342.0 926.2,1337.2 931.8,1332.3 937.5,1327.3 943.2,1322.4 948.9,1317.4 954.5,1312.5 960.2,1307.6 965.9,1302.8 971.5,1298.2 977.2,1293.8 982.9,1289.5 988.6,1285.5 994.2,1281.9 999.9,1278.5 1005.6,1275.4 1011.2,1272.8 1016.9,1270.5 1022.6,1268.7 1028.3,1267.3 1033.9,1266.3 1039.6,1265.9 1045.3,1265.8 1050.9,1266.3 1056.6,1267.2 1062.3,1268.6 1068.0,1270.4 1073.6,1272.6 1079.3,1275.3 1085.0,1278.3 1090.6,1281.7 1096.3,1285.4 1102.0,1289.4 1107.7,1293.6 1113.3,1298.0 1119.0,1302.7 1124.7,1307.5 1130.3,1312.3 1136.0,1317.3 1141.7,1322.3 1147.4,1327.3 1153.0,1332.2 1158.7,1337.1 1164.4,1342.0 1170.0,1346.7 1175.7,1351.2 1181.4,1355.7 1187.1,1359.9 1192.7,1364.0 1198.4,1367.8 1204.1,1371.5 1209.7,1375.0 1215.4,1378.2 1221.1,1381.3 1226.8,1384.1 1232.4,1386.8 1238.1,1389.2 1243.8,1391.5 1249.4,1393.5 1255.1,1395.4 1260.8,1397.1 1266.5,1398.6 1272.1,1400.0 1277.8,1401.3 1283.5,1402.4" fill="none" stroke="#2b748e" stroke-width="4.6" stroke-linejoin="round" stroke-linecap="round"/>
<path d="M835.4,1382.0 839.7,1378.4 844.0,1374.6 848.3,1370.4 852.6,1365.9 856.9,1361.0 861.2,1355.9 865.5,1350.4 869.8,1344.5 874.1,1338.4 878.4,1332.0 882.7,1325.3 887.0,1318.4 891.2,1311.3 895.5,1304.0 899.8,1296.6 904.1,1289.1 908.4,1281.6 912.7,1274.2 917.0,1266.8 921.3,1259.6 925.6,1252.6 929.9,1245.9 934.2,1239.5 938.5,1233.5 942.8,1228.0 947.1,1223.0 951.4,1218.5 955.7,1214.7 960.0,1211.5 964.2,1209.0 968.5,1207.3 972.8,1206.2 977.1,1205.9 981.4,1206.2 985.7,1207.1 990.0,1208.4 994.3,1210.2 998.6,1212.5 1002.9,1215.3 1007.2,1218.5 1011.5,1222.1 1015.8,1226.1 1020.1,1230.5 1024.4,1235.2 1028.7,1240.2 1032.9,1245.5 1037.2,1251.0 1041.5,1256.8 1045.8,1262.6 1050.1,1268.7 1054.4,1274.8 1058.7,1281.0 1063.0,1287.1 1067.3,1293.3 1071.6,1299.5 1075.9,1305.6 1080.2,1311.6 1084.5,1317.5 1088.8,1323.3 1093.1,1328.9 1097.4,1334.3 1101.7,1339.5 1105.9,1344.6 1110.2,1349.4 1114.5,1354.1 1118.8,1358.5 1123.1,1362.6 1127.4,1366.6 1131.7,1370.3 1136.0,1373.8 1140.3,1377.0 1144.6,1380.1 1148.9,1382.9 1153.2,1385.5 1157.5,1388.0 1161.8,1390.2 1166.1,1392.3 1170.4,1394.1 1174.6,1395.9" fill="none" stroke="#24878e" stroke-width="4.6" stroke-linejoin="round" stroke-linecap="round"/>
<path d="M835.4,1371.9 838.7,1366.2 842.0,1359.9 845.2,1353.0 848.5,1345.5 851.8,1337.3 855.0,1328.5 858.3,1319.0 861.6,1309.0 864.8,1298.5 868.1,1287.4 871.4,1275.9 874.6,1264.1 877.9,1252.1 881.2,1239.8 884.4,1227.6 887.7,1215.4 891.0,1203.4 894.3,1191.8 897.5,1180.7 900.8,1170.2 904.1,1160.5 907.3,1151.7 910.6,1143.9 913.9,1137.2 917.1,1131.7 920.4,1127.6 923.7,1124.8 926.9,1123.4 930.2,1123.3 933.5,1123.9 936.7,1125.2 940.0,1127.1 943.3,1129.7 946.5,1132.8 949.8,1136.5 953.1,1140.7 956.3,1145.5 959.6,1150.8 962.9,1156.5 966.1,1162.7 969.4,1169.2 972.7,1176.1 976.0,1183.3 979.2,1190.8 982.5,1198.5 985.8,1206.4 989.0,1214.4 992.3,1222.6 995.6,1230.8 998.8,1239.0 1002.1,1247.2 1005.4,1255.3 1008.6,1263.4 1011.9,1271.4 1015.2,1279.2 1018.4,1286.9 1021.7,1294.3 1025.0,1301.6 1028.2,1308.6 1031.5,1315.4 1034.8,1321.9 1038.0,1328.2 1041.3,1334.2 1044.6,1339.9 1047.9,1345.3 1051.1,1350.4 1054.4,1355.3 1057.7,1359.8 1060.9,1364.1 1064.2,1368.1 1067.5,1371.9 1070.7,1375.4 1074.0,1378.6 1077.3,1381.6 1080.5,1384.4 1083.8,1386.9 1087.1,1389.3 1090.3,1391.4 1093.6,1393.4" fill="none" stroke="#1f998a" stroke-width="4.6" stroke-linejoin="round" stroke-linecap="round"/>
<path d="M836.6,1363.7 838.4,1359.5 840.3,1354.4 842.1,1348.6 843.9,1342.1 845.8,1334.9 847.6,1327.3 849.4,1319.2 851.3,1310.7 853.1,1302.0 854.9,1292.3 856.8,1281.0 858.6,1268.6 860.4,1255.5 862.3,1242.2 864.1,1229.2 865.9,1216.9 867.8,1204.3 869.6,1191.3 871.4,1178.3 873.3,1165.6 875.1,1153.6 876.9,1142.7 878.8,1133.3 880.6,1124.5 882.4,1116.2 884.3,1110.5 886.1,1109.0 887.9,1108.3 889.8,1107.8 891.6,1107.3 893.4,1107.0 895.3,1106.8 897.1,1106.7 898.9,1106.6 900.8,1107.2 902.6,1108.9 904.4,1111.6 906.3,1115.1 908.1,1119.1 910.0,1123.5 911.8,1127.9 913.6,1132.7 915.5,1138.7 917.3,1145.7 919.1,1152.9 921.0,1159.9 922.8,1166.9 924.6,1174.0 926.5,1181.3 928.3,1188.7 930.1,1196.1 932.0,1203.6 933.8,1211.0 935.6,1218.5 937.5,1225.9 939.3,1233.6 941.1,1241.4 943.0,1249.4 944.8,1257.4 946.6,1265.3 948.5,1273.1 950.3,1280.7 952.1,1287.9 954.0,1294.8 955.8,1301.1 957.6,1307.1 959.5,1312.9 961.3,1318.6 963.1,1324.2 965.0,1329.6 966.8,1334.8 968.6,1339.8 970.5,1344.6 972.3,1349.1 974.1,1353.4 976.0,1357.3 977.8,1361.0 979.7,1364.5 981.5,1367.8 983.3,1371.1 985.2,1374.2 987.0,1377.3 988.8,1380.1 990.7,1382.8 992.5,1385.4 994.3,1387.7 996.2,1389.8 998.0,1391.7 999.8,1393.4" fill="none" stroke="#25ac82" stroke-width="4.6" stroke-linejoin="round" stroke-linecap="round"/>
<path d="M836.6,1361.0 837.9,1349.1 839.2,1337.4 840.5,1325.9 841.8,1314.6 843.2,1303.6 844.5,1292.8 845.8,1282.2 847.1,1271.9 848.4,1261.9 849.7,1252.2 851.0,1242.7 852.4,1233.3 853.7,1224.0 855.0,1214.8 856.3,1205.8 857.6,1196.9 858.9,1188.4 860.2,1180.2 861.5,1172.4 862.9,1165.0 864.2,1158.1 865.5,1151.7 866.8,1145.4 868.1,1138.8 869.4,1132.2 870.7,1126.0 872.1,1120.5 873.4,1115.9 874.7,1112.6 876.0,1110.9 877.3,1110.8 878.6,1111.4 879.9,1112.4 881.3,1113.9 882.6,1115.7 883.9,1117.8 885.2,1120.2 886.5,1122.7 887.8,1125.3 889.1,1128.0 890.5,1131.5 891.8,1135.7 893.1,1140.7 894.4,1146.2 895.7,1152.1 897.0,1158.2 898.3,1164.4 899.6,1170.5 901.0,1176.5 902.3,1182.7 903.6,1189.3 904.9,1196.0 906.2,1203.0 907.5,1210.1 908.8,1217.2 910.2,1224.5 911.5,1231.7 912.8,1238.8 914.1,1245.8 915.4,1252.7 916.7,1259.6 918.0,1266.6 919.4,1273.7 920.7,1280.7 922.0,1287.7 923.3,1294.6 924.6,1301.3 925.9,1307.7 927.2,1313.9 928.6,1319.7 929.9,1325.5 931.2,1331.2 932.5,1336.8 933.8,1342.2 935.1,1347.5 936.4,1352.4 937.8,1357.1 939.1,1361.4 940.4,1365.3 941.7,1368.9 943.0,1372.3 944.3,1375.6 945.6,1378.8 946.9,1381.7 948.3,1384.5 949.6,1387.0 950.9,1389.3 952.2,1391.4 953.5,1393.1" fill="none" stroke="#40bd72" stroke-width="4.6" stroke-linejoin="round" stroke-linecap="round"/>
<path d="M836.6,1361.0 837.9,1349.1 839.2,1337.4 840.5,1325.9 841.8,1314.6 843.2,1303.6 844.5,1292.8 845.8,1282.2 847.1,1271.9 848.4,1261.9 849.7,1252.2 851.0,1242.7 852.4,1233.4 853.7,1224.1 855.0,1214.9 856.3,1205.9 857.6,1197.1 858.9,1188.6 860.2,1180.4 861.5,1172.6 862.9,1165.1 864.2,1158.2 865.5,1151.7 866.8,1145.2 868.1,1138.5 869.4,1131.7 870.7,1125.2 872.1,1119.5 873.4,1114.7 874.7,1111.3 876.0,1109.5 877.3,1109.4 878.6,1110.1 879.9,1111.3 881.3,1112.9 882.6,1114.9 883.9,1117.2 885.2,1119.7 886.5,1122.4 887.8,1125.2 889.1,1128.0 890.5,1131.6 891.8,1135.9 893.1,1140.9 894.4,1146.4 895.7,1152.2 897.0,1158.3 898.3,1164.4 899.6,1170.5 901.0,1176.5 902.3,1182.7 903.6,1189.3 904.9,1196.0 906.2,1203.0 907.5,1210.1 908.8,1217.2 910.2,1224.5 911.5,1231.7 912.8,1238.8 914.1,1245.8 915.4,1252.7 916.7,1259.6 918.0,1266.6 919.4,1273.7 920.7,1280.7 922.0,1287.7 923.3,1294.6 924.6,1301.3 925.9,1307.7 927.2,1313.9 928.6,1319.7 929.9,1325.5 931.2,1331.2 932.5,1336.8 933.8,1342.2 935.1,1347.5 936.4,1352.4 937.8,1357.1 939.1,1361.4 940.4,1365.3 941.7,1368.9 943.0,1372.3 944.3,1375.6 945.6,1378.8 946.9,1381.7 948.3,1384.5 949.6,1387.0 950.9,1389.3 952.2,1391.4 953.5,1393.1" fill="none" stroke="#67cc5c" stroke-width="4.6" stroke-linejoin="round" stroke-linecap="round"/>
<path d="M836.6,1361.0 837.9,1349.9 839.2,1338.9 840.5,1328.0 841.8,1317.4 843.2,1306.9 844.5,1296.6 845.8,1286.5 847.1,1276.6 848.4,1267.0 849.7,1257.5 851.0,1248.3 852.4,1239.0 853.7,1229.8 855.0,1220.6 856.3,1211.5 857.6,1202.7 858.9,1194.1 860.2,1185.8 861.5,1177.9 862.9,1170.5 864.2,1163.5 865.5,1157.1 866.8,1150.8 868.1,1144.2 869.4,1137.7 870.7,1131.5 872.1,1125.9 873.4,1121.3 874.7,1118.0 876.0,1116.3 877.3,1116.2 878.6,1116.7 879.9,1117.5 881.3,1118.7 882.6,1120.2 883.9,1122.0 885.2,1123.9 886.5,1126.0 887.8,1128.2 889.1,1130.6 890.5,1133.8 891.8,1138.0 893.1,1143.0 894.4,1148.5 895.7,1154.5 897.0,1160.7 898.3,1167.0 899.6,1173.2 901.0,1179.2 902.3,1185.5 903.6,1192.0 904.9,1198.8 906.2,1205.7 907.5,1212.8 908.8,1220.0 910.2,1227.2 911.5,1234.4 912.8,1241.5 914.1,1248.6 915.4,1255.4 916.7,1262.4 918.0,1269.4 919.4,1276.5 920.7,1283.6 922.0,1290.6 923.3,1297.5 924.6,1304.2 925.9,1310.6 927.2,1316.7 928.6,1322.4 929.9,1327.9 931.2,1333.4 932.5,1338.7 933.8,1343.9 935.1,1348.9 936.4,1353.6 937.8,1358.0 939.1,1362.1 940.4,1365.9 941.7,1369.4 943.0,1372.8 944.3,1376.0 945.6,1379.1 946.9,1382.0 948.3,1384.7 949.6,1387.2 950.9,1389.5 952.2,1391.6 953.5,1393.4" fill="none" stroke="#98d83e" stroke-width="4.6" stroke-linejoin="round" stroke-linecap="round"/>
<path d="M837.2,1362.9 838.5,1350.5 839.8,1338.5 841.1,1326.7 842.4,1315.4 843.7,1304.5 845.0,1294.1 846.3,1284.0 847.6,1274.2 848.9,1264.7 850.2,1255.5 851.5,1246.6 852.8,1237.9 854.1,1229.6 855.4,1221.5 856.8,1213.5 858.1,1205.7 859.4,1198.1 860.7,1190.7 862.0,1183.7 863.3,1177.1 864.6,1171.0 865.9,1165.2 867.2,1159.0 868.5,1152.8 869.8,1146.6 871.1,1140.9 872.4,1135.9 873.7,1132.0 875.0,1129.3 876.3,1128.1 877.7,1128.1 879.0,1128.2 880.3,1128.4 881.6,1128.7 882.9,1129.0 884.2,1129.4 885.5,1129.9 886.8,1130.4 888.1,1131.0 889.4,1132.7 890.7,1135.9 892.0,1140.3 893.3,1145.7 894.6,1151.8 895.9,1158.3 897.2,1165.1 898.5,1171.8 899.9,1178.2 901.2,1184.2 902.5,1190.2 903.8,1196.5 905.1,1202.9 906.4,1209.5 907.7,1216.2 909.0,1223.0 910.3,1229.8 911.6,1236.7 912.9,1243.5 914.2,1250.3 915.5,1256.9 916.8,1263.6 918.1,1270.3 919.4,1277.2 920.8,1284.2 922.1,1291.0 923.4,1297.8 924.7,1304.4 926.0,1310.7 927.3,1316.8 928.6,1322.4 929.9,1327.9 931.2,1333.2 932.5,1338.4 933.8,1343.4 935.1,1348.3 936.4,1352.9 937.7,1357.4 939.0,1361.5 940.3,1365.3 941.6,1368.9 943.0,1372.3 944.3,1375.5 945.6,1378.6 946.9,1381.6 948.2,1384.3 949.5,1386.9 950.8,1389.3 952.1,1391.5 953.4,1393.4" fill="none" stroke="#cde11d" stroke-width="4.6" stroke-linejoin="round" stroke-linecap="round"/>
</g>
<path d="M814.5,1093.0 H1324.9 M814.5,1424.9 H1324.9" fill="none" stroke="#c8c8c8" stroke-width="1.8"/>
<path d="M814.5,1092.1 V1425.8000000000002 M1324.9,1092.1 V1425.8000000000002" fill="none" stroke="#c8c8c8" stroke-width="1.3"/>
<text transform="translate(838.90,1456.70) scale(1,1.06)" font-family="'Liberation Serif', 'Times New Roman', serif" font-size="36.3" text-anchor="middle" fill="#262626">0</text>
<text transform="translate(896.79,1456.70) scale(1,1.06)" font-family="'Liberation Serif', 'Times New Roman', serif" font-size="36.3" text-anchor="middle" fill="#262626">5</text>
<text transform="translate(954.67,1456.70) scale(1,1.06)" font-family="'Liberation Serif', 'Times New Roman', serif" font-size="36.3" text-anchor="middle" fill="#262626">10</text>
<text transform="translate(1012.56,1456.70) scale(1,1.06)" font-family="'Liberation Serif', 'Times New Roman', serif" font-size="36.3" text-anchor="middle" fill="#262626">15</text>
<text transform="translate(1070.45,1456.70) scale(1,1.06)" font-family="'Liberation Serif', 'Times New Roman', serif" font-size="36.3" text-anchor="middle" fill="#262626">20</text>
<text transform="translate(1128.34,1456.70) scale(1,1.06)" font-family="'Liberation Serif', 'Times New Roman', serif" font-size="36.3" text-anchor="middle" fill="#262626">25</text>
<text transform="translate(1186.22,1456.70) scale(1,1.06)" font-family="'Liberation Serif', 'Times New Roman', serif" font-size="36.3" text-anchor="middle" fill="#262626">30</text>
<text transform="translate(1244.11,1456.70) scale(1,1.06)" font-family="'Liberation Serif', 'Times New Roman', serif" font-size="36.3" text-anchor="middle" fill="#262626">35</text>
<text transform="translate(1302.00,1456.70) scale(1,1.06)" font-family="'Liberation Serif', 'Times New Roman', serif" font-size="36.3" text-anchor="middle" fill="#262626">40</text>
<text transform="translate(806.90,1422.69) scale(1,1.06)" font-family="'Liberation Serif', 'Times New Roman', serif" font-size="36.3" text-anchor="end" fill="#262626">0.00</text>
<text transform="translate(806.90,1368.27) scale(1,1.06)" font-family="'Liberation Serif', 'Times New Roman', serif" font-size="36.3" text-anchor="end" fill="#262626">0.02</text>
<text transform="translate(806.90,1313.85) scale(1,1.06)" font-family="'Liberation Serif', 'Times New Roman', serif" font-size="36.3" text-anchor="end" fill="#262626">0.04</text>
<text transform="translate(806.90,1259.43) scale(1,1.06)" font-family="'Liberation Serif', 'Times New Roman', serif" font-size="36.3" text-anchor="end" fill="#262626">0.06</text>
<text transform="translate(806.90,1205.01) scale(1,1.06)" font-family="'Liberation Serif', 'Times New Roman', serif" font-size="36.3" text-anchor="end" fill="#262626">0.08</text>
<text transform="translate(806.90,1150.59) scale(1,1.06)" font-family="'Liberation Serif', 'Times New Roman', serif" font-size="36.3" text-anchor="end" fill="#262626">0.10</text>
<text x="1070.60" y="1503.20" font-family="'Liberation Serif', 'Times New Roman', serif" font-size="42.5" text-anchor="middle" fill="#262626">Diameter / μm</text>
<text transform="translate(726.70,1262.65) rotate(-90)" x="0" y="0" font-family="'Liberation Serif', 'Times New Roman', serif" font-size="42.5" text-anchor="middle" fill="#262626">PDF</text>
</g>
<g id="plot_i">
<clipPath id="clip_i"><rect x="1488.1" y="1094.0" width="510.90" height="331.20"/></clipPath>
<line x1="1512.50" y1="1094.0" x2="1512.50" y2="1425.2" stroke="#d0d0d0" stroke-width="1.3"/>
<line x1="1570.42" y1="1094.0" x2="1570.42" y2="1425.2" stroke="#d0d0d0" stroke-width="1.3"/>
<line x1="1628.35" y1="1094.0" x2="1628.35" y2="1425.2" stroke="#d0d0d0" stroke-width="1.3"/>
<line x1="1686.28" y1="1094.0" x2="1686.28" y2="1425.2" stroke="#d0d0d0" stroke-width="1.3"/>
<line x1="1744.20" y1="1094.0" x2="1744.20" y2="1425.2" stroke="#d0d0d0" stroke-width="1.3"/>
<line x1="1802.12" y1="1094.0" x2="1802.12" y2="1425.2" stroke="#d0d0d0" stroke-width="1.3"/>
<line x1="1860.05" y1="1094.0" x2="1860.05" y2="1425.2" stroke="#d0d0d0" stroke-width="1.3"/>
<line x1="1917.98" y1="1094.0" x2="1917.98" y2="1425.2" stroke="#d0d0d0" stroke-width="1.3"/>
<line x1="1975.90" y1="1094.0" x2="1975.90" y2="1425.2" stroke="#d0d0d0" stroke-width="1.3"/>
<line x1="1488.1" y1="1410.00" x2="1999.0" y2="1410.00" stroke="#d0d0d0" stroke-width="1.8"/>
<line x1="1488.1" y1="1365.48" x2="1999.0" y2="1365.48" stroke="#d0d0d0" stroke-width="1.8"/>
<line x1="1488.1" y1="1320.97" x2="1999.0" y2="1320.97" stroke="#d0d0d0" stroke-width="1.8"/>
<line x1="1488.1" y1="1276.45" x2="1999.0" y2="1276.45" stroke="#d0d0d0" stroke-width="1.8"/>
<line x1="1488.1" y1="1231.93" x2="1999.0" y2="1231.93" stroke="#d0d0d0" stroke-width="1.8"/>
<line x1="1488.1" y1="1187.42" x2="1999.0" y2="1187.42" stroke="#d0d0d0" stroke-width="1.8"/>
<line x1="1488.1" y1="1142.90" x2="1999.0" y2="1142.90" stroke="#d0d0d0" stroke-width="1.8"/>
<line x1="1488.1" y1="1098.38" x2="1999.0" y2="1098.38" stroke="#d0d0d0" stroke-width="1.8"/>
<g clip-path="url(#clip_i)">
<path d="M1509.0,1409.6 1514.9,1409.5 1520.8,1409.4 1526.8,1409.3 1532.7,1409.3 1538.6,1409.2 1544.5,1409.0 1550.4,1408.9 1556.3,1408.8 1562.2,1408.6 1568.1,1408.5 1574.0,1408.3 1579.9,1408.1 1585.9,1407.9 1591.8,1407.7 1597.7,1407.4 1603.6,1407.2 1609.5,1406.9 1615.4,1406.6 1621.3,1406.2 1627.2,1405.9 1633.1,1405.5 1639.0,1405.1 1645.0,1404.7 1650.9,1404.3 1656.8,1403.8 1662.7,1403.4 1668.6,1402.9 1674.5,1402.4 1680.4,1401.8 1686.3,1401.3 1692.2,1400.7 1698.1,1400.1 1704.0,1399.6 1710.0,1399.0 1715.9,1398.4 1721.8,1397.8 1727.7,1397.2 1733.6,1396.6 1739.5,1396.0 1745.4,1395.4 1751.3,1394.8 1757.2,1394.2 1763.1,1393.7 1769.1,1393.2 1775.0,1392.7 1780.9,1392.2 1786.8,1391.7 1792.7,1391.3 1798.6,1391.0 1804.5,1390.6 1810.4,1390.3 1816.3,1390.1 1822.2,1389.9 1828.2,1389.7 1834.1,1389.6 1840.0,1389.5 1845.9,1389.5 1851.8,1389.7 1857.7,1390.1 1863.6,1390.7 1869.5,1391.4 1875.4,1392.4 1881.3,1393.5 1887.3,1394.7 1893.2,1396.0 1899.1,1397.3 1905.0,1398.6 1910.9,1399.9 1916.8,1401.2 1922.7,1402.4 1928.6,1403.5 1934.5,1404.5 1940.4,1405.4 1946.4,1406.2 1952.3,1406.9 1958.2,1407.5 1964.1,1408.0 1970.0,1408.4 1975.9,1408.8 1975.9,1410.0 1509.0,1410.0Z" fill="#440154" fill-opacity="0.2" stroke="#440154" stroke-opacity="0.2" stroke-width="2"/>
<path d="M1509.0,1409.3 1514.9,1409.2 1520.8,1409.1 1526.8,1409.0 1532.7,1408.8 1538.6,1408.7 1544.5,1408.6 1550.4,1408.4 1556.3,1408.2 1562.2,1408.0 1568.1,1407.8 1574.0,1407.6 1579.9,1407.3 1585.9,1407.0 1591.8,1406.7 1597.7,1406.4 1603.6,1406.1 1609.5,1405.7 1615.4,1405.3 1621.3,1404.9 1627.2,1404.5 1633.1,1404.1 1639.0,1403.6 1645.0,1403.1 1650.9,1402.6 1656.8,1402.1 1662.7,1401.5 1668.6,1401.0 1674.5,1400.4 1680.4,1399.8 1686.3,1399.2 1692.2,1398.6 1698.1,1398.0 1704.0,1397.4 1710.0,1396.7 1715.9,1396.1 1721.8,1395.5 1727.7,1394.9 1733.6,1394.3 1739.5,1393.7 1745.4,1393.1 1751.3,1392.5 1757.2,1392.0 1763.1,1391.5 1769.1,1391.0 1775.0,1390.6 1780.9,1390.2 1786.8,1389.8 1792.7,1389.4 1798.6,1389.2 1804.5,1388.9 1810.4,1388.7 1816.3,1388.5 1822.2,1388.4 1828.2,1388.4 1834.1,1388.4 1840.0,1388.5 1845.9,1388.9 1851.8,1389.5 1857.7,1390.2 1863.6,1391.1 1869.5,1392.1 1875.4,1393.3 1881.3,1394.5 1887.3,1395.8 1893.2,1397.0 1899.1,1398.3 1905.0,1399.6 1910.9,1400.8 1916.8,1402.0 1922.7,1403.0 1928.6,1404.0 1934.5,1404.9 1940.4,1405.7 1946.4,1406.4 1952.3,1407.0 1958.2,1407.6 1964.1,1408.0 1970.0,1408.4 1975.9,1408.8 1975.9,1410.0 1509.0,1410.0Z" fill="#481c6e" fill-opacity="0.2" stroke="#481c6e" stroke-opacity="0.2" stroke-width="2"/>
<path d="M1509.0,1408.9 1514.9,1408.8 1520.8,1408.7 1526.8,1408.5 1532.7,1408.3 1538.6,1408.1 1544.5,1407.9 1550.4,1407.7 1556.3,1407.4 1562.2,1407.2 1568.1,1406.9 1574.0,1406.6 1579.9,1406.2 1585.9,1405.9 1591.8,1405.5 1597.7,1405.1 1603.6,1404.7 1609.5,1404.2 1615.4,1403.7 1621.3,1403.2 1627.2,1402.7 1633.1,1402.2 1639.0,1401.6 1645.0,1401.0 1650.9,1400.4 1656.8,1399.8 1662.7,1399.1 1668.6,1398.5 1674.5,1397.8 1680.4,1397.1 1686.3,1396.4 1692.2,1395.8 1698.1,1395.1 1704.0,1394.4 1710.0,1393.7 1715.9,1393.0 1721.8,1392.3 1727.7,1391.7 1733.6,1391.1 1739.5,1390.4 1745.4,1389.9 1751.3,1389.3 1757.2,1388.8 1763.1,1388.3 1769.1,1387.9 1775.0,1387.5 1780.9,1387.1 1786.8,1386.8 1792.7,1386.5 1798.6,1386.3 1804.5,1386.1 1810.4,1386.0 1816.3,1386.0 1822.2,1386.0 1828.2,1386.2 1834.1,1386.6 1840.0,1387.1 1845.9,1387.9 1851.8,1388.8 1857.7,1389.9 1863.6,1391.0 1869.5,1392.2 1875.4,1393.5 1881.3,1394.9 1887.3,1396.2 1893.2,1397.5 1899.1,1398.8 1905.0,1400.1 1910.9,1401.2 1916.8,1402.4 1922.7,1403.4 1928.6,1404.3 1934.5,1405.2 1940.4,1405.9 1946.4,1406.6 1952.3,1407.2 1958.2,1407.7 1964.1,1408.1 1970.0,1408.4 1975.9,1408.8 1975.9,1410.0 1509.0,1410.0Z" fill="#453581" fill-opacity="0.2" stroke="#453581" stroke-opacity="0.2" stroke-width="2"/>
<path d="M1509.0,1408.4 1514.6,1408.2 1520.2,1408.0 1525.8,1407.8 1531.4,1407.6 1537.0,1407.3 1542.6,1407.1 1548.2,1406.8 1553.8,1406.5 1559.4,1406.2 1565.0,1405.8 1570.6,1405.4 1576.2,1405.1 1581.8,1404.6 1587.5,1404.2 1593.1,1403.7 1598.7,1403.2 1604.3,1402.7 1609.9,1402.2 1615.5,1401.6 1621.1,1401.1 1626.7,1400.5 1632.3,1399.8 1637.9,1399.2 1643.5,1398.5 1649.1,1397.9 1654.7,1397.2 1660.3,1396.5 1665.9,1395.8 1671.5,1395.1 1677.1,1394.3 1682.7,1393.6 1688.3,1392.9 1693.9,1392.2 1699.5,1391.5 1705.1,1390.8 1710.7,1390.1 1716.3,1389.4 1721.9,1388.7 1727.5,1388.1 1733.1,1387.5 1738.7,1386.9 1744.3,1386.4 1749.9,1385.9 1755.5,1385.4 1761.1,1385.0 1766.7,1384.6 1772.3,1384.3 1777.9,1384.0 1783.5,1383.7 1789.1,1383.6 1794.7,1383.4 1800.3,1383.3 1805.9,1383.3 1811.5,1383.4 1817.1,1383.6 1822.7,1384.0 1828.3,1384.6 1833.9,1385.4 1839.5,1386.3 1845.1,1387.3 1850.7,1388.4 1856.3,1389.6 1861.9,1390.9 1867.5,1392.2 1873.1,1393.5 1878.7,1394.9 1884.3,1396.2 1890.0,1397.5 1895.6,1398.8 1901.2,1400.0 1906.8,1401.1 1912.4,1402.1 1918.0,1403.1 1923.6,1404.0 1929.2,1404.8 1934.8,1405.6 1940.4,1406.2 1946.0,1406.8 1951.6,1407.3 1951.6,1410.0 1509.0,1410.0Z" fill="#3d4d8a" fill-opacity="0.2" stroke="#3d4d8a" stroke-opacity="0.2" stroke-width="2"/>
<path d="M1509.0,1407.8 1514.0,1407.5 1519.1,1407.3 1524.1,1407.0 1529.1,1406.8 1534.1,1406.5 1539.1,1406.1 1544.1,1405.8 1549.1,1405.4 1554.2,1405.1 1559.2,1404.6 1564.2,1404.2 1569.2,1403.7 1574.2,1403.3 1579.2,1402.8 1584.3,1402.2 1589.3,1401.7 1594.3,1401.1 1599.3,1400.5 1604.3,1399.9 1609.3,1399.2 1614.3,1398.6 1619.4,1397.9 1624.4,1397.2 1629.4,1396.5 1634.4,1395.8 1639.4,1395.0 1644.4,1394.3 1649.5,1393.5 1654.5,1392.8 1659.5,1392.0 1664.5,1391.3 1669.5,1390.5 1674.5,1389.8 1679.5,1389.0 1684.6,1388.3 1689.6,1387.6 1694.6,1386.9 1699.6,1386.2 1704.6,1385.6 1709.6,1385.0 1714.7,1384.4 1719.7,1383.8 1724.7,1383.3 1729.7,1382.9 1734.7,1382.4 1739.7,1382.0 1744.7,1381.7 1749.8,1381.4 1754.8,1381.2 1759.8,1381.0 1764.8,1380.8 1769.8,1380.7 1774.8,1380.7 1779.8,1380.8 1784.9,1381.1 1789.9,1381.6 1794.9,1382.3 1799.9,1383.1 1804.9,1384.2 1809.9,1385.3 1815.0,1386.6 1820.0,1388.0 1825.0,1389.4 1830.0,1390.9 1835.0,1392.4 1840.0,1393.9 1845.0,1395.4 1850.1,1396.9 1855.1,1398.3 1860.1,1399.6 1865.1,1400.8 1870.1,1402.0 1875.1,1403.0 1880.2,1404.0 1885.2,1404.8 1890.2,1405.6 1895.2,1406.3 1900.2,1406.9 1905.2,1407.4 1905.2,1410.0 1509.0,1410.0Z" fill="#34618d" fill-opacity="0.2" stroke="#34618d" stroke-opacity="0.2" stroke-width="2"/>
<path d="M1509.0,1406.9 1513.3,1406.6 1517.6,1406.2 1521.9,1405.8 1526.2,1405.4 1530.5,1405.0 1534.8,1404.5 1539.1,1404.0 1543.4,1403.4 1547.7,1402.8 1552.0,1402.2 1556.3,1401.6 1560.6,1400.9 1564.9,1400.2 1569.2,1399.4 1573.5,1398.6 1577.8,1397.7 1582.1,1396.9 1586.4,1396.0 1590.7,1395.0 1595.0,1394.0 1599.3,1393.0 1603.6,1392.0 1607.8,1390.9 1612.1,1389.8 1616.4,1388.7 1620.7,1387.6 1625.0,1386.5 1629.3,1385.3 1633.6,1384.2 1637.9,1383.0 1642.2,1381.9 1646.5,1380.7 1650.8,1379.6 1655.1,1378.5 1659.4,1377.4 1663.7,1376.3 1668.0,1375.3 1672.3,1374.3 1676.6,1373.3 1680.9,1372.4 1685.2,1371.6 1689.5,1370.8 1693.8,1370.0 1698.1,1369.4 1702.4,1368.8 1706.7,1368.2 1711.0,1367.8 1715.3,1367.4 1719.6,1367.1 1723.9,1366.9 1728.2,1366.8 1732.5,1366.7 1736.8,1366.8 1741.0,1367.2 1745.3,1367.8 1749.6,1368.7 1753.9,1369.8 1758.2,1371.0 1762.5,1372.5 1766.8,1374.1 1771.1,1375.9 1775.4,1377.7 1779.7,1379.6 1784.0,1381.6 1788.3,1383.6 1792.6,1385.6 1796.9,1387.6 1801.2,1389.6 1805.5,1391.5 1809.8,1393.3 1814.1,1395.0 1818.4,1396.6 1822.7,1398.2 1827.0,1399.6 1831.3,1400.9 1835.6,1402.0 1839.9,1403.1 1844.2,1404.1 1848.5,1404.9 1848.5,1410.0 1509.0,1410.0Z" fill="#2b748e" fill-opacity="0.2" stroke="#2b748e" stroke-opacity="0.2" stroke-width="2"/>
<path d="M1509.0,1404.9 1512.4,1404.5 1515.8,1404.1 1519.2,1403.6 1522.6,1403.1 1526.0,1402.6 1529.4,1402.0 1532.8,1401.4 1536.2,1400.8 1539.6,1400.1 1543.0,1399.4 1546.4,1398.6 1549.9,1397.8 1553.3,1396.9 1556.7,1396.0 1560.1,1395.1 1563.5,1394.1 1566.9,1393.0 1570.3,1391.9 1573.7,1390.7 1577.1,1389.5 1580.5,1388.2 1583.9,1386.9 1587.3,1385.4 1590.7,1384.0 1594.1,1382.5 1597.5,1380.9 1600.9,1379.2 1604.3,1377.5 1607.7,1375.8 1611.1,1373.9 1614.5,1372.1 1617.9,1370.1 1621.3,1368.2 1624.7,1366.2 1628.1,1364.1 1631.5,1362.0 1634.9,1359.9 1638.3,1357.7 1641.7,1355.6 1645.1,1353.4 1648.5,1351.2 1651.9,1349.1 1655.3,1346.9 1658.7,1344.8 1662.1,1342.8 1665.5,1340.8 1668.9,1338.9 1672.3,1337.1 1675.7,1335.4 1679.1,1333.9 1682.5,1332.6 1685.9,1331.6 1689.3,1331.1 1692.7,1331.2 1696.1,1331.3 1699.5,1331.8 1702.9,1332.5 1706.4,1333.5 1709.8,1334.9 1713.2,1336.7 1716.6,1338.8 1720.0,1341.4 1723.4,1344.3 1726.8,1347.6 1730.2,1351.2 1733.6,1355.1 1737.0,1359.1 1740.4,1363.3 1743.8,1367.5 1747.2,1371.8 1750.6,1376.0 1754.0,1380.0 1757.4,1383.9 1760.8,1387.5 1764.2,1390.8 1767.6,1393.9 1771.0,1396.6 1774.4,1399.0 1777.8,1401.1 1777.8,1410.0 1509.0,1410.0Z" fill="#24878e" fill-opacity="0.2" stroke="#24878e" stroke-opacity="0.2" stroke-width="2"/>
<path d="M1509.0,1402.3 1510.3,1402.2 1511.7,1401.8 1513.0,1401.2 1514.3,1400.4 1515.6,1399.4 1517.0,1398.2 1518.3,1396.7 1519.6,1395.1 1520.9,1393.3 1522.3,1391.4 1523.6,1389.3 1524.9,1387.1 1526.2,1384.8 1527.6,1382.3 1528.9,1379.8 1530.2,1377.1 1531.5,1374.4 1532.9,1371.6 1534.2,1368.7 1535.5,1365.8 1536.8,1362.8 1538.1,1359.8 1539.5,1356.8 1540.8,1353.2 1542.1,1349.1 1543.4,1344.5 1544.8,1339.4 1546.1,1334.0 1547.4,1328.4 1548.7,1322.6 1550.1,1316.6 1551.4,1310.7 1552.7,1304.6 1554.0,1298.0 1555.4,1290.9 1556.7,1283.6 1558.0,1276.1 1559.3,1268.5 1560.7,1261.0 1562.0,1253.6 1563.3,1246.5 1564.6,1239.7 1565.9,1233.0 1567.3,1226.2 1568.6,1219.5 1569.9,1212.8 1571.2,1206.4 1572.6,1200.4 1573.9,1194.8 1575.2,1189.7 1576.5,1185.1 1577.9,1180.5 1579.2,1175.8 1580.5,1171.2 1581.8,1166.9 1583.2,1163.0 1584.5,1159.6 1585.8,1157.0 1587.1,1155.2 1588.5,1154.5 1589.8,1155.0 1591.1,1157.0 1592.4,1160.1 1593.7,1164.2 1595.1,1169.2 1596.4,1174.8 1597.7,1181.0 1599.0,1187.4 1600.4,1194.0 1601.7,1202.7 1603.0,1213.8 1604.3,1226.4 1605.7,1239.4 1607.0,1252.1 1608.3,1263.6 1609.6,1275.3 1611.0,1287.0 1612.3,1298.5 1613.6,1309.4 1614.9,1319.2 1616.3,1327.9 1617.6,1336.4 1618.9,1344.5 1620.2,1352.2 1621.5,1359.5 1622.9,1366.3 1624.2,1372.6 1625.5,1378.3 1626.8,1383.3 1626.8,1410.0 1509.0,1410.0Z" fill="#1f998a" fill-opacity="0.2" stroke="#1f998a" stroke-opacity="0.2" stroke-width="2"/>
<path d="M1509.7,1398.5 1511.0,1397.8 1512.4,1397.0 1513.7,1396.0 1515.0,1394.9 1516.3,1393.6 1517.6,1392.2 1518.9,1390.6 1520.2,1389.0 1521.6,1387.3 1522.9,1385.6 1524.2,1383.7 1525.5,1381.8 1526.8,1379.9 1528.1,1377.8 1529.5,1375.5 1530.8,1373.0 1532.1,1370.3 1533.4,1367.4 1534.7,1364.3 1536.0,1361.0 1537.4,1357.5 1538.7,1353.8 1540.0,1349.8 1541.3,1345.3 1542.6,1340.3 1543.9,1334.9 1545.3,1329.2 1546.6,1323.0 1547.9,1316.6 1549.2,1309.9 1550.5,1303.1 1551.8,1296.0 1553.1,1288.2 1554.5,1279.6 1555.8,1270.4 1557.1,1260.7 1558.4,1250.7 1559.7,1240.7 1561.0,1230.9 1562.4,1221.4 1563.7,1212.5 1565.0,1204.2 1566.3,1196.0 1567.6,1187.8 1568.9,1179.8 1570.3,1171.9 1571.6,1164.5 1572.9,1157.5 1574.2,1151.2 1575.5,1145.5 1576.8,1140.4 1578.2,1135.1 1579.5,1129.9 1580.8,1124.8 1582.1,1120.1 1583.4,1115.9 1584.7,1112.3 1586.0,1109.6 1587.4,1107.9 1588.7,1107.3 1590.0,1107.9 1591.3,1109.7 1592.6,1112.5 1593.9,1116.1 1595.3,1120.6 1596.6,1125.8 1597.9,1131.7 1599.2,1138.0 1600.5,1144.8 1601.8,1152.3 1603.2,1164.2 1604.5,1179.8 1605.8,1196.9 1607.1,1213.5 1608.4,1227.8 1609.7,1241.7 1611.1,1255.4 1612.4,1268.7 1613.7,1281.5 1615.0,1293.6 1616.3,1305.0 1617.6,1316.1 1618.9,1326.9 1620.3,1337.4 1621.6,1347.4 1622.9,1357.1 1624.2,1366.3 1625.5,1375.1 1626.8,1383.3 1626.8,1410.0 1509.7,1410.0Z" fill="#25ac82" fill-opacity="0.2" stroke="#25ac82" stroke-opacity="0.2" stroke-width="2"/>
<path d="M1510.2,1410.0 1511.5,1410.0 1512.9,1410.0 1514.2,1410.0 1515.5,1410.0 1516.9,1410.0 1518.2,1410.0 1519.6,1410.0 1520.9,1410.0 1522.2,1410.0 1523.6,1410.0 1524.9,1410.0 1526.3,1410.0 1527.6,1410.0 1529.0,1410.0 1530.3,1410.0 1531.6,1410.0 1533.0,1410.0 1534.3,1410.0 1535.7,1410.0 1537.0,1410.0 1538.3,1410.0 1539.7,1410.0 1541.0,1410.0 1542.4,1410.0 1543.7,1410.0 1545.0,1410.0 1546.4,1410.0 1547.7,1410.0 1549.1,1410.0 1550.4,1410.0 1551.7,1410.0 1553.1,1410.0 1554.4,1410.0 1555.8,1410.0 1557.1,1410.0 1558.4,1410.0 1559.8,1410.0 1561.1,1410.0 1562.5,1410.0 1563.8,1410.0 1565.2,1410.0 1566.5,1410.0 1567.8,1410.0 1569.2,1410.0 1570.5,1410.0 1571.9,1410.0 1573.2,1410.0 1574.5,1410.0 1575.9,1410.0 1577.2,1410.0 1578.6,1410.0 1579.9,1410.0 1581.2,1410.0 1582.6,1410.0 1583.9,1410.0 1585.3,1410.0 1586.6,1410.0 1587.9,1410.0 1589.3,1410.0 1590.6,1410.0 1592.0,1410.0 1593.3,1410.0 1594.6,1410.0 1596.0,1410.0 1597.3,1410.0 1598.7,1410.0 1600.0,1410.0 1601.4,1410.0 1602.7,1410.0 1604.0,1410.0 1605.4,1410.0 1606.7,1410.0 1608.1,1410.0 1609.4,1410.0 1610.7,1410.0 1612.1,1410.0 1613.4,1410.0 1614.8,1410.0 1616.1,1410.0 1617.4,1410.0 1618.8,1410.0 1620.1,1410.0 1621.5,1410.0 1622.8,1410.0 1624.1,1410.0 1625.5,1410.0 1626.8,1410.0 1628.2,1410.0 1629.5,1410.0 1629.5,1410.0 1510.2,1410.0Z" fill="#40bd72" fill-opacity="0.2" stroke="#40bd72" stroke-opacity="0.2" stroke-width="2"/>
<path d="M1510.2,1410.0 1511.5,1410.0 1512.9,1410.0 1514.2,1410.0 1515.5,1410.0 1516.9,1410.0 1518.2,1410.0 1519.6,1410.0 1520.9,1410.0 1522.2,1410.0 1523.6,1410.0 1524.9,1410.0 1526.3,1410.0 1527.6,1410.0 1529.0,1410.0 1530.3,1410.0 1531.6,1410.0 1533.0,1410.0 1534.3,1410.0 1535.7,1410.0 1537.0,1410.0 1538.3,1410.0 1539.7,1410.0 1541.0,1410.0 1542.4,1410.0 1543.7,1410.0 1545.0,1410.0 1546.4,1410.0 1547.7,1410.0 1549.1,1410.0 1550.4,1410.0 1551.7,1410.0 1553.1,1410.0 1554.4,1410.0 1555.8,1410.0 1557.1,1410.0 1558.4,1410.0 1559.8,1410.0 1561.1,1410.0 1562.5,1410.0 1563.8,1410.0 1565.2,1410.0 1566.5,1410.0 1567.8,1410.0 1569.2,1410.0 1570.5,1410.0 1571.9,1410.0 1573.2,1410.0 1574.5,1410.0 1575.9,1410.0 1577.2,1410.0 1578.6,1410.0 1579.9,1410.0 1581.2,1410.0 1582.6,1410.0 1583.9,1410.0 1585.3,1410.0 1586.6,1410.0 1587.9,1410.0 1589.3,1410.0 1590.6,1410.0 1592.0,1410.0 1593.3,1410.0 1594.6,1410.0 1596.0,1410.0 1597.3,1410.0 1598.7,1410.0 1600.0,1410.0 1601.4,1410.0 1602.7,1410.0 1604.0,1410.0 1605.4,1410.0 1606.7,1410.0 1608.1,1410.0 1609.4,1410.0 1610.7,1410.0 1612.1,1410.0 1613.4,1410.0 1614.8,1410.0 1616.1,1410.0 1617.4,1410.0 1618.8,1410.0 1620.1,1410.0 1621.5,1410.0 1622.8,1410.0 1624.1,1410.0 1625.5,1410.0 1626.8,1410.0 1628.2,1410.0 1629.5,1410.0 1629.5,1410.0 1510.2,1410.0Z" fill="#67cc5c" fill-opacity="0.2" stroke="#67cc5c" stroke-opacity="0.2" stroke-width="2"/>
<path d="M1510.2,1410.0 1511.5,1410.0 1512.9,1410.0 1514.2,1410.0 1515.5,1410.0 1516.9,1410.0 1518.2,1410.0 1519.6,1410.0 1520.9,1410.0 1522.2,1410.0 1523.6,1410.0 1524.9,1410.0 1526.3,1410.0 1527.6,1410.0 1529.0,1410.0 1530.3,1410.0 1531.6,1410.0 1533.0,1410.0 1534.3,1410.0 1535.7,1410.0 1537.0,1410.0 1538.3,1410.0 1539.7,1410.0 1541.0,1410.0 1542.4,1410.0 1543.7,1410.0 1545.0,1410.0 1546.4,1410.0 1547.7,1410.0 1549.1,1410.0 1550.4,1410.0 1551.7,1410.0 1553.1,1410.0 1554.4,1410.0 1555.8,1410.0 1557.1,1410.0 1558.4,1410.0 1559.8,1410.0 1561.1,1410.0 1562.5,1410.0 1563.8,1410.0 1565.2,1410.0 1566.5,1410.0 1567.8,1410.0 1569.2,1410.0 1570.5,1410.0 1571.9,1410.0 1573.2,1410.0 1574.5,1410.0 1575.9,1410.0 1577.2,1410.0 1578.6,1410.0 1579.9,1410.0 1581.2,1410.0 1582.6,1410.0 1583.9,1410.0 1585.3,1410.0 1586.6,1410.0 1587.9,1410.0 1589.3,1410.0 1590.6,1410.0 1592.0,1410.0 1593.3,1410.0 1594.6,1410.0 1596.0,1410.0 1597.3,1410.0 1598.7,1410.0 1600.0,1410.0 1601.4,1410.0 1602.7,1410.0 1604.0,1410.0 1605.4,1410.0 1606.7,1410.0 1608.1,1410.0 1609.4,1410.0 1610.7,1410.0 1612.1,1410.0 1613.4,1410.0 1614.8,1410.0 1616.1,1410.0 1617.4,1410.0 1618.8,1410.0 1620.1,1410.0 1621.5,1410.0 1622.8,1410.0 1624.1,1410.0 1625.5,1410.0 1626.8,1410.0 1628.2,1410.0 1629.5,1410.0 1629.5,1410.0 1510.2,1410.0Z" fill="#98d83e" fill-opacity="0.2" stroke="#98d83e" stroke-opacity="0.2" stroke-width="2"/>
<path d="M1510.2,1410.0 1511.5,1410.0 1512.9,1410.0 1514.2,1410.0 1515.5,1410.0 1516.9,1410.0 1518.2,1410.0 1519.6,1410.0 1520.9,1410.0 1522.2,1410.0 1523.6,1410.0 1524.9,1410.0 1526.3,1410.0 1527.6,1410.0 1529.0,1410.0 1530.3,1410.0 1531.6,1410.0 1533.0,1410.0 1534.3,1410.0 1535.7,1410.0 1537.0,1410.0 1538.3,1410.0 1539.7,1410.0 1541.0,1410.0 1542.4,1410.0 1543.7,1410.0 1545.0,1410.0 1546.4,1410.0 1547.7,1410.0 1549.1,1410.0 1550.4,1410.0 1551.7,1410.0 1553.1,1410.0 1554.4,1410.0 1555.8,1410.0 1557.1,1410.0 1558.4,1410.0 1559.8,1410.0 1561.1,1410.0 1562.5,1410.0 1563.8,1410.0 1565.2,1410.0 1566.5,1410.0 1567.8,1410.0 1569.2,1410.0 1570.5,1410.0 1571.9,1410.0 1573.2,1410.0 1574.5,1410.0 1575.9,1410.0 1577.2,1410.0 1578.6,1410.0 1579.9,1410.0 1581.2,1410.0 1582.6,1410.0 1583.9,1410.0 1585.3,1410.0 1586.6,1410.0 1587.9,1410.0 1589.3,1410.0 1590.6,1410.0 1592.0,1410.0 1593.3,1410.0 1594.6,1410.0 1596.0,1410.0 1597.3,1410.0 1598.7,1410.0 1600.0,1410.0 1601.4,1410.0 1602.7,1410.0 1604.0,1410.0 1605.4,1410.0 1606.7,1410.0 1608.1,1410.0 1609.4,1410.0 1610.7,1410.0 1612.1,1410.0 1613.4,1410.0 1614.8,1410.0 1616.1,1410.0 1617.4,1410.0 1618.8,1410.0 1620.1,1410.0 1621.5,1410.0 1622.8,1410.0 1624.1,1410.0 1625.5,1410.0 1626.8,1410.0 1628.2,1410.0 1629.5,1410.0 1629.5,1410.0 1510.2,1410.0Z" fill="#cde11d" fill-opacity="0.2" stroke="#cde11d" stroke-opacity="0.2" stroke-width="2"/>
<path d="M1509.0,1409.6 1514.9,1409.5 1520.8,1409.4 1526.8,1409.3 1532.7,1409.3 1538.6,1409.2 1544.5,1409.0 1550.4,1408.9 1556.3,1408.8 1562.2,1408.6 1568.1,1408.5 1574.0,1408.3 1579.9,1408.1 1585.9,1407.9 1591.8,1407.7 1597.7,1407.4 1603.6,1407.2 1609.5,1406.9 1615.4,1406.6 1621.3,1406.2 1627.2,1405.9 1633.1,1405.5 1639.0,1405.1 1645.0,1404.7 1650.9,1404.3 1656.8,1403.8 1662.7,1403.4 1668.6,1402.9 1674.5,1402.4 1680.4,1401.8 1686.3,1401.3 1692.2,1400.7 1698.1,1400.1 1704.0,1399.6 1710.0,1399.0 1715.9,1398.4 1721.8,1397.8 1727.7,1397.2 1733.6,1396.6 1739.5,1396.0 1745.4,1395.4 1751.3,1394.8 1757.2,1394.2 1763.1,1393.7 1769.1,1393.2 1775.0,1392.7 1780.9,1392.2 1786.8,1391.7 1792.7,1391.3 1798.6,1391.0 1804.5,1390.6 1810.4,1390.3 1816.3,1390.1 1822.2,1389.9 1828.2,1389.7 1834.1,1389.6 1840.0,1389.5 1845.9,1389.5 1851.8,1389.7 1857.7,1390.1 1863.6,1390.7 1869.5,1391.4 1875.4,1392.4 1881.3,1393.5 1887.3,1394.7 1893.2,1396.0 1899.1,1397.3 1905.0,1398.6 1910.9,1399.9 1916.8,1401.2 1922.7,1402.4 1928.6,1403.5 1934.5,1404.5 1940.4,1405.4 1946.4,1406.2 1952.3,1406.9 1958.2,1407.5 1964.1,1408.0 1970.0,1408.4 1975.9,1408.8" fill="none" stroke="#440154" stroke-width="4.6" stroke-linejoin="round" stroke-linecap="round"/>
<path d="M1509.0,1409.3 1514.9,1409.2 1520.8,1409.1 1526.8,1409.0 1532.7,1408.8 1538.6,1408.7 1544.5,1408.6 1550.4,1408.4 1556.3,1408.2 1562.2,1408.0 1568.1,1407.8 1574.0,1407.6 1579.9,1407.3 1585.9,1407.0 1591.8,1406.7 1597.7,1406.4 1603.6,1406.1 1609.5,1405.7 1615.4,1405.3 1621.3,1404.9 1627.2,1404.5 1633.1,1404.1 1639.0,1403.6 1645.0,1403.1 1650.9,1402.6 1656.8,1402.1 1662.7,1401.5 1668.6,1401.0 1674.5,1400.4 1680.4,1399.8 1686.3,1399.2 1692.2,1398.6 1698.1,1398.0 1704.0,1397.4 1710.0,1396.7 1715.9,1396.1 1721.8,1395.5 1727.7,1394.9 1733.6,1394.3 1739.5,1393.7 1745.4,1393.1 1751.3,1392.5 1757.2,1392.0 1763.1,1391.5 1769.1,1391.0 1775.0,1390.6 1780.9,1390.2 1786.8,1389.8 1792.7,1389.4 1798.6,1389.2 1804.5,1388.9 1810.4,1388.7 1816.3,1388.5 1822.2,1388.4 1828.2,1388.4 1834.1,1388.4 1840.0,1388.5 1845.9,1388.9 1851.8,1389.5 1857.7,1390.2 1863.6,1391.1 1869.5,1392.1 1875.4,1393.3 1881.3,1394.5 1887.3,1395.8 1893.2,1397.0 1899.1,1398.3 1905.0,1399.6 1910.9,1400.8 1916.8,1402.0 1922.7,1403.0 1928.6,1404.0 1934.5,1404.9 1940.4,1405.7 1946.4,1406.4 1952.3,1407.0 1958.2,1407.6 1964.1,1408.0 1970.0,1408.4 1975.9,1408.8" fill="none" stroke="#481c6e" stroke-width="4.6" stroke-linejoin="round" stroke-linecap="round"/>
<path d="M1509.0,1408.9 1514.9,1408.8 1520.8,1408.7 1526.8,1408.5 1532.7,1408.3 1538.6,1408.1 1544.5,1407.9 1550.4,1407.7 1556.3,1407.4 1562.2,1407.2 1568.1,1406.9 1574.0,1406.6 1579.9,1406.2 1585.9,1405.9 1591.8,1405.5 1597.7,1405.1 1603.6,1404.7 1609.5,1404.2 1615.4,1403.7 1621.3,1403.2 1627.2,1402.7 1633.1,1402.2 1639.0,1401.6 1645.0,1401.0 1650.9,1400.4 1656.8,1399.8 1662.7,1399.1 1668.6,1398.5 1674.5,1397.8 1680.4,1397.1 1686.3,1396.4 1692.2,1395.8 1698.1,1395.1 1704.0,1394.4 1710.0,1393.7 1715.9,1393.0 1721.8,1392.3 1727.7,1391.7 1733.6,1391.1 1739.5,1390.4 1745.4,1389.9 1751.3,1389.3 1757.2,1388.8 1763.1,1388.3 1769.1,1387.9 1775.0,1387.5 1780.9,1387.1 1786.8,1386.8 1792.7,1386.5 1798.6,1386.3 1804.5,1386.1 1810.4,1386.0 1816.3,1386.0 1822.2,1386.0 1828.2,1386.2 1834.1,1386.6 1840.0,1387.1 1845.9,1387.9 1851.8,1388.8 1857.7,1389.9 1863.6,1391.0 1869.5,1392.2 1875.4,1393.5 1881.3,1394.9 1887.3,1396.2 1893.2,1397.5 1899.1,1398.8 1905.0,1400.1 1910.9,1401.2 1916.8,1402.4 1922.7,1403.4 1928.6,1404.3 1934.5,1405.2 1940.4,1405.9 1946.4,1406.6 1952.3,1407.2 1958.2,1407.7 1964.1,1408.1 1970.0,1408.4 1975.9,1408.8" fill="none" stroke="#453581" stroke-width="4.6" stroke-linejoin="round" stroke-linecap="round"/>
<path d="M1509.0,1408.4 1514.6,1408.2 1520.2,1408.0 1525.8,1407.8 1531.4,1407.6 1537.0,1407.3 1542.6,1407.1 1548.2,1406.8 1553.8,1406.5 1559.4,1406.2 1565.0,1405.8 1570.6,1405.4 1576.2,1405.1 1581.8,1404.6 1587.5,1404.2 1593.1,1403.7 1598.7,1403.2 1604.3,1402.7 1609.9,1402.2 1615.5,1401.6 1621.1,1401.1 1626.7,1400.5 1632.3,1399.8 1637.9,1399.2 1643.5,1398.5 1649.1,1397.9 1654.7,1397.2 1660.3,1396.5 1665.9,1395.8 1671.5,1395.1 1677.1,1394.3 1682.7,1393.6 1688.3,1392.9 1693.9,1392.2 1699.5,1391.5 1705.1,1390.8 1710.7,1390.1 1716.3,1389.4 1721.9,1388.7 1727.5,1388.1 1733.1,1387.5 1738.7,1386.9 1744.3,1386.4 1749.9,1385.9 1755.5,1385.4 1761.1,1385.0 1766.7,1384.6 1772.3,1384.3 1777.9,1384.0 1783.5,1383.7 1789.1,1383.6 1794.7,1383.4 1800.3,1383.3 1805.9,1383.3 1811.5,1383.4 1817.1,1383.6 1822.7,1384.0 1828.3,1384.6 1833.9,1385.4 1839.5,1386.3 1845.1,1387.3 1850.7,1388.4 1856.3,1389.6 1861.9,1390.9 1867.5,1392.2 1873.1,1393.5 1878.7,1394.9 1884.3,1396.2 1890.0,1397.5 1895.6,1398.8 1901.2,1400.0 1906.8,1401.1 1912.4,1402.1 1918.0,1403.1 1923.6,1404.0 1929.2,1404.8 1934.8,1405.6 1940.4,1406.2 1946.0,1406.8 1951.6,1407.3" fill="none" stroke="#3d4d8a" stroke-width="4.6" stroke-linejoin="round" stroke-linecap="round"/>
<path d="M1509.0,1407.8 1514.0,1407.5 1519.1,1407.3 1524.1,1407.0 1529.1,1406.8 1534.1,1406.5 1539.1,1406.1 1544.1,1405.8 1549.1,1405.4 1554.2,1405.1 1559.2,1404.6 1564.2,1404.2 1569.2,1403.7 1574.2,1403.3 1579.2,1402.8 1584.3,1402.2 1589.3,1401.7 1594.3,1401.1 1599.3,1400.5 1604.3,1399.9 1609.3,1399.2 1614.3,1398.6 1619.4,1397.9 1624.4,1397.2 1629.4,1396.5 1634.4,1395.8 1639.4,1395.0 1644.4,1394.3 1649.5,1393.5 1654.5,1392.8 1659.5,1392.0 1664.5,1391.3 1669.5,1390.5 1674.5,1389.8 1679.5,1389.0 1684.6,1388.3 1689.6,1387.6 1694.6,1386.9 1699.6,1386.2 1704.6,1385.6 1709.6,1385.0 1714.7,1384.4 1719.7,1383.8 1724.7,1383.3 1729.7,1382.9 1734.7,1382.4 1739.7,1382.0 1744.7,1381.7 1749.8,1381.4 1754.8,1381.2 1759.8,1381.0 1764.8,1380.8 1769.8,1380.7 1774.8,1380.7 1779.8,1380.8 1784.9,1381.1 1789.9,1381.6 1794.9,1382.3 1799.9,1383.1 1804.9,1384.2 1809.9,1385.3 1815.0,1386.6 1820.0,1388.0 1825.0,1389.4 1830.0,1390.9 1835.0,1392.4 1840.0,1393.9 1845.0,1395.4 1850.1,1396.9 1855.1,1398.3 1860.1,1399.6 1865.1,1400.8 1870.1,1402.0 1875.1,1403.0 1880.2,1404.0 1885.2,1404.8 1890.2,1405.6 1895.2,1406.3 1900.2,1406.9 1905.2,1407.4" fill="none" stroke="#34618d" stroke-width="4.6" stroke-linejoin="round" stroke-linecap="round"/>
<path d="M1509.0,1406.9 1513.3,1406.6 1517.6,1406.2 1521.9,1405.8 1526.2,1405.4 1530.5,1405.0 1534.8,1404.5 1539.1,1404.0 1543.4,1403.4 1547.7,1402.8 1552.0,1402.2 1556.3,1401.6 1560.6,1400.9 1564.9,1400.2 1569.2,1399.4 1573.5,1398.6 1577.8,1397.7 1582.1,1396.9 1586.4,1396.0 1590.7,1395.0 1595.0,1394.0 1599.3,1393.0 1603.6,1392.0 1607.8,1390.9 1612.1,1389.8 1616.4,1388.7 1620.7,1387.6 1625.0,1386.5 1629.3,1385.3 1633.6,1384.2 1637.9,1383.0 1642.2,1381.9 1646.5,1380.7 1650.8,1379.6 1655.1,1378.5 1659.4,1377.4 1663.7,1376.3 1668.0,1375.3 1672.3,1374.3 1676.6,1373.3 1680.9,1372.4 1685.2,1371.6 1689.5,1370.8 1693.8,1370.0 1698.1,1369.4 1702.4,1368.8 1706.7,1368.2 1711.0,1367.8 1715.3,1367.4 1719.6,1367.1 1723.9,1366.9 1728.2,1366.8 1732.5,1366.7 1736.8,1366.8 1741.0,1367.2 1745.3,1367.8 1749.6,1368.7 1753.9,1369.8 1758.2,1371.0 1762.5,1372.5 1766.8,1374.1 1771.1,1375.9 1775.4,1377.7 1779.7,1379.6 1784.0,1381.6 1788.3,1383.6 1792.6,1385.6 1796.9,1387.6 1801.2,1389.6 1805.5,1391.5 1809.8,1393.3 1814.1,1395.0 1818.4,1396.6 1822.7,1398.2 1827.0,1399.6 1831.3,1400.9 1835.6,1402.0 1839.9,1403.1 1844.2,1404.1 1848.5,1404.9" fill="none" stroke="#2b748e" stroke-width="4.6" stroke-linejoin="round" stroke-linecap="round"/>
<path d="M1509.0,1404.9 1512.4,1404.5 1515.8,1404.1 1519.2,1403.6 1522.6,1403.1 1526.0,1402.6 1529.4,1402.0 1532.8,1401.4 1536.2,1400.8 1539.6,1400.1 1543.0,1399.4 1546.4,1398.6 1549.9,1397.8 1553.3,1396.9 1556.7,1396.0 1560.1,1395.1 1563.5,1394.1 1566.9,1393.0 1570.3,1391.9 1573.7,1390.7 1577.1,1389.5 1580.5,1388.2 1583.9,1386.9 1587.3,1385.4 1590.7,1384.0 1594.1,1382.5 1597.5,1380.9 1600.9,1379.2 1604.3,1377.5 1607.7,1375.8 1611.1,1373.9 1614.5,1372.1 1617.9,1370.1 1621.3,1368.2 1624.7,1366.2 1628.1,1364.1 1631.5,1362.0 1634.9,1359.9 1638.3,1357.7 1641.7,1355.6 1645.1,1353.4 1648.5,1351.2 1651.9,1349.1 1655.3,1346.9 1658.7,1344.8 1662.1,1342.8 1665.5,1340.8 1668.9,1338.9 1672.3,1337.1 1675.7,1335.4 1679.1,1333.9 1682.5,1332.6 1685.9,1331.6 1689.3,1331.1 1692.7,1331.2 1696.1,1331.3 1699.5,1331.8 1702.9,1332.5 1706.4,1333.5 1709.8,1334.9 1713.2,1336.7 1716.6,1338.8 1720.0,1341.4 1723.4,1344.3 1726.8,1347.6 1730.2,1351.2 1733.6,1355.1 1737.0,1359.1 1740.4,1363.3 1743.8,1367.5 1747.2,1371.8 1750.6,1376.0 1754.0,1380.0 1757.4,1383.9 1760.8,1387.5 1764.2,1390.8 1767.6,1393.9 1771.0,1396.6 1774.4,1399.0 1777.8,1401.1" fill="none" stroke="#24878e" stroke-width="4.6" stroke-linejoin="round" stroke-linecap="round"/>
<path d="M1509.0,1402.3 1510.3,1402.2 1511.7,1401.8 1513.0,1401.2 1514.3,1400.4 1515.6,1399.4 1517.0,1398.2 1518.3,1396.7 1519.6,1395.1 1520.9,1393.3 1522.3,1391.4 1523.6,1389.3 1524.9,1387.1 1526.2,1384.8 1527.6,1382.3 1528.9,1379.8 1530.2,1377.1 1531.5,1374.4 1532.9,1371.6 1534.2,1368.7 1535.5,1365.8 1536.8,1362.8 1538.1,1359.8 1539.5,1356.8 1540.8,1353.2 1542.1,1349.1 1543.4,1344.5 1544.8,1339.4 1546.1,1334.0 1547.4,1328.4 1548.7,1322.6 1550.1,1316.6 1551.4,1310.7 1552.7,1304.6 1554.0,1298.0 1555.4,1290.9 1556.7,1283.6 1558.0,1276.1 1559.3,1268.5 1560.7,1261.0 1562.0,1253.6 1563.3,1246.5 1564.6,1239.7 1565.9,1233.0 1567.3,1226.2 1568.6,1219.5 1569.9,1212.8 1571.2,1206.4 1572.6,1200.4 1573.9,1194.8 1575.2,1189.7 1576.5,1185.1 1577.9,1180.5 1579.2,1175.8 1580.5,1171.2 1581.8,1166.9 1583.2,1163.0 1584.5,1159.6 1585.8,1157.0 1587.1,1155.2 1588.5,1154.5 1589.8,1155.0 1591.1,1157.0 1592.4,1160.1 1593.7,1164.2 1595.1,1169.2 1596.4,1174.8 1597.7,1181.0 1599.0,1187.4 1600.4,1194.0 1601.7,1202.7 1603.0,1213.8 1604.3,1226.4 1605.7,1239.4 1607.0,1252.1 1608.3,1263.6 1609.6,1275.3 1611.0,1287.0 1612.3,1298.5 1613.6,1309.4 1614.9,1319.2 1616.3,1327.9 1617.6,1336.4 1618.9,1344.5 1620.2,1352.2 1621.5,1359.5 1622.9,1366.3 1624.2,1372.6 1625.5,1378.3 1626.8,1383.3" fill="none" stroke="#1f998a" stroke-width="4.6" stroke-linejoin="round" stroke-linecap="round"/>
<path d="M1509.7,1398.5 1511.0,1397.8 1512.4,1397.0 1513.7,1396.0 1515.0,1394.9 1516.3,1393.6 1517.6,1392.2 1518.9,1390.6 1520.2,1389.0 1521.6,1387.3 1522.9,1385.6 1524.2,1383.7 1525.5,1381.8 1526.8,1379.9 1528.1,1377.8 1529.5,1375.5 1530.8,1373.0 1532.1,1370.3 1533.4,1367.4 1534.7,1364.3 1536.0,1361.0 1537.4,1357.5 1538.7,1353.8 1540.0,1349.8 1541.3,1345.3 1542.6,1340.3 1543.9,1334.9 1545.3,1329.2 1546.6,1323.0 1547.9,1316.6 1549.2,1309.9 1550.5,1303.1 1551.8,1296.0 1553.1,1288.2 1554.5,1279.6 1555.8,1270.4 1557.1,1260.7 1558.4,1250.7 1559.7,1240.7 1561.0,1230.9 1562.4,1221.4 1563.7,1212.5 1565.0,1204.2 1566.3,1196.0 1567.6,1187.8 1568.9,1179.8 1570.3,1171.9 1571.6,1164.5 1572.9,1157.5 1574.2,1151.2 1575.5,1145.5 1576.8,1140.4 1578.2,1135.1 1579.5,1129.9 1580.8,1124.8 1582.1,1120.1 1583.4,1115.9 1584.7,1112.3 1586.0,1109.6 1587.4,1107.9 1588.7,1107.3 1590.0,1107.9 1591.3,1109.7 1592.6,1112.5 1593.9,1116.1 1595.3,1120.6 1596.6,1125.8 1597.9,1131.7 1599.2,1138.0 1600.5,1144.8 1601.8,1152.3 1603.2,1164.2 1604.5,1179.8 1605.8,1196.9 1607.1,1213.5 1608.4,1227.8 1609.7,1241.7 1611.1,1255.4 1612.4,1268.7 1613.7,1281.5 1615.0,1293.6 1616.3,1305.0 1617.6,1316.1 1618.9,1326.9 1620.3,1337.4 1621.6,1347.4 1622.9,1357.1 1624.2,1366.3 1625.5,1375.1 1626.8,1383.3" fill="none" stroke="#25ac82" stroke-width="4.6" stroke-linejoin="round" stroke-linecap="round"/>
<path d="M1510.2,1410.0 1511.5,1410.0 1512.9,1410.0 1514.2,1410.0 1515.5,1410.0 1516.9,1410.0 1518.2,1410.0 1519.6,1410.0 1520.9,1410.0 1522.2,1410.0 1523.6,1410.0 1524.9,1410.0 1526.3,1410.0 1527.6,1410.0 1529.0,1410.0 1530.3,1410.0 1531.6,1410.0 1533.0,1410.0 1534.3,1410.0 1535.7,1410.0 1537.0,1410.0 1538.3,1410.0 1539.7,1410.0 1541.0,1410.0 1542.4,1410.0 1543.7,1410.0 1545.0,1410.0 1546.4,1410.0 1547.7,1410.0 1549.1,1410.0 1550.4,1410.0 1551.7,1410.0 1553.1,1410.0 1554.4,1410.0 1555.8,1410.0 1557.1,1410.0 1558.4,1410.0 1559.8,1410.0 1561.1,1410.0 1562.5,1410.0 1563.8,1410.0 1565.2,1410.0 1566.5,1410.0 1567.8,1410.0 1569.2,1410.0 1570.5,1410.0 1571.9,1410.0 1573.2,1410.0 1574.5,1410.0 1575.9,1410.0 1577.2,1410.0 1578.6,1410.0 1579.9,1410.0 1581.2,1410.0 1582.6,1410.0 1583.9,1410.0 1585.3,1410.0 1586.6,1410.0 1587.9,1410.0 1589.3,1410.0 1590.6,1410.0 1592.0,1410.0 1593.3,1410.0 1594.6,1410.0 1596.0,1410.0 1597.3,1410.0 1598.7,1410.0 1600.0,1410.0 1601.4,1410.0 1602.7,1410.0 1604.0,1410.0 1605.4,1410.0 1606.7,1410.0 1608.1,1410.0 1609.4,1410.0 1610.7,1410.0 1612.1,1410.0 1613.4,1410.0 1614.8,1410.0 1616.1,1410.0 1617.4,1410.0 1618.8,1410.0 1620.1,1410.0 1621.5,1410.0 1622.8,1410.0 1624.1,1410.0 1625.5,1410.0 1626.8,1410.0 1628.2,1410.0 1629.5,1410.0" fill="none" stroke="#40bd72" stroke-width="4.6" stroke-linejoin="round" stroke-linecap="round"/>
<path d="M1510.2,1410.0 1511.5,1410.0 1512.9,1410.0 1514.2,1410.0 1515.5,1410.0 1516.9,1410.0 1518.2,1410.0 1519.6,1410.0 1520.9,1410.0 1522.2,1410.0 1523.6,1410.0 1524.9,1410.0 1526.3,1410.0 1527.6,1410.0 1529.0,1410.0 1530.3,1410.0 1531.6,1410.0 1533.0,1410.0 1534.3,1410.0 1535.7,1410.0 1537.0,1410.0 1538.3,1410.0 1539.7,1410.0 1541.0,1410.0 1542.4,1410.0 1543.7,1410.0 1545.0,1410.0 1546.4,1410.0 1547.7,1410.0 1549.1,1410.0 1550.4,1410.0 1551.7,1410.0 1553.1,1410.0 1554.4,1410.0 1555.8,1410.0 1557.1,1410.0 1558.4,1410.0 1559.8,1410.0 1561.1,1410.0 1562.5,1410.0 1563.8,1410.0 1565.2,1410.0 1566.5,1410.0 1567.8,1410.0 1569.2,1410.0 1570.5,1410.0 1571.9,1410.0 1573.2,1410.0 1574.5,1410.0 1575.9,1410.0 1577.2,1410.0 1578.6,1410.0 1579.9,1410.0 1581.2,1410.0 1582.6,1410.0 1583.9,1410.0 1585.3,1410.0 1586.6,1410.0 1587.9,1410.0 1589.3,1410.0 1590.6,1410.0 1592.0,1410.0 1593.3,1410.0 1594.6,1410.0 1596.0,1410.0 1597.3,1410.0 1598.7,1410.0 1600.0,1410.0 1601.4,1410.0 1602.7,1410.0 1604.0,1410.0 1605.4,1410.0 1606.7,1410.0 1608.1,1410.0 1609.4,1410.0 1610.7,1410.0 1612.1,1410.0 1613.4,1410.0 1614.8,1410.0 1616.1,1410.0 1617.4,1410.0 1618.8,1410.0 1620.1,1410.0 1621.5,1410.0 1622.8,1410.0 1624.1,1410.0 1625.5,1410.0 1626.8,1410.0 1628.2,1410.0 1629.5,1410.0" fill="none" stroke="#67cc5c" stroke-width="4.6" stroke-linejoin="round" stroke-linecap="round"/>
<path d="M1510.2,1410.0 1511.5,1410.0 1512.9,1410.0 1514.2,1410.0 1515.5,1410.0 1516.9,1410.0 1518.2,1410.0 1519.6,1410.0 1520.9,1410.0 1522.2,1410.0 1523.6,1410.0 1524.9,1410.0 1526.3,1410.0 1527.6,1410.0 1529.0,1410.0 1530.3,1410.0 1531.6,1410.0 1533.0,1410.0 1534.3,1410.0 1535.7,1410.0 1537.0,1410.0 1538.3,1410.0 1539.7,1410.0 1541.0,1410.0 1542.4,1410.0 1543.7,1410.0 1545.0,1410.0 1546.4,1410.0 1547.7,1410.0 1549.1,1410.0 1550.4,1410.0 1551.7,1410.0 1553.1,1410.0 1554.4,1410.0 1555.8,1410.0 1557.1,1410.0 1558.4,1410.0 1559.8,1410.0 1561.1,1410.0 1562.5,1410.0 1563.8,1410.0 1565.2,1410.0 1566.5,1410.0 1567.8,1410.0 1569.2,1410.0 1570.5,1410.0 1571.9,1410.0 1573.2,1410.0 1574.5,1410.0 1575.9,1410.0 1577.2,1410.0 1578.6,1410.0 1579.9,1410.0 1581.2,1410.0 1582.6,1410.0 1583.9,1410.0 1585.3,1410.0 1586.6,1410.0 1587.9,1410.0 1589.3,1410.0 1590.6,1410.0 1592.0,1410.0 1593.3,1410.0 1594.6,1410.0 1596.0,1410.0 1597.3,1410.0 1598.7,1410.0 1600.0,1410.0 1601.4,1410.0 1602.7,1410.0 1604.0,1410.0 1605.4,1410.0 1606.7,1410.0 1608.1,1410.0 1609.4,1410.0 1610.7,1410.0 1612.1,1410.0 1613.4,1410.0 1614.8,1410.0 1616.1,1410.0 1617.4,1410.0 1618.8,1410.0 1620.1,1410.0 1621.5,1410.0 1622.8,1410.0 1624.1,1410.0 1625.5,1410.0 1626.8,1410.0 1628.2,1410.0 1629.5,1410.0" fill="none" stroke="#98d83e" stroke-width="4.6" stroke-linejoin="round" stroke-linecap="round"/>
<path d="M1510.2,1410.0 1511.5,1410.0 1512.9,1410.0 1514.2,1410.0 1515.5,1410.0 1516.9,1410.0 1518.2,1410.0 1519.6,1410.0 1520.9,1410.0 1522.2,1410.0 1523.6,1410.0 1524.9,1410.0 1526.3,1410.0 1527.6,1410.0 1529.0,1410.0 1530.3,1410.0 1531.6,1410.0 1533.0,1410.0 1534.3,1410.0 1535.7,1410.0 1537.0,1410.0 1538.3,1410.0 1539.7,1410.0 1541.0,1410.0 1542.4,1410.0 1543.7,1410.0 1545.0,1410.0 1546.4,1410.0 1547.7,1410.0 1549.1,1410.0 1550.4,1410.0 1551.7,1410.0 1553.1,1410.0 1554.4,1410.0 1555.8,1410.0 1557.1,1410.0 1558.4,1410.0 1559.8,1410.0 1561.1,1410.0 1562.5,1410.0 1563.8,1410.0 1565.2,1410.0 1566.5,1410.0 1567.8,1410.0 1569.2,1410.0 1570.5,1410.0 1571.9,1410.0 1573.2,1410.0 1574.5,1410.0 1575.9,1410.0 1577.2,1410.0 1578.6,1410.0 1579.9,1410.0 1581.2,1410.0 1582.6,1410.0 1583.9,1410.0 1585.3,1410.0 1586.6,1410.0 1587.9,1410.0 1589.3,1410.0 1590.6,1410.0 1592.0,1410.0 1593.3,1410.0 1594.6,1410.0 1596.0,1410.0 1597.3,1410.0 1598.7,1410.0 1600.0,1410.0 1601.4,1410.0 1602.7,1410.0 1604.0,1410.0 1605.4,1410.0 1606.7,1410.0 1608.1,1410.0 1609.4,1410.0 1610.7,1410.0 1612.1,1410.0 1613.4,1410.0 1614.8,1410.0 1616.1,1410.0 1617.4,1410.0 1618.8,1410.0 1620.1,1410.0 1621.5,1410.0 1622.8,1410.0 1624.1,1410.0 1625.5,1410.0 1626.8,1410.0 1628.2,1410.0 1629.5,1410.0" fill="none" stroke="#cde11d" stroke-width="4.6" stroke-linejoin="round" stroke-linecap="round"/>
</g>
<path d="M1488.1,1094.0 H1999.0 M1488.1,1425.2 H1999.0" fill="none" stroke="#c8c8c8" stroke-width="1.8"/>
<path d="M1488.1,1093.1 V1426.1000000000001 M1999.0,1093.1 V1426.1000000000001" fill="none" stroke="#c8c8c8" stroke-width="1.3"/>
<text transform="translate(1512.50,1457.00) scale(1,1.06)" font-family="'Liberation Serif', 'Times New Roman', serif" font-size="36.3" text-anchor="middle" fill="#262626">0</text>
<text transform="translate(1570.42,1457.00) scale(1,1.06)" font-family="'Liberation Serif', 'Times New Roman', serif" font-size="36.3" text-anchor="middle" fill="#262626">5</text>
<text transform="translate(1628.35,1457.00) scale(1,1.06)" font-family="'Liberation Serif', 'Times New Roman', serif" font-size="36.3" text-anchor="middle" fill="#262626">10</text>
<text transform="translate(1686.28,1457.00) scale(1,1.06)" font-family="'Liberation Serif', 'Times New Roman', serif" font-size="36.3" text-anchor="middle" fill="#262626">15</text>
<text transform="translate(1744.20,1457.00) scale(1,1.06)" font-family="'Liberation Serif', 'Times New Roman', serif" font-size="36.3" text-anchor="middle" fill="#262626">20</text>
<text transform="translate(1802.12,1457.00) scale(1,1.06)" font-family="'Liberation Serif', 'Times New Roman', serif" font-size="36.3" text-anchor="middle" fill="#262626">25</text>
<text transform="translate(1860.05,1457.00) scale(1,1.06)" font-family="'Liberation Serif', 'Times New Roman', serif" font-size="36.3" text-anchor="middle" fill="#262626">30</text>
<text transform="translate(1917.98,1457.00) scale(1,1.06)" font-family="'Liberation Serif', 'Times New Roman', serif" font-size="36.3" text-anchor="middle" fill="#262626">35</text>
<text transform="translate(1975.90,1457.00) scale(1,1.06)" font-family="'Liberation Serif', 'Times New Roman', serif" font-size="36.3" text-anchor="middle" fill="#262626">40</text>
<text transform="translate(1480.50,1422.69) scale(1,1.06)" font-family="'Liberation Serif', 'Times New Roman', serif" font-size="36.3" text-anchor="end" fill="#262626">0.00</text>
<text transform="translate(1480.50,1378.18) scale(1,1.06)" font-family="'Liberation Serif', 'Times New Roman', serif" font-size="36.3" text-anchor="end" fill="#262626">0.05</text>
<text transform="translate(1480.50,1333.66) scale(1,1.06)" font-family="'Liberation Serif', 'Times New Roman', serif" font-size="36.3" text-anchor="end" fill="#262626">0.10</text>
<text transform="translate(1480.50,1289.14) scale(1,1.06)" font-family="'Liberation Serif', 'Times New Roman', serif" font-size="36.3" text-anchor="end" fill="#262626">0.15</text>
<text transform="translate(1480.50,1244.63) scale(1,1.06)" font-family="'Liberation Serif', 'Times New Roman', serif" font-size="36.3" text-anchor="end" fill="#262626">0.20</text>
<text transform="translate(1480.50,1200.11) scale(1,1.06)" font-family="'Liberation Serif', 'Times New Roman', serif" font-size="36.3" text-anchor="end" fill="#262626">0.25</text>
<text transform="translate(1480.50,1155.59) scale(1,1.06)" font-family="'Liberation Serif', 'Times New Roman', serif" font-size="36.3" text-anchor="end" fill="#262626">0.30</text>
<text transform="translate(1480.50,1111.08) scale(1,1.06)" font-family="'Liberation Serif', 'Times New Roman', serif" font-size="36.3" text-anchor="end" fill="#262626">0.35</text>
<text x="1744.45" y="1503.50" font-family="'Liberation Serif', 'Times New Roman', serif" font-size="42.5" text-anchor="middle" fill="#262626">Diameter / μm</text>
<text transform="translate(1400.30,1263.30) rotate(-90)" x="0" y="0" font-family="'Liberation Serif', 'Times New Roman', serif" font-size="42.5" text-anchor="middle" fill="#262626">PDF</text>
</g>
<rect x="90.2" y="167.1" width="499.5" height="265.40000000000003" rx="3" fill="#999999"/>
<rect x="88.0" y="164.9" width="497.9" height="263.8" rx="3" fill="#fff" stroke="#cccccc" stroke-width="1.6"/>
<line x1="92.3" y1="183.40" x2="163.8" y2="183.40" stroke="#440154" stroke-width="4.6"/>
<text x="188.0" y="195.60" font-family="'Liberation Serif', 'Times New Roman', serif" font-size="32.9" fill="#262626">Δt = 0.5s</text>
<line x1="92.3" y1="220.07" x2="163.8" y2="220.07" stroke="#481c6e" stroke-width="4.6"/>
<text x="188.0" y="232.27" font-family="'Liberation Serif', 'Times New Roman', serif" font-size="32.9" fill="#262626">Δt = 5s</text>
<line x1="92.3" y1="256.74" x2="163.8" y2="256.74" stroke="#453581" stroke-width="4.6"/>
<text x="188.0" y="268.94" font-family="'Liberation Serif', 'Times New Roman', serif" font-size="32.9" fill="#262626">Δt = 10s</text>
<line x1="92.3" y1="293.41" x2="163.8" y2="293.41" stroke="#3d4d8a" stroke-width="4.6"/>
<text x="188.0" y="305.61" font-family="'Liberation Serif', 'Times New Roman', serif" font-size="32.9" fill="#262626">Δt = 15s</text>
<line x1="92.3" y1="330.08" x2="163.8" y2="330.08" stroke="#34618d" stroke-width="4.6"/>
<text x="188.0" y="342.28" font-family="'Liberation Serif', 'Times New Roman', serif" font-size="32.9" fill="#262626">Δt = 20s</text>
<line x1="92.3" y1="366.75" x2="163.8" y2="366.75" stroke="#2b748e" stroke-width="4.6"/>
<text x="188.0" y="378.95" font-family="'Liberation Serif', 'Times New Roman', serif" font-size="32.9" fill="#262626">Δt = 25s</text>
<line x1="92.3" y1="403.42" x2="163.8" y2="403.42" stroke="#24878e" stroke-width="4.6"/>
<text x="188.0" y="415.62" font-family="'Liberation Serif', 'Times New Roman', serif" font-size="32.9" fill="#262626">Δt = 30s</text>
<line x1="373.1" y1="183.40" x2="443.4" y2="183.40" stroke="#1f998a" stroke-width="4.6"/>
<text x="468.2" y="195.60" font-family="'Liberation Serif', 'Times New Roman', serif" font-size="32.9" fill="#262626">Δt = 35s</text>
<line x1="373.1" y1="220.07" x2="443.4" y2="220.07" stroke="#25ac82" stroke-width="4.6"/>
<text x="468.2" y="232.27" font-family="'Liberation Serif', 'Times New Roman', serif" font-size="32.9" fill="#262626">Δt = 40s</text>
<line x1="373.1" y1="256.74" x2="443.4" y2="256.74" stroke="#40bd72" stroke-width="4.6"/>
<text x="468.2" y="268.94" font-family="'Liberation Serif', 'Times New Roman', serif" font-size="32.9" fill="#262626">Δt = 45s</text>
<line x1="373.1" y1="293.41" x2="443.4" y2="293.41" stroke="#67cc5c" stroke-width="4.6"/>
<text x="468.2" y="305.61" font-family="'Liberation Serif', 'Times New Roman', serif" font-size="32.9" fill="#262626">Δt = 50s</text>
<line x1="373.1" y1="330.08" x2="443.4" y2="330.08" stroke="#98d83e" stroke-width="4.6"/>
<text x="468.2" y="342.28" font-family="'Liberation Serif', 'Times New Roman', serif" font-size="32.9" fill="#262626">Δt = 55s</text>
<line x1="373.1" y1="366.75" x2="443.4" y2="366.75" stroke="#cde11d" stroke-width="4.6"/>
<text x="468.2" y="378.95" font-family="'Liberation Serif', 'Times New Roman', serif" font-size="32.9" fill="#262626">Δt = 60s</text>
<text x="340.50" y="495.00" font-family="'Liberation Sans', Arial, sans-serif" font-size="36" text-anchor="middle" fill="#000"><tspan font-weight="bold">(a)</tspan> Legend</text>
<text x="1009.60" y="495.00" font-family="'Liberation Sans', Arial, sans-serif" font-size="36" text-anchor="middle" fill="#000"><tspan font-weight="bold">(b)</tspan> Case 1</text>
<text x="1680.00" y="495.00" font-family="'Liberation Sans', Arial, sans-serif" font-size="36" text-anchor="middle" fill="#000"><tspan font-weight="bold">(c)</tspan> Case 2</text>
<text x="332.50" y="1033.10" font-family="'Liberation Sans', Arial, sans-serif" font-size="36" text-anchor="middle" fill="#000"><tspan font-weight="bold">(d)</tspan> Case 3</text>
<text x="1005.70" y="1033.10" font-family="'Liberation Sans', Arial, sans-serif" font-size="36" text-anchor="middle" fill="#000"><tspan font-weight="bold">(e)</tspan> Case 4</text>
<text x="1680.00" y="1033.10" font-family="'Liberation Sans', Arial, sans-serif" font-size="36" text-anchor="middle" fill="#000"><tspan font-weight="bold">(f)</tspan> Case 5</text>
<text x="344.00" y="1577.00" font-family="'Liberation Sans', Arial, sans-serif" font-size="36" text-anchor="middle" fill="#000"><tspan font-weight="bold">(g)</tspan> Case 6</text>
<text x="1017.70" y="1577.00" font-family="'Liberation Sans', Arial, sans-serif" font-size="36" text-anchor="middle" fill="#000"><tspan font-weight="bold">(h)</tspan> Case 7</text>
<text x="1691.50" y="1577.00" font-family="'Liberation Sans', Arial, sans-serif" font-size="36" text-anchor="middle" fill="#000"><tspan font-weight="bold">(i)</tspan> Case 8</text>
</svg></body></html>
